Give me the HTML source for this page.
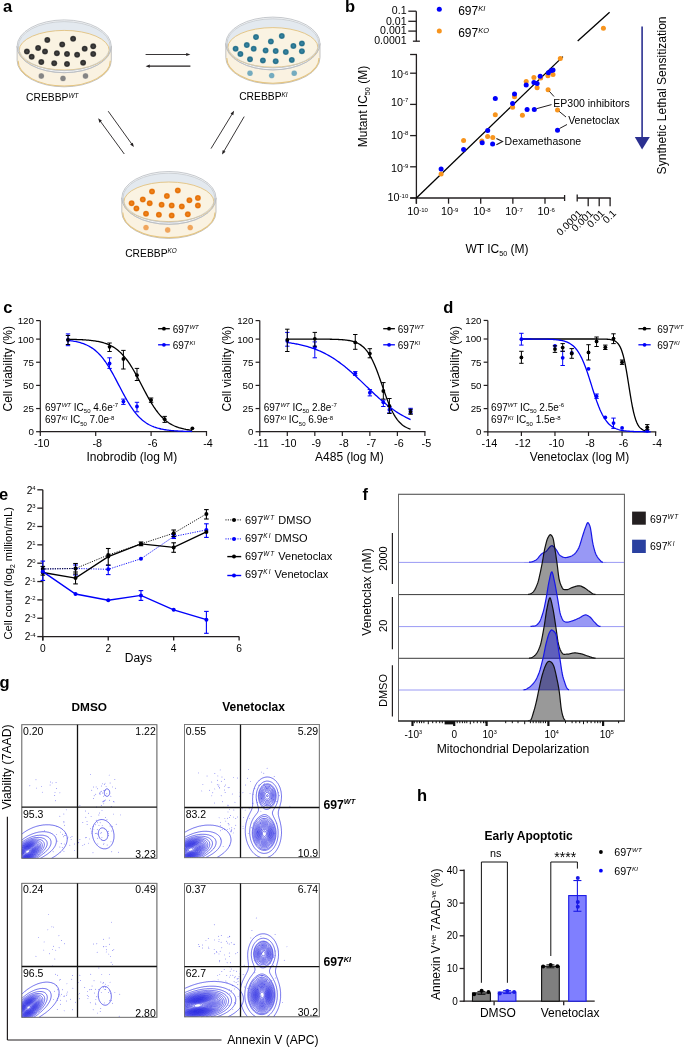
<!DOCTYPE html>
<html><head><meta charset="utf-8"><style>
html,body{margin:0;padding:0;background:#fff;}
svg{display:block;font-family:"Liberation Sans", sans-serif;will-change:transform;}
</style></head><body>
<svg width="685" height="1047" viewBox="0 0 685 1047">
<rect width="685" height="1047" fill="#fff"/>
<text x="2.9" y="11.8" font-size="16.5" font-weight="bold" fill="#000">a</text>
<g transform="translate(16.7,19.8)">
<defs><radialGradient id="gwt" cx="0.5" cy="0.5" r="0.5"><stop offset="0" stop-color="#4a4a4a"/><stop offset="0.7" stop-color="#2b2b2b"/><stop offset="1" stop-color="#2b2b2b" stop-opacity="0.75"/></radialGradient><radialGradient id="gwts" cx="0.5" cy="0.5" r="0.5"><stop offset="0" stop-color="#858585"/><stop offset="0.75" stop-color="#858585"/><stop offset="1" stop-color="#858585" stop-opacity="0.6"/></radialGradient></defs>
<path d="M0.4,26.5 L0.4,40.6 A47.1,26.4 0 0 0 94.6,40.6 L94.6,26.5 Z" fill="#faf2e1" stroke="#b4b4b4" stroke-width="0.8"/>
<path d="M1.4,41.0 A46.1,25.2 0 0 0 93.6,41.0" fill="none" stroke="#e5c581" stroke-width="1.1"/>
<circle cx="24.6" cy="56.2" r="2.9" fill="url(#gwts)"/>
<circle cx="46.3" cy="58.6" r="2.9" fill="url(#gwts)"/>
<circle cx="68.8" cy="56.2" r="2.9" fill="url(#gwts)"/>
<ellipse cx="47.5" cy="26.5" rx="47.1" ry="26.4" fill="#f3f5f7" stroke="#b9bdc2" stroke-width="0.8"/>
<ellipse cx="47.5" cy="26.3" rx="45.9" ry="24.5" fill="#e3e9ef" stroke="#c0c4c9" stroke-width="0.7"/>
<ellipse cx="47.5" cy="30.4" rx="45.0" ry="19.8" fill="#faf3e2" stroke="#e2c27f" stroke-width="0.9"/>
<circle cx="30.6" cy="20.1" r="3" fill="url(#gwt)"/>
<circle cx="56.4" cy="19" r="3" fill="url(#gwt)"/>
<circle cx="45.5" cy="24.6" r="3" fill="url(#gwt)"/>
<circle cx="21.4" cy="28.1" r="3" fill="url(#gwt)"/>
<circle cx="68" cy="28.9" r="3" fill="url(#gwt)"/>
<circle cx="76.5" cy="26.5" r="3" fill="url(#gwt)"/>
<circle cx="10.2" cy="31.8" r="3" fill="url(#gwt)"/>
<circle cx="28.3" cy="31.8" r="3" fill="url(#gwt)"/>
<circle cx="40.2" cy="33.4" r="3" fill="url(#gwt)"/>
<circle cx="50.3" cy="34.1" r="3" fill="url(#gwt)"/>
<circle cx="60.4" cy="35" r="3" fill="url(#gwt)"/>
<circle cx="76.5" cy="34.2" r="3" fill="url(#gwt)"/>
<circle cx="15" cy="37" r="3" fill="url(#gwt)"/>
<circle cx="24.6" cy="42.3" r="3" fill="url(#gwt)"/>
<circle cx="37.5" cy="43.4" r="3" fill="url(#gwt)"/>
<circle cx="50.3" cy="44.2" r="3" fill="url(#gwt)"/>
<circle cx="66.4" cy="42.9" r="3" fill="url(#gwt)"/>
<path d="M0.4,26.5 A47.1,26.4 0 0 0 94.6,26.5" fill="none" stroke="#b9bdc2" stroke-width="0.8"/>
<path d="M1.6,26.3 A45.9,24.5 0 0 0 93.4,26.3" fill="none" stroke="#c3c7cc" stroke-width="0.7"/>
</g>
<g transform="translate(225.4,17)">
<defs><radialGradient id="gki" cx="0.5" cy="0.5" r="0.5"><stop offset="0" stop-color="#3f8aa6"/><stop offset="0.7" stop-color="#226f8b"/><stop offset="1" stop-color="#226f8b" stop-opacity="0.75"/></radialGradient><radialGradient id="gkis" cx="0.5" cy="0.5" r="0.5"><stop offset="0" stop-color="#74abbf"/><stop offset="0.75" stop-color="#74abbf"/><stop offset="1" stop-color="#74abbf" stop-opacity="0.6"/></radialGradient></defs>
<path d="M0.4,26.5 L0.4,40.6 A47.1,26.4 0 0 0 94.6,40.6 L94.6,26.5 Z" fill="#faf2e1" stroke="#b4b4b4" stroke-width="0.8"/>
<path d="M1.4,41.0 A46.1,25.2 0 0 0 93.6,41.0" fill="none" stroke="#e5c581" stroke-width="1.1"/>
<circle cx="24.6" cy="56.2" r="2.9" fill="url(#gkis)"/>
<circle cx="46.3" cy="58.6" r="2.9" fill="url(#gkis)"/>
<circle cx="68.8" cy="56.2" r="2.9" fill="url(#gkis)"/>
<ellipse cx="47.5" cy="26.5" rx="47.1" ry="26.4" fill="#f3f5f7" stroke="#b9bdc2" stroke-width="0.8"/>
<ellipse cx="47.5" cy="26.3" rx="45.9" ry="24.5" fill="#e3e9ef" stroke="#c0c4c9" stroke-width="0.7"/>
<ellipse cx="47.5" cy="30.4" rx="45.0" ry="19.8" fill="#faf3e2" stroke="#e2c27f" stroke-width="0.9"/>
<circle cx="30.6" cy="20.1" r="3" fill="url(#gki)"/>
<circle cx="56.4" cy="19" r="3" fill="url(#gki)"/>
<circle cx="45.5" cy="24.6" r="3" fill="url(#gki)"/>
<circle cx="21.4" cy="28.1" r="3" fill="url(#gki)"/>
<circle cx="68" cy="28.9" r="3" fill="url(#gki)"/>
<circle cx="76.5" cy="26.5" r="3" fill="url(#gki)"/>
<circle cx="10.2" cy="31.8" r="3" fill="url(#gki)"/>
<circle cx="28.3" cy="31.8" r="3" fill="url(#gki)"/>
<circle cx="40.2" cy="33.4" r="3" fill="url(#gki)"/>
<circle cx="50.3" cy="34.1" r="3" fill="url(#gki)"/>
<circle cx="60.4" cy="35" r="3" fill="url(#gki)"/>
<circle cx="76.5" cy="34.2" r="3" fill="url(#gki)"/>
<circle cx="15" cy="37" r="3" fill="url(#gki)"/>
<circle cx="24.6" cy="42.3" r="3" fill="url(#gki)"/>
<circle cx="37.5" cy="43.4" r="3" fill="url(#gki)"/>
<circle cx="50.3" cy="44.2" r="3" fill="url(#gki)"/>
<circle cx="66.4" cy="42.9" r="3" fill="url(#gki)"/>
<path d="M0.4,26.5 A47.1,26.4 0 0 0 94.6,26.5" fill="none" stroke="#b9bdc2" stroke-width="0.8"/>
<path d="M1.6,26.3 A45.9,24.5 0 0 0 93.4,26.3" fill="none" stroke="#c3c7cc" stroke-width="0.7"/>
</g>
<g transform="translate(121.4,171.4)">
<defs><radialGradient id="gko" cx="0.5" cy="0.5" r="0.5"><stop offset="0" stop-color="#f08a25"/><stop offset="0.7" stop-color="#e56f05"/><stop offset="1" stop-color="#e56f05" stop-opacity="0.75"/></radialGradient><radialGradient id="gkos" cx="0.5" cy="0.5" r="0.5"><stop offset="0" stop-color="#f0a55c"/><stop offset="0.75" stop-color="#f0a55c"/><stop offset="1" stop-color="#f0a55c" stop-opacity="0.6"/></radialGradient></defs>
<path d="M0.4,26.5 L0.4,40.6 A47.1,26.4 0 0 0 94.6,40.6 L94.6,26.5 Z" fill="#faf2e1" stroke="#b4b4b4" stroke-width="0.8"/>
<path d="M1.4,41.0 A46.1,25.2 0 0 0 93.6,41.0" fill="none" stroke="#e5c581" stroke-width="1.1"/>
<circle cx="24.6" cy="56.2" r="2.9" fill="url(#gkos)"/>
<circle cx="46.3" cy="58.6" r="2.9" fill="url(#gkos)"/>
<circle cx="68.8" cy="56.2" r="2.9" fill="url(#gkos)"/>
<ellipse cx="47.5" cy="26.5" rx="47.1" ry="26.4" fill="#f3f5f7" stroke="#b9bdc2" stroke-width="0.8"/>
<ellipse cx="47.5" cy="26.3" rx="45.9" ry="24.5" fill="#e3e9ef" stroke="#c0c4c9" stroke-width="0.7"/>
<ellipse cx="47.5" cy="30.4" rx="45.0" ry="19.8" fill="#faf3e2" stroke="#e2c27f" stroke-width="0.9"/>
<circle cx="30.6" cy="20.1" r="3" fill="url(#gko)"/>
<circle cx="56.4" cy="19" r="3" fill="url(#gko)"/>
<circle cx="45.5" cy="24.6" r="3" fill="url(#gko)"/>
<circle cx="21.4" cy="28.1" r="3" fill="url(#gko)"/>
<circle cx="68" cy="28.9" r="3" fill="url(#gko)"/>
<circle cx="76.5" cy="26.5" r="3" fill="url(#gko)"/>
<circle cx="10.2" cy="31.8" r="3" fill="url(#gko)"/>
<circle cx="28.3" cy="31.8" r="3" fill="url(#gko)"/>
<circle cx="40.2" cy="33.4" r="3" fill="url(#gko)"/>
<circle cx="50.3" cy="34.1" r="3" fill="url(#gko)"/>
<circle cx="60.4" cy="35" r="3" fill="url(#gko)"/>
<circle cx="76.5" cy="34.2" r="3" fill="url(#gko)"/>
<circle cx="15" cy="37" r="3" fill="url(#gko)"/>
<circle cx="24.6" cy="42.3" r="3" fill="url(#gko)"/>
<circle cx="37.5" cy="43.4" r="3" fill="url(#gko)"/>
<circle cx="50.3" cy="44.2" r="3" fill="url(#gko)"/>
<circle cx="66.4" cy="42.9" r="3" fill="url(#gko)"/>
<path d="M0.4,26.5 A47.1,26.4 0 0 0 94.6,26.5" fill="none" stroke="#b9bdc2" stroke-width="0.8"/>
<path d="M1.6,26.3 A45.9,24.5 0 0 0 93.4,26.3" fill="none" stroke="#c3c7cc" stroke-width="0.7"/>
</g>
<text x="26.1" y="101.3" font-size="10.3"><tspan>CREBBP</tspan><tspan dy="-3.3" font-size="6.39" font-style="italic">WT</tspan></text>
<text x="239.2" y="99.8" font-size="10.3"><tspan>CREBBP</tspan><tspan dy="-3.3" font-size="6.39" font-style="italic">KI</tspan></text>
<text x="125.2" y="256.8" font-size="10.3"><tspan>CREBBP</tspan><tspan dy="-3.3" font-size="6.39" font-style="italic">KO</tspan></text>
<line x1="145.6" y1="54.5" x2="186.7" y2="54.5" stroke="#231f20" stroke-width="0.9"/>
<path d="M190.4,54.5 L186.2,56.1 L186.2,52.9 Z" fill="#231f20" stroke="none" stroke-width="1"/>
<line x1="190.4" y1="66.2" x2="149.3" y2="66.2" stroke="#231f20" stroke-width="1.2"/>
<path d="M145.6,66.2 L149.8,64.6 L149.8,67.8 Z" fill="#231f20" stroke="none" stroke-width="1"/>
<line x1="108.2" y1="111.2" x2="131.74" y2="143.99" stroke="#231f20" stroke-width="0.9"/>
<path d="M133.9,147 L130.15,144.52 L132.75,142.66 Z" fill="#231f20" stroke="none" stroke-width="1"/>
<line x1="124.3" y1="154" x2="100.38" y2="121.29" stroke="#231f20" stroke-width="0.9"/>
<path d="M98.2,118.3 L101.97,120.75 L99.39,122.63 Z" fill="#231f20" stroke="none" stroke-width="1"/>
<line x1="211" y1="148.6" x2="232.17" y2="113.96" stroke="#231f20" stroke-width="0.9"/>
<path d="M234.1,110.8 L233.28,115.22 L230.54,113.55 Z" fill="#231f20" stroke="none" stroke-width="1"/>
<line x1="244.2" y1="116.6" x2="223.87" y2="151.31" stroke="#231f20" stroke-width="0.9"/>
<path d="M222,154.5 L222.74,150.07 L225.5,151.68 Z" fill="#231f20" stroke="none" stroke-width="1"/>
<text x="345" y="11.8" font-size="16.5" font-weight="bold" fill="#000">b</text>
<line x1="416.4" y1="54.5" x2="416.4" y2="203.7" stroke="#231f20" stroke-width="1.3"/>
<line x1="410.2" y1="198" x2="564.6" y2="198" stroke="#231f20" stroke-width="1.3"/>
<line x1="410.1" y1="54.5" x2="417" y2="54.5" stroke="#231f20" stroke-width="1.3"/>
<line x1="410.1" y1="198" x2="416.4" y2="198" stroke="#231f20" stroke-width="1.3"/>
<text x="0" y="0" transform="translate(408.3 201) scale(1.03 1)" font-size="10.5" text-anchor="end"><tspan>10</tspan><tspan dy="-3.4" font-size="5.88">-10</tspan></text>
<line x1="416.4" y1="198" x2="416.4" y2="203.7" stroke="#231f20" stroke-width="1.3"/>
<text x="0" y="0" transform="translate(417.6 215.1) scale(1.03 1)" font-size="10.5" text-anchor="middle"><tspan>10</tspan><tspan dy="-3.4" font-size="5.88">-10</tspan></text>
<line x1="410.1" y1="166.8" x2="416.4" y2="166.8" stroke="#231f20" stroke-width="1.3"/>
<text x="0" y="0" transform="translate(408.3 171.6) scale(1.03 1)" font-size="10.5" text-anchor="end"><tspan>10</tspan><tspan dy="-3.4" font-size="5.88">-9</tspan></text>
<line x1="448.55" y1="198" x2="448.55" y2="203.7" stroke="#231f20" stroke-width="1.3"/>
<text x="0" y="0" transform="translate(449.75 215.1) scale(1.03 1)" font-size="10.5" text-anchor="middle"><tspan>10</tspan><tspan dy="-3.4" font-size="5.88">-9</tspan></text>
<line x1="410.1" y1="135.6" x2="416.4" y2="135.6" stroke="#231f20" stroke-width="1.3"/>
<text x="0" y="0" transform="translate(408.3 138.5) scale(1.03 1)" font-size="10.5" text-anchor="end"><tspan>10</tspan><tspan dy="-3.4" font-size="5.88">-8</tspan></text>
<line x1="480.7" y1="198" x2="480.7" y2="203.7" stroke="#231f20" stroke-width="1.3"/>
<text x="0" y="0" transform="translate(481.9 215.1) scale(1.03 1)" font-size="10.5" text-anchor="middle"><tspan>10</tspan><tspan dy="-3.4" font-size="5.88">-8</tspan></text>
<line x1="410.1" y1="104.4" x2="416.4" y2="104.4" stroke="#231f20" stroke-width="1.3"/>
<text x="0" y="0" transform="translate(408.3 105.6) scale(1.03 1)" font-size="10.5" text-anchor="end"><tspan>10</tspan><tspan dy="-3.4" font-size="5.88">-7</tspan></text>
<line x1="512.85" y1="198" x2="512.85" y2="203.7" stroke="#231f20" stroke-width="1.3"/>
<text x="0" y="0" transform="translate(514.05 215.1) scale(1.03 1)" font-size="10.5" text-anchor="middle"><tspan>10</tspan><tspan dy="-3.4" font-size="5.88">-7</tspan></text>
<line x1="410.1" y1="73.2" x2="416.4" y2="73.2" stroke="#231f20" stroke-width="1.3"/>
<text x="0" y="0" transform="translate(408.3 77.9) scale(1.03 1)" font-size="10.5" text-anchor="end"><tspan>10</tspan><tspan dy="-3.4" font-size="5.88">-6</tspan></text>
<line x1="545" y1="198" x2="545" y2="203.7" stroke="#231f20" stroke-width="1.3"/>
<text x="0" y="0" transform="translate(546.2 215.1) scale(1.03 1)" font-size="10.5" text-anchor="middle"><tspan>10</tspan><tspan dy="-3.4" font-size="5.88">-6</tspan></text>
<line x1="564.6" y1="195" x2="564.6" y2="201" stroke="#231f20" stroke-width="1.3"/>
<line x1="416.3" y1="11.2" x2="416.3" y2="41.2" stroke="#231f20" stroke-width="1.3"/>
<line x1="408.3" y1="11.2" x2="416.3" y2="11.2" stroke="#231f20" stroke-width="1.3"/>
<line x1="408.3" y1="21.3" x2="416.3" y2="21.3" stroke="#231f20" stroke-width="1.3"/>
<line x1="408.3" y1="31.1" x2="416.3" y2="31.1" stroke="#231f20" stroke-width="1.3"/>
<line x1="412.9" y1="41.2" x2="419.9" y2="41.2" stroke="#231f20" stroke-width="1.3"/>
<text x="0" y="0" transform="translate(406.6 14.4) scale(1.06 1)" font-size="10" text-anchor="end">0.1</text>
<text x="0" y="0" transform="translate(406.6 24.5) scale(1.06 1)" font-size="10" text-anchor="end">0.01</text>
<text x="0" y="0" transform="translate(406.6 34.3) scale(1.06 1)" font-size="10" text-anchor="end">0.001</text>
<text x="0" y="0" transform="translate(406.6 44.4) scale(1.06 1)" font-size="10" text-anchor="end">0.0001</text>
<line x1="577.2" y1="198" x2="610.7" y2="198" stroke="#231f20" stroke-width="1.3"/>
<line x1="577.2" y1="194.5" x2="577.2" y2="201.5" stroke="#231f20" stroke-width="1.3"/>
<line x1="588.2" y1="198" x2="588.2" y2="206.2" stroke="#231f20" stroke-width="1.3"/>
<line x1="599.2" y1="198" x2="599.2" y2="206.2" stroke="#231f20" stroke-width="1.3"/>
<line x1="610.1" y1="198" x2="610.1" y2="206.2" stroke="#231f20" stroke-width="1.3"/>
<text x="0" y="0" transform="translate(582.7 214) rotate(-45) scale(1.03 1)" font-size="10" text-anchor="end">0.0001</text>
<text x="0" y="0" transform="translate(593.7 214) rotate(-45) scale(1.03 1)" font-size="10" text-anchor="end">0.001</text>
<text x="0" y="0" transform="translate(605.1 214) rotate(-45) scale(1.03 1)" font-size="10" text-anchor="end">0.01</text>
<text x="0" y="0" transform="translate(616.8 214) rotate(-45) scale(1.03 1)" font-size="10" text-anchor="end">0.1</text>
<line x1="416.4" y1="198" x2="562.9" y2="56.6" stroke="#000" stroke-width="1.3"/>
<line x1="577.7" y1="41.1" x2="609.6" y2="12.2" stroke="#000" stroke-width="1.3"/>
<circle cx="441.1" cy="173.9" r="2.5" fill="#f7941d"/>
<circle cx="463.6" cy="140.5" r="2.5" fill="#f7941d"/>
<circle cx="481.8" cy="141" r="2.5" fill="#f7941d"/>
<circle cx="487.6" cy="136.5" r="2.5" fill="#f7941d"/>
<circle cx="492.8" cy="137.4" r="2.5" fill="#f7941d"/>
<circle cx="495.3" cy="114.8" r="2.5" fill="#f7941d"/>
<circle cx="512.6" cy="107.3" r="2.5" fill="#f7941d"/>
<circle cx="514.5" cy="96.8" r="2.5" fill="#f7941d"/>
<circle cx="522.4" cy="115.2" r="2.5" fill="#f7941d"/>
<circle cx="526.2" cy="81.4" r="2.5" fill="#f7941d"/>
<circle cx="533.9" cy="77.4" r="2.5" fill="#f7941d"/>
<circle cx="537.1" cy="87.7" r="2.5" fill="#f7941d"/>
<circle cx="540.7" cy="78.1" r="2.5" fill="#f7941d"/>
<circle cx="547.9" cy="75.7" r="2.5" fill="#f7941d"/>
<circle cx="553" cy="74.6" r="2.5" fill="#f7941d"/>
<circle cx="548.1" cy="89.8" r="2.5" fill="#f7941d"/>
<circle cx="560.3" cy="58.4" r="2.5" fill="#f7941d"/>
<circle cx="557.5" cy="110" r="2.5" fill="#f7941d"/>
<circle cx="603.4" cy="28.3" r="2.5" fill="#f7941d"/>
<circle cx="441.1" cy="168.9" r="2.5" fill="#0000fa"/>
<circle cx="463.6" cy="149.5" r="2.5" fill="#0000fa"/>
<circle cx="482.2" cy="142.7" r="2.5" fill="#0000fa"/>
<circle cx="492.6" cy="144.1" r="2.5" fill="#0000fa"/>
<circle cx="487.7" cy="130.4" r="2.5" fill="#0000fa"/>
<circle cx="495.3" cy="98.6" r="2.5" fill="#0000fa"/>
<circle cx="514.5" cy="94" r="2.5" fill="#0000fa"/>
<circle cx="512.6" cy="103.6" r="2.5" fill="#0000fa"/>
<circle cx="527.1" cy="109.4" r="2.5" fill="#0000fa"/>
<circle cx="534.3" cy="109.4" r="2.5" fill="#0000fa"/>
<circle cx="526.2" cy="84.9" r="2.5" fill="#0000fa"/>
<circle cx="533.9" cy="82.5" r="2.5" fill="#0000fa"/>
<circle cx="537.1" cy="83.4" r="2.5" fill="#0000fa"/>
<circle cx="540.2" cy="76.2" r="2.5" fill="#0000fa"/>
<circle cx="548.4" cy="72.7" r="2.5" fill="#0000fa"/>
<circle cx="551.4" cy="70.4" r="2.5" fill="#0000fa"/>
<circle cx="553" cy="70" r="2.5" fill="#0000fa"/>
<circle cx="557.5" cy="130.2" r="2.5" fill="#0000fa"/>
<text x="553.3" y="106.5" font-size="10.5">EP300 inhibitors</text>
<text x="568.2" y="124.4" font-size="10.5">Venetoclax</text>
<path d="M496.4,138.4 L502.6,141.5 L496.4,144.7" fill="none" stroke="#231f20" stroke-width="1.1"/>
<text x="504.6" y="144.7" font-size="10.5">Dexamethasone</text>
<line x1="536.5" y1="108.7" x2="551.5" y2="104.6" stroke="#231f20" stroke-width="1"/>
<line x1="549.5" y1="91.5" x2="554" y2="96.5" stroke="#231f20" stroke-width="1"/>
<line x1="559.3" y1="111.5" x2="566" y2="117" stroke="#231f20" stroke-width="1"/>
<line x1="559.5" y1="128.5" x2="567" y2="124.5" stroke="#231f20" stroke-width="1"/>
<circle cx="439.3" cy="9.2" r="2.5" fill="#0000fa"/>
<circle cx="439.3" cy="31" r="2.5" fill="#f7941d"/>
<text x="458.2" y="15" font-size="12"><tspan>697</tspan><tspan dy="-4.2" font-size="7.44" font-style="italic">KI</tspan></text>
<text x="458.2" y="36.8" font-size="12"><tspan>697</tspan><tspan dy="-4.2" font-size="7.44" font-style="italic">KO</tspan></text>
<text x="0" y="0" transform="translate(367.2 106.5) rotate(-90)" font-size="12" text-anchor="middle"><tspan>Mutant IC</tspan><tspan dy="2.5" font-size="7.2">50</tspan><tspan dy="-2.5"> (M)</tspan></text>
<text x="465.4" y="253" font-size="12"><tspan>WT IC</tspan><tspan dy="2.5" font-size="7.2">50</tspan><tspan dy="-2.5"> (M)</tspan></text>
<line x1="642.1" y1="26.5" x2="642.1" y2="138" stroke="#2b3090" stroke-width="1.6"/>
<path d="M634.8,136.9 L649.8,136.9 L642.1,149.6 Z" fill="#2b3090" stroke="none" stroke-width="1"/>
<text x="0" y="0" transform="translate(666 95.4) rotate(-90)" font-size="12.1" text-anchor="middle">Synthetic Lethal Sensitization</text>
<text x="3.3" y="313" font-size="16.5" font-weight="bold" fill="#000">c</text>
<line x1="40.3" y1="320.4" x2="40.3" y2="432.3" stroke="#231f20" stroke-width="1.2"/>
<line x1="39.7" y1="431.7" x2="207.1" y2="431.7" stroke="#231f20" stroke-width="1.2"/>
<line x1="36.1" y1="431.7" x2="40.3" y2="431.7" stroke="#231f20" stroke-width="1.2"/>
<text x="0" y="0" transform="translate(34 435.1) scale(1.02 1)" font-size="9.6" text-anchor="end">0</text>
<line x1="36.1" y1="408.55" x2="40.3" y2="408.55" stroke="#231f20" stroke-width="1.2"/>
<text x="0" y="0" transform="translate(34 411.95) scale(1.02 1)" font-size="9.6" text-anchor="end">25</text>
<line x1="36.1" y1="385.4" x2="40.3" y2="385.4" stroke="#231f20" stroke-width="1.2"/>
<text x="0" y="0" transform="translate(34 388.8) scale(1.02 1)" font-size="9.6" text-anchor="end">50</text>
<line x1="36.1" y1="362.25" x2="40.3" y2="362.25" stroke="#231f20" stroke-width="1.2"/>
<text x="0" y="0" transform="translate(34 365.65) scale(1.02 1)" font-size="9.6" text-anchor="end">75</text>
<line x1="36.1" y1="339.1" x2="40.3" y2="339.1" stroke="#231f20" stroke-width="1.2"/>
<text x="0" y="0" transform="translate(34 342.5) scale(1.02 1)" font-size="9.6" text-anchor="end">100</text>
<line x1="36.1" y1="320.58" x2="40.3" y2="320.58" stroke="#231f20" stroke-width="1.2"/>
<text x="0" y="0" transform="translate(34 323.98) scale(1.02 1)" font-size="9.6" text-anchor="end">120</text>
<line x1="40.3" y1="431.7" x2="40.3" y2="435.9" stroke="#231f20" stroke-width="1.2"/>
<text x="41.8" y="447.2" font-size="10.8" text-anchor="middle">-10</text>
<line x1="95.7" y1="431.7" x2="95.7" y2="435.9" stroke="#231f20" stroke-width="1.2"/>
<text x="97.2" y="447.2" font-size="10.8" text-anchor="middle">-8</text>
<line x1="151.1" y1="431.7" x2="151.1" y2="435.9" stroke="#231f20" stroke-width="1.2"/>
<text x="152.6" y="447.2" font-size="10.8" text-anchor="middle">-6</text>
<line x1="206.5" y1="431.7" x2="206.5" y2="435.9" stroke="#231f20" stroke-width="1.2"/>
<text x="208" y="447.2" font-size="10.8" text-anchor="middle">-4</text>
<text x="131.8" y="460.5" font-size="12" text-anchor="middle">Inobrodib (log M)</text>
<text x="0" y="0" transform="translate(11.7 368.8) rotate(-90)" font-size="12" text-anchor="middle">Cell viability (%)</text>
<path d="M68,339.3 L69.03,339.32 L70.07,339.34 L71.1,339.36 L72.14,339.38 L73.17,339.41 L74.2,339.44 L75.24,339.47 L76.27,339.5 L77.31,339.53 L78.34,339.57 L79.38,339.62 L80.41,339.66 L81.44,339.71 L82.48,339.77 L83.51,339.82 L84.55,339.89 L85.58,339.96 L86.61,340.04 L87.65,340.12 L88.68,340.21 L89.72,340.31 L90.75,340.41 L91.79,340.53 L92.82,340.66 L93.85,340.79 L94.89,340.94 L95.92,341.1 L96.96,341.28 L97.99,341.47 L99.02,341.68 L100.06,341.9 L101.09,342.15 L102.13,342.41 L103.16,342.7 L104.19,343 L105.23,343.34 L106.26,343.7 L107.3,344.09 L108.33,344.51 L109.37,344.97 L110.4,345.46 L111.43,345.99 L112.47,346.56 L113.5,347.17 L114.54,347.82 L115.57,348.53 L116.6,349.28 L117.64,350.08 L118.67,350.94 L119.71,351.86 L120.74,352.84 L121.77,353.87 L122.81,354.97 L123.84,356.13 L124.88,357.36 L125.91,358.65 L126.95,360.01 L127.98,361.44 L129.01,362.93 L130.05,364.48 L131.08,366.09 L132.12,367.77 L133.15,369.5 L134.18,371.28 L135.22,373.1 L136.25,374.97 L137.29,376.88 L138.32,378.82 L139.36,380.78 L140.39,382.76 L141.42,384.74 L142.46,386.73 L143.49,388.72 L144.53,390.69 L145.56,392.64 L146.59,394.57 L147.63,396.46 L148.66,398.32 L149.7,400.13 L150.73,401.9 L151.76,403.61 L152.8,405.26 L153.83,406.85 L154.87,408.38 L155.9,409.85 L156.94,411.25 L157.97,412.59 L159,413.86 L160.04,415.07 L161.07,416.21 L162.11,417.29 L163.14,418.3 L164.17,419.26 L165.21,420.15 L166.24,420.99 L167.28,421.78 L168.31,422.52 L169.35,423.21 L170.38,423.85 L171.41,424.44 L172.45,425 L173.48,425.51 L174.52,425.99 L175.55,426.43 L176.58,426.84 L177.62,427.23 L178.65,427.58 L179.69,427.9 L180.72,428.2 L181.75,428.48 L182.79,428.74 L183.82,428.98 L184.86,429.19 L185.89,429.4 L186.93,429.58 L187.96,429.75 L188.99,429.91 L190.03,430.05 L191.06,430.19 L192.1,430.31" fill="none" stroke="#000" stroke-width="1.3"/>
<path d="M68,340.42 L69.03,340.54 L70.07,340.66 L71.1,340.8 L72.14,340.95 L73.17,341.11 L74.2,341.29 L75.24,341.48 L76.27,341.69 L77.31,341.91 L78.34,342.16 L79.38,342.42 L80.41,342.71 L81.44,343.02 L82.48,343.35 L83.51,343.72 L84.55,344.11 L85.58,344.53 L86.61,344.99 L87.65,345.48 L88.68,346.01 L89.72,346.58 L90.75,347.19 L91.79,347.85 L92.82,348.56 L93.85,349.31 L94.89,350.12 L95.92,350.98 L96.96,351.9 L97.99,352.88 L99.02,353.92 L100.06,355.02 L101.09,356.19 L102.13,357.42 L103.16,358.71 L104.19,360.08 L105.23,361.5 L106.26,363 L107.3,364.55 L108.33,366.17 L109.37,367.84 L110.4,369.57 L111.43,371.36 L112.47,373.19 L113.5,375.06 L114.54,376.97 L115.57,378.9 L116.6,380.87 L117.64,382.84 L118.67,384.83 L119.71,386.82 L120.74,388.81 L121.77,390.78 L122.81,392.73 L123.84,394.66 L124.88,396.55 L125.91,398.4 L126.95,400.21 L127.98,401.97 L129.01,403.68 L130.05,405.33 L131.08,406.92 L132.12,408.45 L133.15,409.92 L134.18,411.32 L135.22,412.65 L136.25,413.92 L137.29,415.12 L138.32,416.26 L139.36,417.33 L140.39,418.35 L141.42,419.3 L142.46,420.19 L143.49,421.03 L144.53,421.82 L145.56,422.55 L146.59,423.23 L147.63,423.87 L148.66,424.47 L149.7,425.02 L150.73,425.53 L151.76,426.01 L152.8,426.45 L153.83,426.86 L154.87,427.24 L155.9,427.59 L156.94,427.92 L157.97,428.22 L159,428.49 L160.04,428.75 L161.07,428.99 L162.11,429.2 L163.14,429.4 L164.17,429.59 L165.21,429.76 L166.24,429.92 L167.28,430.06 L168.31,430.19 L169.35,430.32 L170.38,430.43 L171.41,430.53 L172.45,430.63 L173.48,430.71 L174.52,430.79 L175.55,430.87 L176.58,430.94 L177.62,431 L178.65,431.06 L179.69,431.11 L180.72,431.16 L181.75,431.2 L182.79,431.24 L183.82,431.28 L184.86,431.31 L185.89,431.35 L186.93,431.38 L187.96,431.4 L188.99,431.43 L190.03,431.45 L191.06,431.47 L192.1,431.49" fill="none" stroke="#0000fa" stroke-width="1.3"/>
<line x1="68" y1="333.9" x2="68" y2="345.7" stroke="#0000fa" stroke-width="1"/>
<line x1="65.8" y1="333.9" x2="70.2" y2="333.9" stroke="#0000fa" stroke-width="1"/>
<line x1="65.8" y1="345.7" x2="70.2" y2="345.7" stroke="#0000fa" stroke-width="1"/>
<circle cx="68" cy="339.8" r="1.9" fill="#0000fa"/>
<line x1="109.55" y1="357.8" x2="109.55" y2="368.4" stroke="#0000fa" stroke-width="1"/>
<line x1="107.35" y1="357.8" x2="111.75" y2="357.8" stroke="#0000fa" stroke-width="1"/>
<line x1="107.35" y1="368.4" x2="111.75" y2="368.4" stroke="#0000fa" stroke-width="1"/>
<circle cx="109.55" cy="363.5" r="1.9" fill="#0000fa"/>
<line x1="123.4" y1="399.1" x2="123.4" y2="404.4" stroke="#0000fa" stroke-width="1"/>
<line x1="121.2" y1="399.1" x2="125.6" y2="399.1" stroke="#0000fa" stroke-width="1"/>
<line x1="121.2" y1="404.4" x2="125.6" y2="404.4" stroke="#0000fa" stroke-width="1"/>
<circle cx="123.4" cy="401.6" r="1.9" fill="#0000fa"/>
<line x1="136.97" y1="402.3" x2="136.97" y2="411.8" stroke="#0000fa" stroke-width="1"/>
<line x1="134.77" y1="402.3" x2="139.17" y2="402.3" stroke="#0000fa" stroke-width="1"/>
<line x1="134.77" y1="411.8" x2="139.17" y2="411.8" stroke="#0000fa" stroke-width="1"/>
<circle cx="136.97" cy="406.5" r="1.9" fill="#0000fa"/>
<line x1="68" y1="335.5" x2="68" y2="344.5" stroke="#000" stroke-width="1"/>
<line x1="65.8" y1="335.5" x2="70.2" y2="335.5" stroke="#000" stroke-width="1"/>
<line x1="65.8" y1="344.5" x2="70.2" y2="344.5" stroke="#000" stroke-width="1"/>
<circle cx="68" cy="339.8" r="1.9" fill="#000"/>
<line x1="109.55" y1="343" x2="109.55" y2="351.5" stroke="#000" stroke-width="1"/>
<line x1="107.35" y1="343" x2="111.75" y2="343" stroke="#000" stroke-width="1"/>
<line x1="107.35" y1="351.5" x2="111.75" y2="351.5" stroke="#000" stroke-width="1"/>
<circle cx="109.55" cy="346.8" r="1.9" fill="#000"/>
<line x1="123.4" y1="350.4" x2="123.4" y2="369" stroke="#000" stroke-width="1"/>
<line x1="121.2" y1="350.4" x2="125.6" y2="350.4" stroke="#000" stroke-width="1"/>
<line x1="121.2" y1="369" x2="125.6" y2="369" stroke="#000" stroke-width="1"/>
<circle cx="123.4" cy="358.9" r="1.9" fill="#000"/>
<line x1="136.97" y1="368.4" x2="136.97" y2="380.5" stroke="#000" stroke-width="1"/>
<line x1="134.77" y1="368.4" x2="139.17" y2="368.4" stroke="#000" stroke-width="1"/>
<line x1="134.77" y1="380.5" x2="139.17" y2="380.5" stroke="#000" stroke-width="1"/>
<circle cx="136.97" cy="375.2" r="1.9" fill="#000"/>
<line x1="151.1" y1="398" x2="151.1" y2="402.3" stroke="#000" stroke-width="1"/>
<line x1="148.9" y1="398" x2="153.3" y2="398" stroke="#000" stroke-width="1"/>
<line x1="148.9" y1="402.3" x2="153.3" y2="402.3" stroke="#000" stroke-width="1"/>
<circle cx="151.1" cy="400.1" r="1.9" fill="#000"/>
<line x1="164.67" y1="416.4" x2="164.67" y2="422.4" stroke="#000" stroke-width="1"/>
<line x1="162.47" y1="416.4" x2="166.87" y2="416.4" stroke="#000" stroke-width="1"/>
<line x1="162.47" y1="422.4" x2="166.87" y2="422.4" stroke="#000" stroke-width="1"/>
<circle cx="164.67" cy="419.2" r="1.9" fill="#000"/>
<circle cx="192.37" cy="428.3" r="1.9" fill="#000"/>
<line x1="158.1" y1="328.7" x2="169.8" y2="328.7" stroke="#000" stroke-width="1.3"/>
<circle cx="163.95" cy="328.7" r="1.9" fill="#000"/>
<text x="172.7" y="332.5" font-size="10"><tspan>697</tspan><tspan dy="-3.6" font-size="6" font-style="italic">WT</tspan></text>
<line x1="158.1" y1="344.8" x2="169.8" y2="344.8" stroke="#0000fa" stroke-width="1.3"/>
<circle cx="163.95" cy="344.8" r="1.9" fill="#0000fa"/>
<text x="172.7" y="348.6" font-size="10"><tspan>697</tspan><tspan dy="-3.6" font-size="6" font-style="italic">KI</tspan></text>
<text x="45" y="410.5" font-size="10"><tspan>697</tspan><tspan dy="-3.6" font-size="6" font-style="italic">WT</tspan><tspan dy="3.6"> IC</tspan><tspan dy="2.8" font-size="6">50</tspan><tspan dy="-2.8"> 4.6e</tspan><tspan dy="-3.6" font-size="6">-7</tspan></text>
<text x="45" y="423.2" font-size="10"><tspan>697</tspan><tspan dy="-3.6" font-size="6" font-style="italic">KI</tspan><tspan dy="3.6"> IC</tspan><tspan dy="2.8" font-size="6">50</tspan><tspan dy="-2.8"> 7.0e</tspan><tspan dy="-3.6" font-size="6">-8</tspan></text>
<line x1="259.78" y1="320.4" x2="259.78" y2="432.3" stroke="#231f20" stroke-width="1.2"/>
<line x1="259.18" y1="431.7" x2="425.5" y2="431.7" stroke="#231f20" stroke-width="1.2"/>
<line x1="255.58" y1="431.7" x2="259.78" y2="431.7" stroke="#231f20" stroke-width="1.2"/>
<text x="0" y="0" transform="translate(253.48 435.1) scale(1.02 1)" font-size="9.6" text-anchor="end">0</text>
<line x1="255.58" y1="408.55" x2="259.78" y2="408.55" stroke="#231f20" stroke-width="1.2"/>
<text x="0" y="0" transform="translate(253.48 411.95) scale(1.02 1)" font-size="9.6" text-anchor="end">25</text>
<line x1="255.58" y1="385.4" x2="259.78" y2="385.4" stroke="#231f20" stroke-width="1.2"/>
<text x="0" y="0" transform="translate(253.48 388.8) scale(1.02 1)" font-size="9.6" text-anchor="end">50</text>
<line x1="255.58" y1="362.25" x2="259.78" y2="362.25" stroke="#231f20" stroke-width="1.2"/>
<text x="0" y="0" transform="translate(253.48 365.65) scale(1.02 1)" font-size="9.6" text-anchor="end">75</text>
<line x1="255.58" y1="339.1" x2="259.78" y2="339.1" stroke="#231f20" stroke-width="1.2"/>
<text x="0" y="0" transform="translate(253.48 342.5) scale(1.02 1)" font-size="9.6" text-anchor="end">100</text>
<line x1="255.58" y1="320.58" x2="259.78" y2="320.58" stroke="#231f20" stroke-width="1.2"/>
<text x="0" y="0" transform="translate(253.48 323.98) scale(1.02 1)" font-size="9.6" text-anchor="end">120</text>
<line x1="259.78" y1="431.7" x2="259.78" y2="435.9" stroke="#231f20" stroke-width="1.2"/>
<text x="261.28" y="447.2" font-size="10.8" text-anchor="middle">-11</text>
<line x1="287.3" y1="431.7" x2="287.3" y2="435.9" stroke="#231f20" stroke-width="1.2"/>
<text x="288.8" y="447.2" font-size="10.8" text-anchor="middle">-10</text>
<line x1="314.82" y1="431.7" x2="314.82" y2="435.9" stroke="#231f20" stroke-width="1.2"/>
<text x="316.32" y="447.2" font-size="10.8" text-anchor="middle">-9</text>
<line x1="342.34" y1="431.7" x2="342.34" y2="435.9" stroke="#231f20" stroke-width="1.2"/>
<text x="343.84" y="447.2" font-size="10.8" text-anchor="middle">-8</text>
<line x1="369.86" y1="431.7" x2="369.86" y2="435.9" stroke="#231f20" stroke-width="1.2"/>
<text x="371.36" y="447.2" font-size="10.8" text-anchor="middle">-7</text>
<line x1="397.38" y1="431.7" x2="397.38" y2="435.9" stroke="#231f20" stroke-width="1.2"/>
<text x="398.88" y="447.2" font-size="10.8" text-anchor="middle">-6</text>
<line x1="424.9" y1="431.7" x2="424.9" y2="435.9" stroke="#231f20" stroke-width="1.2"/>
<text x="426.4" y="447.2" font-size="10.8" text-anchor="middle">-5</text>
<text x="349.4" y="460.5" font-size="12" text-anchor="middle">A485 (log M)</text>
<text x="0" y="0" transform="translate(231.4 368.8) rotate(-90)" font-size="12" text-anchor="middle">Cell viability (%)</text>
<path d="M287.3,339.1 L288.33,339.1 L289.35,339.1 L290.38,339.1 L291.41,339.1 L292.44,339.1 L293.46,339.1 L294.49,339.1 L295.52,339.1 L296.55,339.1 L297.57,339.1 L298.6,339.1 L299.63,339.1 L300.66,339.1 L301.68,339.1 L302.71,339.1 L303.74,339.1 L304.77,339.11 L305.79,339.11 L306.82,339.11 L307.85,339.11 L308.88,339.11 L309.9,339.11 L310.93,339.11 L311.96,339.11 L312.99,339.12 L314.01,339.12 L315.04,339.12 L316.07,339.12 L317.09,339.13 L318.12,339.13 L319.15,339.13 L320.18,339.14 L321.2,339.14 L322.23,339.15 L323.26,339.16 L324.29,339.16 L325.31,339.17 L326.34,339.18 L327.37,339.2 L328.4,339.21 L329.42,339.22 L330.45,339.24 L331.48,339.26 L332.51,339.28 L333.53,339.31 L334.56,339.33 L335.59,339.37 L336.62,339.4 L337.64,339.45 L338.67,339.49 L339.7,339.55 L340.73,339.61 L341.75,339.68 L342.78,339.76 L343.81,339.85 L344.84,339.95 L345.86,340.06 L346.89,340.19 L347.92,340.34 L348.94,340.51 L349.97,340.7 L351,340.92 L352.03,341.16 L353.05,341.44 L354.08,341.75 L355.11,342.1 L356.14,342.5 L357.16,342.95 L358.19,343.46 L359.22,344.02 L360.25,344.66 L361.27,345.38 L362.3,346.17 L363.33,347.06 L364.36,348.05 L365.38,349.15 L366.41,350.37 L367.44,351.71 L368.47,353.18 L369.49,354.79 L370.52,356.54 L371.55,358.44 L372.58,360.48 L373.6,362.68 L374.63,365.01 L375.66,367.49 L376.68,370.09 L377.71,372.8 L378.74,375.61 L379.77,378.5 L380.79,381.44 L381.82,384.41 L382.85,387.4 L383.88,390.36 L384.9,393.29 L385.93,396.15 L386.96,398.93 L387.99,401.61 L389.01,404.17 L390.04,406.59 L391.07,408.88 L392.1,411.03 L393.12,413.02 L394.15,414.87 L395.18,416.58 L396.21,418.14 L397.23,419.56 L398.26,420.86 L399.29,422.03 L400.32,423.09 L401.34,424.05 L402.37,424.91 L403.4,425.68 L404.43,426.36 L405.45,426.98 L406.48,427.52 L407.51,428.01 L408.53,428.44 L409.56,428.82 L410.59,429.16" fill="none" stroke="#000" stroke-width="1.3"/>
<path d="M287.3,342.5 L288.33,342.64 L289.35,342.79 L290.38,342.94 L291.41,343.1 L292.44,343.27 L293.46,343.45 L294.49,343.63 L295.52,343.82 L296.55,344.01 L297.57,344.22 L298.6,344.43 L299.63,344.65 L300.66,344.88 L301.68,345.12 L302.71,345.36 L303.74,345.62 L304.77,345.88 L305.79,346.16 L306.82,346.44 L307.85,346.74 L308.88,347.05 L309.9,347.36 L310.93,347.69 L311.96,348.03 L312.99,348.39 L314.01,348.75 L315.04,349.13 L316.07,349.52 L317.09,349.93 L318.12,350.34 L319.15,350.77 L320.18,351.22 L321.2,351.68 L322.23,352.16 L323.26,352.64 L324.29,353.15 L325.31,353.67 L326.34,354.2 L327.37,354.76 L328.4,355.32 L329.42,355.91 L330.45,356.51 L331.48,357.12 L332.51,357.75 L333.53,358.4 L334.56,359.07 L335.59,359.75 L336.62,360.45 L337.64,361.16 L338.67,361.89 L339.7,362.64 L340.73,363.4 L341.75,364.18 L342.78,364.97 L343.81,365.78 L344.84,366.6 L345.86,367.44 L346.89,368.29 L347.92,369.16 L348.94,370.04 L349.97,370.93 L351,371.83 L352.03,372.75 L353.05,373.68 L354.08,374.61 L355.11,375.56 L356.14,376.51 L357.16,377.47 L358.19,378.44 L359.22,379.42 L360.25,380.4 L361.27,381.39 L362.3,382.37 L363.33,383.37 L364.36,384.36 L365.38,385.36 L366.41,386.35 L367.44,387.34 L368.47,388.34 L369.49,389.33 L370.52,390.31 L371.55,391.29 L372.58,392.27 L373.6,393.24 L374.63,394.2 L375.66,395.16 L376.68,396.1 L377.71,397.04 L378.74,397.97 L379.77,398.88 L380.79,399.79 L381.82,400.68 L382.85,401.56 L383.88,402.43 L384.9,403.28 L385.93,404.12 L386.96,404.95 L387.99,405.76 L389.01,406.55 L390.04,407.33 L391.07,408.1 L392.1,408.84 L393.12,409.58 L394.15,410.29 L395.18,410.99 L396.21,411.67 L397.23,412.34 L398.26,412.99 L399.29,413.62 L400.32,414.24 L401.34,414.84 L402.37,415.43 L403.4,415.99 L404.43,416.55 L405.45,417.08 L406.48,417.61 L407.51,418.11 L408.53,418.6 L409.56,419.08 L410.59,419.54" fill="none" stroke="#0000fa" stroke-width="1.3"/>
<line x1="287.3" y1="332.4" x2="287.3" y2="346.2" stroke="#0000fa" stroke-width="1"/>
<line x1="285.1" y1="332.4" x2="289.5" y2="332.4" stroke="#0000fa" stroke-width="1"/>
<line x1="285.1" y1="346.2" x2="289.5" y2="346.2" stroke="#0000fa" stroke-width="1"/>
<circle cx="287.3" cy="340.9" r="1.9" fill="#0000fa"/>
<line x1="314.82" y1="341.9" x2="314.82" y2="357.8" stroke="#0000fa" stroke-width="1"/>
<line x1="312.62" y1="341.9" x2="317.02" y2="341.9" stroke="#0000fa" stroke-width="1"/>
<line x1="312.62" y1="357.8" x2="317.02" y2="357.8" stroke="#0000fa" stroke-width="1"/>
<circle cx="314.82" cy="347.2" r="1.9" fill="#0000fa"/>
<line x1="355.27" y1="371.6" x2="355.27" y2="375.4" stroke="#0000fa" stroke-width="1"/>
<line x1="353.07" y1="371.6" x2="357.47" y2="371.6" stroke="#0000fa" stroke-width="1"/>
<line x1="353.07" y1="375.4" x2="357.47" y2="375.4" stroke="#0000fa" stroke-width="1"/>
<circle cx="355.27" cy="373.3" r="1.9" fill="#0000fa"/>
<line x1="369.86" y1="389.6" x2="369.86" y2="395.9" stroke="#0000fa" stroke-width="1"/>
<line x1="367.66" y1="389.6" x2="372.06" y2="389.6" stroke="#0000fa" stroke-width="1"/>
<line x1="367.66" y1="395.9" x2="372.06" y2="395.9" stroke="#0000fa" stroke-width="1"/>
<circle cx="369.86" cy="392.7" r="1.9" fill="#0000fa"/>
<line x1="383.34" y1="400.1" x2="383.34" y2="406.5" stroke="#0000fa" stroke-width="1"/>
<line x1="381.14" y1="400.1" x2="385.54" y2="400.1" stroke="#0000fa" stroke-width="1"/>
<line x1="381.14" y1="406.5" x2="385.54" y2="406.5" stroke="#0000fa" stroke-width="1"/>
<circle cx="383.34" cy="402.3" r="1.9" fill="#0000fa"/>
<line x1="389.4" y1="406.5" x2="389.4" y2="412.8" stroke="#0000fa" stroke-width="1"/>
<line x1="387.2" y1="406.5" x2="391.6" y2="406.5" stroke="#0000fa" stroke-width="1"/>
<line x1="387.2" y1="412.8" x2="391.6" y2="412.8" stroke="#0000fa" stroke-width="1"/>
<circle cx="389.4" cy="409.7" r="1.9" fill="#0000fa"/>
<line x1="410.59" y1="408.3" x2="410.59" y2="413.3" stroke="#0000fa" stroke-width="1"/>
<line x1="408.39" y1="408.3" x2="412.79" y2="408.3" stroke="#0000fa" stroke-width="1"/>
<line x1="408.39" y1="413.3" x2="412.79" y2="413.3" stroke="#0000fa" stroke-width="1"/>
<circle cx="410.59" cy="410.7" r="1.9" fill="#0000fa"/>
<line x1="287.3" y1="329.2" x2="287.3" y2="351.5" stroke="#000" stroke-width="1"/>
<line x1="285.1" y1="329.2" x2="289.5" y2="329.2" stroke="#000" stroke-width="1"/>
<line x1="285.1" y1="351.5" x2="289.5" y2="351.5" stroke="#000" stroke-width="1"/>
<circle cx="287.3" cy="339.8" r="1.9" fill="#000"/>
<line x1="314.82" y1="332.4" x2="314.82" y2="346.2" stroke="#000" stroke-width="1"/>
<line x1="312.62" y1="332.4" x2="317.02" y2="332.4" stroke="#000" stroke-width="1"/>
<line x1="312.62" y1="346.2" x2="317.02" y2="346.2" stroke="#000" stroke-width="1"/>
<circle cx="314.82" cy="338.8" r="1.9" fill="#000"/>
<line x1="355.27" y1="334.5" x2="355.27" y2="349.3" stroke="#000" stroke-width="1"/>
<line x1="353.07" y1="334.5" x2="357.47" y2="334.5" stroke="#000" stroke-width="1"/>
<line x1="353.07" y1="349.3" x2="357.47" y2="349.3" stroke="#000" stroke-width="1"/>
<circle cx="355.27" cy="342.4" r="1.9" fill="#000"/>
<line x1="369.86" y1="348.7" x2="369.86" y2="357.8" stroke="#000" stroke-width="1"/>
<line x1="367.66" y1="348.7" x2="372.06" y2="348.7" stroke="#000" stroke-width="1"/>
<line x1="367.66" y1="357.8" x2="372.06" y2="357.8" stroke="#000" stroke-width="1"/>
<circle cx="369.86" cy="353.6" r="1.9" fill="#000"/>
<line x1="383.34" y1="382.6" x2="383.34" y2="399.1" stroke="#000" stroke-width="1"/>
<line x1="381.14" y1="382.6" x2="385.54" y2="382.6" stroke="#000" stroke-width="1"/>
<line x1="381.14" y1="399.1" x2="385.54" y2="399.1" stroke="#000" stroke-width="1"/>
<circle cx="383.34" cy="391" r="1.9" fill="#000"/>
<line x1="389.4" y1="398.5" x2="389.4" y2="413.5" stroke="#000" stroke-width="1"/>
<line x1="387.2" y1="398.5" x2="391.6" y2="398.5" stroke="#000" stroke-width="1"/>
<line x1="387.2" y1="413.5" x2="391.6" y2="413.5" stroke="#000" stroke-width="1"/>
<circle cx="389.4" cy="405.9" r="1.9" fill="#000"/>
<line x1="410.59" y1="409.3" x2="410.59" y2="414.3" stroke="#000" stroke-width="1"/>
<line x1="408.39" y1="409.3" x2="412.79" y2="409.3" stroke="#000" stroke-width="1"/>
<line x1="408.39" y1="414.3" x2="412.79" y2="414.3" stroke="#000" stroke-width="1"/>
<circle cx="410.59" cy="411.8" r="1.9" fill="#000"/>
<line x1="383.2" y1="328.7" x2="394.9" y2="328.7" stroke="#000" stroke-width="1.3"/>
<circle cx="389.05" cy="328.7" r="1.9" fill="#000"/>
<text x="397.8" y="332.5" font-size="10"><tspan>697</tspan><tspan dy="-3.6" font-size="6" font-style="italic">WT</tspan></text>
<line x1="383.2" y1="344.8" x2="394.9" y2="344.8" stroke="#0000fa" stroke-width="1.3"/>
<circle cx="389.05" cy="344.8" r="1.9" fill="#0000fa"/>
<text x="397.8" y="348.6" font-size="10"><tspan>697</tspan><tspan dy="-3.6" font-size="6" font-style="italic">KI</tspan></text>
<text x="263.7" y="410.5" font-size="10"><tspan>697</tspan><tspan dy="-3.6" font-size="6" font-style="italic">WT</tspan><tspan dy="3.6"> IC</tspan><tspan dy="2.8" font-size="6">50</tspan><tspan dy="-2.8"> 2.8e</tspan><tspan dy="-3.6" font-size="6">-7</tspan></text>
<text x="263.7" y="423.2" font-size="10"><tspan>697</tspan><tspan dy="-3.6" font-size="6" font-style="italic">KI</tspan><tspan dy="3.6"> IC</tspan><tspan dy="2.8" font-size="6">50</tspan><tspan dy="-2.8"> 6.9e</tspan><tspan dy="-3.6" font-size="6">-8</tspan></text>
<text x="443.2" y="313" font-size="16.5" font-weight="bold" fill="#000">d</text>
<line x1="487.84" y1="320.4" x2="487.84" y2="432.3" stroke="#231f20" stroke-width="1.2"/>
<line x1="487.24" y1="431.8" x2="656.24" y2="431.8" stroke="#231f20" stroke-width="1.2"/>
<line x1="483.64" y1="431.8" x2="487.84" y2="431.8" stroke="#231f20" stroke-width="1.2"/>
<text x="0" y="0" transform="translate(481.54 435.2) scale(1.02 1)" font-size="9.6" text-anchor="end">0</text>
<line x1="483.64" y1="408.6" x2="487.84" y2="408.6" stroke="#231f20" stroke-width="1.2"/>
<text x="0" y="0" transform="translate(481.54 412) scale(1.02 1)" font-size="9.6" text-anchor="end">25</text>
<line x1="483.64" y1="385.4" x2="487.84" y2="385.4" stroke="#231f20" stroke-width="1.2"/>
<text x="0" y="0" transform="translate(481.54 388.8) scale(1.02 1)" font-size="9.6" text-anchor="end">50</text>
<line x1="483.64" y1="362.2" x2="487.84" y2="362.2" stroke="#231f20" stroke-width="1.2"/>
<text x="0" y="0" transform="translate(481.54 365.6) scale(1.02 1)" font-size="9.6" text-anchor="end">75</text>
<line x1="483.64" y1="339" x2="487.84" y2="339" stroke="#231f20" stroke-width="1.2"/>
<text x="0" y="0" transform="translate(481.54 342.4) scale(1.02 1)" font-size="9.6" text-anchor="end">100</text>
<line x1="483.64" y1="320.44" x2="487.84" y2="320.44" stroke="#231f20" stroke-width="1.2"/>
<text x="0" y="0" transform="translate(481.54 323.84) scale(1.02 1)" font-size="9.6" text-anchor="end">120</text>
<line x1="487.84" y1="431.8" x2="487.84" y2="436" stroke="#231f20" stroke-width="1.2"/>
<text x="489.34" y="447.2" font-size="10.8" text-anchor="middle">-14</text>
<line x1="521.4" y1="431.8" x2="521.4" y2="436" stroke="#231f20" stroke-width="1.2"/>
<text x="522.9" y="447.2" font-size="10.8" text-anchor="middle">-12</text>
<line x1="554.96" y1="431.8" x2="554.96" y2="436" stroke="#231f20" stroke-width="1.2"/>
<text x="556.46" y="447.2" font-size="10.8" text-anchor="middle">-10</text>
<line x1="588.52" y1="431.8" x2="588.52" y2="436" stroke="#231f20" stroke-width="1.2"/>
<text x="590.02" y="447.2" font-size="10.8" text-anchor="middle">-8</text>
<line x1="622.08" y1="431.8" x2="622.08" y2="436" stroke="#231f20" stroke-width="1.2"/>
<text x="623.58" y="447.2" font-size="10.8" text-anchor="middle">-6</text>
<line x1="655.64" y1="431.8" x2="655.64" y2="436" stroke="#231f20" stroke-width="1.2"/>
<text x="657.14" y="447.2" font-size="10.8" text-anchor="middle">-4</text>
<text x="579.5" y="460.5" font-size="12" text-anchor="middle">Venetoclax (log M)</text>
<text x="0" y="0" transform="translate(459.2 368.8) rotate(-90)" font-size="12" text-anchor="middle">Cell viability (%)</text>
<path d="M521.4,339 L522.45,339 L523.5,339 L524.55,339 L525.6,339 L526.64,339 L527.69,339 L528.74,339 L529.79,339 L530.84,339 L531.89,339 L532.94,339 L533.99,339 L535.03,339 L536.08,339 L537.13,339 L538.18,339 L539.23,339 L540.28,339 L541.33,339 L542.38,339 L543.42,339 L544.47,339 L545.52,339 L546.57,339 L547.62,339 L548.67,339 L549.72,339 L550.76,339 L551.81,339 L552.86,339 L553.91,339 L554.96,339 L556.01,339 L557.06,339 L558.11,339 L559.15,339 L560.2,339 L561.25,339 L562.3,339 L563.35,339 L564.4,339 L565.45,339 L566.5,339 L567.54,339 L568.59,339 L569.64,339 L570.69,339 L571.74,339 L572.79,339 L573.84,339 L574.89,339 L575.93,339 L576.98,339 L578.03,339 L579.08,339 L580.13,339 L581.18,339 L582.23,339 L583.28,339 L584.32,339 L585.37,339 L586.42,339 L587.47,339 L588.52,339 L589.57,339 L590.62,339 L591.67,339 L592.71,339 L593.76,339.01 L594.81,339.01 L595.86,339.01 L596.91,339.01 L597.96,339.02 L599.01,339.03 L600.06,339.03 L601.11,339.05 L602.15,339.06 L603.2,339.08 L604.25,339.11 L605.3,339.15 L606.35,339.2 L607.4,339.26 L608.45,339.35 L609.5,339.46 L610.54,339.62 L611.59,339.82 L612.64,340.09 L613.69,340.45 L614.74,340.92 L615.79,341.54 L616.84,342.36 L617.88,343.43 L618.93,344.81 L619.98,346.59 L621.03,348.86 L622.08,351.7 L623.13,355.19 L624.18,359.4 L625.23,364.35 L626.27,369.98 L627.32,376.18 L628.37,382.73 L629.42,389.4 L630.47,395.9 L631.52,401.99 L632.57,407.5 L633.62,412.3 L634.66,416.36 L635.71,419.72 L636.76,422.44 L637.81,424.6 L638.86,426.29 L639.91,427.61 L640.96,428.62 L642.01,429.39 L643.05,429.98 L644.1,430.43 L645.15,430.77 L646.2,431.03 L647.25,431.22" fill="none" stroke="#000" stroke-width="1.3"/>
<path d="M521.4,339.01 L522.48,339.01 L523.55,339.01 L524.63,339.01 L525.71,339.01 L526.78,339.01 L527.86,339.01 L528.94,339.02 L530.01,339.02 L531.09,339.02 L532.17,339.03 L533.24,339.03 L534.32,339.04 L535.4,339.04 L536.47,339.05 L537.55,339.06 L538.63,339.07 L539.7,339.08 L540.78,339.09 L541.86,339.1 L542.93,339.12 L544.01,339.14 L545.09,339.16 L546.16,339.18 L547.24,339.21 L548.32,339.25 L549.39,339.28 L550.47,339.33 L551.55,339.38 L552.62,339.44 L553.7,339.51 L554.78,339.59 L555.85,339.69 L556.93,339.8 L558.01,339.92 L559.09,340.07 L560.16,340.24 L561.24,340.43 L562.32,340.65 L563.39,340.91 L564.47,341.21 L565.55,341.55 L566.62,341.94 L567.7,342.39 L568.78,342.91 L569.85,343.5 L570.93,344.18 L572.01,344.95 L573.08,345.83 L574.16,346.82 L575.24,347.95 L576.31,349.22 L577.39,350.64 L578.47,352.23 L579.54,354 L580.62,355.95 L581.7,358.09 L582.77,360.43 L583.85,362.96 L584.93,365.68 L586,368.57 L587.08,371.63 L588.16,374.82 L589.23,378.12 L590.31,381.49 L591.39,384.91 L592.46,388.33 L593.54,391.73 L594.62,395.05 L595.69,398.27 L596.77,401.37 L597.85,404.31 L598.92,407.08 L600,409.67 L601.08,412.06 L602.15,414.26 L603.23,416.26 L604.31,418.08 L605.38,419.72 L606.46,421.19 L607.54,422.5 L608.61,423.67 L609.69,424.7 L610.77,425.61 L611.84,426.41 L612.92,427.11 L614,427.73 L615.07,428.27 L616.15,428.74 L617.23,429.14 L618.3,429.5 L619.38,429.81 L620.46,430.08 L621.53,430.31 L622.61,430.51 L623.69,430.69 L624.76,430.84 L625.84,430.97 L626.92,431.08 L627.99,431.18 L629.07,431.26 L630.15,431.34 L631.23,431.4 L632.3,431.46 L633.38,431.5 L634.46,431.54 L635.53,431.58 L636.61,431.61 L637.69,431.64 L638.76,431.66 L639.84,431.68 L640.92,431.69 L641.99,431.71 L643.07,431.72 L644.15,431.73 L645.22,431.74 L646.3,431.75 L647.38,431.76 L648.45,431.76 L649.53,431.77 L650.61,431.77" fill="none" stroke="#0000fa" stroke-width="1.3"/>
<line x1="521.4" y1="333.3" x2="521.4" y2="345.1" stroke="#0000fa" stroke-width="1"/>
<line x1="519.2" y1="333.3" x2="523.6" y2="333.3" stroke="#0000fa" stroke-width="1"/>
<line x1="519.2" y1="345.1" x2="523.6" y2="345.1" stroke="#0000fa" stroke-width="1"/>
<circle cx="521.4" cy="339.2" r="1.9" fill="#0000fa"/>
<circle cx="554.96" cy="345.8" r="1.9" fill="#0000fa"/>
<line x1="562.68" y1="351.3" x2="562.68" y2="365.5" stroke="#0000fa" stroke-width="1"/>
<line x1="560.48" y1="351.3" x2="564.88" y2="351.3" stroke="#0000fa" stroke-width="1"/>
<line x1="560.48" y1="365.5" x2="564.88" y2="365.5" stroke="#0000fa" stroke-width="1"/>
<circle cx="562.68" cy="357.8" r="1.9" fill="#0000fa"/>
<circle cx="571.74" cy="353" r="1.9" fill="#0000fa"/>
<circle cx="588.52" cy="368.8" r="1.9" fill="#0000fa"/>
<line x1="596.57" y1="394" x2="596.57" y2="398.4" stroke="#0000fa" stroke-width="1"/>
<line x1="594.37" y1="394" x2="598.77" y2="394" stroke="#0000fa" stroke-width="1"/>
<line x1="594.37" y1="398.4" x2="598.77" y2="398.4" stroke="#0000fa" stroke-width="1"/>
<circle cx="596.57" cy="396.2" r="1.9" fill="#0000fa"/>
<circle cx="605.3" cy="417.4" r="1.9" fill="#0000fa"/>
<line x1="613.52" y1="418.1" x2="613.52" y2="428.4" stroke="#0000fa" stroke-width="1"/>
<line x1="611.32" y1="418.1" x2="615.72" y2="418.1" stroke="#0000fa" stroke-width="1"/>
<line x1="611.32" y1="428.4" x2="615.72" y2="428.4" stroke="#0000fa" stroke-width="1"/>
<circle cx="613.52" cy="423.1" r="1.9" fill="#0000fa"/>
<circle cx="622.08" cy="427.9" r="1.9" fill="#0000fa"/>
<circle cx="647.25" cy="430.8" r="1.9" fill="#0000fa"/>
<line x1="521.4" y1="351.3" x2="521.4" y2="363.3" stroke="#000" stroke-width="1"/>
<line x1="519.2" y1="351.3" x2="523.6" y2="351.3" stroke="#000" stroke-width="1"/>
<line x1="519.2" y1="363.3" x2="523.6" y2="363.3" stroke="#000" stroke-width="1"/>
<circle cx="521.4" cy="357.4" r="1.9" fill="#000"/>
<line x1="554.96" y1="345.8" x2="554.96" y2="352.4" stroke="#000" stroke-width="1"/>
<line x1="552.76" y1="345.8" x2="557.16" y2="345.8" stroke="#000" stroke-width="1"/>
<line x1="552.76" y1="352.4" x2="557.16" y2="352.4" stroke="#000" stroke-width="1"/>
<circle cx="554.96" cy="349.1" r="1.9" fill="#000"/>
<line x1="562.68" y1="343.6" x2="562.68" y2="351.3" stroke="#000" stroke-width="1"/>
<line x1="560.48" y1="343.6" x2="564.88" y2="343.6" stroke="#000" stroke-width="1"/>
<line x1="560.48" y1="351.3" x2="564.88" y2="351.3" stroke="#000" stroke-width="1"/>
<circle cx="562.68" cy="347.6" r="1.9" fill="#000"/>
<line x1="571.74" y1="348.6" x2="571.74" y2="358.3" stroke="#000" stroke-width="1"/>
<line x1="569.54" y1="348.6" x2="573.94" y2="348.6" stroke="#000" stroke-width="1"/>
<line x1="569.54" y1="358.3" x2="573.94" y2="358.3" stroke="#000" stroke-width="1"/>
<circle cx="571.74" cy="353.5" r="1.9" fill="#000"/>
<line x1="588.52" y1="344.7" x2="588.52" y2="360" stroke="#000" stroke-width="1"/>
<line x1="586.32" y1="344.7" x2="590.72" y2="344.7" stroke="#000" stroke-width="1"/>
<line x1="586.32" y1="360" x2="590.72" y2="360" stroke="#000" stroke-width="1"/>
<circle cx="588.52" cy="352.4" r="1.9" fill="#000"/>
<line x1="596.57" y1="337" x2="596.57" y2="346.5" stroke="#000" stroke-width="1"/>
<line x1="594.37" y1="337" x2="598.77" y2="337" stroke="#000" stroke-width="1"/>
<line x1="594.37" y1="346.5" x2="598.77" y2="346.5" stroke="#000" stroke-width="1"/>
<circle cx="596.57" cy="341.4" r="1.9" fill="#000"/>
<line x1="605.3" y1="345.1" x2="605.3" y2="349.5" stroke="#000" stroke-width="1"/>
<line x1="603.1" y1="345.1" x2="607.5" y2="345.1" stroke="#000" stroke-width="1"/>
<line x1="603.1" y1="349.5" x2="607.5" y2="349.5" stroke="#000" stroke-width="1"/>
<circle cx="605.3" cy="347.3" r="1.9" fill="#000"/>
<line x1="613.52" y1="333.8" x2="613.52" y2="343.6" stroke="#000" stroke-width="1"/>
<line x1="611.32" y1="333.8" x2="615.72" y2="333.8" stroke="#000" stroke-width="1"/>
<line x1="611.32" y1="343.6" x2="615.72" y2="343.6" stroke="#000" stroke-width="1"/>
<circle cx="613.52" cy="338.6" r="1.9" fill="#000"/>
<line x1="622.08" y1="360" x2="622.08" y2="364.4" stroke="#000" stroke-width="1"/>
<line x1="619.88" y1="360" x2="624.28" y2="360" stroke="#000" stroke-width="1"/>
<line x1="619.88" y1="364.4" x2="624.28" y2="364.4" stroke="#000" stroke-width="1"/>
<circle cx="622.08" cy="362.2" r="1.9" fill="#000"/>
<line x1="647.25" y1="424.6" x2="647.25" y2="429.7" stroke="#000" stroke-width="1"/>
<line x1="645.05" y1="424.6" x2="649.45" y2="424.6" stroke="#000" stroke-width="1"/>
<line x1="645.05" y1="429.7" x2="649.45" y2="429.7" stroke="#000" stroke-width="1"/>
<circle cx="647.25" cy="427.3" r="1.9" fill="#000"/>
<line x1="638.4" y1="328.7" x2="650.7" y2="328.7" stroke="#000" stroke-width="1.3"/>
<circle cx="644.55" cy="328.7" r="1.9" fill="#000"/>
<text x="657.3" y="332.5" font-size="10"><tspan>697</tspan><tspan dy="-3.6" font-size="6" font-style="italic">WT</tspan></text>
<line x1="638.4" y1="344.8" x2="650.7" y2="344.8" stroke="#0000fa" stroke-width="1.3"/>
<circle cx="644.55" cy="344.8" r="1.9" fill="#0000fa"/>
<text x="657.3" y="348.6" font-size="10"><tspan>697</tspan><tspan dy="-3.6" font-size="6" font-style="italic">KI</tspan></text>
<text x="491.1" y="410.5" font-size="10"><tspan>697</tspan><tspan dy="-3.6" font-size="6" font-style="italic">WT</tspan><tspan dy="3.6"> IC</tspan><tspan dy="2.8" font-size="6">50</tspan><tspan dy="-2.8"> 2.5e</tspan><tspan dy="-3.6" font-size="6">-6</tspan></text>
<text x="491.1" y="423.2" font-size="10"><tspan>697</tspan><tspan dy="-3.6" font-size="6" font-style="italic">KI</tspan><tspan dy="3.6"> IC</tspan><tspan dy="2.8" font-size="6">50</tspan><tspan dy="-2.8"> 1.5e</tspan><tspan dy="-3.6" font-size="6">-8</tspan></text>
<text x="-0.9" y="499.5" font-size="16.5" font-weight="bold" fill="#000">e</text>
<line x1="42.8" y1="489.8" x2="42.8" y2="640.6" stroke="#231f20" stroke-width="1.3"/>
<line x1="42.2" y1="636.6" x2="239.1" y2="636.6" stroke="#231f20" stroke-width="1.3"/>
<line x1="37.3" y1="636.6" x2="42.8" y2="636.6" stroke="#231f20" stroke-width="1.3"/>
<text x="35.6" y="640.3" font-size="10.2" text-anchor="end"><tspan>2</tspan><tspan dy="-3.6" font-size="5.92">-4</tspan></text>
<line x1="37.3" y1="618.25" x2="42.8" y2="618.25" stroke="#231f20" stroke-width="1.3"/>
<text x="35.6" y="621.95" font-size="10.2" text-anchor="end"><tspan>2</tspan><tspan dy="-3.6" font-size="5.92">-3</tspan></text>
<line x1="37.3" y1="599.9" x2="42.8" y2="599.9" stroke="#231f20" stroke-width="1.3"/>
<text x="35.6" y="603.6" font-size="10.2" text-anchor="end"><tspan>2</tspan><tspan dy="-3.6" font-size="5.92">-2</tspan></text>
<line x1="37.3" y1="581.55" x2="42.8" y2="581.55" stroke="#231f20" stroke-width="1.3"/>
<text x="35.6" y="585.25" font-size="10.2" text-anchor="end"><tspan>2</tspan><tspan dy="-3.6" font-size="5.92">-1</tspan></text>
<line x1="37.3" y1="563.2" x2="42.8" y2="563.2" stroke="#231f20" stroke-width="1.3"/>
<text x="35.6" y="566.9" font-size="10.2" text-anchor="end"><tspan>2</tspan><tspan dy="-3.6" font-size="5.92">0</tspan></text>
<line x1="37.3" y1="544.85" x2="42.8" y2="544.85" stroke="#231f20" stroke-width="1.3"/>
<text x="35.6" y="548.55" font-size="10.2" text-anchor="end"><tspan>2</tspan><tspan dy="-3.6" font-size="5.92">1</tspan></text>
<line x1="37.3" y1="526.5" x2="42.8" y2="526.5" stroke="#231f20" stroke-width="1.3"/>
<text x="35.6" y="530.2" font-size="10.2" text-anchor="end"><tspan>2</tspan><tspan dy="-3.6" font-size="5.92">2</tspan></text>
<line x1="37.3" y1="508.15" x2="42.8" y2="508.15" stroke="#231f20" stroke-width="1.3"/>
<text x="35.6" y="511.85" font-size="10.2" text-anchor="end"><tspan>2</tspan><tspan dy="-3.6" font-size="5.92">3</tspan></text>
<line x1="37.3" y1="489.8" x2="42.8" y2="489.8" stroke="#231f20" stroke-width="1.3"/>
<text x="35.6" y="493.5" font-size="10.2" text-anchor="end"><tspan>2</tspan><tspan dy="-3.6" font-size="5.92">4</tspan></text>
<line x1="42.8" y1="636.6" x2="42.8" y2="640.6" stroke="#231f20" stroke-width="1.3"/>
<text x="42.8" y="652.1" font-size="10.2" text-anchor="middle">0</text>
<line x1="108.24" y1="636.6" x2="108.24" y2="640.6" stroke="#231f20" stroke-width="1.3"/>
<text x="108.24" y="652.1" font-size="10.2" text-anchor="middle">2</text>
<line x1="173.68" y1="636.6" x2="173.68" y2="640.6" stroke="#231f20" stroke-width="1.3"/>
<text x="173.68" y="652.1" font-size="10.2" text-anchor="middle">4</text>
<line x1="239.12" y1="636.6" x2="239.12" y2="640.6" stroke="#231f20" stroke-width="1.3"/>
<text x="239.12" y="652.1" font-size="10.2" text-anchor="middle">6</text>
<text x="138.4" y="661.6" font-size="12" text-anchor="middle">Days</text>
<text x="0" y="0" transform="translate(12.3 573.3) rotate(-90)" font-size="11.2" text-anchor="middle"><tspan>Cell count (log</tspan><tspan dy="2.6" font-size="6.72">2</tspan><tspan dy="-2.6"> million/mL)</tspan></text>
<path d="M42.8,569 L75.52,568.5 L108.24,569.3 L140.96,558.8 L173.68,536.5 L206.4,529.9" fill="none" stroke="#0000fa" stroke-width="0.9" stroke-dasharray="1.2 1.2"/>
<line x1="42.8" y1="561.1" x2="42.8" y2="580.4" stroke="#0000fa" stroke-width="1.1"/>
<line x1="40.5" y1="561.1" x2="45.1" y2="561.1" stroke="#0000fa" stroke-width="1.1"/>
<line x1="40.5" y1="580.4" x2="45.1" y2="580.4" stroke="#0000fa" stroke-width="1.1"/>
<line x1="75.52" y1="565" x2="75.52" y2="575" stroke="#0000fa" stroke-width="1.1"/>
<line x1="73.22" y1="565" x2="77.82" y2="565" stroke="#0000fa" stroke-width="1.1"/>
<line x1="73.22" y1="575" x2="77.82" y2="575" stroke="#0000fa" stroke-width="1.1"/>
<line x1="108.24" y1="565.4" x2="108.24" y2="574.6" stroke="#0000fa" stroke-width="1.1"/>
<line x1="105.94" y1="565.4" x2="110.54" y2="565.4" stroke="#0000fa" stroke-width="1.1"/>
<line x1="105.94" y1="574.6" x2="110.54" y2="574.6" stroke="#0000fa" stroke-width="1.1"/>
<line x1="173.68" y1="534.5" x2="173.68" y2="538.5" stroke="#0000fa" stroke-width="1.1"/>
<line x1="171.38" y1="534.5" x2="175.98" y2="534.5" stroke="#0000fa" stroke-width="1.1"/>
<line x1="171.38" y1="538.5" x2="175.98" y2="538.5" stroke="#0000fa" stroke-width="1.1"/>
<line x1="206.4" y1="523.8" x2="206.4" y2="537.4" stroke="#0000fa" stroke-width="1.1"/>
<line x1="204.1" y1="523.8" x2="208.7" y2="523.8" stroke="#0000fa" stroke-width="1.1"/>
<line x1="204.1" y1="537.4" x2="208.7" y2="537.4" stroke="#0000fa" stroke-width="1.1"/>
<circle cx="42.8" cy="569" r="2" fill="#0000fa"/>
<circle cx="75.52" cy="568.5" r="2" fill="#0000fa"/>
<circle cx="108.24" cy="569.3" r="2" fill="#0000fa"/>
<circle cx="140.96" cy="558.8" r="2" fill="#0000fa"/>
<circle cx="173.68" cy="536.5" r="2" fill="#0000fa"/>
<circle cx="206.4" cy="529.9" r="2" fill="#0000fa"/>
<path d="M42.8,569 L75.52,568.5 L108.24,555 L140.96,543.9 L173.68,533.2 L206.4,513.9" fill="none" stroke="#000" stroke-width="0.9" stroke-dasharray="1.2 1.2"/>
<line x1="75.52" y1="563.5" x2="75.52" y2="574" stroke="#000" stroke-width="1.1"/>
<line x1="73.22" y1="563.5" x2="77.82" y2="563.5" stroke="#000" stroke-width="1.1"/>
<line x1="73.22" y1="574" x2="77.82" y2="574" stroke="#000" stroke-width="1.1"/>
<line x1="173.68" y1="530" x2="173.68" y2="536.5" stroke="#000" stroke-width="1.1"/>
<line x1="171.38" y1="530" x2="175.98" y2="530" stroke="#000" stroke-width="1.1"/>
<line x1="171.38" y1="536.5" x2="175.98" y2="536.5" stroke="#000" stroke-width="1.1"/>
<line x1="206.4" y1="509.6" x2="206.4" y2="519" stroke="#000" stroke-width="1.1"/>
<line x1="204.1" y1="509.6" x2="208.7" y2="509.6" stroke="#000" stroke-width="1.1"/>
<line x1="204.1" y1="519" x2="208.7" y2="519" stroke="#000" stroke-width="1.1"/>
<circle cx="42.8" cy="569" r="2" fill="#000"/>
<circle cx="75.52" cy="568.5" r="2" fill="#000"/>
<circle cx="108.24" cy="555" r="2" fill="#000"/>
<circle cx="140.96" cy="543.9" r="2" fill="#000"/>
<circle cx="173.68" cy="533.2" r="2" fill="#000"/>
<circle cx="206.4" cy="513.9" r="2" fill="#000"/>
<path d="M42.8,572.5 L75.52,578.1 L108.24,556.6 L140.96,543.9 L173.68,547.4 L206.4,531.9" fill="none" stroke="#000" stroke-width="1.4"/>
<line x1="42.8" y1="566.4" x2="42.8" y2="575.1" stroke="#000" stroke-width="1.1"/>
<line x1="40.5" y1="566.4" x2="45.1" y2="566.4" stroke="#000" stroke-width="1.1"/>
<line x1="40.5" y1="575.1" x2="45.1" y2="575.1" stroke="#000" stroke-width="1.1"/>
<line x1="75.52" y1="572" x2="75.52" y2="583.9" stroke="#000" stroke-width="1.1"/>
<line x1="73.22" y1="572" x2="77.82" y2="572" stroke="#000" stroke-width="1.1"/>
<line x1="73.22" y1="583.9" x2="77.82" y2="583.9" stroke="#000" stroke-width="1.1"/>
<line x1="108.24" y1="548.5" x2="108.24" y2="565" stroke="#000" stroke-width="1.1"/>
<line x1="105.94" y1="548.5" x2="110.54" y2="548.5" stroke="#000" stroke-width="1.1"/>
<line x1="105.94" y1="565" x2="110.54" y2="565" stroke="#000" stroke-width="1.1"/>
<line x1="140.96" y1="542" x2="140.96" y2="545.7" stroke="#000" stroke-width="1.1"/>
<line x1="138.66" y1="542" x2="143.26" y2="542" stroke="#000" stroke-width="1.1"/>
<line x1="138.66" y1="545.7" x2="143.26" y2="545.7" stroke="#000" stroke-width="1.1"/>
<line x1="173.68" y1="542.8" x2="173.68" y2="552.3" stroke="#000" stroke-width="1.1"/>
<line x1="171.38" y1="542.8" x2="175.98" y2="542.8" stroke="#000" stroke-width="1.1"/>
<line x1="171.38" y1="552.3" x2="175.98" y2="552.3" stroke="#000" stroke-width="1.1"/>
<circle cx="42.8" cy="572.5" r="2" fill="#000"/>
<circle cx="75.52" cy="578.1" r="2" fill="#000"/>
<circle cx="108.24" cy="556.6" r="2" fill="#000"/>
<circle cx="140.96" cy="543.9" r="2" fill="#000"/>
<circle cx="173.68" cy="547.4" r="2" fill="#000"/>
<circle cx="206.4" cy="531.9" r="2" fill="#000"/>
<path d="M42.8,571.6 L75.52,594 L108.24,600.2 L140.96,595.4 L173.68,609.8 L206.4,619.7" fill="none" stroke="#0000fa" stroke-width="1.4"/>
<line x1="140.96" y1="590.6" x2="140.96" y2="600.4" stroke="#0000fa" stroke-width="1.1"/>
<line x1="138.66" y1="590.6" x2="143.26" y2="590.6" stroke="#0000fa" stroke-width="1.1"/>
<line x1="138.66" y1="600.4" x2="143.26" y2="600.4" stroke="#0000fa" stroke-width="1.1"/>
<line x1="206.4" y1="611.4" x2="206.4" y2="633.3" stroke="#0000fa" stroke-width="1.1"/>
<line x1="204.1" y1="611.4" x2="208.7" y2="611.4" stroke="#0000fa" stroke-width="1.1"/>
<line x1="204.1" y1="633.3" x2="208.7" y2="633.3" stroke="#0000fa" stroke-width="1.1"/>
<circle cx="42.8" cy="571.6" r="2" fill="#0000fa"/>
<circle cx="75.52" cy="594" r="2" fill="#0000fa"/>
<circle cx="108.24" cy="600.2" r="2" fill="#0000fa"/>
<circle cx="140.96" cy="595.4" r="2" fill="#0000fa"/>
<circle cx="173.68" cy="609.8" r="2" fill="#0000fa"/>
<circle cx="206.4" cy="619.7" r="2" fill="#0000fa"/>
<line x1="225.4" y1="519.9" x2="241.6" y2="519.9" stroke="#000" stroke-width="0.9" stroke-dasharray="1.2 1.2"/>
<circle cx="234" cy="519.9" r="2" fill="#000"/>
<text x="245" y="523.7" font-size="11"><tspan>697</tspan><tspan dy="-4.1" font-size="6.27" font-style="italic" letter-spacing="1.1">WT</tspan><tspan dy="4.1"> DMSO</tspan></text>
<line x1="225.4" y1="538.9" x2="241.6" y2="538.9" stroke="#0000fa" stroke-width="0.9" stroke-dasharray="1.2 1.2"/>
<circle cx="234" cy="538.9" r="2" fill="#0000fa"/>
<text x="245" y="542.1" font-size="11"><tspan>697</tspan><tspan dy="-4.1" font-size="6.27" font-style="italic" letter-spacing="1.1">KI</tspan><tspan dy="4.1"> DMSO</tspan></text>
<line x1="227.3" y1="556.6" x2="241.2" y2="556.6" stroke="#000" stroke-width="1.4"/>
<circle cx="234" cy="556.6" r="2" fill="#000"/>
<text x="245" y="560.4" font-size="11"><tspan>697</tspan><tspan dy="-4.1" font-size="6.27" font-style="italic" letter-spacing="1.1">WT</tspan><tspan dy="4.1"> Venetoclax</tspan></text>
<line x1="227.3" y1="575.5" x2="241.2" y2="575.5" stroke="#0000fa" stroke-width="1.4"/>
<circle cx="234" cy="575.5" r="2" fill="#0000fa"/>
<text x="245" y="578.4" font-size="11"><tspan>697</tspan><tspan dy="-4.1" font-size="6.27" font-style="italic" letter-spacing="1.1">KI</tspan><tspan dy="4.1"> Venetoclax</tspan></text>
<text x="362.6" y="499.5" font-size="16.5" font-weight="bold" fill="#000">f</text>
<rect x="398.5" y="494.3" width="225.9" height="226.7" fill="#fff" stroke="#666" stroke-width="0.9"/>
<line x1="398.5" y1="562.4" x2="624.4" y2="562.4" stroke="#9a9af4" stroke-width="1"/>
<line x1="398.5" y1="594.6" x2="624.4" y2="594.6" stroke="#3a3a3a" stroke-width="1"/>
<line x1="398.5" y1="626.6" x2="624.4" y2="626.6" stroke="#9a9af4" stroke-width="1"/>
<line x1="398.5" y1="658.3" x2="624.4" y2="658.3" stroke="#3a3a3a" stroke-width="1"/>
<line x1="398.5" y1="690" x2="624.4" y2="690" stroke="#9a9af4" stroke-width="1"/>
<path d="M522,562.4 L522.5,562.4 L523,562.4 L523.5,562.39 L524,562.38 L524.5,562.37 L525,562.36 L525.5,562.34 L526,562.33 L526.5,562.31 L527,562.28 L527.5,562.26 L528,562.24 L528.5,562.21 L529,562.18 L529.5,562.15 L530,562.11 L530.5,562.07 L531,562 L531.5,561.89 L532,561.75 L532.5,561.58 L533,561.39 L533.5,561.18 L534,560.95 L534.5,560.7 L535,560.44 L535.5,560.18 L536,559.9 L536.5,559.57 L537,559.14 L537.5,558.64 L538,558.08 L538.5,557.48 L539,556.86 L539.5,556.23 L540,555.61 L540.5,555.03 L541,554.49 L541.5,554.02 L542,553.63 L542.5,553.31 L543,553.02 L543.5,552.76 L544,552.52 L544.5,552.27 L545,552.01 L545.5,551.73 L546,551.4 L546.5,550.99 L547,550.47 L547.5,549.87 L548,549.23 L548.5,548.57 L549,547.91 L549.5,547.29 L550,546.74 L550.5,546.27 L551,545.93 L551.5,545.73 L552,545.71 L552.5,545.87 L553,546.16 L553.5,546.57 L554,547.07 L554.5,547.63 L555,548.22 L555.5,548.82 L556,549.4 L556.5,550.05 L557,550.84 L557.5,551.72 L558,552.62 L558.5,553.5 L559,554.3 L559.5,554.95 L560,555.4 L560.5,555.73 L561,556.05 L561.5,556.34 L562,556.62 L562.5,556.87 L563,557.09 L563.5,557.28 L564,557.43 L564.5,557.53 L565,557.59 L565.5,557.6 L566,557.57 L566.5,557.51 L567,557.42 L567.5,557.32 L568,557.19 L568.5,557.06 L569,556.91 L569.5,556.76 L570,556.6 L570.5,556.43 L571,556.23 L571.5,555.99 L572,555.73 L572.5,555.44 L573,555.12 L573.5,554.77 L574,554.4 L574.5,553.98 L575,553.5 L575.5,552.95 L576,552.34 L576.5,551.67 L577,550.95 L577.5,550.16 L578,549.32 L578.5,548.41 L579,547.32 L579.5,546.02 L580,544.55 L580.5,542.96 L581,541.3 L581.5,539.6 L582,537.93 L582.5,536.32 L583,534.8 L583.5,533.24 L584,531.67 L584.5,530.13 L585,528.69 L585.5,527.4 L586,526.12 L586.5,524.78 L587,523.62 L587.5,522.82 L588,522.61 L588.5,523.02 L589,523.9 L589.5,525.08 L590,526.4 L590.5,528.35 L591,531.25 L591.5,534.69 L592,538.26 L592.5,541.57 L593,544.2 L593.5,546.31 L594,548.29 L594.5,550.12 L595,551.76 L595.5,553.2 L596,554.4 L596.5,555.41 L597,556.3 L597.5,557.1 L598,557.81 L598.5,558.45 L599,559.03 L599.5,559.63 L600,560.22 L600.5,560.78 L601,561.27 L601.5,561.68 L602,561.96 L602.5,562.1 L603,562.15 L603.5,562.2 L604,562.24 L604.5,562.28 L605,562.31 L605.5,562.34 L606,562.36 L606.5,562.38 L607,562.39 L607.5,562.4 L608,562.4 Z" fill="#1515e8" stroke="none" stroke-width="1" fill-opacity="0.44"/>
<path d="M529,562.18 L529.5,562.15 L530,562.11 L530.5,562.07 L531,562 L531.5,561.89 L532,561.75 L532.5,561.58 L533,561.39 L533.5,561.18 L534,560.95 L534.5,560.7 L535,560.44 L535.5,560.18 L536,559.9 L536.5,559.57 L537,559.14 L537.5,558.64 L538,558.08 L538.5,557.48 L539,556.86 L539.5,556.23 L540,555.61 L540.5,555.03 L541,554.49 L541.5,554.02 L542,553.63 L542.5,553.31 L543,553.02 L543.5,552.76 L544,552.52 L544.5,552.27 L545,552.01 L545.5,551.73 L546,551.4 L546.5,550.99 L547,550.47 L547.5,549.87 L548,549.23 L548.5,548.57 L549,547.91 L549.5,547.29 L550,546.74 L550.5,546.27 L551,545.93 L551.5,545.73 L552,545.71 L552.5,545.87 L553,546.16 L553.5,546.57 L554,547.07 L554.5,547.63 L555,548.22 L555.5,548.82 L556,549.4 L556.5,550.05 L557,550.84 L557.5,551.72 L558,552.62 L558.5,553.5 L559,554.3 L559.5,554.95 L560,555.4 L560.5,555.73 L561,556.05 L561.5,556.34 L562,556.62 L562.5,556.87 L563,557.09 L563.5,557.28 L564,557.43 L564.5,557.53 L565,557.59 L565.5,557.6 L566,557.57 L566.5,557.51 L567,557.42 L567.5,557.32 L568,557.19 L568.5,557.06 L569,556.91 L569.5,556.76 L570,556.6 L570.5,556.43 L571,556.23 L571.5,555.99 L572,555.73 L572.5,555.44 L573,555.12 L573.5,554.77 L574,554.4 L574.5,553.98 L575,553.5 L575.5,552.95 L576,552.34 L576.5,551.67 L577,550.95 L577.5,550.16 L578,549.32 L578.5,548.41 L579,547.32 L579.5,546.02 L580,544.55 L580.5,542.96 L581,541.3 L581.5,539.6 L582,537.93 L582.5,536.32 L583,534.8 L583.5,533.24 L584,531.67 L584.5,530.13 L585,528.69 L585.5,527.4 L586,526.12 L586.5,524.78 L587,523.62 L587.5,522.82 L588,522.61 L588.5,523.02 L589,523.9 L589.5,525.08 L590,526.4 L590.5,528.35 L591,531.25 L591.5,534.69 L592,538.26 L592.5,541.57 L593,544.2 L593.5,546.31 L594,548.29 L594.5,550.12 L595,551.76 L595.5,553.2 L596,554.4 L596.5,555.41 L597,556.3 L597.5,557.1 L598,557.81 L598.5,558.45 L599,559.03 L599.5,559.63 L600,560.22 L600.5,560.78 L601,561.27 L601.5,561.68 L602,561.96 L602.5,562.1 L603,562.15" fill="none" stroke="#1717e6" stroke-width="1.2"/>
<path d="M522,594.6 L522.5,594.6 L523,594.59 L523.5,594.59 L524,594.57 L524.5,594.56 L525,594.54 L525.5,594.52 L526,594.5 L526.5,594.47 L527,594.44 L527.5,594.4 L528,594.37 L528.5,594.33 L529,594.28 L529.5,594.17 L530,594.01 L530.5,593.79 L531,593.53 L531.5,593.22 L532,592.87 L532.5,592.5 L533,592.1 L533.5,591.62 L534,590.99 L534.5,590.23 L535,589.35 L535.5,588.37 L536,587.29 L536.5,586.12 L537,584.89 L537.5,583.6 L538,582.13 L538.5,580.38 L539,578.41 L539.5,576.24 L540,573.93 L540.5,571.51 L541,569.04 L541.5,566.56 L542,564.11 L542.5,561.43 L543,558.51 L543.5,555.52 L544,552.6 L544.5,549.91 L545,547.6 L545.5,545.54 L546,543.55 L546.5,541.7 L547,540.05 L547.5,538.66 L548,537.6 L548.5,536.73 L549,535.92 L549.5,535.25 L550,534.82 L550.5,534.71 L551,534.93 L551.5,535.42 L552,536.14 L552.5,537.02 L553,538.11 L553.5,540.2 L554,543.11 L554.5,546.39 L555,549.6 L555.5,552.74 L556,556.08 L556.5,559.56 L557,563.15 L557.5,566.96 L558,571.3 L558.5,575.46 L559,578.6 L559.5,580.77 L560,582.57 L560.5,584.04 L561,585.22 L561.5,586.32 L562,587.36 L562.5,588.27 L563,588.98 L563.5,589.41 L564,589.51 L564.5,589.54 L565,589.56 L565.5,589.58 L566,589.59 L566.5,589.6 L567,589.6 L567.5,589.56 L568,589.44 L568.5,589.27 L569,589.05 L569.5,588.8 L570,588.53 L570.5,588.26 L571,588.01 L571.5,587.78 L572,587.6 L572.5,587.44 L573,587.27 L573.5,587.1 L574,586.93 L574.5,586.76 L575,586.59 L575.5,586.44 L576,586.29 L576.5,586.16 L577,586.04 L577.5,585.95 L578,585.87 L578.5,585.82 L579,585.8 L579.5,585.82 L580,585.89 L580.5,586.02 L581,586.18 L581.5,586.38 L582,586.61 L582.5,586.85 L583,587.1 L583.5,587.35 L584,587.6 L584.5,587.86 L585,588.17 L585.5,588.51 L586,588.87 L586.5,589.25 L587,589.64 L587.5,590.03 L588,590.41 L588.5,590.77 L589,591.1 L589.5,591.43 L590,591.79 L590.5,592.16 L591,592.53 L591.5,592.89 L592,593.24 L592.5,593.55 L593,593.83 L593.5,594.05 L594,594.21 L594.5,594.3 L595,594.35 L595.5,594.39 L596,594.43 L596.5,594.47 L597,594.5 L597.5,594.53 L598,594.56 L598.5,594.57 L599,594.59 L599.5,594.6 L600,594.6 Z" fill="#000" stroke="none" stroke-width="1" fill-opacity="0.40"/>
<path d="M528,594.37 L528.5,594.33 L529,594.28 L529.5,594.17 L530,594.01 L530.5,593.79 L531,593.53 L531.5,593.22 L532,592.87 L532.5,592.5 L533,592.1 L533.5,591.62 L534,590.99 L534.5,590.23 L535,589.35 L535.5,588.37 L536,587.29 L536.5,586.12 L537,584.89 L537.5,583.6 L538,582.13 L538.5,580.38 L539,578.41 L539.5,576.24 L540,573.93 L540.5,571.51 L541,569.04 L541.5,566.56 L542,564.11 L542.5,561.43 L543,558.51 L543.5,555.52 L544,552.6 L544.5,549.91 L545,547.6 L545.5,545.54 L546,543.55 L546.5,541.7 L547,540.05 L547.5,538.66 L548,537.6 L548.5,536.73 L549,535.92 L549.5,535.25 L550,534.82 L550.5,534.71 L551,534.93 L551.5,535.42 L552,536.14 L552.5,537.02 L553,538.11 L553.5,540.2 L554,543.11 L554.5,546.39 L555,549.6 L555.5,552.74 L556,556.08 L556.5,559.56 L557,563.15 L557.5,566.96 L558,571.3 L558.5,575.46 L559,578.6 L559.5,580.77 L560,582.57 L560.5,584.04 L561,585.22 L561.5,586.32 L562,587.36 L562.5,588.27 L563,588.98 L563.5,589.41 L564,589.51 L564.5,589.54 L565,589.56 L565.5,589.58 L566,589.59 L566.5,589.6 L567,589.6 L567.5,589.56 L568,589.44 L568.5,589.27 L569,589.05 L569.5,588.8 L570,588.53 L570.5,588.26 L571,588.01 L571.5,587.78 L572,587.6 L572.5,587.44 L573,587.27 L573.5,587.1 L574,586.93 L574.5,586.76 L575,586.59 L575.5,586.44 L576,586.29 L576.5,586.16 L577,586.04 L577.5,585.95 L578,585.87 L578.5,585.82 L579,585.8 L579.5,585.82 L580,585.89 L580.5,586.02 L581,586.18 L581.5,586.38 L582,586.61 L582.5,586.85 L583,587.1 L583.5,587.35 L584,587.6 L584.5,587.86 L585,588.17 L585.5,588.51 L586,588.87 L586.5,589.25 L587,589.64 L587.5,590.03 L588,590.41 L588.5,590.77 L589,591.1 L589.5,591.43 L590,591.79 L590.5,592.16 L591,592.53 L591.5,592.89 L592,593.24 L592.5,593.55 L593,593.83 L593.5,594.05 L594,594.21 L594.5,594.3 L595,594.35 L595.5,594.39" fill="none" stroke="#111" stroke-width="1.2"/>
<path d="M524,626.6 L524.5,626.6 L525,626.6 L525.5,626.59 L526,626.58 L526.5,626.57 L527,626.56 L527.5,626.54 L528,626.52 L528.5,626.5 L529,626.47 L529.5,626.45 L530,626.42 L530.5,626.38 L531,626.35 L531.5,626.31 L532,626.27 L532.5,626.22 L533,626.17 L533.5,626.12 L534,626.07 L534.5,626.01 L535,625.92 L535.5,625.74 L536,625.47 L536.5,625.13 L537,624.72 L537.5,624.25 L538,623.74 L538.5,623.18 L539,622.6 L539.5,621.89 L540,620.98 L540.5,619.88 L541,618.63 L541.5,617.25 L542,615.77 L542.5,614.21 L543,612.6 L543.5,610.83 L544,608.81 L544.5,606.58 L545,604.21 L545.5,601.73 L546,599.2 L546.5,596.44 L547,593.35 L547.5,590.14 L548,586.98 L548.5,584.07 L549,581.6 L549.5,579.3 L550,576.94 L550.5,574.76 L551,573.03 L551.5,571.99 L552,571.89 L552.5,572.85 L553,574.6 L553.5,576.84 L554,579.27 L554.5,581.6 L555,583.94 L555.5,586.56 L556,589.36 L556.5,592.28 L557,595.21 L557.5,598.09 L558,600.92 L558.5,604.02 L559,607.18 L559.5,610.16 L560,612.71 L560.5,614.6 L561,616.02 L561.5,617.32 L562,618.49 L562.5,619.48 L563,620.28 L563.5,620.87 L564,621.22 L564.5,621.51 L565,621.77 L565.5,621.97 L566,622.12 L566.5,622.19 L567,622.19 L567.5,622.16 L568,622.09 L568.5,622 L569,621.88 L569.5,621.75 L570,621.61 L570.5,621.46 L571,621.3 L571.5,621.15 L572,621 L572.5,620.85 L573,620.68 L573.5,620.5 L574,620.31 L574.5,620.11 L575,619.9 L575.5,619.69 L576,619.46 L576.5,619.24 L577,619.01 L577.5,618.78 L578,618.55 L578.5,618.32 L579,618.1 L579.5,617.86 L580,617.59 L580.5,617.29 L581,616.98 L581.5,616.66 L582,616.34 L582.5,616.04 L583,615.75 L583.5,615.49 L584,615.27 L584.5,615.09 L585,614.97 L585.5,614.91 L586,614.92 L586.5,615.01 L587,615.19 L587.5,615.42 L588,615.71 L588.5,616.03 L589,616.38 L589.5,616.74 L590,617.1 L590.5,617.51 L591,618.02 L591.5,618.6 L592,619.22 L592.5,619.86 L593,620.48 L593.5,621.07 L594,621.6 L594.5,622.1 L595,622.63 L595.5,623.18 L596,623.72 L596.5,624.25 L597,624.75 L597.5,625.2 L598,625.6 L598.5,625.92 L599,626.16 L599.5,626.29 L600,626.34 L600.5,626.39 L601,626.43 L601.5,626.47 L602,626.5 L602.5,626.53 L603,626.56 L603.5,626.57 L604,626.59 L604.5,626.6 L605,626.6 Z" fill="#1515e8" stroke="none" stroke-width="1" fill-opacity="0.44"/>
<path d="M530.5,626.38 L531,626.35 L531.5,626.31 L532,626.27 L532.5,626.22 L533,626.17 L533.5,626.12 L534,626.07 L534.5,626.01 L535,625.92 L535.5,625.74 L536,625.47 L536.5,625.13 L537,624.72 L537.5,624.25 L538,623.74 L538.5,623.18 L539,622.6 L539.5,621.89 L540,620.98 L540.5,619.88 L541,618.63 L541.5,617.25 L542,615.77 L542.5,614.21 L543,612.6 L543.5,610.83 L544,608.81 L544.5,606.58 L545,604.21 L545.5,601.73 L546,599.2 L546.5,596.44 L547,593.35 L547.5,590.14 L548,586.98 L548.5,584.07 L549,581.6 L549.5,579.3 L550,576.94 L550.5,574.76 L551,573.03 L551.5,571.99 L552,571.89 L552.5,572.85 L553,574.6 L553.5,576.84 L554,579.27 L554.5,581.6 L555,583.94 L555.5,586.56 L556,589.36 L556.5,592.28 L557,595.21 L557.5,598.09 L558,600.92 L558.5,604.02 L559,607.18 L559.5,610.16 L560,612.71 L560.5,614.6 L561,616.02 L561.5,617.32 L562,618.49 L562.5,619.48 L563,620.28 L563.5,620.87 L564,621.22 L564.5,621.51 L565,621.77 L565.5,621.97 L566,622.12 L566.5,622.19 L567,622.19 L567.5,622.16 L568,622.09 L568.5,622 L569,621.88 L569.5,621.75 L570,621.61 L570.5,621.46 L571,621.3 L571.5,621.15 L572,621 L572.5,620.85 L573,620.68 L573.5,620.5 L574,620.31 L574.5,620.11 L575,619.9 L575.5,619.69 L576,619.46 L576.5,619.24 L577,619.01 L577.5,618.78 L578,618.55 L578.5,618.32 L579,618.1 L579.5,617.86 L580,617.59 L580.5,617.29 L581,616.98 L581.5,616.66 L582,616.34 L582.5,616.04 L583,615.75 L583.5,615.49 L584,615.27 L584.5,615.09 L585,614.97 L585.5,614.91 L586,614.92 L586.5,615.01 L587,615.19 L587.5,615.42 L588,615.71 L588.5,616.03 L589,616.38 L589.5,616.74 L590,617.1 L590.5,617.51 L591,618.02 L591.5,618.6 L592,619.22 L592.5,619.86 L593,620.48 L593.5,621.07 L594,621.6 L594.5,622.1 L595,622.63 L595.5,623.18 L596,623.72 L596.5,624.25 L597,624.75 L597.5,625.2 L598,625.6 L598.5,625.92 L599,626.16 L599.5,626.29 L600,626.34 L600.5,626.39" fill="none" stroke="#1717e6" stroke-width="1.2"/>
<path d="M522,658.3 L522.5,658.3 L523,658.3 L523.5,658.29 L524,658.28 L524.5,658.27 L525,658.26 L525.5,658.25 L526,658.23 L526.5,658.21 L527,658.19 L527.5,658.17 L528,658.14 L528.5,658.11 L529,658.08 L529.5,658.05 L530,658.01 L530.5,657.97 L531,657.85 L531.5,657.68 L532,657.45 L532.5,657.18 L533,656.86 L533.5,656.51 L534,656.13 L534.5,655.72 L535,655.3 L535.5,654.82 L536,654.24 L536.5,653.56 L537,652.79 L537.5,651.93 L538,650.97 L538.5,649.93 L539,648.8 L539.5,647.59 L540,646.3 L540.5,644.77 L541,642.87 L541.5,640.66 L542,638.21 L542.5,635.58 L543,632.84 L543.5,630.04 L544,627.25 L544.5,624.33 L545,621.01 L545.5,617.52 L546,614.08 L546.5,610.93 L547,608.3 L547.5,605.91 L548,603.48 L548.5,601.23 L549,599.4 L549.5,598.22 L550,597.92 L550.5,598.61 L551,600.08 L551.5,602.12 L552,604.47 L552.5,606.9 L553,609.24 L553.5,611.91 L554,614.91 L554.5,618.13 L555,621.46 L555.5,624.77 L556,628.01 L556.5,631.54 L557,635.23 L557.5,638.78 L558,641.9 L558.5,644.3 L559,646.15 L559.5,647.79 L560,649.21 L560.5,650.38 L561,651.3 L561.5,652.08 L562,652.82 L562.5,653.47 L563,653.96 L563.5,654.25 L564,654.3 L564.5,654.29 L565,654.28 L565.5,654.26 L566,654.23 L566.5,654.2 L567,654.17 L567.5,654.14 L568,654.1 L568.5,654.05 L569,653.98 L569.5,653.88 L570,653.77 L570.5,653.65 L571,653.53 L571.5,653.4 L572,653.28 L572.5,653.17 L573,653.07 L573.5,652.99 L574,652.93 L574.5,652.9 L575,652.9 L575.5,652.92 L576,652.96 L576.5,653 L577,653.07 L577.5,653.14 L578,653.22 L578.5,653.3 L579,653.4 L579.5,653.5 L580,653.6 L580.5,653.7 L581,653.8 L581.5,653.91 L582,654.04 L582.5,654.19 L583,654.36 L583.5,654.53 L584,654.72 L584.5,654.9 L585,655.09 L585.5,655.28 L586,655.46 L586.5,655.64 L587,655.8 L587.5,655.96 L588,656.13 L588.5,656.31 L589,656.49 L589.5,656.67 L590,656.85 L590.5,657.02 L591,657.19 L591.5,657.35 L592,657.5 L592.5,657.64 L593,657.76 L593.5,657.86 L594,657.94 L594.5,658 L595,658.04 L595.5,658.09 L596,658.13 L596.5,658.16 L597,658.2 L597.5,658.23 L598,658.25 L598.5,658.27 L599,658.29 L599.5,658.3 L600,658.3 Z" fill="#000" stroke="none" stroke-width="1" fill-opacity="0.40"/>
<path d="M529,658.08 L529.5,658.05 L530,658.01 L530.5,657.97 L531,657.85 L531.5,657.68 L532,657.45 L532.5,657.18 L533,656.86 L533.5,656.51 L534,656.13 L534.5,655.72 L535,655.3 L535.5,654.82 L536,654.24 L536.5,653.56 L537,652.79 L537.5,651.93 L538,650.97 L538.5,649.93 L539,648.8 L539.5,647.59 L540,646.3 L540.5,644.77 L541,642.87 L541.5,640.66 L542,638.21 L542.5,635.58 L543,632.84 L543.5,630.04 L544,627.25 L544.5,624.33 L545,621.01 L545.5,617.52 L546,614.08 L546.5,610.93 L547,608.3 L547.5,605.91 L548,603.48 L548.5,601.23 L549,599.4 L549.5,598.22 L550,597.92 L550.5,598.61 L551,600.08 L551.5,602.12 L552,604.47 L552.5,606.9 L553,609.24 L553.5,611.91 L554,614.91 L554.5,618.13 L555,621.46 L555.5,624.77 L556,628.01 L556.5,631.54 L557,635.23 L557.5,638.78 L558,641.9 L558.5,644.3 L559,646.15 L559.5,647.79 L560,649.21 L560.5,650.38 L561,651.3 L561.5,652.08 L562,652.82 L562.5,653.47 L563,653.96 L563.5,654.25 L564,654.3 L564.5,654.29 L565,654.28 L565.5,654.26 L566,654.23 L566.5,654.2 L567,654.17 L567.5,654.14 L568,654.1 L568.5,654.05 L569,653.98 L569.5,653.88 L570,653.77 L570.5,653.65 L571,653.53 L571.5,653.4 L572,653.28 L572.5,653.17 L573,653.07 L573.5,652.99 L574,652.93 L574.5,652.9 L575,652.9 L575.5,652.92 L576,652.96 L576.5,653 L577,653.07 L577.5,653.14 L578,653.22 L578.5,653.3 L579,653.4 L579.5,653.5 L580,653.6 L580.5,653.7 L581,653.8 L581.5,653.91 L582,654.04 L582.5,654.19 L583,654.36 L583.5,654.53 L584,654.72 L584.5,654.9 L585,655.09 L585.5,655.28 L586,655.46 L586.5,655.64 L587,655.8 L587.5,655.96 L588,656.13 L588.5,656.31 L589,656.49 L589.5,656.67 L590,656.85 L590.5,657.02 L591,657.19 L591.5,657.35 L592,657.5 L592.5,657.64 L593,657.76 L593.5,657.86 L594,657.94 L594.5,658 L595,658.04 L595.5,658.09" fill="none" stroke="#111" stroke-width="1.2"/>
<path d="M518,690 L518.5,690 L519,689.99 L519.5,689.98 L520,689.97 L520.5,689.95 L521,689.93 L521.5,689.91 L522,689.88 L522.5,689.85 L523,689.81 L523.5,689.78 L524,689.73 L524.5,689.69 L525,689.6 L525.5,689.45 L526,689.25 L526.5,689 L527,688.73 L527.5,688.43 L528,688.11 L528.5,687.79 L529,687.47 L529.5,687.12 L530,686.74 L530.5,686.33 L531,685.89 L531.5,685.42 L532,684.91 L532.5,684.38 L533,683.81 L533.5,683.22 L534,682.59 L534.5,681.93 L535,681.23 L535.5,680.46 L536,679.6 L536.5,678.68 L537,677.68 L537.5,676.61 L538,675.47 L538.5,674.27 L539,673 L539.5,671.6 L540,670 L540.5,668.26 L541,666.39 L541.5,664.44 L542,662.43 L542.5,660.4 L543,658.3 L543.5,656.01 L544,653.58 L544.5,651.09 L545,648.62 L545.5,646.23 L546,644 L546.5,642 L547,640.12 L547.5,638.27 L548,636.5 L548.5,634.91 L549,633.55 L549.5,632.5 L550,631.62 L550.5,630.82 L551,630.2 L551.5,629.91 L552,629.97 L552.5,630.21 L553,630.59 L553.5,631.03 L554,631.5 L554.5,631.99 L555,632.6 L555.5,633.4 L556,634.56 L556.5,636.8 L557,639.83 L557.5,643.12 L558,646.21 L558.5,649.39 L559,652.71 L559.5,656.07 L560,659.36 L560.5,662.64 L561,666.07 L561.5,669.42 L562,672.48 L562.5,675 L563,677.01 L563.5,678.75 L564,680.31 L564.5,681.8 L565,683.32 L565.5,684.81 L566,686.16 L566.5,687.26 L567,688.06 L567.5,688.79 L568,689.36 L568.5,689.68 L569,689.76 L569.5,689.82 L570,689.87 L570.5,689.91 L571,689.94 L571.5,689.97 L572,689.99 L572.5,690 L573,690 Z" fill="#1515e8" stroke="none" stroke-width="1" fill-opacity="0.44"/>
<path d="M523.5,689.78 L524,689.73 L524.5,689.69 L525,689.6 L525.5,689.45 L526,689.25 L526.5,689 L527,688.73 L527.5,688.43 L528,688.11 L528.5,687.79 L529,687.47 L529.5,687.12 L530,686.74 L530.5,686.33 L531,685.89 L531.5,685.42 L532,684.91 L532.5,684.38 L533,683.81 L533.5,683.22 L534,682.59 L534.5,681.93 L535,681.23 L535.5,680.46 L536,679.6 L536.5,678.68 L537,677.68 L537.5,676.61 L538,675.47 L538.5,674.27 L539,673 L539.5,671.6 L540,670 L540.5,668.26 L541,666.39 L541.5,664.44 L542,662.43 L542.5,660.4 L543,658.3 L543.5,656.01 L544,653.58 L544.5,651.09 L545,648.62 L545.5,646.23 L546,644 L546.5,642 L547,640.12 L547.5,638.27 L548,636.5 L548.5,634.91 L549,633.55 L549.5,632.5 L550,631.62 L550.5,630.82 L551,630.2 L551.5,629.91 L552,629.97 L552.5,630.21 L553,630.59 L553.5,631.03 L554,631.5 L554.5,631.99 L555,632.6 L555.5,633.4 L556,634.56 L556.5,636.8 L557,639.83 L557.5,643.12 L558,646.21 L558.5,649.39 L559,652.71 L559.5,656.07 L560,659.36 L560.5,662.64 L561,666.07 L561.5,669.42 L562,672.48 L562.5,675 L563,677.01 L563.5,678.75 L564,680.31 L564.5,681.8 L565,683.32 L565.5,684.81 L566,686.16 L566.5,687.26 L567,688.06 L567.5,688.79 L568,689.36 L568.5,689.68 L569,689.76" fill="none" stroke="#1717e6" stroke-width="1.2"/>
<path d="M524,721 L524.5,721 L525,720.99 L525.5,720.97 L526,720.94 L526.5,720.91 L527,720.87 L527.5,720.82 L528,720.76 L528.5,720.69 L529,720.62 L529.5,720.53 L530,720.44 L530.5,720.24 L531,719.59 L531.5,718.54 L532,717.19 L532.5,715.63 L533,713.96 L533.5,712.28 L534,710.69 L534.5,709 L535,707.16 L535.5,705.18 L536,703.12 L536.5,701 L537,698.75 L537.5,696.33 L538,693.86 L538.5,691.43 L539,689.11 L539.5,686.77 L540,684.43 L540.5,682.13 L541,679.93 L541.5,677.87 L542,676 L542.5,674.26 L543,672.59 L543.5,671 L544,669.51 L544.5,668.12 L545,666.84 L545.5,665.7 L546,664.62 L546.5,663.61 L547,662.77 L547.5,662.2 L548,661.81 L548.5,661.5 L549,661.32 L549.5,661.33 L550,661.49 L550.5,661.75 L551,662.07 L551.5,662.44 L552,662.98 L552.5,663.68 L553,664.52 L553.5,665.49 L554,666.7 L554.5,668.33 L555,670.28 L555.5,672.45 L556,674.73 L556.5,677 L557,679.27 L557.5,681.64 L558,684.16 L558.5,686.89 L559,689.87 L559.5,693.45 L560,697.91 L560.5,702.67 L561,707.07 L561.5,710.49 L562,712.83 L562.5,714.87 L563,716.58 L563.5,717.91 L564,718.84 L564.5,719.65 L565,720.34 L565.5,720.82 L566,721 Z" fill="#000" stroke="none" stroke-width="1" fill-opacity="0.40"/>
<path d="M528,720.76 L528.5,720.69 L529,720.62 L529.5,720.53 L530,720.44 L530.5,720.24 L531,719.59 L531.5,718.54 L532,717.19 L532.5,715.63 L533,713.96 L533.5,712.28 L534,710.69 L534.5,709 L535,707.16 L535.5,705.18 L536,703.12 L536.5,701 L537,698.75 L537.5,696.33 L538,693.86 L538.5,691.43 L539,689.11 L539.5,686.77 L540,684.43 L540.5,682.13 L541,679.93 L541.5,677.87 L542,676 L542.5,674.26 L543,672.59 L543.5,671 L544,669.51 L544.5,668.12 L545,666.84 L545.5,665.7 L546,664.62 L546.5,663.61 L547,662.77 L547.5,662.2 L548,661.81 L548.5,661.5 L549,661.32 L549.5,661.33 L550,661.49 L550.5,661.75 L551,662.07 L551.5,662.44 L552,662.98 L552.5,663.68 L553,664.52 L553.5,665.49 L554,666.7 L554.5,668.33 L555,670.28 L555.5,672.45 L556,674.73 L556.5,677 L557,679.27 L557.5,681.64 L558,684.16 L558.5,686.89 L559,689.87 L559.5,693.45 L560,697.91 L560.5,702.67 L561,707.07 L561.5,710.49 L562,712.83 L562.5,714.87 L563,716.58 L563.5,717.91 L564,718.84 L564.5,719.65 L565,720.34 L565.5,720.82" fill="none" stroke="#111" stroke-width="1.2"/>
<rect x="398.5" y="494.3" width="225.9" height="226.7" fill="none" stroke="#666" stroke-width="0.9"/>
<line x1="398" y1="721" x2="624.9" y2="721" stroke="#222" stroke-width="1.2"/>
<line x1="392.4" y1="532.9" x2="392.4" y2="584" stroke="#231f20" stroke-width="1.2"/>
<text x="0" y="0" transform="translate(387 558.5) rotate(-90)" font-size="11" text-anchor="middle">2000</text>
<line x1="392.4" y1="597" x2="392.4" y2="649.2" stroke="#231f20" stroke-width="1.2"/>
<text x="0" y="0" transform="translate(387 625.8) rotate(-90)" font-size="11" text-anchor="middle">20</text>
<line x1="392.4" y1="665.3" x2="392.4" y2="716.4" stroke="#231f20" stroke-width="1.2"/>
<text x="0" y="0" transform="translate(387 690.5) rotate(-90)" font-size="11" text-anchor="middle">DMSO</text>
<text x="0" y="0" transform="translate(371.4 592) rotate(-90)" font-size="12.1" text-anchor="middle">Venetoclax (nM)</text>
<line x1="412.5" y1="721" x2="412.5" y2="726" stroke="#111" stroke-width="2.2"/>
<line x1="454.2" y1="721" x2="454.2" y2="726" stroke="#111" stroke-width="2.2"/>
<line x1="486.6" y1="721" x2="486.6" y2="726" stroke="#111" stroke-width="2.2"/>
<line x1="548.4" y1="721" x2="548.4" y2="726" stroke="#111" stroke-width="2.2"/>
<line x1="603.1" y1="721" x2="603.1" y2="726" stroke="#111" stroke-width="2.2"/>
<line x1="414.3" y1="721" x2="414.3" y2="723.2" stroke="#111" stroke-width="1"/>
<line x1="417" y1="721" x2="417" y2="723.2" stroke="#111" stroke-width="1"/>
<line x1="419.5" y1="721" x2="419.5" y2="723.2" stroke="#111" stroke-width="1"/>
<line x1="421.6" y1="721" x2="421.6" y2="723.2" stroke="#111" stroke-width="1"/>
<line x1="423.9" y1="721" x2="423.9" y2="723.2" stroke="#111" stroke-width="1"/>
<line x1="428.3" y1="721" x2="428.3" y2="724.2" stroke="#111" stroke-width="1"/>
<line x1="432.7" y1="721" x2="432.7" y2="723.2" stroke="#111" stroke-width="1"/>
<line x1="436.2" y1="721" x2="436.2" y2="723.2" stroke="#111" stroke-width="1"/>
<line x1="439.7" y1="721" x2="439.7" y2="723.2" stroke="#111" stroke-width="1"/>
<line x1="442.3" y1="721" x2="442.3" y2="723.2" stroke="#111" stroke-width="1"/>
<line x1="457.2" y1="721" x2="457.2" y2="723.2" stroke="#111" stroke-width="1"/>
<line x1="459.8" y1="721" x2="459.8" y2="723.2" stroke="#111" stroke-width="1"/>
<line x1="462.4" y1="721" x2="462.4" y2="723.2" stroke="#111" stroke-width="1"/>
<line x1="464.7" y1="721" x2="464.7" y2="723.2" stroke="#111" stroke-width="1"/>
<line x1="466.8" y1="721" x2="466.8" y2="723.2" stroke="#111" stroke-width="1"/>
<line x1="470.3" y1="721" x2="470.3" y2="724.2" stroke="#111" stroke-width="1"/>
<line x1="473.8" y1="721" x2="473.8" y2="723.2" stroke="#111" stroke-width="1"/>
<line x1="477.3" y1="721" x2="477.3" y2="723.2" stroke="#111" stroke-width="1"/>
<line x1="480.8" y1="721" x2="480.8" y2="723.2" stroke="#111" stroke-width="1"/>
<line x1="483.5" y1="721" x2="483.5" y2="723.2" stroke="#111" stroke-width="1"/>
<line x1="485.2" y1="721" x2="485.2" y2="723.2" stroke="#111" stroke-width="1"/>
<line x1="505.7" y1="721" x2="505.7" y2="723.2" stroke="#111" stroke-width="1"/>
<line x1="512.3" y1="721" x2="512.3" y2="723.2" stroke="#111" stroke-width="1"/>
<line x1="518" y1="721" x2="518" y2="723.2" stroke="#111" stroke-width="1"/>
<line x1="524.7" y1="721" x2="524.7" y2="724.2" stroke="#111" stroke-width="1"/>
<line x1="530.4" y1="721" x2="530.4" y2="723.2" stroke="#111" stroke-width="1"/>
<line x1="533.2" y1="721" x2="533.2" y2="723.2" stroke="#111" stroke-width="1"/>
<line x1="536.1" y1="721" x2="536.1" y2="723.2" stroke="#111" stroke-width="1"/>
<line x1="538.9" y1="721" x2="538.9" y2="723.2" stroke="#111" stroke-width="1"/>
<line x1="540.8" y1="721" x2="540.8" y2="723.2" stroke="#111" stroke-width="1"/>
<line x1="543.3" y1="721" x2="543.3" y2="723.2" stroke="#111" stroke-width="1"/>
<line x1="545.5" y1="721" x2="545.5" y2="723.2" stroke="#111" stroke-width="1"/>
<line x1="565.5" y1="721" x2="565.5" y2="723.2" stroke="#111" stroke-width="1"/>
<line x1="572.1" y1="721" x2="572.1" y2="723.2" stroke="#111" stroke-width="1"/>
<line x1="575.9" y1="721" x2="575.9" y2="723.2" stroke="#111" stroke-width="1"/>
<line x1="579.7" y1="721" x2="579.7" y2="723.2" stroke="#111" stroke-width="1"/>
<line x1="583.5" y1="721" x2="583.5" y2="724.2" stroke="#111" stroke-width="1"/>
<line x1="587.3" y1="721" x2="587.3" y2="723.2" stroke="#111" stroke-width="1"/>
<line x1="591.1" y1="721" x2="591.1" y2="723.2" stroke="#111" stroke-width="1"/>
<line x1="594.9" y1="721" x2="594.9" y2="723.2" stroke="#111" stroke-width="1"/>
<line x1="597.7" y1="721" x2="597.7" y2="723.2" stroke="#111" stroke-width="1"/>
<line x1="600.2" y1="721" x2="600.2" y2="723.2" stroke="#111" stroke-width="1"/>
<line x1="618.6" y1="721" x2="618.6" y2="723.2" stroke="#111" stroke-width="1"/>
<rect x="444.6" y="721.0" width="10" height="3.4" fill="#111"/>
<text x="413.3" y="737.6" font-size="10" text-anchor="middle"><tspan>-10</tspan><tspan dy="-3.4" font-size="5.5">3</tspan></text>
<text x="454.2" y="737.6" font-size="10" text-anchor="middle">0</text>
<text x="489.6" y="737.6" font-size="10" text-anchor="middle"><tspan>10</tspan><tspan dy="-3.4" font-size="5.5">3</tspan></text>
<text x="551.7" y="737.6" font-size="10" text-anchor="middle"><tspan>10</tspan><tspan dy="-3.4" font-size="5.5">4</tspan></text>
<text x="606.8" y="737.6" font-size="10" text-anchor="middle"><tspan>10</tspan><tspan dy="-3.4" font-size="5.5">5</tspan></text>
<text x="513" y="753" font-size="12.1" text-anchor="middle">Mitochondrial Depolarization</text>
<rect x="632.1" y="511.6" width="13.7" height="13.1" fill="#231f20"/>
<rect x="632.1" y="539.7" width="13.7" height="13.3" fill="#2a40a0"/>
<text x="650" y="522.9" font-size="10.5"><tspan>697</tspan><tspan dy="-3.9" font-size="6.3" font-style="italic" letter-spacing="0.9">WT</tspan></text>
<text x="650" y="550.3" font-size="10.5"><tspan>697</tspan><tspan dy="-3.9" font-size="6.3" font-style="italic" letter-spacing="0.9">KI</tspan></text>
<text x="-0.6" y="688" font-size="16.5" font-weight="bold" fill="#000">g</text>
<text x="89.3" y="710.7" font-size="11.8" text-anchor="middle" font-weight="bold" fill="#000">DMSO</text>
<text x="253.6" y="710.9" font-size="12" text-anchor="middle" font-weight="bold" fill="#000">Venetoclax</text>
<text x="323.4" y="808.6" font-size="12.2" font-weight="bold" fill="#000"><tspan>697</tspan><tspan dy="-4.4" font-size="7.32" font-style="italic">WT</tspan></text>
<text x="323.4" y="966.3" font-size="12.2" font-weight="bold" fill="#000"><tspan>697</tspan><tspan dy="-4.4" font-size="7.32" font-style="italic">KI</tspan></text>
<rect x="21.8" y="724.7" width="135.1" height="133.6" fill="#fff" stroke="#777" stroke-width="0.8"/>
<path d="M54.56,792.39a0.45,0.45 0 1 0 0.9,0a0.45,0.45 0 1 0 -0.9,0M51.81,782.88a0.45,0.45 0 1 0 0.9,0a0.45,0.45 0 1 0 -0.9,0M50,782.07a0.45,0.45 0 1 0 0.9,0a0.45,0.45 0 1 0 -0.9,0M55.15,800.72a0.45,0.45 0 1 0 0.9,0a0.45,0.45 0 1 0 -0.9,0M49.63,785.04a0.45,0.45 0 1 0 0.9,0a0.45,0.45 0 1 0 -0.9,0M59.45,792.86a0.45,0.45 0 1 0 0.9,0a0.45,0.45 0 1 0 -0.9,0M55.6,782.56a0.45,0.45 0 1 0 0.9,0a0.45,0.45 0 1 0 -0.9,0M54.26,795.56a0.45,0.45 0 1 0 0.9,0a0.45,0.45 0 1 0 -0.9,0M41.11,786.34a0.45,0.45 0 1 0 0.9,0a0.45,0.45 0 1 0 -0.9,0M35.54,779.68a0.45,0.45 0 1 0 0.9,0a0.45,0.45 0 1 0 -0.9,0M36.13,788.12a0.45,0.45 0 1 0 0.9,0a0.45,0.45 0 1 0 -0.9,0M41.88,792.17a0.45,0.45 0 1 0 0.9,0a0.45,0.45 0 1 0 -0.9,0M56.12,788.5a0.45,0.45 0 1 0 0.9,0a0.45,0.45 0 1 0 -0.9,0M29.38,785.69a0.45,0.45 0 1 0 0.9,0a0.45,0.45 0 1 0 -0.9,0" fill="#5050ee" stroke="none" stroke-width="1"/>
<path d="M103.16,796.13a0.45,0.45 0 1 0 0.9,0a0.45,0.45 0 1 0 -0.9,0M91.31,790.22a0.45,0.45 0 1 0 0.9,0a0.45,0.45 0 1 0 -0.9,0M95.72,786.91a0.45,0.45 0 1 0 0.9,0a0.45,0.45 0 1 0 -0.9,0M112.04,786.92a0.45,0.45 0 1 0 0.9,0a0.45,0.45 0 1 0 -0.9,0M103.29,803.84a0.45,0.45 0 1 0 0.9,0a0.45,0.45 0 1 0 -0.9,0M98.88,793.88a0.45,0.45 0 1 0 0.9,0a0.45,0.45 0 1 0 -0.9,0M104.43,795.64a0.45,0.45 0 1 0 0.9,0a0.45,0.45 0 1 0 -0.9,0M93.75,795.76a0.45,0.45 0 1 0 0.9,0a0.45,0.45 0 1 0 -0.9,0M114.42,779.53a0.45,0.45 0 1 0 0.9,0a0.45,0.45 0 1 0 -0.9,0M110.43,796.19a0.45,0.45 0 1 0 0.9,0a0.45,0.45 0 1 0 -0.9,0M98.42,815a0.45,0.45 0 1 0 0.9,0a0.45,0.45 0 1 0 -0.9,0M109.65,783.01a0.45,0.45 0 1 0 0.9,0a0.45,0.45 0 1 0 -0.9,0M104.15,800.77a0.45,0.45 0 1 0 0.9,0a0.45,0.45 0 1 0 -0.9,0M102.04,801.83a0.45,0.45 0 1 0 0.9,0a0.45,0.45 0 1 0 -0.9,0M103.02,801.67a0.45,0.45 0 1 0 0.9,0a0.45,0.45 0 1 0 -0.9,0M115.06,788.24a0.45,0.45 0 1 0 0.9,0a0.45,0.45 0 1 0 -0.9,0M105.18,790.37a0.45,0.45 0 1 0 0.9,0a0.45,0.45 0 1 0 -0.9,0M104.57,783.13a0.45,0.45 0 1 0 0.9,0a0.45,0.45 0 1 0 -0.9,0M98.92,793.04a0.45,0.45 0 1 0 0.9,0a0.45,0.45 0 1 0 -0.9,0M110.74,806.45a0.45,0.45 0 1 0 0.9,0a0.45,0.45 0 1 0 -0.9,0M92.96,787.05a0.45,0.45 0 1 0 0.9,0a0.45,0.45 0 1 0 -0.9,0M108.73,775.08a0.45,0.45 0 1 0 0.9,0a0.45,0.45 0 1 0 -0.9,0M99.84,794.03a0.45,0.45 0 1 0 0.9,0a0.45,0.45 0 1 0 -0.9,0M113.61,801.89a0.45,0.45 0 1 0 0.9,0a0.45,0.45 0 1 0 -0.9,0M100.93,791.31a0.45,0.45 0 1 0 0.9,0a0.45,0.45 0 1 0 -0.9,0M101.55,810.24a0.45,0.45 0 1 0 0.9,0a0.45,0.45 0 1 0 -0.9,0M100.13,791.96a0.45,0.45 0 1 0 0.9,0a0.45,0.45 0 1 0 -0.9,0M106.37,793.79a0.45,0.45 0 1 0 0.9,0a0.45,0.45 0 1 0 -0.9,0M101.97,783.86a0.45,0.45 0 1 0 0.9,0a0.45,0.45 0 1 0 -0.9,0M103.46,790.56a0.45,0.45 0 1 0 0.9,0a0.45,0.45 0 1 0 -0.9,0M112.88,801.53a0.45,0.45 0 1 0 0.9,0a0.45,0.45 0 1 0 -0.9,0M103.36,801.68a0.45,0.45 0 1 0 0.9,0a0.45,0.45 0 1 0 -0.9,0M100.83,805.52a0.45,0.45 0 1 0 0.9,0a0.45,0.45 0 1 0 -0.9,0M103.51,800.83a0.45,0.45 0 1 0 0.9,0a0.45,0.45 0 1 0 -0.9,0M93.22,798.47a0.45,0.45 0 1 0 0.9,0a0.45,0.45 0 1 0 -0.9,0M90.04,774.65a0.45,0.45 0 1 0 0.9,0a0.45,0.45 0 1 0 -0.9,0M101.11,786a0.45,0.45 0 1 0 0.9,0a0.45,0.45 0 1 0 -0.9,0M104.86,817.45a0.45,0.45 0 1 0 0.9,0a0.45,0.45 0 1 0 -0.9,0M96.9,788.76a0.45,0.45 0 1 0 0.9,0a0.45,0.45 0 1 0 -0.9,0M105.19,799.93a0.45,0.45 0 1 0 0.9,0a0.45,0.45 0 1 0 -0.9,0M102.14,792.94a0.45,0.45 0 1 0 0.9,0a0.45,0.45 0 1 0 -0.9,0M109.17,800.2a0.45,0.45 0 1 0 0.9,0a0.45,0.45 0 1 0 -0.9,0M95.28,794.21a0.45,0.45 0 1 0 0.9,0a0.45,0.45 0 1 0 -0.9,0M103.83,784.46a0.45,0.45 0 1 0 0.9,0a0.45,0.45 0 1 0 -0.9,0M105.63,786.42a0.45,0.45 0 1 0 0.9,0a0.45,0.45 0 1 0 -0.9,0" fill="#5050ee" stroke="none" stroke-width="1"/>
<path d="M108.24,835.51a0.45,0.45 0 1 0 0.9,0a0.45,0.45 0 1 0 -0.9,0M98.53,825.32a0.45,0.45 0 1 0 0.9,0a0.45,0.45 0 1 0 -0.9,0M96.25,807.03a0.45,0.45 0 1 0 0.9,0a0.45,0.45 0 1 0 -0.9,0M85.1,837.72a0.45,0.45 0 1 0 0.9,0a0.45,0.45 0 1 0 -0.9,0M74.14,844.01a0.45,0.45 0 1 0 0.9,0a0.45,0.45 0 1 0 -0.9,0M78.34,842.84a0.45,0.45 0 1 0 0.9,0a0.45,0.45 0 1 0 -0.9,0M88.25,843.13a0.45,0.45 0 1 0 0.9,0a0.45,0.45 0 1 0 -0.9,0M98.99,813.02a0.45,0.45 0 1 0 0.9,0a0.45,0.45 0 1 0 -0.9,0M111.29,851.74a0.45,0.45 0 1 0 0.9,0a0.45,0.45 0 1 0 -0.9,0M96.83,829.44a0.45,0.45 0 1 0 0.9,0a0.45,0.45 0 1 0 -0.9,0M95.79,820.32a0.45,0.45 0 1 0 0.9,0a0.45,0.45 0 1 0 -0.9,0M109.63,825.94a0.45,0.45 0 1 0 0.9,0a0.45,0.45 0 1 0 -0.9,0M96.99,822.69a0.45,0.45 0 1 0 0.9,0a0.45,0.45 0 1 0 -0.9,0M90.66,816.39a0.45,0.45 0 1 0 0.9,0a0.45,0.45 0 1 0 -0.9,0M111.38,831a0.45,0.45 0 1 0 0.9,0a0.45,0.45 0 1 0 -0.9,0M108.18,833.17a0.45,0.45 0 1 0 0.9,0a0.45,0.45 0 1 0 -0.9,0M89.91,828.75a0.45,0.45 0 1 0 0.9,0a0.45,0.45 0 1 0 -0.9,0M91.39,833.1a0.45,0.45 0 1 0 0.9,0a0.45,0.45 0 1 0 -0.9,0M93.42,829.1a0.45,0.45 0 1 0 0.9,0a0.45,0.45 0 1 0 -0.9,0M82.39,822.51a0.45,0.45 0 1 0 0.9,0a0.45,0.45 0 1 0 -0.9,0M115.74,824.27a0.45,0.45 0 1 0 0.9,0a0.45,0.45 0 1 0 -0.9,0M85.95,837.39a0.45,0.45 0 1 0 0.9,0a0.45,0.45 0 1 0 -0.9,0M113.03,814.1a0.45,0.45 0 1 0 0.9,0a0.45,0.45 0 1 0 -0.9,0M95.26,824.78a0.45,0.45 0 1 0 0.9,0a0.45,0.45 0 1 0 -0.9,0M78.18,842.55a0.45,0.45 0 1 0 0.9,0a0.45,0.45 0 1 0 -0.9,0M97.29,833.93a0.45,0.45 0 1 0 0.9,0a0.45,0.45 0 1 0 -0.9,0M89.27,838.91a0.45,0.45 0 1 0 0.9,0a0.45,0.45 0 1 0 -0.9,0M91.62,831.14a0.45,0.45 0 1 0 0.9,0a0.45,0.45 0 1 0 -0.9,0M85.36,817.19a0.45,0.45 0 1 0 0.9,0a0.45,0.45 0 1 0 -0.9,0M112.24,826.41a0.45,0.45 0 1 0 0.9,0a0.45,0.45 0 1 0 -0.9,0M100.76,832.56a0.45,0.45 0 1 0 0.9,0a0.45,0.45 0 1 0 -0.9,0M92.7,826.4a0.45,0.45 0 1 0 0.9,0a0.45,0.45 0 1 0 -0.9,0M104.48,829.08a0.45,0.45 0 1 0 0.9,0a0.45,0.45 0 1 0 -0.9,0M95.88,833.29a0.45,0.45 0 1 0 0.9,0a0.45,0.45 0 1 0 -0.9,0M110.49,841.85a0.45,0.45 0 1 0 0.9,0a0.45,0.45 0 1 0 -0.9,0M101.76,825.67a0.45,0.45 0 1 0 0.9,0a0.45,0.45 0 1 0 -0.9,0M82.35,845.34a0.45,0.45 0 1 0 0.9,0a0.45,0.45 0 1 0 -0.9,0M108.18,831.17a0.45,0.45 0 1 0 0.9,0a0.45,0.45 0 1 0 -0.9,0M103.51,843.16a0.45,0.45 0 1 0 0.9,0a0.45,0.45 0 1 0 -0.9,0M106.69,844.98a0.45,0.45 0 1 0 0.9,0a0.45,0.45 0 1 0 -0.9,0M92.54,852.69a0.45,0.45 0 1 0 0.9,0a0.45,0.45 0 1 0 -0.9,0M83.84,844.2a0.45,0.45 0 1 0 0.9,0a0.45,0.45 0 1 0 -0.9,0M102.98,844.36a0.45,0.45 0 1 0 0.9,0a0.45,0.45 0 1 0 -0.9,0M118.22,852.3a0.45,0.45 0 1 0 0.9,0a0.45,0.45 0 1 0 -0.9,0M84.95,811.05a0.45,0.45 0 1 0 0.9,0a0.45,0.45 0 1 0 -0.9,0M106.54,819.8a0.45,0.45 0 1 0 0.9,0a0.45,0.45 0 1 0 -0.9,0M97.41,843.92a0.45,0.45 0 1 0 0.9,0a0.45,0.45 0 1 0 -0.9,0M79.47,805.57a0.45,0.45 0 1 0 0.9,0a0.45,0.45 0 1 0 -0.9,0M100.4,833.58a0.45,0.45 0 1 0 0.9,0a0.45,0.45 0 1 0 -0.9,0M94.85,833.5a0.45,0.45 0 1 0 0.9,0a0.45,0.45 0 1 0 -0.9,0M88.08,813.32a0.45,0.45 0 1 0 0.9,0a0.45,0.45 0 1 0 -0.9,0M95.72,820.37a0.45,0.45 0 1 0 0.9,0a0.45,0.45 0 1 0 -0.9,0M79.47,839.57a0.45,0.45 0 1 0 0.9,0a0.45,0.45 0 1 0 -0.9,0M96.87,838.28a0.45,0.45 0 1 0 0.9,0a0.45,0.45 0 1 0 -0.9,0M86.67,824.45a0.45,0.45 0 1 0 0.9,0a0.45,0.45 0 1 0 -0.9,0M86.56,821.47a0.45,0.45 0 1 0 0.9,0a0.45,0.45 0 1 0 -0.9,0M99.7,822.82a0.45,0.45 0 1 0 0.9,0a0.45,0.45 0 1 0 -0.9,0M101.47,837.42a0.45,0.45 0 1 0 0.9,0a0.45,0.45 0 1 0 -0.9,0M119.83,814.89a0.45,0.45 0 1 0 0.9,0a0.45,0.45 0 1 0 -0.9,0M107.32,831.84a0.45,0.45 0 1 0 0.9,0a0.45,0.45 0 1 0 -0.9,0" fill="#5050ee" stroke="none" stroke-width="1"/>
<path d="M63.47,821.5a0.45,0.45 0 1 0 0.9,0a0.45,0.45 0 1 0 -0.9,0M60.79,843.43a0.45,0.45 0 1 0 0.9,0a0.45,0.45 0 1 0 -0.9,0M63.06,836.81a0.45,0.45 0 1 0 0.9,0a0.45,0.45 0 1 0 -0.9,0M61.81,847.55a0.45,0.45 0 1 0 0.9,0a0.45,0.45 0 1 0 -0.9,0M63.42,814a0.45,0.45 0 1 0 0.9,0a0.45,0.45 0 1 0 -0.9,0M59.4,816.31a0.45,0.45 0 1 0 0.9,0a0.45,0.45 0 1 0 -0.9,0M44.04,830.7a0.45,0.45 0 1 0 0.9,0a0.45,0.45 0 1 0 -0.9,0M71.55,836.47a0.45,0.45 0 1 0 0.9,0a0.45,0.45 0 1 0 -0.9,0M56.51,826.59a0.45,0.45 0 1 0 0.9,0a0.45,0.45 0 1 0 -0.9,0M70.33,837.58a0.45,0.45 0 1 0 0.9,0a0.45,0.45 0 1 0 -0.9,0M63.84,835.47a0.45,0.45 0 1 0 0.9,0a0.45,0.45 0 1 0 -0.9,0M63.78,844.05a0.45,0.45 0 1 0 0.9,0a0.45,0.45 0 1 0 -0.9,0M66.87,838.16a0.45,0.45 0 1 0 0.9,0a0.45,0.45 0 1 0 -0.9,0M57.29,841.11a0.45,0.45 0 1 0 0.9,0a0.45,0.45 0 1 0 -0.9,0M59.44,846.94a0.45,0.45 0 1 0 0.9,0a0.45,0.45 0 1 0 -0.9,0M55.92,834.62a0.45,0.45 0 1 0 0.9,0a0.45,0.45 0 1 0 -0.9,0M63.51,822.75a0.45,0.45 0 1 0 0.9,0a0.45,0.45 0 1 0 -0.9,0M73.88,850.6a0.45,0.45 0 1 0 0.9,0a0.45,0.45 0 1 0 -0.9,0M60.77,843.72a0.45,0.45 0 1 0 0.9,0a0.45,0.45 0 1 0 -0.9,0M65.82,809.86a0.45,0.45 0 1 0 0.9,0a0.45,0.45 0 1 0 -0.9,0M65.05,835.39a0.45,0.45 0 1 0 0.9,0a0.45,0.45 0 1 0 -0.9,0M64.05,825.23a0.45,0.45 0 1 0 0.9,0a0.45,0.45 0 1 0 -0.9,0M61.93,834.22a0.45,0.45 0 1 0 0.9,0a0.45,0.45 0 1 0 -0.9,0M70.68,839.34a0.45,0.45 0 1 0 0.9,0a0.45,0.45 0 1 0 -0.9,0M63.52,851.29a0.45,0.45 0 1 0 0.9,0a0.45,0.45 0 1 0 -0.9,0M60.22,832.11a0.45,0.45 0 1 0 0.9,0a0.45,0.45 0 1 0 -0.9,0M52.65,851.69a0.45,0.45 0 1 0 0.9,0a0.45,0.45 0 1 0 -0.9,0M69.34,845.17a0.45,0.45 0 1 0 0.9,0a0.45,0.45 0 1 0 -0.9,0M67.56,837.1a0.45,0.45 0 1 0 0.9,0a0.45,0.45 0 1 0 -0.9,0M64.84,833.48a0.45,0.45 0 1 0 0.9,0a0.45,0.45 0 1 0 -0.9,0" fill="#5050ee" stroke="none" stroke-width="1"/>
<path d="M21.8,834.1 22.2,833.8 22.6,833.5 23.1,833.1 23.6,832.7 24.2,832.3 24.6,832.0 25.0,831.8 25.4,831.5 26.0,831.1 26.6,830.7 27.0,830.5 27.4,830.3 28.1,829.9 28.6,829.6 29.0,829.4 29.6,829.1 30.2,828.8 30.6,828.6 31.3,828.3 31.8,828.1 32.2,827.9 33.0,827.6 33.4,827.4 34.2,827.1 34.6,827.0 35.4,826.7 35.8,826.6 36.6,826.3 37.0,826.2 37.8,826.0 38.3,825.9 39.0,825.7 39.8,825.5 40.2,825.5 41.0,825.3 41.8,825.2 42.4,825.1 43.0,825.0 43.8,824.9 44.6,824.9 45.4,824.8 46.2,824.8 47.0,824.8 47.8,824.8 48.6,824.8 49.4,824.8 50.2,824.9 51.0,825.0 51.8,825.1 52.2,825.1 53.0,825.3 53.8,825.4 54.2,825.5 55.0,825.7 55.6,825.9 56.2,826.1 56.9,826.3 57.4,826.5 57.9,826.7 58.6,827.0 59.0,827.2 59.6,827.5 60.2,827.8 60.6,828.1 61.0,828.3 61.6,828.7 62.1,829.1 62.6,829.5 63.0,829.8 63.4,830.2 63.8,830.6 64.2,831.0 64.6,831.5 64.9,831.9 65.2,832.3 65.5,832.7 65.8,833.3 66.1,833.9 66.3,834.3 66.6,835.1 66.7,835.5 67.0,836.3 67.0,836.7 67.2,837.5 67.2,838.3 67.3,839.1 67.2,839.9 67.1,840.7 67.0,841.4 66.9,841.9 66.7,842.7 66.6,843.1 66.3,843.9 66.1,844.3 65.8,845.0 65.6,845.5 65.3,845.9 65.0,846.5 64.6,847.1 64.4,847.5 64.1,847.9 63.8,848.3 63.4,848.8 63.0,849.3 62.6,849.8 62.2,850.2 61.8,850.7 61.4,851.1 61.0,851.5 60.6,851.9 60.2,852.3 59.8,852.6 59.4,853.0 59.0,853.3 58.6,853.6 58.2,853.9 57.7,854.3 57.2,854.7 56.7,855.1 56.2,855.4 55.8,855.7 55.4,856.0 54.9,856.3 54.3,856.7 53.8,857.0 53.4,857.2 52.9,857.5 52.2,857.9 51.8,858.1 51.5,858.3 M21.8,840.1 22.2,839.8 22.6,839.5 23.1,839.1 23.6,838.7 24.2,838.3 24.6,838.0 25.0,837.8 25.4,837.5 26.0,837.1 26.6,836.8 27.0,836.5 27.4,836.3 28.1,835.9 28.6,835.6 29.0,835.4 29.7,835.1 30.2,834.9 30.6,834.7 31.4,834.3 31.8,834.2 32.5,833.9 33.0,833.7 33.5,833.5 34.2,833.3 34.7,833.1 35.4,832.9 36.1,832.7 36.6,832.6 37.4,832.4 37.8,832.3 38.6,832.1 39.4,832.0 40.2,831.9 40.6,831.9 41.4,831.8 42.2,831.7 43.0,831.7 43.8,831.7 44.6,831.7 45.4,831.8 46.2,831.9 46.6,831.9 47.4,832.1 48.2,832.2 48.6,832.3 49.4,832.6 49.8,832.7 50.6,833.0 51.0,833.2 51.5,833.5 52.2,833.9 52.6,834.1 53.0,834.4 53.4,834.7 53.8,835.1 54.2,835.5 54.6,836.0 55.0,836.5 55.4,837.1 55.6,837.5 55.8,838.0 56.1,838.7 56.2,839.2 56.3,839.9 56.4,840.7 56.4,841.5 56.3,842.3 56.2,842.8 56.0,843.5 55.8,844.3 55.6,844.7 55.4,845.3 55.1,845.9 54.9,846.3 54.6,846.8 54.2,847.4 53.9,847.9 53.6,848.3 53.3,848.7 53.0,849.1 52.6,849.5 52.2,850.0 51.8,850.4 51.4,850.8 51.0,851.2 50.6,851.5 50.2,851.9 49.7,852.3 49.2,852.7 48.7,853.1 48.2,853.5 47.8,853.8 47.4,854.1 47.0,854.4 46.5,854.7 45.9,855.1 45.4,855.4 45.0,855.7 44.6,855.9 44.0,856.3 43.4,856.6 43.0,856.9 42.6,857.1 41.9,857.5 41.4,857.8 41.0,858.0 40.4,858.3 M21.8,842.3 22.2,842.0 22.6,841.7 23.0,841.4 23.4,841.1 24.0,840.7 24.6,840.3 25.0,840.0 25.4,839.8 25.9,839.5 26.6,839.1 27.0,838.9 27.4,838.7 28.2,838.3 28.6,838.1 29.0,837.9 29.8,837.6 30.2,837.4 30.9,837.1 31.4,836.9 32.1,836.7 32.6,836.5 33.3,836.3 33.8,836.2 34.6,836.0 35.0,835.9 35.8,835.7 36.6,835.5 37.0,835.5 37.8,835.3 38.6,835.3 39.4,835.2 40.2,835.2 41.0,835.2 41.8,835.2 42.6,835.2 43.4,835.3 44.2,835.5 44.6,835.6 45.4,835.8 45.8,835.9 46.6,836.2 47.0,836.4 47.6,836.7 48.2,837.1 48.6,837.4 49.0,837.7 49.4,838.1 49.8,838.6 50.1,839.1 50.4,839.5 50.6,840.0 50.8,840.7 51.0,841.5 51.0,841.9 51.0,842.7 51.0,843.2 50.9,843.9 50.7,844.7 50.5,845.1 50.2,845.9 50.0,846.3 49.8,846.7 49.4,847.4 49.1,847.9 48.8,848.3 48.5,848.7 48.2,849.1 47.8,849.5 47.4,850.0 47.0,850.4 46.6,850.8 46.2,851.2 45.8,851.6 45.4,851.9 45.0,852.3 44.5,852.7 44.0,853.1 43.5,853.5 43.0,853.9 42.6,854.2 42.2,854.5 41.8,854.8 41.4,855.1 40.9,855.5 40.4,855.9 39.8,856.3 39.4,856.6 39.0,856.9 38.6,857.1 38.0,857.5 37.4,857.9 37.0,858.2 36.8,858.3 M21.8,843.7 22.2,843.4 22.6,843.0 23.1,842.7 23.6,842.3 24.2,841.9 24.6,841.7 25.0,841.4 25.5,841.1 26.2,840.7 26.6,840.5 27.0,840.3 27.8,839.9 28.2,839.7 28.8,839.5 29.4,839.2 29.8,839.1 30.6,838.8 31.0,838.7 31.8,838.4 32.2,838.3 33.0,838.1 33.8,837.9 34.2,837.8 35.0,837.7 35.8,837.6 36.6,837.5 37.0,837.5 37.8,837.5 38.6,837.4 39.4,837.5 39.8,837.5 40.6,837.6 41.4,837.7 42.1,837.9 42.6,838.1 43.3,838.3 43.8,838.5 44.2,838.7 44.8,839.1 45.3,839.5 45.8,839.9 46.1,840.3 46.4,840.7 46.7,841.1 47.0,841.9 47.1,842.3 47.2,843.1 47.2,843.9 47.1,844.7 47.0,845.2 46.8,845.9 46.6,846.3 46.2,847.1 46.0,847.5 45.8,847.9 45.4,848.5 45.0,849.1 44.7,849.5 44.4,849.9 44.1,850.3 43.7,850.7 43.4,851.1 43.0,851.5 42.6,851.9 42.2,852.3 41.8,852.7 41.4,853.1 41.0,853.5 40.5,853.9 40.1,854.3 39.6,854.7 39.1,855.1 38.7,855.5 38.2,855.9 37.8,856.2 37.4,856.5 37.0,856.8 36.6,857.1 36.0,857.5 35.4,857.9 35.0,858.2 34.8,858.3 M21.8,844.7 22.2,844.4 22.6,844.1 23.0,843.8 23.4,843.5 23.9,843.1 24.6,842.7 25.0,842.4 25.4,842.2 25.9,841.9 26.6,841.5 27.0,841.3 27.5,841.1 28.2,840.8 28.6,840.6 29.4,840.3 29.8,840.2 30.6,839.9 31.0,839.8 31.8,839.6 32.3,839.5 33.0,839.4 33.8,839.2 34.6,839.1 35.0,839.1 35.8,839.1 36.6,839.0 37.4,839.1 37.8,839.1 38.6,839.2 39.4,839.4 39.9,839.5 40.6,839.7 41.0,839.9 41.8,840.3 42.2,840.5 42.6,840.8 43.0,841.2 43.4,841.7 43.8,842.3 44.0,842.7 44.2,843.3 44.3,843.9 44.4,844.7 44.3,845.5 44.2,845.9 44.0,846.7 43.8,847.2 43.5,847.9 43.3,848.3 43.0,848.8 42.6,849.5 42.3,849.9 42.0,850.3 41.7,850.7 41.4,851.1 41.0,851.6 40.6,852.1 40.2,852.6 39.8,853.0 39.4,853.4 39.0,853.8 38.6,854.2 38.2,854.6 37.8,855.0 37.4,855.3 37.0,855.7 36.6,856.0 36.2,856.3 35.7,856.7 35.2,857.1 34.6,857.5 34.2,857.8 33.8,858.1 33.4,858.3 M21.8,845.6 22.2,845.2 22.6,844.9 23.0,844.6 23.4,844.3 24.0,843.9 24.6,843.5 25.0,843.2 25.4,843.0 25.9,842.7 26.6,842.4 27.0,842.2 27.6,841.9 28.2,841.6 28.6,841.5 29.4,841.2 29.8,841.1 30.6,840.8 31.2,840.7 31.8,840.6 32.6,840.4 33.4,840.3 33.8,840.3 34.6,840.2 35.4,840.2 36.2,840.3 36.6,840.3 37.4,840.5 38.2,840.6 38.6,840.8 39.4,841.1 39.8,841.3 40.2,841.6 40.7,841.9 41.1,842.3 41.4,842.7 41.8,843.3 42.0,843.9 42.2,844.5 42.3,845.1 42.3,845.9 42.2,846.4 42.1,847.1 41.8,847.9 41.6,848.3 41.4,848.8 41.1,849.5 40.8,849.9 40.6,850.3 40.2,850.9 39.8,851.5 39.5,851.9 39.2,852.3 38.8,852.7 38.5,853.1 38.1,853.5 37.7,853.9 37.3,854.3 36.9,854.7 36.5,855.1 36.1,855.5 35.6,855.9 35.1,856.3 34.6,856.7 34.2,857.0 33.8,857.3 33.4,857.5 32.9,857.9 32.2,858.3 M21.8,846.3 22.3,845.9 22.7,845.5 23.3,845.1 23.8,844.7 24.2,844.4 24.6,844.2 25.0,843.9 25.7,843.5 26.2,843.2 26.6,843.0 27.3,842.7 27.8,842.5 28.3,842.3 29.0,842.1 29.5,841.9 30.2,841.7 31.0,841.5 31.4,841.4 32.2,841.3 33.0,841.2 33.8,841.2 34.6,841.2 35.4,841.2 36.2,841.4 36.7,841.5 37.4,841.7 37.9,841.9 38.6,842.3 39.0,842.6 39.4,842.9 39.8,843.3 40.2,843.9 40.4,844.3 40.6,844.9 40.7,845.5 40.7,846.3 40.7,847.1 40.6,847.5 40.4,848.3 40.2,848.8 39.9,849.5 39.7,849.9 39.4,850.4 39.0,851.1 38.7,851.5 38.4,851.9 38.1,852.3 37.8,852.7 37.4,853.2 37.0,853.7 36.6,854.1 36.2,854.5 35.8,854.9 35.4,855.3 35.0,855.6 34.6,855.9 34.2,856.3 33.6,856.7 33.1,857.1 32.6,857.4 32.2,857.7 31.8,857.9 31.2,858.3 M21.8,847.0 22.2,846.6 22.6,846.3 23.0,845.9 23.6,845.5 24.1,845.1 24.6,844.8 25.0,844.5 25.4,844.3 26.1,843.9 26.6,843.6 27.0,843.5 27.8,843.1 28.2,843.0 29.0,842.7 29.4,842.6 30.2,842.4 30.6,842.3 31.4,842.1 32.2,842.0 33.0,842.0 33.8,842.0 34.6,842.0 35.4,842.2 35.9,842.3 36.6,842.5 37.0,842.7 37.7,843.1 38.2,843.5 38.6,843.9 38.9,844.3 39.1,844.7 39.4,845.5 39.5,845.9 39.5,846.7 39.5,847.5 39.4,848.0 39.2,848.7 39.0,849.3 38.8,849.9 38.6,850.3 38.2,850.9 37.9,851.5 37.6,851.9 37.3,852.3 37.0,852.7 36.6,853.2 36.2,853.7 35.8,854.1 35.4,854.5 35.0,854.9 34.6,855.2 34.2,855.6 33.8,855.9 33.3,856.3 32.8,856.7 32.2,857.1 31.8,857.4 31.4,857.6 30.9,857.9 30.2,858.3 M21.8,847.6 22.2,847.2 22.6,846.9 23.0,846.5 23.4,846.2 23.8,845.9 24.3,845.5 25.0,845.1 25.4,844.8 25.8,844.6 26.4,844.3 27.0,844.0 27.4,843.8 28.2,843.5 28.6,843.4 29.4,843.1 29.8,843.0 30.6,842.9 31.4,842.7 31.8,842.7 32.6,842.7 33.4,842.7 33.8,842.7 34.6,842.8 35.4,843.0 35.8,843.2 36.4,843.5 37.0,843.9 37.4,844.2 37.8,844.7 38.0,845.1 38.2,845.5 38.5,846.3 38.5,847.1 38.5,847.9 38.3,848.7 38.2,849.2 37.9,849.9 37.8,850.3 37.4,851.0 37.1,851.5 36.8,851.9 36.6,852.3 36.2,852.8 35.8,853.3 35.4,853.7 35.0,854.2 34.6,854.6 34.2,855.0 33.8,855.3 33.4,855.6 33.0,856.0 32.6,856.3 32.0,856.7 31.4,857.1 31.0,857.3 30.6,857.6 30.0,857.9 29.4,858.2 29.1,858.3 M21.8,848.2 22.2,847.8 22.6,847.4 23.0,847.1 23.4,846.7 24.0,846.3 24.5,845.9 25.0,845.6 25.4,845.3 25.8,845.1 26.6,844.7 27.0,844.5 27.5,844.3 28.2,844.0 28.6,843.9 29.4,843.7 30.1,843.5 30.6,843.4 31.4,843.3 32.2,843.3 33.0,843.3 33.8,843.4 34.2,843.5 35.0,843.7 35.4,843.9 36.0,844.3 36.5,844.7 36.9,845.1 37.2,845.5 37.4,846.0 37.6,846.7 37.7,847.5 37.6,848.3 37.5,849.1 37.4,849.5 37.1,850.3 36.9,850.7 36.6,851.2 36.2,851.9 35.9,852.3 35.6,852.7 35.3,853.1 35.0,853.5 34.6,853.9 34.2,854.3 33.8,854.7 33.4,855.1 32.9,855.5 32.4,855.9 31.8,856.3 31.4,856.6 31.0,856.9 30.6,857.1 29.9,857.5 29.4,857.7 29.0,857.9 28.2,858.2 28.1,858.3 M21.8,848.8 22.2,848.4 22.6,848.0 23.0,847.6 23.4,847.2 23.8,846.9 24.2,846.6 24.7,846.3 25.3,845.9 25.8,845.6 26.2,845.4 26.8,845.1 27.4,844.8 27.8,844.7 28.6,844.4 29.0,844.3 29.8,844.1 30.6,843.9 31.0,843.9 31.8,843.9 32.6,843.9 33.0,843.9 33.8,844.1 34.4,844.3 35.0,844.6 35.4,844.8 35.8,845.2 36.2,845.6 36.6,846.3 36.7,846.7 36.9,847.5 36.9,848.3 36.8,849.1 36.6,849.8 36.4,850.3 36.2,850.8 35.8,851.5 35.6,851.9 35.3,852.3 35.0,852.7 34.6,853.2 34.2,853.7 33.8,854.1 33.4,854.5 33.0,854.9 32.6,855.2 32.2,855.5 31.7,855.9 31.1,856.3 30.6,856.6 30.2,856.9 29.8,857.1 29.0,857.5 28.6,857.7 28.0,857.9 27.4,858.1 26.7,858.3 M22.2,858.3 21.8,858.1 M21.8,849.4 22.2,848.9 22.6,848.5 23.0,848.1 23.4,847.8 23.8,847.4 24.2,847.1 24.8,846.7 25.4,846.3 25.8,846.0 26.2,845.8 26.9,845.5 27.4,845.3 27.8,845.1 28.6,844.8 29.1,844.7 29.8,844.6 30.6,844.4 31.4,844.4 32.2,844.4 33.0,844.5 33.6,844.7 34.2,845.0 34.6,845.2 35.0,845.5 35.4,845.9 35.8,846.5 36.1,847.1 36.2,847.8 36.2,848.3 36.2,848.7 36.1,849.5 35.8,850.3 35.6,850.7 35.4,851.2 35.0,851.9 34.7,852.3 34.4,852.7 34.1,853.1 33.8,853.5 33.4,853.9 33.0,854.3 32.6,854.7 32.1,855.1 31.6,855.5 31.1,855.9 30.6,856.2 30.2,856.4 29.7,856.7 29.0,857.1 28.6,857.3 28.0,857.5 27.4,857.7 26.7,857.9 26.2,858.0 25.4,858.1 24.6,858.2 23.8,858.1 23.0,858.0 22.6,857.9 21.8,857.6 M21.8,850.1 22.2,849.5 22.6,849.1 22.9,848.7 23.4,848.3 23.8,847.9 24.2,847.6 24.6,847.3 25.0,847.0 25.4,846.7 26.1,846.3 26.6,846.1 27.0,845.9 27.8,845.5 28.2,845.4 29.0,845.2 29.4,845.1 30.2,845.0 31.0,844.9 31.8,844.9 32.6,845.1 33.0,845.2 33.8,845.5 34.2,845.7 34.6,846.1 35.0,846.6 35.3,847.1 35.4,847.5 35.6,848.3 35.5,849.1 35.4,849.7 35.2,850.3 35.0,850.9 34.7,851.5 34.5,851.9 34.2,852.3 33.8,852.8 33.4,853.3 33.0,853.8 32.6,854.2 32.2,854.5 31.8,854.9 31.4,855.2 31.0,855.5 30.4,855.9 29.8,856.3 29.4,856.5 28.9,856.7 28.2,857.0 27.8,857.2 27.0,857.4 26.6,857.5 25.8,857.7 25.0,857.7 24.2,857.7 23.4,857.6 22.9,857.5 22.2,857.2 21.8,857.0 M21.8,850.8 22.1,850.3 22.4,849.9 22.7,849.5 23.1,849.1 23.5,848.7 23.9,848.3 24.4,847.9 24.9,847.5 25.4,847.2 25.8,846.9 26.2,846.7 27.0,846.3 27.4,846.1 28.0,845.9 28.6,845.7 29.4,845.5 29.8,845.5 30.6,845.4 31.4,845.4 32.0,845.5 32.6,845.7 33.2,845.9 33.8,846.3 34.2,846.7 34.5,847.1 34.7,847.5 34.9,848.3 34.9,849.1 34.8,849.9 34.6,850.5 34.4,851.1 34.2,851.5 33.8,852.1 33.4,852.7 33.1,853.1 32.7,853.5 32.3,853.9 31.9,854.3 31.4,854.7 31.0,855.0 30.6,855.3 30.2,855.6 29.7,855.9 29.0,856.3 28.6,856.5 28.0,856.7 27.4,856.9 26.7,857.1 26.2,857.2 25.4,857.3 24.6,857.3 23.8,857.2 23.2,857.1 22.6,856.8 22.2,856.6 21.8,856.3 M21.8,851.7 22.1,851.1 22.3,850.7 22.6,850.3 23.0,849.7 23.4,849.3 23.8,848.9 24.2,848.5 24.6,848.2 25.0,847.9 25.6,847.5 26.2,847.1 26.6,846.9 27.0,846.7 27.8,846.4 28.2,846.3 29.0,846.1 29.8,845.9 30.2,845.9 31.0,845.9 31.4,845.9 32.2,846.1 32.6,846.3 33.3,846.7 33.7,847.1 34.0,847.5 34.2,848.1 34.3,848.7 34.3,849.5 34.2,850.1 34.0,850.7 33.8,851.2 33.4,851.9 33.2,852.3 32.9,852.7 32.5,853.1 32.2,853.5 31.8,853.9 31.3,854.3 30.8,854.7 30.3,855.1 29.8,855.4 29.4,855.7 28.9,855.9 28.2,856.2 27.8,856.4 27.0,856.6 26.6,856.7 25.8,856.9 25.0,856.9 24.2,856.8 23.6,856.7 23.0,856.5 22.6,856.2 22.2,855.9 21.8,855.4 M26.6,856.3 25.8,856.5 25.0,856.5 24.2,856.4 23.8,856.3 23.0,855.9 22.6,855.5 22.2,855.1 22.0,854.7 21.8,853.9 21.8,853.1 22.0,852.3 22.2,851.8 22.5,851.1 22.8,850.7 23.0,850.3 23.4,849.9 23.8,849.4 24.2,849.0 24.6,848.7 25.0,848.3 25.6,847.9 26.2,847.5 26.6,847.3 27.1,847.1 27.8,846.8 28.2,846.7 29.0,846.5 29.8,846.4 30.6,846.4 31.4,846.5 32.1,846.7 32.6,847.0 33.0,847.3 33.4,847.9 33.6,848.3 33.7,849.1 33.7,849.9 33.5,850.7 33.3,851.1 33.0,851.7 32.6,852.3 32.3,852.7 32.0,853.1 31.6,853.5 31.2,853.9 30.8,854.3 30.2,854.7 29.8,855.0 29.4,855.2 28.9,855.5 28.2,855.8 27.8,856.0 27.0,856.3 26.6,856.3 M26.6,855.9 25.8,856.0 25.0,856.0 24.3,855.9 23.8,855.7 23.4,855.5 22.9,855.1 22.6,854.6 22.4,853.9 22.3,853.1 22.5,852.3 22.6,851.9 23.0,851.1 23.2,850.7 23.5,850.3 23.9,849.9 24.2,849.5 24.7,849.1 25.1,848.7 25.7,848.3 26.2,848.0 26.6,847.8 27.2,847.5 27.8,847.2 28.3,847.1 29.0,846.9 29.8,846.9 30.6,846.9 31.4,847.1 31.8,847.2 32.2,847.5 32.6,847.9 33.0,848.6 33.1,849.1 33.1,849.9 33.0,850.5 32.8,851.1 32.6,851.5 32.2,852.2 31.8,852.7 31.5,853.1 31.1,853.5 30.7,853.9 30.2,854.3 29.8,854.6 29.4,854.8 28.9,855.1 28.2,855.4 27.8,855.6 27.0,855.9 26.6,855.9 M26.6,855.5 25.8,855.6 25.0,855.6 24.6,855.5 23.8,855.1 23.4,854.7 23.1,854.3 22.9,853.9 22.9,853.1 23.0,852.3 23.1,851.9 23.4,851.3 23.7,850.7 24.0,850.3 24.4,849.9 24.8,849.5 25.3,849.1 25.8,848.7 26.2,848.4 26.6,848.2 27.2,847.9 27.8,847.7 28.5,847.5 29.0,847.4 29.8,847.3 30.6,847.4 31.0,847.5 31.7,847.9 32.1,848.3 32.3,848.7 32.5,849.5 32.5,850.3 32.3,851.1 32.1,851.5 31.8,852.0 31.4,852.5 31.0,853.0 30.6,853.4 30.2,853.8 29.8,854.1 29.4,854.4 28.8,854.7 28.2,855.0 27.8,855.2 27.0,855.4 26.6,855.5 M26.2,855.1 25.4,855.1 25.0,855.0 24.3,854.7 23.8,854.3 23.6,853.9 23.4,853.1 23.5,852.3 23.8,851.5 24.0,851.1 24.3,850.7 24.6,850.3 25.0,849.9 25.4,849.5 25.9,849.1 26.6,848.7 27.0,848.5 27.4,848.3 28.2,848.0 28.9,847.9 29.4,847.9 29.9,847.9 30.6,848.1 31.1,848.3 31.5,848.7 31.8,849.2 31.9,849.9 31.8,850.7 31.7,851.1 31.4,851.7 31.0,852.3 30.7,852.7 30.3,853.1 29.9,853.5 29.4,853.9 29.0,854.1 28.6,854.4 27.9,854.7 27.4,854.9 26.6,855.1 26.2,855.1 M27.4,854.4 26.6,854.6 25.8,854.6 25.0,854.4 24.6,854.1 24.2,853.6 24.0,853.1 24.1,852.3 24.2,851.9 24.6,851.1 24.9,850.7 25.2,850.3 25.6,849.9 26.1,849.5 26.6,849.2 27.0,849.0 27.7,848.7 28.2,848.5 29.0,848.4 29.8,848.5 30.4,848.7 30.9,849.1 31.1,849.5 31.3,850.3 31.1,851.1 30.9,851.5 30.6,852.0 30.2,852.6 29.8,853.0 29.4,853.3 29.0,853.6 28.5,853.9 27.8,854.3 27.4,854.4 M27.0,853.9 26.2,854.0 25.7,853.9 25.1,853.5 24.8,853.1 24.7,852.3 25.0,851.5 25.2,851.1 25.5,850.7 25.9,850.3 26.4,849.9 27.0,849.6 27.4,849.4 28.2,849.1 28.6,849.1 29.2,849.1 29.8,849.3 30.2,849.6 30.5,850.3 30.4,851.1 30.2,851.6 29.8,852.2 29.4,852.6 29.0,853.0 28.6,853.3 28.2,853.5 27.4,853.8 27.0,853.9 M27.4,853.1 26.6,853.2 26.2,853.1 25.7,852.7 25.7,851.9 25.8,851.5 26.2,851.0 26.6,850.6 27.0,850.3 27.8,850.0 28.2,849.9 28.7,849.9 29.4,850.3 29.5,850.7 29.4,851.5 29.1,851.9 28.8,852.3 28.3,852.7 27.8,853.0 27.4,853.1" fill="none" stroke="#1c1ce0" stroke-width="0.65"/>
<path d="M105.8,848.8 105.0,848.8 104.2,848.8 103.4,848.8 103.0,848.7 102.2,848.5 101.6,848.3 101.0,848.1 100.6,847.9 99.9,847.5 99.4,847.2 99.0,846.9 98.6,846.6 98.2,846.3 97.7,845.9 97.3,845.5 96.9,845.1 96.6,844.7 96.2,844.2 95.8,843.7 95.4,843.1 95.1,842.7 94.9,842.3 94.6,841.8 94.2,841.1 94.0,840.7 93.8,840.2 93.5,839.5 93.4,839.1 93.1,838.3 93.0,837.9 92.8,837.1 92.6,836.3 92.5,835.9 92.4,835.1 92.3,834.3 92.2,833.5 92.2,833.1 92.2,832.3 92.2,831.5 92.2,831.1 92.3,830.3 92.4,829.5 92.5,828.7 92.6,828.3 92.8,827.5 93.0,826.9 93.2,826.3 93.4,825.8 93.7,825.1 93.9,824.7 94.2,824.2 94.6,823.6 94.9,823.1 95.3,822.7 95.6,822.3 96.0,821.9 96.4,821.5 97.0,821.1 97.4,820.8 97.8,820.6 98.3,820.3 99.0,820.0 99.4,819.9 100.2,819.7 101.0,819.6 101.8,819.5 102.6,819.6 103.4,819.7 104.0,819.9 104.6,820.1 105.1,820.3 105.8,820.6 106.2,820.8 106.7,821.1 107.2,821.5 107.8,821.9 108.2,822.3 108.6,822.6 109.0,823.0 109.4,823.5 109.8,823.9 110.1,824.3 110.4,824.7 110.7,825.1 111.0,825.6 111.4,826.2 111.7,826.7 111.9,827.1 112.2,827.8 112.4,828.3 112.6,828.7 112.9,829.5 113.0,829.9 113.3,830.7 113.4,831.2 113.6,831.9 113.7,832.7 113.8,833.2 113.9,833.9 114.0,834.7 114.0,835.5 114.0,836.3 114.0,837.1 113.9,837.9 113.9,838.7 113.8,839.1 113.6,839.9 113.4,840.7 113.3,841.1 113.1,841.9 112.9,842.3 112.6,843.1 112.4,843.5 112.2,843.9 111.8,844.5 111.4,845.1 111.1,845.5 110.8,845.9 110.4,846.3 110.0,846.7 109.5,847.1 109.0,847.5 108.6,847.7 108.2,848.0 107.4,848.3 107.0,848.5 106.2,848.7 105.8,848.8 M105.0,840.3 104.2,840.5 103.4,840.5 102.6,840.4 102.2,840.2 101.6,839.9 101.0,839.5 100.6,839.1 100.2,838.7 99.9,838.3 99.7,837.9 99.4,837.5 99.0,836.7 98.9,836.3 98.6,835.5 98.5,835.1 98.4,834.3 98.4,833.5 98.4,832.7 98.5,831.9 98.6,831.4 98.8,830.7 99.0,830.3 99.4,829.6 99.8,829.1 100.2,828.7 100.6,828.4 101.0,828.2 101.8,827.9 102.2,827.9 103.0,827.9 103.4,828.0 104.2,828.3 104.6,828.5 105.0,828.8 105.4,829.1 105.8,829.5 106.2,830.0 106.6,830.6 106.9,831.1 107.1,831.5 107.4,832.3 107.5,832.7 107.7,833.5 107.8,834.3 107.8,834.7 107.8,835.5 107.8,835.9 107.7,836.7 107.4,837.5 107.3,837.9 107.0,838.5 106.6,839.1 106.2,839.5 105.8,839.9 105.4,840.1 105.0,840.3" fill="none" stroke="#1c1ce0" stroke-width="0.65"/>
<path d="M107.0,796.3 106.6,796.3 105.8,795.9 105.4,795.6 105.0,795.1 104.7,794.7 104.6,794.3 104.3,793.5 104.3,792.7 104.3,791.9 104.5,791.1 104.6,790.7 105.0,790.1 105.4,789.6 105.8,789.3 106.2,789.0 107.0,788.9 107.8,789.0 108.2,789.3 108.6,789.6 109.0,790.1 109.4,790.7 109.5,791.1 109.7,791.9 109.7,792.7 109.7,793.5 109.4,794.3 109.3,794.7 109.0,795.1 108.6,795.6 108.2,795.9 107.4,796.3 107.0,796.3" fill="none" stroke="#1c1ce0" stroke-width="0.65"/>
<rect x="21.8" y="724.7" width="135.1" height="133.6" fill="none" stroke="#777" stroke-width="0.8"/>
<line x1="77.5" y1="724.7" x2="77.5" y2="858.3" stroke="#111" stroke-width="1.3"/>
<line x1="21.8" y1="807.2" x2="156.9" y2="807.2" stroke="#111" stroke-width="1.3"/>
<text x="23" y="734.7" font-size="10.5">0.20</text>
<text x="155.8" y="734.7" font-size="10.5" text-anchor="end">1.22</text>
<text x="23" y="817.8" font-size="10.5">95.3</text>
<text x="155.8" y="857.7" font-size="10.5" text-anchor="end">3.23</text>
<rect x="184.5" y="724.6" width="134.8" height="133.1" fill="#fff" stroke="#777" stroke-width="0.8"/>
<path d="M219.11,787.54a0.45,0.45 0 1 0 0.9,0a0.45,0.45 0 1 0 -0.9,0M239.69,792.56a0.45,0.45 0 1 0 0.9,0a0.45,0.45 0 1 0 -0.9,0M220.85,781.21a0.45,0.45 0 1 0 0.9,0a0.45,0.45 0 1 0 -0.9,0M213.93,803.03a0.45,0.45 0 1 0 0.9,0a0.45,0.45 0 1 0 -0.9,0M227.63,787.68a0.45,0.45 0 1 0 0.9,0a0.45,0.45 0 1 0 -0.9,0M217.4,775.91a0.45,0.45 0 1 0 0.9,0a0.45,0.45 0 1 0 -0.9,0M220.75,795.74a0.45,0.45 0 1 0 0.9,0a0.45,0.45 0 1 0 -0.9,0M216.84,784.73a0.45,0.45 0 1 0 0.9,0a0.45,0.45 0 1 0 -0.9,0M218.9,788.1a0.45,0.45 0 1 0 0.9,0a0.45,0.45 0 1 0 -0.9,0M202.43,784.65a0.45,0.45 0 1 0 0.9,0a0.45,0.45 0 1 0 -0.9,0M211.3,795.85a0.45,0.45 0 1 0 0.9,0a0.45,0.45 0 1 0 -0.9,0M212.3,792.77a0.45,0.45 0 1 0 0.9,0a0.45,0.45 0 1 0 -0.9,0M239.84,783.86a0.45,0.45 0 1 0 0.9,0a0.45,0.45 0 1 0 -0.9,0M214.33,788.91a0.45,0.45 0 1 0 0.9,0a0.45,0.45 0 1 0 -0.9,0M221.53,777.06a0.45,0.45 0 1 0 0.9,0a0.45,0.45 0 1 0 -0.9,0M227.08,807.16a0.45,0.45 0 1 0 0.9,0a0.45,0.45 0 1 0 -0.9,0M218.45,784.97a0.45,0.45 0 1 0 0.9,0a0.45,0.45 0 1 0 -0.9,0M209.01,790.19a0.45,0.45 0 1 0 0.9,0a0.45,0.45 0 1 0 -0.9,0M206.59,775.93a0.45,0.45 0 1 0 0.9,0a0.45,0.45 0 1 0 -0.9,0M236.91,777.95a0.45,0.45 0 1 0 0.9,0a0.45,0.45 0 1 0 -0.9,0M234.53,802.24a0.45,0.45 0 1 0 0.9,0a0.45,0.45 0 1 0 -0.9,0M224.66,792.53a0.45,0.45 0 1 0 0.9,0a0.45,0.45 0 1 0 -0.9,0M244.98,785.03a0.45,0.45 0 1 0 0.9,0a0.45,0.45 0 1 0 -0.9,0M214.43,773.47a0.45,0.45 0 1 0 0.9,0a0.45,0.45 0 1 0 -0.9,0M222.05,801.79a0.45,0.45 0 1 0 0.9,0a0.45,0.45 0 1 0 -0.9,0M233.07,777.58a0.45,0.45 0 1 0 0.9,0a0.45,0.45 0 1 0 -0.9,0M211.29,781.96a0.45,0.45 0 1 0 0.9,0a0.45,0.45 0 1 0 -0.9,0M225.06,784.95a0.45,0.45 0 1 0 0.9,0a0.45,0.45 0 1 0 -0.9,0M224.12,789.97a0.45,0.45 0 1 0 0.9,0a0.45,0.45 0 1 0 -0.9,0M217.96,786.6a0.45,0.45 0 1 0 0.9,0a0.45,0.45 0 1 0 -0.9,0M224.03,786.16a0.45,0.45 0 1 0 0.9,0a0.45,0.45 0 1 0 -0.9,0M227.59,805.71a0.45,0.45 0 1 0 0.9,0a0.45,0.45 0 1 0 -0.9,0M228.65,787.56a0.45,0.45 0 1 0 0.9,0a0.45,0.45 0 1 0 -0.9,0M201.32,790.88a0.45,0.45 0 1 0 0.9,0a0.45,0.45 0 1 0 -0.9,0M198.19,772.91a0.45,0.45 0 1 0 0.9,0a0.45,0.45 0 1 0 -0.9,0M231.81,794.06a0.45,0.45 0 1 0 0.9,0a0.45,0.45 0 1 0 -0.9,0M219.75,769.9a0.45,0.45 0 1 0 0.9,0a0.45,0.45 0 1 0 -0.9,0M217.09,780.21a0.45,0.45 0 1 0 0.9,0a0.45,0.45 0 1 0 -0.9,0M229.19,809.58a0.45,0.45 0 1 0 0.9,0a0.45,0.45 0 1 0 -0.9,0M224.15,779.21a0.45,0.45 0 1 0 0.9,0a0.45,0.45 0 1 0 -0.9,0" fill="#5050ee" stroke="none" stroke-width="1"/>
<path d="M248.67,808.77a0.45,0.45 0 1 0 0.9,0a0.45,0.45 0 1 0 -0.9,0M259.61,784.67a0.45,0.45 0 1 0 0.9,0a0.45,0.45 0 1 0 -0.9,0M262.83,784.68a0.45,0.45 0 1 0 0.9,0a0.45,0.45 0 1 0 -0.9,0M273.78,833.38a0.45,0.45 0 1 0 0.9,0a0.45,0.45 0 1 0 -0.9,0M273.48,799.57a0.45,0.45 0 1 0 0.9,0a0.45,0.45 0 1 0 -0.9,0M267.21,807.09a0.45,0.45 0 1 0 0.9,0a0.45,0.45 0 1 0 -0.9,0M257.27,802.54a0.45,0.45 0 1 0 0.9,0a0.45,0.45 0 1 0 -0.9,0M247.25,778.23a0.45,0.45 0 1 0 0.9,0a0.45,0.45 0 1 0 -0.9,0M270.29,805.79a0.45,0.45 0 1 0 0.9,0a0.45,0.45 0 1 0 -0.9,0M263.93,832.04a0.45,0.45 0 1 0 0.9,0a0.45,0.45 0 1 0 -0.9,0M242.49,792.75a0.45,0.45 0 1 0 0.9,0a0.45,0.45 0 1 0 -0.9,0M263.48,818.63a0.45,0.45 0 1 0 0.9,0a0.45,0.45 0 1 0 -0.9,0M257.4,832.64a0.45,0.45 0 1 0 0.9,0a0.45,0.45 0 1 0 -0.9,0M263.86,783.31a0.45,0.45 0 1 0 0.9,0a0.45,0.45 0 1 0 -0.9,0M251.31,827.72a0.45,0.45 0 1 0 0.9,0a0.45,0.45 0 1 0 -0.9,0M266.65,768.22a0.45,0.45 0 1 0 0.9,0a0.45,0.45 0 1 0 -0.9,0M276.37,823.16a0.45,0.45 0 1 0 0.9,0a0.45,0.45 0 1 0 -0.9,0M276.33,801.56a0.45,0.45 0 1 0 0.9,0a0.45,0.45 0 1 0 -0.9,0M258.3,785.22a0.45,0.45 0 1 0 0.9,0a0.45,0.45 0 1 0 -0.9,0M289.46,806.14a0.45,0.45 0 1 0 0.9,0a0.45,0.45 0 1 0 -0.9,0M279.01,795.76a0.45,0.45 0 1 0 0.9,0a0.45,0.45 0 1 0 -0.9,0M263.35,773.23a0.45,0.45 0 1 0 0.9,0a0.45,0.45 0 1 0 -0.9,0M257.34,831.64a0.45,0.45 0 1 0 0.9,0a0.45,0.45 0 1 0 -0.9,0M247.78,833.59a0.45,0.45 0 1 0 0.9,0a0.45,0.45 0 1 0 -0.9,0M265.26,787.03a0.45,0.45 0 1 0 0.9,0a0.45,0.45 0 1 0 -0.9,0M256.03,799.9a0.45,0.45 0 1 0 0.9,0a0.45,0.45 0 1 0 -0.9,0M261.01,798.2a0.45,0.45 0 1 0 0.9,0a0.45,0.45 0 1 0 -0.9,0M252.45,803.3a0.45,0.45 0 1 0 0.9,0a0.45,0.45 0 1 0 -0.9,0M250.25,781.63a0.45,0.45 0 1 0 0.9,0a0.45,0.45 0 1 0 -0.9,0M261.02,829.42a0.45,0.45 0 1 0 0.9,0a0.45,0.45 0 1 0 -0.9,0M244.73,810.08a0.45,0.45 0 1 0 0.9,0a0.45,0.45 0 1 0 -0.9,0M254.4,788.5a0.45,0.45 0 1 0 0.9,0a0.45,0.45 0 1 0 -0.9,0M270.94,798.6a0.45,0.45 0 1 0 0.9,0a0.45,0.45 0 1 0 -0.9,0M278.03,792.84a0.45,0.45 0 1 0 0.9,0a0.45,0.45 0 1 0 -0.9,0M265.8,805a0.45,0.45 0 1 0 0.9,0a0.45,0.45 0 1 0 -0.9,0M253.26,822.93a0.45,0.45 0 1 0 0.9,0a0.45,0.45 0 1 0 -0.9,0M259.85,823.27a0.45,0.45 0 1 0 0.9,0a0.45,0.45 0 1 0 -0.9,0M261.03,786.11a0.45,0.45 0 1 0 0.9,0a0.45,0.45 0 1 0 -0.9,0M260.43,811.14a0.45,0.45 0 1 0 0.9,0a0.45,0.45 0 1 0 -0.9,0M272.09,790.06a0.45,0.45 0 1 0 0.9,0a0.45,0.45 0 1 0 -0.9,0M261.12,772.12a0.45,0.45 0 1 0 0.9,0a0.45,0.45 0 1 0 -0.9,0M268.72,786.21a0.45,0.45 0 1 0 0.9,0a0.45,0.45 0 1 0 -0.9,0M241.68,808.7a0.45,0.45 0 1 0 0.9,0a0.45,0.45 0 1 0 -0.9,0M273.71,776.46a0.45,0.45 0 1 0 0.9,0a0.45,0.45 0 1 0 -0.9,0M249.58,793.65a0.45,0.45 0 1 0 0.9,0a0.45,0.45 0 1 0 -0.9,0M249.13,818.35a0.45,0.45 0 1 0 0.9,0a0.45,0.45 0 1 0 -0.9,0M252.67,794.13a0.45,0.45 0 1 0 0.9,0a0.45,0.45 0 1 0 -0.9,0M267.97,793.38a0.45,0.45 0 1 0 0.9,0a0.45,0.45 0 1 0 -0.9,0M266.31,788.63a0.45,0.45 0 1 0 0.9,0a0.45,0.45 0 1 0 -0.9,0M248.22,769.62a0.45,0.45 0 1 0 0.9,0a0.45,0.45 0 1 0 -0.9,0" fill="#5050ee" stroke="none" stroke-width="1"/>
<path d="M242.58,826.16a0.45,0.45 0 1 0 0.9,0a0.45,0.45 0 1 0 -0.9,0M231.26,829.63a0.45,0.45 0 1 0 0.9,0a0.45,0.45 0 1 0 -0.9,0M230.67,830.6a0.45,0.45 0 1 0 0.9,0a0.45,0.45 0 1 0 -0.9,0M242.91,817.53a0.45,0.45 0 1 0 0.9,0a0.45,0.45 0 1 0 -0.9,0M218.65,817.86a0.45,0.45 0 1 0 0.9,0a0.45,0.45 0 1 0 -0.9,0M220.21,838.96a0.45,0.45 0 1 0 0.9,0a0.45,0.45 0 1 0 -0.9,0M235.29,818.46a0.45,0.45 0 1 0 0.9,0a0.45,0.45 0 1 0 -0.9,0M219.82,825.74a0.45,0.45 0 1 0 0.9,0a0.45,0.45 0 1 0 -0.9,0M239.29,796.17a0.45,0.45 0 1 0 0.9,0a0.45,0.45 0 1 0 -0.9,0M233.24,817.09a0.45,0.45 0 1 0 0.9,0a0.45,0.45 0 1 0 -0.9,0M236.83,817.06a0.45,0.45 0 1 0 0.9,0a0.45,0.45 0 1 0 -0.9,0M227.55,811.92a0.45,0.45 0 1 0 0.9,0a0.45,0.45 0 1 0 -0.9,0M222.71,846.63a0.45,0.45 0 1 0 0.9,0a0.45,0.45 0 1 0 -0.9,0M235.29,825.18a0.45,0.45 0 1 0 0.9,0a0.45,0.45 0 1 0 -0.9,0M223.46,807.27a0.45,0.45 0 1 0 0.9,0a0.45,0.45 0 1 0 -0.9,0M226.79,829.63a0.45,0.45 0 1 0 0.9,0a0.45,0.45 0 1 0 -0.9,0M228.96,828.87a0.45,0.45 0 1 0 0.9,0a0.45,0.45 0 1 0 -0.9,0M221.7,829.2a0.45,0.45 0 1 0 0.9,0a0.45,0.45 0 1 0 -0.9,0M229.28,845.49a0.45,0.45 0 1 0 0.9,0a0.45,0.45 0 1 0 -0.9,0M242.62,828.36a0.45,0.45 0 1 0 0.9,0a0.45,0.45 0 1 0 -0.9,0M224.19,829.22a0.45,0.45 0 1 0 0.9,0a0.45,0.45 0 1 0 -0.9,0M225.3,821.09a0.45,0.45 0 1 0 0.9,0a0.45,0.45 0 1 0 -0.9,0M229.14,817.48a0.45,0.45 0 1 0 0.9,0a0.45,0.45 0 1 0 -0.9,0M233.79,828.75a0.45,0.45 0 1 0 0.9,0a0.45,0.45 0 1 0 -0.9,0M231.3,827.8a0.45,0.45 0 1 0 0.9,0a0.45,0.45 0 1 0 -0.9,0M224.46,818.62a0.45,0.45 0 1 0 0.9,0a0.45,0.45 0 1 0 -0.9,0M227.89,823.41a0.45,0.45 0 1 0 0.9,0a0.45,0.45 0 1 0 -0.9,0M231.19,829.95a0.45,0.45 0 1 0 0.9,0a0.45,0.45 0 1 0 -0.9,0M220.01,830.81a0.45,0.45 0 1 0 0.9,0a0.45,0.45 0 1 0 -0.9,0M220.15,822.6a0.45,0.45 0 1 0 0.9,0a0.45,0.45 0 1 0 -0.9,0M227.49,805.1a0.45,0.45 0 1 0 0.9,0a0.45,0.45 0 1 0 -0.9,0M230.19,831.81a0.45,0.45 0 1 0 0.9,0a0.45,0.45 0 1 0 -0.9,0M228.44,824.91a0.45,0.45 0 1 0 0.9,0a0.45,0.45 0 1 0 -0.9,0M226.93,818.28a0.45,0.45 0 1 0 0.9,0a0.45,0.45 0 1 0 -0.9,0M227.66,823.37a0.45,0.45 0 1 0 0.9,0a0.45,0.45 0 1 0 -0.9,0M230.19,815.55a0.45,0.45 0 1 0 0.9,0a0.45,0.45 0 1 0 -0.9,0M231.2,831.72a0.45,0.45 0 1 0 0.9,0a0.45,0.45 0 1 0 -0.9,0M228.56,824.73a0.45,0.45 0 1 0 0.9,0a0.45,0.45 0 1 0 -0.9,0M233.42,810.02a0.45,0.45 0 1 0 0.9,0a0.45,0.45 0 1 0 -0.9,0M232.77,832.92a0.45,0.45 0 1 0 0.9,0a0.45,0.45 0 1 0 -0.9,0" fill="#5050ee" stroke="none" stroke-width="1"/>
<path d="M184.5,832.5 185.0,832.2 185.6,831.8 186.1,831.5 186.5,831.3 187.0,831.0 187.7,830.6 188.1,830.4 188.5,830.2 189.3,829.8 189.7,829.6 190.2,829.4 190.9,829.1 191.3,828.9 192.0,828.6 192.5,828.4 193.0,828.2 193.7,827.9 194.1,827.8 194.9,827.5 195.3,827.4 196.1,827.1 196.5,827.0 197.3,826.7 197.8,826.6 198.5,826.4 199.3,826.2 199.7,826.1 200.5,826.0 201.3,825.8 201.7,825.7 202.5,825.6 203.3,825.5 203.9,825.4 204.5,825.3 205.3,825.2 206.1,825.2 206.9,825.1 207.7,825.1 208.5,825.1 209.3,825.1 210.1,825.1 210.9,825.1 211.7,825.2 212.5,825.2 213.3,825.3 213.9,825.4 214.5,825.5 215.3,825.6 216.1,825.8 216.5,825.9 217.3,826.0 217.9,826.2 218.5,826.4 219.2,826.6 219.7,826.8 220.4,827.0 220.9,827.2 221.4,827.4 222.1,827.7 222.5,827.9 223.0,828.2 223.7,828.6 224.1,828.8 224.5,829.1 225.0,829.4 225.6,829.8 226.1,830.2 226.5,830.6 226.9,830.9 227.3,831.3 227.7,831.7 228.1,832.2 228.4,832.6 228.7,833.0 229.0,833.4 229.3,833.8 229.7,834.5 229.9,835.0 230.1,835.4 230.4,836.2 230.5,836.6 230.7,837.4 230.9,838.2 230.9,838.6 231.0,839.4 231.0,840.2 230.9,841.0 230.9,841.4 230.7,842.2 230.6,843.0 230.4,843.4 230.2,844.2 230.0,844.6 229.7,845.4 229.5,845.8 229.3,846.2 228.9,846.9 228.6,847.4 228.3,847.8 228.1,848.2 227.7,848.7 227.3,849.2 226.9,849.7 226.5,850.2 226.1,850.6 225.7,851.0 225.3,851.4 224.9,851.8 224.5,852.2 224.1,852.6 223.7,852.9 223.3,853.2 222.9,853.6 222.5,853.9 222.1,854.2 221.5,854.6 221.0,855.0 220.5,855.3 220.1,855.6 219.7,855.9 219.2,856.2 218.5,856.6 218.1,856.8 217.7,857.1 217.1,857.4 M184.5,837.5 184.9,837.2 185.3,837.0 186.0,836.6 186.5,836.3 186.9,836.1 187.6,835.8 188.1,835.5 188.5,835.4 189.3,835.0 189.7,834.8 190.2,834.6 190.9,834.3 191.3,834.2 192.1,833.9 192.5,833.7 193.3,833.4 193.7,833.3 194.5,833.0 194.9,832.9 195.7,832.7 196.1,832.6 196.9,832.4 197.7,832.2 198.1,832.1 198.9,831.9 199.7,831.8 200.1,831.7 200.9,831.6 201.7,831.5 202.5,831.4 202.9,831.4 203.7,831.3 204.5,831.3 205.3,831.3 206.1,831.3 206.9,831.3 207.7,831.4 208.3,831.4 208.9,831.5 209.7,831.6 210.5,831.7 210.9,831.8 211.7,832.0 212.5,832.2 212.9,832.3 213.7,832.6 214.1,832.7 214.8,833.0 215.3,833.2 215.7,833.4 216.3,833.8 216.9,834.1 217.3,834.4 217.7,834.7 218.1,835.0 218.5,835.4 218.9,835.8 219.3,836.3 219.7,836.8 220.1,837.4 220.3,837.8 220.5,838.2 220.9,839.0 221.0,839.4 221.2,840.2 221.2,841.0 221.3,841.8 221.2,842.6 221.0,843.4 220.9,844.0 220.7,844.6 220.5,845.1 220.2,845.8 220.0,846.2 219.7,846.7 219.3,847.4 219.0,847.8 218.7,848.2 218.4,848.6 218.1,849.0 217.7,849.4 217.3,849.9 216.9,850.3 216.5,850.7 216.1,851.0 215.7,851.4 215.2,851.8 214.7,852.2 214.2,852.6 213.7,853.0 213.3,853.2 212.9,853.5 212.5,853.8 211.9,854.2 211.3,854.5 210.9,854.8 210.5,855.0 209.8,855.4 209.3,855.7 208.9,855.9 208.4,856.2 207.7,856.6 207.3,856.8 206.8,857.0 206.1,857.3 206.0,857.4 M184.5,839.5 184.9,839.2 185.3,839.0 186.1,838.6 186.5,838.4 186.9,838.2 187.7,837.8 188.1,837.6 188.6,837.4 189.3,837.1 189.7,836.9 190.5,836.6 190.9,836.5 191.7,836.2 192.1,836.1 192.9,835.8 193.3,835.7 194.1,835.5 194.5,835.4 195.3,835.2 196.1,835.0 196.5,834.9 197.3,834.8 198.1,834.7 198.5,834.6 199.3,834.5 200.1,834.4 200.9,834.3 201.7,834.3 202.5,834.3 203.3,834.3 204.1,834.3 204.9,834.4 205.7,834.4 206.5,834.5 206.9,834.6 207.7,834.8 208.5,834.9 208.9,835.0 209.7,835.3 210.1,835.4 210.9,835.8 211.3,835.9 211.8,836.2 212.5,836.6 212.9,836.9 213.3,837.2 213.7,837.5 214.1,837.9 214.5,838.3 214.9,838.8 215.3,839.4 215.5,839.8 215.7,840.3 215.9,841.0 216.1,841.8 216.1,842.6 216.0,843.4 215.9,844.2 215.7,844.9 215.5,845.4 215.3,845.9 215.0,846.6 214.7,847.0 214.5,847.4 214.1,848.0 213.7,848.5 213.3,849.0 212.9,849.4 212.6,849.8 212.2,850.2 211.8,850.6 211.3,851.0 210.9,851.4 210.5,851.7 210.1,852.1 209.7,852.4 209.3,852.7 208.9,853.0 208.3,853.4 207.8,853.8 207.3,854.1 206.9,854.4 206.5,854.6 205.9,855.0 205.3,855.4 204.9,855.6 204.5,855.9 203.9,856.2 203.3,856.5 202.9,856.8 202.4,857.0 201.7,857.4 M184.5,840.8 184.9,840.5 185.5,840.2 186.1,839.9 186.5,839.7 187.0,839.4 187.7,839.1 188.1,838.9 188.9,838.6 189.3,838.4 189.9,838.2 190.5,838.0 191.0,837.8 191.7,837.6 192.3,837.4 192.9,837.2 193.7,837.0 194.1,837.0 194.9,836.8 195.7,836.6 196.1,836.6 196.9,836.4 197.7,836.3 198.5,836.3 199.3,836.2 200.0,836.2 200.5,836.2 201.3,836.2 201.7,836.2 202.5,836.3 203.3,836.3 204.1,836.4 204.9,836.6 205.3,836.7 206.1,836.9 206.5,837.0 207.3,837.3 207.7,837.4 208.5,837.8 208.9,838.0 209.3,838.2 209.8,838.6 210.3,839.0 210.8,839.4 211.1,839.8 211.4,840.2 211.7,840.6 212.1,841.4 212.2,841.8 212.4,842.6 212.5,843.4 212.4,844.2 212.3,845.0 212.1,845.5 211.9,846.2 211.7,846.6 211.3,847.3 211.0,847.8 210.8,848.2 210.5,848.6 210.1,849.1 209.7,849.6 209.3,850.0 208.9,850.5 208.5,850.9 208.1,851.3 207.7,851.6 207.3,852.0 206.9,852.3 206.5,852.7 206.1,853.0 205.6,853.4 205.0,853.8 204.5,854.2 204.1,854.5 203.7,854.7 203.3,855.0 202.7,855.4 202.1,855.7 201.7,856.0 201.3,856.2 200.6,856.6 200.1,856.9 199.7,857.1 199.1,857.4 M184.5,841.7 185.1,841.4 185.7,841.1 186.1,840.8 186.6,840.6 187.3,840.2 187.7,840.1 188.3,839.8 188.9,839.6 189.3,839.4 190.1,839.1 190.5,839.0 191.3,838.7 191.7,838.6 192.5,838.4 193.3,838.2 193.7,838.1 194.5,838.0 195.3,837.8 195.7,837.8 196.5,837.7 197.3,837.6 198.1,837.6 198.9,837.5 199.7,837.5 200.5,837.6 201.3,837.7 202.1,837.8 202.5,837.8 203.3,838.0 204.1,838.2 204.5,838.3 205.3,838.6 205.7,838.8 206.2,839.0 206.9,839.4 207.3,839.7 207.7,840.0 208.1,840.3 208.5,840.8 208.9,841.3 209.2,841.8 209.4,842.2 209.7,843.0 209.7,843.4 209.8,844.2 209.7,845.0 209.7,845.4 209.4,846.2 209.3,846.6 208.9,847.4 208.7,847.8 208.5,848.2 208.1,848.8 207.7,849.4 207.4,849.8 207.1,850.2 206.7,850.6 206.3,851.0 205.9,851.4 205.5,851.8 205.1,852.2 204.7,852.6 204.2,853.0 203.7,853.4 203.3,853.7 202.9,854.0 202.5,854.3 202.1,854.6 201.5,855.0 200.9,855.4 200.5,855.6 200.1,855.8 199.5,856.2 198.9,856.5 198.5,856.7 198.0,857.0 197.3,857.3 197.1,857.4 M184.5,842.6 185.1,842.2 185.7,841.9 186.1,841.6 186.6,841.4 187.3,841.0 187.7,840.9 188.3,840.6 188.9,840.4 189.3,840.2 190.1,839.9 190.5,839.8 191.3,839.5 191.8,839.4 192.5,839.2 193.3,839.1 193.7,839.0 194.5,838.8 195.3,838.7 196.1,838.7 196.9,838.6 197.3,838.6 198.1,838.6 198.9,838.6 199.3,838.6 200.1,838.7 200.9,838.8 201.7,839.0 202.1,839.1 202.9,839.3 203.3,839.4 204.1,839.8 204.5,840.0 204.9,840.2 205.5,840.6 206.0,841.0 206.4,841.4 206.8,841.8 207.0,842.2 207.3,842.7 207.6,843.4 207.7,843.9 207.8,844.6 207.7,845.4 207.7,845.8 207.5,846.6 207.3,847.2 207.0,847.8 206.8,848.2 206.5,848.8 206.1,849.4 205.8,849.8 205.5,850.2 205.2,850.6 204.8,851.0 204.4,851.4 204.1,851.8 203.6,852.2 203.2,852.6 202.7,853.0 202.2,853.4 201.7,853.8 201.3,854.1 200.9,854.4 200.5,854.7 200.0,855.0 199.4,855.4 198.9,855.7 198.5,855.9 198.0,856.2 197.3,856.5 196.9,856.7 196.3,857.0 195.7,857.3 195.4,857.4 M184.5,843.3 185.0,843.0 185.6,842.6 186.1,842.3 186.5,842.1 187.1,841.8 187.7,841.5 188.1,841.4 188.9,841.0 189.3,840.9 190.1,840.6 190.5,840.5 191.3,840.2 191.7,840.1 192.5,839.9 193.2,839.8 193.7,839.7 194.5,839.6 195.3,839.5 196.1,839.5 196.9,839.4 197.7,839.4 198.5,839.5 199.3,839.6 200.1,839.7 200.6,839.8 201.3,840.0 202.0,840.2 202.5,840.4 202.9,840.6 203.6,841.0 204.1,841.3 204.5,841.6 204.9,842.0 205.3,842.5 205.6,843.0 205.8,843.4 206.1,844.2 206.2,844.6 206.2,845.4 206.1,846.2 206.1,846.6 205.8,847.4 205.7,847.8 205.3,848.6 205.1,849.0 204.8,849.4 204.5,849.9 204.1,850.4 203.7,850.9 203.3,851.3 202.9,851.7 202.5,852.1 202.1,852.5 201.7,852.9 201.3,853.2 200.9,853.5 200.5,853.8 200.0,854.2 199.4,854.6 198.9,854.9 198.5,855.2 198.1,855.4 197.4,855.8 196.9,856.1 196.5,856.3 195.8,856.6 195.3,856.8 194.9,857.0 194.1,857.3 193.8,857.4 M184.5,843.9 184.9,843.7 185.3,843.4 186.0,843.0 186.5,842.7 186.9,842.5 187.6,842.2 188.1,842.0 188.5,841.8 189.3,841.5 189.7,841.4 190.5,841.1 190.9,841.0 191.7,840.8 192.4,840.6 192.9,840.5 193.7,840.4 194.5,840.3 195.3,840.2 195.7,840.2 196.5,840.2 197.3,840.2 197.7,840.2 198.5,840.3 199.3,840.4 200.1,840.6 200.5,840.7 201.3,841.0 201.7,841.2 202.1,841.4 202.8,841.8 203.3,842.2 203.7,842.6 204.0,843.0 204.3,843.4 204.5,843.8 204.8,844.6 204.9,845.3 204.9,845.8 204.9,846.2 204.8,847.0 204.5,847.8 204.4,848.2 204.1,848.7 203.7,849.4 203.5,849.8 203.2,850.2 202.9,850.6 202.5,851.1 202.1,851.5 201.7,851.9 201.3,852.3 200.9,852.7 200.5,853.0 200.0,853.4 199.5,853.8 198.9,854.2 198.5,854.5 198.1,854.7 197.7,855.0 197.0,855.4 196.5,855.7 196.1,855.9 195.4,856.2 194.9,856.4 194.5,856.6 193.7,856.9 193.3,857.0 192.5,857.3 192.1,857.4 M184.5,844.6 185.0,844.2 185.6,843.8 186.1,843.5 186.5,843.3 187.1,843.0 187.7,842.7 188.1,842.5 188.9,842.2 189.3,842.0 190.0,841.8 190.5,841.6 191.3,841.4 191.7,841.3 192.5,841.1 193.3,841.0 193.7,841.0 194.5,840.9 195.3,840.8 196.1,840.8 196.9,840.8 197.7,840.9 198.2,841.0 198.9,841.1 199.7,841.3 200.1,841.5 200.8,841.8 201.3,842.0 201.7,842.3 202.1,842.6 202.6,843.0 202.9,843.4 203.3,844.0 203.6,844.6 203.7,845.1 203.8,845.8 203.8,846.6 203.7,847.1 203.5,847.8 203.3,848.4 203.0,849.0 202.8,849.4 202.5,849.9 202.1,850.4 201.7,850.9 201.3,851.4 200.9,851.8 200.5,852.2 200.1,852.6 199.7,852.9 199.3,853.2 198.9,853.5 198.5,853.8 198.0,854.2 197.3,854.6 196.9,854.9 196.5,855.1 195.9,855.4 195.3,855.7 194.9,855.9 194.2,856.2 193.7,856.4 193.1,856.6 192.5,856.8 191.8,857.0 191.3,857.1 190.5,857.3 190.0,857.4 M184.5,845.1 184.9,844.8 185.3,844.6 185.9,844.2 186.5,843.8 186.9,843.6 187.3,843.4 188.1,843.0 188.5,842.9 189.2,842.6 189.7,842.4 190.4,842.2 190.9,842.0 191.7,841.8 192.1,841.8 192.9,841.6 193.7,841.5 194.5,841.4 195.3,841.4 196.1,841.4 196.9,841.5 197.7,841.6 198.5,841.8 198.9,841.9 199.7,842.2 200.1,842.4 200.5,842.6 201.1,843.0 201.6,843.4 201.9,843.8 202.2,844.2 202.5,844.7 202.7,845.4 202.8,846.2 202.8,847.0 202.6,847.8 202.5,848.2 202.2,849.0 201.9,849.4 201.7,849.8 201.3,850.4 200.9,850.9 200.5,851.4 200.1,851.8 199.7,852.2 199.3,852.5 198.9,852.9 198.5,853.2 198.1,853.5 197.7,853.8 197.1,854.2 196.5,854.5 196.1,854.8 195.7,855.0 194.9,855.4 194.5,855.6 193.9,855.8 193.3,856.1 192.9,856.2 192.1,856.5 191.6,856.6 190.9,856.8 190.1,856.9 189.7,857.0 188.9,857.1 188.1,857.2 187.3,857.2 186.5,857.2 185.7,857.1 185.2,857.0 184.5,856.8 M184.5,845.7 184.9,845.4 185.5,845.0 186.1,844.6 186.5,844.4 186.9,844.1 187.5,843.8 188.1,843.5 188.5,843.4 189.3,843.0 189.7,842.9 190.5,842.6 190.9,842.5 191.7,842.3 192.4,842.2 192.9,842.1 193.7,842.0 194.5,842.0 195.3,842.0 196.1,842.0 196.9,842.1 197.5,842.2 198.1,842.4 198.8,842.6 199.3,842.8 199.7,843.0 200.3,843.4 200.7,843.8 201.1,844.2 201.4,844.6 201.7,845.2 201.9,845.8 202.0,846.6 201.9,847.4 201.7,848.2 201.5,848.6 201.3,849.1 200.9,849.8 200.7,850.2 200.4,850.6 200.1,851.0 199.7,851.4 199.3,851.8 198.9,852.2 198.4,852.6 198.0,853.0 197.4,853.4 196.9,853.8 196.5,854.0 196.1,854.3 195.5,854.6 194.9,854.9 194.5,855.1 193.8,855.4 193.3,855.6 192.7,855.8 192.1,856.0 191.4,856.2 190.9,856.3 190.1,856.5 189.4,856.6 188.9,856.7 188.1,856.7 187.3,856.7 186.5,856.7 185.8,856.6 185.3,856.5 184.5,856.3 M184.5,846.3 184.9,846.0 185.3,845.6 185.7,845.4 186.2,845.0 186.9,844.6 187.3,844.4 187.7,844.2 188.5,843.8 188.9,843.7 189.6,843.4 190.1,843.2 190.9,843.0 191.3,842.9 192.1,842.7 192.9,842.6 193.3,842.5 194.1,842.5 194.9,842.5 195.7,842.5 196.4,842.6 196.9,842.7 197.7,842.9 198.1,843.0 198.9,843.4 199.3,843.6 199.7,843.9 200.1,844.3 200.5,844.8 200.8,845.4 201.0,845.8 201.1,846.6 201.1,847.4 200.9,848.2 200.8,848.6 200.5,849.3 200.2,849.8 200.0,850.2 199.7,850.6 199.3,851.0 198.9,851.5 198.5,851.9 198.1,852.3 197.7,852.6 197.2,853.0 196.6,853.4 196.1,853.7 195.7,854.0 195.3,854.2 194.6,854.6 194.1,854.8 193.7,855.0 192.9,855.3 192.5,855.5 191.7,855.7 191.3,855.8 190.5,856.0 189.7,856.1 189.2,856.2 188.5,856.3 187.7,856.3 186.9,856.3 186.3,856.2 185.7,856.1 184.9,855.9 184.5,855.8 M184.5,846.9 184.9,846.5 185.3,846.2 185.8,845.8 186.4,845.4 186.9,845.1 187.3,844.9 187.8,844.6 188.5,844.3 188.9,844.1 189.7,843.8 190.1,843.7 190.9,843.4 191.3,843.3 192.1,843.2 192.9,843.1 193.6,843.0 194.1,843.0 194.9,843.0 195.3,843.0 196.1,843.1 196.9,843.3 197.3,843.4 198.1,843.8 198.5,844.0 198.9,844.2 199.3,844.6 199.7,845.1 200.1,845.8 200.3,846.2 200.4,847.0 200.3,847.8 200.1,848.6 199.9,849.0 199.7,849.5 199.3,850.1 199.0,850.6 198.6,851.0 198.3,851.4 197.9,851.8 197.4,852.2 197.0,852.6 196.5,852.9 196.1,853.2 195.7,853.5 195.2,853.8 194.5,854.2 194.1,854.4 193.6,854.6 192.9,854.9 192.5,855.0 191.7,855.3 191.3,855.4 190.5,855.6 189.7,855.7 189.1,855.8 188.5,855.8 187.7,855.9 186.9,855.8 186.5,855.8 185.7,855.6 185.0,855.4 184.5,855.2 M184.5,847.5 184.9,847.1 185.3,846.7 185.7,846.4 186.1,846.1 186.5,845.8 187.2,845.4 187.7,845.1 188.1,844.9 188.8,844.6 189.3,844.4 189.8,844.2 190.5,844.0 191.2,843.8 191.7,843.7 192.5,843.6 193.3,843.5 194.1,843.5 194.9,843.5 195.7,843.6 196.5,843.8 196.9,843.9 197.6,844.2 198.1,844.5 198.5,844.8 198.9,845.3 199.3,845.8 199.4,846.2 199.6,847.0 199.6,847.8 199.4,848.6 199.3,849.0 198.9,849.7 198.6,850.2 198.3,850.6 198.0,851.0 197.6,851.4 197.2,851.8 196.7,852.2 196.2,852.6 195.7,853.0 195.3,853.2 194.9,853.5 194.3,853.8 193.7,854.1 193.3,854.3 192.5,854.6 192.1,854.8 191.3,855.0 190.9,855.1 190.1,855.3 189.3,855.4 188.9,855.4 188.1,855.4 187.3,855.4 186.9,855.4 186.1,855.2 185.3,855.0 184.9,854.8 184.5,854.6 M184.5,848.2 184.9,847.7 185.3,847.3 185.7,846.9 186.1,846.6 186.7,846.2 187.3,845.8 187.7,845.6 188.1,845.4 188.9,845.0 189.3,844.8 189.9,844.6 190.5,844.4 191.3,844.2 191.7,844.1 192.5,844.0 193.3,843.9 194.1,843.9 194.9,844.0 195.7,844.2 196.1,844.3 196.9,844.6 197.3,844.8 197.7,845.1 198.1,845.4 198.5,846.0 198.8,846.6 198.9,847.4 198.9,847.6 198.8,848.2 198.6,849.0 198.4,849.4 198.1,850.0 197.7,850.5 197.3,851.0 196.9,851.4 196.5,851.8 196.1,852.2 195.7,852.5 195.3,852.7 194.9,853.0 194.2,853.4 193.7,853.7 193.3,853.9 192.5,854.2 192.1,854.3 191.3,854.6 190.9,854.7 190.1,854.9 189.3,855.0 188.7,855.0 188.1,855.0 187.7,855.0 186.9,854.9 186.1,854.7 185.7,854.6 184.9,854.2 184.5,854.0 M184.5,849.0 184.9,848.4 185.3,847.9 185.7,847.5 186.1,847.2 186.5,846.8 186.9,846.5 187.4,846.2 188.1,845.8 188.5,845.6 189.0,845.4 189.7,845.1 190.1,845.0 190.9,844.7 191.5,844.6 192.1,844.5 192.9,844.4 193.7,844.4 194.5,844.5 195.2,844.6 195.7,844.7 196.3,845.0 196.9,845.3 197.3,845.6 197.7,846.1 198.0,846.6 198.1,847.0 198.2,847.8 198.1,848.5 197.9,849.0 197.7,849.5 197.3,850.2 197.0,850.6 196.7,851.0 196.3,851.4 195.8,851.8 195.3,852.2 194.9,852.5 194.5,852.8 194.1,853.0 193.3,853.4 192.9,853.6 192.4,853.8 191.7,854.1 191.2,854.2 190.5,854.4 189.7,854.5 188.9,854.6 188.1,854.6 187.3,854.5 186.5,854.3 186.1,854.2 185.3,853.8 184.9,853.5 184.5,853.2 M184.5,850.2 184.6,849.8 184.9,849.3 185.3,848.7 185.7,848.2 186.0,847.8 186.5,847.4 186.9,847.1 187.3,846.8 187.7,846.5 188.2,846.2 188.9,845.9 189.3,845.7 190.1,845.4 190.5,845.3 191.3,845.1 191.8,845.0 192.5,844.9 193.3,844.9 194.1,844.9 194.5,845.0 195.3,845.2 195.7,845.4 196.4,845.8 196.8,846.2 197.1,846.6 197.3,847.0 197.5,847.8 197.4,848.6 197.3,849.0 196.9,849.8 196.7,850.2 196.4,850.6 196.0,851.0 195.6,851.4 195.1,851.8 194.6,852.2 194.1,852.5 193.7,852.8 193.2,853.0 192.5,853.3 192.1,853.5 191.3,853.8 190.9,853.9 190.1,854.0 189.3,854.1 188.5,854.1 187.7,854.1 186.9,853.9 186.5,853.8 185.7,853.4 185.3,853.1 184.9,852.7 184.6,852.2 184.5,851.9 M190.9,853.4 190.1,853.6 189.3,853.7 188.5,853.7 187.7,853.6 187.0,853.4 186.5,853.2 186.1,853.0 185.7,852.6 185.3,852.1 185.1,851.4 185.0,850.6 185.3,849.8 185.4,849.4 185.7,849.0 186.1,848.4 186.5,848.0 186.9,847.6 187.3,847.3 187.7,847.0 188.4,846.6 188.9,846.3 189.3,846.2 190.1,845.9 190.5,845.7 191.3,845.5 192.1,845.4 192.5,845.4 193.3,845.4 193.7,845.4 194.5,845.6 195.1,845.8 195.7,846.1 196.1,846.5 196.5,847.0 196.7,847.4 196.8,848.2 196.6,849.0 196.5,849.4 196.1,850.0 195.7,850.6 195.3,851.0 194.9,851.4 194.5,851.7 194.1,852.0 193.7,852.3 193.1,852.6 192.5,852.9 192.1,853.0 191.3,853.3 190.9,853.4 M190.5,853.1 189.7,853.2 188.9,853.2 188.1,853.1 187.6,853.0 186.9,852.7 186.5,852.4 186.1,852.0 185.8,851.4 185.7,851.0 185.7,850.6 185.9,849.8 186.1,849.4 186.5,848.8 186.9,848.3 187.3,847.9 187.7,847.6 188.1,847.3 188.6,847.0 189.3,846.7 189.7,846.5 190.5,846.2 190.9,846.1 191.7,846.0 192.5,845.9 193.3,845.9 194.1,846.1 194.5,846.2 195.1,846.6 195.6,847.0 195.8,847.4 196.0,848.2 195.9,849.0 195.7,849.5 195.3,850.2 195.0,850.6 194.6,851.0 194.1,851.4 193.7,851.7 193.3,852.0 192.9,852.2 192.1,852.6 191.7,852.7 190.9,853.0 190.5,853.1 M190.1,852.6 189.3,852.7 188.5,852.6 188.1,852.5 187.4,852.2 186.9,851.8 186.6,851.4 186.5,851.0 186.5,850.2 186.6,849.8 186.9,849.2 187.3,848.7 187.7,848.3 188.1,847.9 188.5,847.7 188.9,847.4 189.7,847.0 190.1,846.9 190.9,846.6 191.3,846.6 192.1,846.5 192.9,846.5 193.4,846.6 194.1,846.8 194.5,847.1 194.9,847.5 195.2,848.2 195.1,849.0 194.9,849.6 194.5,850.2 194.2,850.6 193.8,851.0 193.3,851.4 192.9,851.6 192.5,851.8 191.7,852.2 191.3,852.3 190.5,852.5 190.1,852.6 M190.9,851.9 190.1,852.0 189.3,852.0 188.5,851.9 188.1,851.7 187.7,851.4 187.3,850.6 187.3,850.2 187.4,849.8 187.7,849.2 188.1,848.7 188.5,848.4 188.9,848.1 189.4,847.8 190.1,847.5 190.5,847.3 191.3,847.2 192.1,847.1 192.9,847.2 193.4,847.4 193.9,847.8 194.2,848.2 194.3,849.0 194.1,849.5 193.7,850.2 193.3,850.6 192.9,850.9 192.5,851.2 192.1,851.4 191.3,851.8 190.9,851.9 M191.3,851.0 190.5,851.2 189.7,851.3 188.9,851.0 188.5,850.6 188.4,850.2 188.5,849.7 188.9,849.1 189.3,848.7 189.7,848.4 190.2,848.2 190.9,848.0 191.7,847.9 192.5,848.1 192.9,848.4 193.1,849.0 192.9,849.8 192.5,850.2 192.1,850.6 191.7,850.8 191.3,851.0" fill="none" stroke="#1c1ce0" stroke-width="0.65"/>
<path d="M260.6,857.4 260.1,857.2 259.4,857.0 258.9,856.8 258.5,856.6 257.7,856.2 257.3,856.0 256.9,855.7 256.4,855.4 255.8,855.0 255.3,854.6 254.9,854.3 254.5,853.9 254.1,853.6 253.7,853.2 253.3,852.8 252.9,852.4 252.5,851.9 252.1,851.4 251.8,851.0 251.4,850.6 251.2,850.2 250.9,849.8 250.5,849.2 250.1,848.6 249.8,848.2 249.6,847.8 249.3,847.2 249.0,846.6 248.8,846.2 248.5,845.6 248.2,845.0 248.0,844.6 247.7,843.8 247.5,843.4 247.3,842.7 247.1,842.2 246.9,841.5 246.7,841.0 246.5,840.2 246.4,839.8 246.2,839.0 246.1,838.5 246.0,837.8 245.8,837.0 245.7,836.3 245.6,835.8 245.5,835.0 245.4,834.2 245.4,833.4 245.3,832.6 245.3,832.2 245.3,831.4 245.3,830.6 245.3,829.8 245.3,829.4 245.3,828.6 245.4,827.8 245.5,827.0 245.6,826.2 245.7,825.4 245.7,825.0 245.9,824.2 246.0,823.4 246.1,823.0 246.3,822.2 246.5,821.6 246.7,821.0 246.9,820.2 247.0,819.8 247.3,819.0 247.5,818.6 247.7,818.0 247.9,817.4 248.1,817.0 248.4,816.2 248.6,815.8 248.9,815.2 249.2,814.6 249.4,814.2 249.7,813.6 250.0,813.0 250.2,812.6 250.5,812.0 250.8,811.4 251.0,811.0 251.3,810.4 251.5,809.8 251.7,809.4 252.0,808.6 252.1,808.2 252.3,807.4 252.5,806.6 252.5,806.2 252.6,805.4 252.7,804.6 252.7,803.8 252.7,803.0 252.7,802.2 252.7,801.4 252.6,800.6 252.6,799.8 252.6,799.0 252.6,798.2 252.7,797.4 252.7,796.6 252.7,795.8 252.8,795.0 252.9,794.2 252.9,793.8 253.1,793.0 253.2,792.2 253.3,791.7 253.4,791.0 253.6,790.2 253.8,789.8 254.0,789.0 254.1,788.6 254.4,787.8 254.6,787.4 254.9,786.6 255.1,786.2 255.3,785.7 255.7,785.0 255.9,784.6 256.1,784.2 256.5,783.6 256.9,783.0 257.2,782.6 257.5,782.2 257.8,781.8 258.2,781.4 258.6,781.0 259.0,780.6 259.4,780.2 259.9,779.8 260.4,779.4 260.9,779.0 261.3,778.8 261.7,778.5 262.3,778.2 262.9,777.9 263.3,777.8 264.1,777.5 264.5,777.4 265.3,777.2 266.1,777.1 266.9,777.0 267.3,777.0 267.7,777.0 268.5,777.1 269.3,777.2 270.1,777.4 270.5,777.5 271.3,777.8 271.7,778.0 272.2,778.2 272.9,778.6 273.3,778.8 273.7,779.1 274.1,779.4 274.6,779.8 275.1,780.2 275.5,780.6 275.9,781.0 276.3,781.4 276.6,781.8 277.0,782.2 277.3,782.7 277.7,783.2 278.1,783.8 278.3,784.2 278.6,784.6 278.9,785.3 279.2,785.8 279.4,786.2 279.7,787.0 279.9,787.4 280.1,788.1 280.3,788.6 280.5,789.3 280.6,789.8 280.8,790.6 280.9,791.0 281.1,791.8 281.2,792.6 281.3,793.4 281.3,793.8 281.4,794.6 281.5,795.4 281.5,796.2 281.5,797.0 281.4,797.8 281.4,798.6 281.3,799.4 281.3,799.8 281.2,800.6 281.1,801.4 280.9,802.2 280.8,802.6 280.6,803.4 280.5,804.0 280.3,804.6 280.1,805.4 280.0,805.8 279.8,806.6 279.6,807.0 279.4,807.8 279.3,808.2 279.0,809.0 278.9,809.4 278.7,810.2 278.5,811.0 278.4,811.4 278.3,812.2 278.3,813.0 278.3,813.8 278.3,814.6 278.5,815.4 278.5,815.8 278.7,816.6 278.9,817.4 279.0,817.8 279.2,818.6 279.3,819.0 279.6,819.8 279.7,820.3 279.9,821.0 280.1,821.8 280.2,822.2 280.4,823.0 280.5,823.6 280.6,824.2 280.8,825.0 280.9,825.6 281.0,826.2 281.1,827.0 281.2,827.8 281.3,828.6 281.3,829.0 281.4,829.8 281.4,830.6 281.5,831.4 281.5,832.2 281.5,833.0 281.5,833.8 281.4,834.6 281.4,835.4 281.3,836.0 281.2,836.6 281.1,837.4 281.0,838.2 280.9,838.9 280.8,839.4 280.6,840.2 280.5,840.8 280.4,841.4 280.1,842.2 280.0,842.6 279.8,843.4 279.6,843.8 279.4,844.6 279.2,845.0 278.9,845.8 278.7,846.2 278.5,846.7 278.2,847.4 278.0,847.8 277.7,848.3 277.3,849.0 277.1,849.4 276.8,849.8 276.5,850.3 276.1,850.8 275.7,851.4 275.4,851.8 275.1,852.2 274.7,852.6 274.3,853.0 274.0,853.4 273.5,853.8 273.1,854.2 272.6,854.6 272.1,855.0 271.7,855.3 271.3,855.6 270.9,855.9 270.3,856.2 269.7,856.5 269.3,856.7 268.6,857.0 268.1,857.2 267.5,857.4 M266.9,853.0 266.1,853.2 265.3,853.3 264.5,853.4 263.7,853.4 262.9,853.3 262.1,853.1 261.6,853.0 260.9,852.8 260.4,852.6 259.7,852.3 259.3,852.1 258.8,851.8 258.2,851.4 257.7,851.0 257.3,850.7 256.9,850.4 256.5,850.0 256.1,849.6 255.7,849.2 255.3,848.8 254.9,848.3 254.5,847.8 254.2,847.4 254.0,847.0 253.7,846.6 253.3,846.0 253.0,845.4 252.8,845.0 252.5,844.5 252.2,843.8 252.0,843.4 251.7,842.7 251.5,842.2 251.3,841.6 251.1,841.0 250.9,840.4 250.7,839.8 250.5,839.0 250.4,838.6 250.3,837.8 250.1,837.0 250.1,836.6 249.9,835.8 249.9,835.0 249.8,834.2 249.7,833.4 249.7,832.6 249.7,831.8 249.7,831.0 249.8,830.2 249.8,829.4 249.9,828.6 250.0,827.8 250.1,827.4 250.2,826.6 250.4,825.8 250.5,825.4 250.7,824.6 250.9,823.9 251.1,823.4 251.3,822.7 251.5,822.2 251.7,821.7 252.0,821.0 252.2,820.6 252.5,819.9 252.8,819.4 253.0,819.0 253.3,818.4 253.7,817.8 253.9,817.4 254.2,817.0 254.5,816.6 254.9,816.0 255.3,815.5 255.7,815.0 256.0,814.6 256.3,814.2 256.6,813.8 256.9,813.4 257.3,812.9 257.7,812.3 258.0,811.8 258.1,811.4 258.4,810.6 258.5,810.1 258.5,809.4 258.5,808.8 258.4,808.2 258.2,807.4 258.1,806.8 257.9,806.2 257.7,805.4 257.6,805.0 257.4,804.2 257.3,803.8 257.0,803.0 256.9,802.4 256.8,801.8 256.6,801.0 256.5,800.2 256.4,799.8 256.3,799.0 256.3,798.2 256.2,797.4 256.2,796.6 256.2,795.8 256.3,795.0 256.3,794.2 256.5,793.4 256.5,793.0 256.7,792.2 256.8,791.4 256.9,791.0 257.2,790.2 257.3,789.8 257.6,789.0 257.8,788.6 258.1,787.9 258.3,787.4 258.6,787.0 258.9,786.4 259.3,785.8 259.6,785.4 259.9,785.0 260.2,784.6 260.6,784.2 261.0,783.8 261.5,783.4 262.0,783.0 262.5,782.6 262.9,782.4 263.3,782.1 264.0,781.8 264.5,781.6 265.1,781.4 265.7,781.3 266.5,781.1 267.3,781.1 268.1,781.1 268.9,781.3 269.5,781.4 270.1,781.6 270.6,781.8 271.3,782.1 271.7,782.3 272.1,782.6 272.7,783.0 273.1,783.4 273.6,783.8 274.0,784.2 274.4,784.6 274.7,785.0 275.0,785.4 275.3,785.8 275.7,786.4 276.0,787.0 276.2,787.4 276.5,787.9 276.8,788.6 277.0,789.0 277.3,789.8 277.4,790.2 277.6,791.0 277.7,791.4 277.9,792.2 278.0,793.0 278.1,793.6 278.2,794.2 278.2,795.0 278.3,795.8 278.2,796.6 278.2,797.4 278.1,798.2 278.1,798.6 278.0,799.4 277.8,800.2 277.7,800.8 277.6,801.4 277.3,802.2 277.2,802.6 276.9,803.4 276.8,803.8 276.5,804.5 276.3,805.0 276.1,805.4 275.7,806.1 275.4,806.6 275.2,807.0 274.9,807.6 274.5,808.2 274.3,808.6 274.0,809.0 273.7,809.5 273.3,810.2 273.1,810.6 272.9,811.0 272.6,811.8 272.5,812.2 272.4,813.0 272.5,813.8 272.6,814.2 272.8,815.0 273.0,815.4 273.3,816.1 273.5,816.6 273.7,817.0 274.1,817.8 274.3,818.2 274.5,818.6 274.9,819.4 275.1,819.8 275.3,820.2 275.6,821.0 275.8,821.4 276.1,822.1 276.3,822.6 276.5,823.2 276.7,823.8 276.9,824.5 277.1,825.0 277.3,825.8 277.4,826.2 277.5,827.0 277.7,827.8 277.7,828.2 277.9,829.0 278.0,829.8 278.0,830.6 278.1,831.4 278.1,831.8 278.1,832.6 278.1,833.4 278.1,834.2 278.1,834.6 278.0,835.4 278.0,836.2 277.9,837.0 277.8,837.8 277.7,838.2 277.5,839.0 277.4,839.8 277.3,840.2 277.0,841.0 276.9,841.5 276.7,842.2 276.5,842.7 276.2,843.4 276.1,843.8 275.7,844.6 275.5,845.0 275.3,845.4 274.9,846.1 274.6,846.6 274.4,847.0 274.1,847.4 273.7,848.0 273.3,848.5 272.9,849.0 272.5,849.4 272.1,849.8 271.7,850.2 271.3,850.6 270.9,850.9 270.5,851.2 270.1,851.5 269.6,851.8 268.9,852.2 268.5,852.4 268.1,852.6 267.3,852.9 266.9,853.0 M268.1,809.1 267.3,809.3 266.5,809.4 265.7,809.3 264.9,809.0 264.5,808.8 264.1,808.6 263.6,808.2 263.1,807.8 262.7,807.4 262.3,807.0 262.0,806.6 261.7,806.2 261.3,805.7 260.9,805.1 260.6,804.6 260.4,804.2 260.1,803.6 259.8,803.0 259.7,802.6 259.4,801.8 259.2,801.4 259.0,800.6 258.9,800.2 258.7,799.4 258.6,798.6 258.5,797.8 258.5,797.4 258.4,796.6 258.4,795.8 258.5,795.0 258.5,794.6 258.6,793.8 258.7,793.0 258.9,792.2 259.0,791.8 259.2,791.0 259.4,790.6 259.7,789.8 259.9,789.4 260.1,788.9 260.5,788.2 260.8,787.8 261.1,787.4 261.4,787.0 261.7,786.6 262.1,786.2 262.5,785.8 263.0,785.4 263.6,785.0 264.1,784.7 264.5,784.5 265.2,784.2 265.7,784.1 266.5,783.9 267.3,783.8 268.1,783.9 268.9,784.0 269.4,784.2 270.1,784.5 270.5,784.6 271.1,785.0 271.7,785.4 272.1,785.8 272.5,786.1 272.9,786.5 273.3,787.0 273.6,787.4 273.9,787.8 274.1,788.2 274.5,788.9 274.8,789.4 274.9,789.8 275.3,790.6 275.4,791.0 275.6,791.8 275.7,792.2 275.9,793.0 276.0,793.8 276.1,794.6 276.1,795.0 276.2,795.8 276.1,796.6 276.1,797.2 276.0,797.8 275.9,798.6 275.8,799.4 275.7,799.8 275.5,800.6 275.3,801.1 275.1,801.8 274.9,802.2 274.5,803.0 274.3,803.4 274.1,803.8 273.7,804.5 273.3,805.0 273.0,805.4 272.7,805.8 272.4,806.2 272.0,806.6 271.5,807.0 271.1,807.4 270.6,807.8 270.1,808.1 269.7,808.4 269.3,808.6 268.5,809.0 268.1,809.1 M266.1,850.2 265.3,850.4 264.5,850.4 263.7,850.4 262.9,850.3 262.5,850.2 261.7,850.0 261.2,849.8 260.5,849.5 260.1,849.3 259.6,849.0 259.1,848.6 258.5,848.2 258.1,847.8 257.7,847.5 257.3,847.1 256.9,846.6 256.6,846.2 256.3,845.8 256.0,845.4 255.7,845.0 255.3,844.4 255.0,843.8 254.8,843.4 254.5,842.9 254.2,842.2 254.0,841.8 253.7,841.0 253.6,840.6 253.3,839.8 253.2,839.4 253.0,838.6 252.9,838.2 252.7,837.4 252.6,836.6 252.5,836.1 252.4,835.4 252.3,834.6 252.3,833.8 252.3,833.0 252.3,832.2 252.3,831.4 252.4,830.6 252.5,829.8 252.5,829.4 252.6,828.6 252.8,827.8 252.9,827.2 253.1,826.6 253.3,825.8 253.4,825.4 253.7,824.6 253.8,824.2 254.1,823.6 254.4,823.0 254.6,822.6 254.9,822.0 255.2,821.4 255.5,821.0 255.7,820.6 256.1,820.1 256.5,819.5 256.9,819.1 257.3,818.6 257.7,818.2 258.1,817.8 258.5,817.4 258.9,817.1 259.3,816.8 259.7,816.5 260.2,816.2 260.8,815.8 261.3,815.5 261.7,815.4 262.5,815.0 262.9,814.9 263.7,814.7 264.5,814.6 265.3,814.7 266.1,814.9 266.5,815.0 267.3,815.4 267.7,815.7 268.1,815.9 268.5,816.2 268.9,816.6 269.4,817.0 269.8,817.4 270.2,817.8 270.6,818.2 270.9,818.6 271.3,819.1 271.7,819.6 272.1,820.1 272.4,820.6 272.7,821.0 272.9,821.4 273.3,822.1 273.6,822.6 273.8,823.0 274.1,823.8 274.3,824.2 274.5,824.8 274.7,825.4 274.9,825.9 275.1,826.6 275.3,827.3 275.4,827.8 275.6,828.6 275.7,829.3 275.8,829.8 275.9,830.6 276.0,831.4 276.0,832.2 276.0,833.0 276.0,833.8 276.0,834.6 275.9,835.4 275.9,836.2 275.7,837.0 275.7,837.4 275.5,838.2 275.4,839.0 275.3,839.4 275.0,840.2 274.9,840.6 274.6,841.4 274.5,841.8 274.2,842.6 274.0,843.0 273.7,843.6 273.4,844.2 273.1,844.6 272.9,845.0 272.5,845.6 272.1,846.1 271.7,846.6 271.4,847.0 271.0,847.4 270.6,847.8 270.1,848.2 269.7,848.5 269.3,848.8 268.9,849.1 268.3,849.4 267.7,849.7 267.3,849.9 266.5,850.1 266.1,850.2 M268.1,807.5 267.3,807.6 266.5,807.6 265.7,807.5 265.3,807.4 264.5,807.0 264.1,806.8 263.7,806.5 263.3,806.2 262.9,805.8 262.5,805.4 262.1,804.9 261.7,804.4 261.3,803.8 261.1,803.4 260.9,803.0 260.5,802.2 260.3,801.8 260.1,801.2 259.9,800.6 259.7,799.9 259.6,799.4 259.4,798.6 259.3,797.8 259.3,797.4 259.2,796.6 259.2,795.8 259.2,795.0 259.3,794.4 259.4,793.8 259.5,793.0 259.7,792.2 259.8,791.8 260.1,791.0 260.2,790.6 260.5,790.0 260.8,789.4 261.0,789.0 261.3,788.5 261.7,788.0 262.1,787.5 262.5,787.0 262.9,786.7 263.3,786.3 263.7,786.0 264.1,785.8 264.8,785.4 265.3,785.2 266.0,785.0 266.5,784.9 267.3,784.8 268.1,784.9 268.6,785.0 269.3,785.2 269.8,785.4 270.5,785.7 270.9,786.0 271.3,786.3 271.7,786.6 272.1,787.0 272.5,787.4 272.9,787.9 273.3,788.4 273.6,789.0 273.9,789.4 274.1,789.9 274.4,790.6 274.6,791.0 274.8,791.8 274.9,792.2 275.1,793.0 275.3,793.8 275.3,794.2 275.4,795.0 275.4,795.8 275.4,796.6 275.3,797.4 275.3,797.8 275.1,798.6 275.0,799.4 274.9,799.8 274.6,800.6 274.5,801.0 274.2,801.8 274.0,802.2 273.7,802.7 273.3,803.4 273.0,803.8 272.7,804.2 272.4,804.6 272.1,805.0 271.7,805.4 271.3,805.8 270.8,806.2 270.2,806.6 269.7,806.9 269.3,807.1 268.5,807.4 268.1,807.5 M266.5,849.1 265.7,849.3 264.9,849.4 264.1,849.4 263.3,849.3 262.5,849.1 262.0,849.0 261.3,848.7 260.9,848.6 260.2,848.2 259.7,847.9 259.3,847.6 258.9,847.3 258.5,846.9 258.1,846.5 257.7,846.1 257.3,845.7 256.9,845.2 256.5,844.6 256.2,844.2 256.0,843.8 255.7,843.3 255.3,842.6 255.1,842.2 254.9,841.7 254.6,841.0 254.5,840.6 254.2,839.8 254.1,839.4 253.8,838.6 253.7,838.0 253.6,837.4 253.4,836.6 253.3,835.8 253.3,835.4 253.2,834.6 253.1,833.8 253.1,833.0 253.1,832.2 253.2,831.4 253.2,830.6 253.3,830.1 253.4,829.4 253.5,828.6 253.7,827.8 253.8,827.4 254.0,826.6 254.1,826.2 254.4,825.4 254.6,825.0 254.9,824.2 255.1,823.8 255.3,823.4 255.7,822.6 255.9,822.2 256.2,821.8 256.5,821.4 256.9,820.8 257.3,820.3 257.7,819.9 258.1,819.4 258.5,819.1 258.9,818.7 259.3,818.4 259.7,818.1 260.2,817.8 260.9,817.4 261.3,817.2 261.7,817.0 262.5,816.7 263.1,816.6 263.7,816.5 264.5,816.5 265.3,816.5 265.7,816.6 266.5,816.9 266.9,817.0 267.6,817.4 268.1,817.7 268.5,817.9 268.9,818.3 269.3,818.6 269.8,819.0 270.2,819.4 270.5,819.8 270.9,820.2 271.3,820.7 271.7,821.3 272.1,821.8 272.3,822.2 272.5,822.6 272.9,823.3 273.2,823.8 273.4,824.2 273.7,825.0 273.9,825.4 274.1,826.1 274.3,826.6 274.5,827.4 274.6,827.8 274.8,828.6 274.9,829.2 275.0,829.8 275.1,830.6 275.2,831.4 275.2,832.2 275.3,833.0 275.3,833.8 275.2,834.6 275.2,835.4 275.1,836.2 275.0,837.0 274.9,837.6 274.8,838.2 274.6,839.0 274.5,839.4 274.2,840.2 274.1,840.6 273.8,841.4 273.7,841.8 273.3,842.6 273.1,843.0 272.9,843.4 272.5,844.1 272.2,844.6 271.9,845.0 271.6,845.4 271.3,845.8 270.9,846.2 270.5,846.6 270.1,847.0 269.6,847.4 269.1,847.8 268.5,848.2 268.1,848.4 267.7,848.6 266.9,848.9 266.5,849.1 M267.7,805.8 266.9,805.8 266.4,805.8 265.7,805.6 265.1,805.4 264.5,805.1 264.1,804.8 263.7,804.5 263.3,804.1 262.9,803.7 262.5,803.2 262.1,802.6 261.8,802.2 261.6,801.8 261.3,801.1 261.1,800.6 260.9,800.1 260.7,799.4 260.5,798.6 260.4,798.2 260.3,797.4 260.3,796.6 260.2,795.8 260.3,795.0 260.4,794.2 260.5,793.4 260.6,793.0 260.8,792.2 260.9,791.8 261.2,791.0 261.4,790.6 261.7,790.0 262.1,789.4 262.4,789.0 262.7,788.6 263.0,788.2 263.4,787.8 263.9,787.4 264.5,787.0 264.9,786.8 265.3,786.6 266.1,786.3 266.9,786.2 267.3,786.2 267.7,786.2 268.5,786.3 269.3,786.6 269.7,786.7 270.2,787.0 270.8,787.4 271.3,787.8 271.7,788.2 272.0,788.6 272.3,789.0 272.6,789.4 272.9,789.9 273.3,790.6 273.5,791.0 273.7,791.6 273.9,792.2 274.1,793.0 274.2,793.4 274.3,794.2 274.4,795.0 274.4,795.8 274.4,796.6 274.3,797.4 274.2,798.2 274.1,798.6 273.9,799.4 273.7,800.0 273.5,800.6 273.3,801.0 272.9,801.8 272.7,802.2 272.4,802.6 272.1,803.0 271.7,803.5 271.3,803.9 270.9,804.3 270.5,804.6 270.0,805.0 269.3,805.4 268.9,805.5 268.1,805.8 267.7,805.8 M265.7,847.9 264.9,848.0 264.1,848.0 263.3,847.9 262.7,847.8 262.1,847.6 261.5,847.4 260.9,847.1 260.5,846.9 260.1,846.6 259.6,846.2 259.1,845.8 258.7,845.4 258.3,845.0 257.9,844.6 257.6,844.2 257.3,843.8 256.9,843.2 256.6,842.6 256.3,842.2 256.1,841.7 255.8,841.0 255.6,840.6 255.3,839.8 255.2,839.4 254.9,838.6 254.8,838.2 254.6,837.4 254.5,836.6 254.4,836.2 254.3,835.4 254.3,834.6 254.2,833.8 254.2,833.0 254.2,832.2 254.3,831.4 254.3,830.6 254.5,829.8 254.5,829.4 254.7,828.6 254.9,827.8 255.0,827.4 255.2,826.6 255.4,826.2 255.7,825.4 255.9,825.0 256.1,824.5 256.5,823.8 256.7,823.4 257.0,823.0 257.3,822.5 257.7,822.0 258.1,821.5 258.5,821.1 258.9,820.7 259.3,820.3 259.7,820.0 260.1,819.7 260.6,819.4 261.3,819.0 261.7,818.9 262.5,818.6 262.9,818.5 263.7,818.4 264.5,818.4 265.3,818.4 266.0,818.6 266.5,818.8 267.1,819.0 267.7,819.3 268.1,819.6 268.5,819.8 268.9,820.2 269.4,820.6 269.8,821.0 270.2,821.4 270.5,821.8 270.9,822.3 271.3,822.8 271.7,823.4 271.9,823.8 272.1,824.2 272.5,825.0 272.7,825.4 272.9,825.9 273.2,826.6 273.3,827.0 273.6,827.8 273.7,828.4 273.9,829.0 274.0,829.8 274.1,830.4 274.2,831.0 274.3,831.8 274.3,832.6 274.3,833.4 274.3,834.2 274.3,835.0 274.2,835.8 274.1,836.5 274.0,837.0 273.9,837.8 273.7,838.5 273.6,839.0 273.3,839.8 273.2,840.2 272.9,841.0 272.7,841.4 272.5,841.9 272.1,842.6 271.9,843.0 271.6,843.4 271.3,843.9 270.9,844.5 270.5,844.9 270.1,845.4 269.7,845.8 269.3,846.1 268.9,846.4 268.5,846.7 268.0,847.0 267.3,847.4 266.9,847.5 266.1,847.8 265.7,847.9 M268.5,804.2 267.7,804.4 266.9,804.4 266.1,804.3 265.7,804.1 265.0,803.8 264.5,803.5 264.1,803.2 263.7,802.8 263.3,802.4 262.9,801.8 262.6,801.4 262.4,801.0 262.1,800.4 261.9,799.8 261.7,799.4 261.5,798.6 261.3,797.8 261.3,797.4 261.2,796.6 261.2,795.8 261.2,795.0 261.3,794.2 261.3,793.8 261.5,793.0 261.7,792.4 261.9,791.8 262.1,791.4 262.5,790.6 262.7,790.2 263.0,789.8 263.3,789.4 263.7,789.0 264.2,788.6 264.7,788.2 265.3,787.9 265.7,787.7 266.5,787.5 267.1,787.4 267.6,787.4 268.1,787.5 268.9,787.7 269.3,787.8 270.0,788.2 270.5,788.6 270.9,788.9 271.3,789.3 271.7,789.8 271.9,790.2 272.2,790.6 272.5,791.2 272.8,791.8 272.9,792.2 273.2,793.0 273.3,793.7 273.4,794.2 273.5,795.0 273.5,795.8 273.5,796.6 273.4,797.4 273.3,797.9 273.1,798.6 272.9,799.4 272.8,799.8 272.5,800.4 272.2,801.0 272.0,801.4 271.7,801.8 271.3,802.3 270.9,802.7 270.5,803.1 270.1,803.4 269.5,803.8 268.9,804.1 268.5,804.2 M265.7,846.7 264.9,846.8 264.1,846.8 263.3,846.7 262.7,846.6 262.1,846.4 261.6,846.2 260.9,845.8 260.5,845.6 260.1,845.3 259.7,844.9 259.3,844.6 258.9,844.2 258.5,843.7 258.1,843.2 257.7,842.6 257.4,842.2 257.2,841.8 256.9,841.2 256.6,840.6 256.4,840.2 256.1,839.4 256.0,839.0 255.8,838.2 255.7,837.8 255.5,837.0 255.3,836.2 255.3,835.8 255.2,835.0 255.1,834.2 255.1,833.4 255.1,832.6 255.2,831.8 255.2,831.0 255.3,830.5 255.4,829.8 255.6,829.0 255.7,828.5 255.9,827.8 256.1,827.2 256.3,826.6 256.5,826.1 256.8,825.4 257.0,825.0 257.3,824.5 257.7,823.9 258.1,823.4 258.4,823.0 258.7,822.6 259.1,822.2 259.5,821.8 260.0,821.4 260.5,821.0 260.9,820.8 261.3,820.5 262.1,820.2 262.5,820.1 263.3,819.9 264.1,819.8 264.9,819.8 265.7,820.0 266.4,820.2 266.9,820.4 267.3,820.6 268.0,821.0 268.5,821.4 268.9,821.7 269.3,822.1 269.7,822.5 270.1,823.0 270.4,823.4 270.7,823.8 271.0,824.2 271.3,824.7 271.7,825.4 271.9,825.8 272.1,826.4 272.4,827.0 272.5,827.4 272.8,828.2 272.9,828.7 273.1,829.4 273.2,830.2 273.3,830.8 273.4,831.4 273.5,832.2 273.5,833.0 273.5,833.8 273.5,834.6 273.4,835.4 273.3,836.2 273.2,836.6 273.1,837.4 272.9,838.2 272.8,838.6 272.6,839.4 272.4,839.8 272.1,840.6 271.9,841.0 271.7,841.5 271.3,842.2 271.1,842.6 270.8,843.0 270.5,843.4 270.1,843.9 269.7,844.3 269.3,844.7 268.9,845.1 268.5,845.4 267.9,845.8 267.3,846.1 266.9,846.3 266.1,846.6 265.7,846.7 M268.1,803.1 267.3,803.1 266.5,803.1 266.1,803.0 265.3,802.6 264.9,802.4 264.5,802.0 264.1,801.6 263.7,801.2 263.3,800.6 263.1,800.2 262.9,799.8 262.6,799.0 262.4,798.6 262.2,797.8 262.1,797.0 262.1,796.6 262.0,795.8 262.1,795.0 262.1,794.6 262.2,793.8 262.4,793.0 262.6,792.6 262.9,791.8 263.1,791.4 263.4,791.0 263.7,790.5 264.1,790.0 264.5,789.7 264.9,789.3 265.5,789.0 266.1,788.7 266.6,788.6 267.3,788.5 268.1,788.6 268.5,788.7 269.2,789.0 269.7,789.3 270.1,789.6 270.5,789.9 270.9,790.4 271.3,790.9 271.6,791.4 271.8,791.8 272.1,792.6 272.2,793.0 272.4,793.8 272.5,794.2 272.6,795.0 272.6,795.8 272.6,796.6 272.5,797.4 272.4,797.8 272.2,798.6 272.1,799.0 271.8,799.8 271.5,800.2 271.3,800.6 270.9,801.2 270.5,801.6 270.1,802.0 269.7,802.3 269.3,802.6 268.5,802.9 268.1,803.1 M266.1,845.5 265.3,845.7 264.5,845.8 263.7,845.7 262.9,845.6 262.4,845.4 261.7,845.1 261.3,844.9 260.8,844.6 260.3,844.2 259.9,843.8 259.5,843.4 259.1,843.0 258.8,842.6 258.5,842.2 258.1,841.6 257.7,841.0 257.5,840.6 257.3,840.1 257.0,839.4 256.9,839.0 256.6,838.2 256.5,837.8 256.3,837.0 256.1,836.2 256.1,835.8 256.0,835.0 255.9,834.2 255.9,833.4 255.9,832.6 256.0,831.8 256.1,831.0 256.1,830.6 256.3,829.8 256.4,829.0 256.5,828.6 256.8,827.8 256.9,827.4 257.3,826.6 257.5,826.2 257.7,825.7 258.1,825.0 258.4,824.6 258.7,824.2 259.0,823.8 259.4,823.4 259.8,823.0 260.2,822.6 260.8,822.2 261.3,821.9 261.7,821.6 262.3,821.4 262.9,821.2 263.7,821.1 264.5,821.0 265.3,821.1 266.1,821.3 266.5,821.5 267.2,821.8 267.7,822.1 268.1,822.4 268.5,822.7 268.9,823.1 269.3,823.5 269.7,824.0 270.1,824.5 270.4,825.0 270.7,825.4 270.9,825.8 271.3,826.6 271.5,827.0 271.7,827.6 271.9,828.2 272.1,828.8 272.3,829.4 272.4,830.2 272.5,830.6 272.6,831.4 272.7,832.2 272.7,833.0 272.8,833.8 272.7,834.6 272.7,835.4 272.6,836.2 272.5,836.6 272.3,837.4 272.1,838.2 272.0,838.6 271.7,839.4 271.6,839.8 271.3,840.5 271.0,841.0 270.8,841.4 270.5,841.9 270.1,842.5 269.7,843.0 269.4,843.4 269.0,843.8 268.5,844.2 268.1,844.5 267.7,844.8 267.3,845.0 266.5,845.4 266.1,845.5 M268.1,801.8 267.3,801.9 266.5,801.8 266.1,801.7 265.5,801.4 265.0,801.0 264.6,800.6 264.2,800.2 264.0,799.8 263.7,799.3 263.4,798.6 263.2,798.2 263.0,797.4 262.9,796.6 262.9,796.2 262.9,795.4 262.9,795.0 263.0,794.2 263.2,793.4 263.4,793.0 263.7,792.3 264.0,791.8 264.2,791.4 264.6,791.0 265.0,790.6 265.5,790.2 266.1,789.9 266.5,789.8 267.3,789.7 268.1,789.8 268.5,789.9 269.2,790.2 269.7,790.6 270.1,791.0 270.5,791.4 270.7,791.8 271.0,792.2 271.3,792.9 271.5,793.4 271.7,794.2 271.7,794.6 271.8,795.4 271.8,796.2 271.7,797.0 271.6,797.4 271.4,798.2 271.3,798.6 270.9,799.4 270.7,799.8 270.4,800.2 270.1,800.6 269.6,801.0 269.1,801.4 268.5,801.7 268.1,801.8 M265.7,844.6 264.9,844.8 264.1,844.8 263.3,844.7 262.9,844.6 262.1,844.3 261.7,844.0 261.3,843.8 260.7,843.4 260.3,843.0 259.9,842.6 259.5,842.2 259.2,841.8 258.9,841.4 258.5,840.7 258.2,840.2 258.0,839.8 257.7,839.1 257.5,838.6 257.3,837.9 257.1,837.4 257.0,836.6 256.9,836.2 256.8,835.4 256.7,834.6 256.6,833.8 256.6,833.0 256.7,832.2 256.8,831.4 256.9,830.6 256.9,830.2 257.1,829.4 257.3,828.8 257.5,828.2 257.7,827.7 258.0,827.0 258.2,826.6 258.5,826.0 258.9,825.4 259.2,825.0 259.5,824.6 259.9,824.2 260.3,823.8 260.8,823.4 261.3,823.1 261.7,822.8 262.2,822.6 262.9,822.3 263.6,822.2 264.1,822.1 264.9,822.2 265.3,822.2 266.1,822.5 266.5,822.6 267.2,823.0 267.7,823.3 268.1,823.6 268.5,824.0 268.9,824.4 269.3,824.9 269.7,825.4 270.0,825.8 270.2,826.2 270.5,826.7 270.8,827.4 271.0,827.8 271.3,828.6 271.4,829.0 271.6,829.8 271.7,830.2 271.9,831.0 272.0,831.8 272.0,832.6 272.1,833.4 272.1,834.2 272.0,835.0 271.9,835.8 271.8,836.6 271.7,837.0 271.5,837.8 271.3,838.5 271.1,839.0 270.9,839.5 270.6,840.2 270.4,840.6 270.1,841.1 269.7,841.7 269.3,842.2 269.0,842.6 268.6,843.0 268.1,843.4 267.7,843.7 267.3,844.0 266.8,844.2 266.1,844.5 265.7,844.6 M267.7,800.6 266.9,800.6 266.5,800.5 265.9,800.2 265.3,799.8 265.0,799.4 264.7,799.0 264.4,798.6 264.1,797.8 264.0,797.4 263.8,796.6 263.8,795.8 263.8,795.0 264.0,794.2 264.1,793.8 264.4,793.0 264.6,792.6 264.9,792.2 265.3,791.8 265.8,791.4 266.5,791.0 266.9,790.9 267.7,790.9 268.1,791.0 268.9,791.4 269.3,791.7 269.7,792.1 270.1,792.6 270.3,793.0 270.5,793.5 270.7,794.2 270.9,795.0 270.9,795.5 270.9,795.9 270.8,796.6 270.7,797.4 270.5,798.0 270.2,798.6 270.0,799.0 269.7,799.4 269.3,799.8 268.8,800.2 268.1,800.5 267.7,800.6 M264.9,843.8 264.1,843.8 263.7,843.8 262.9,843.6 262.4,843.4 261.7,843.0 261.3,842.8 260.9,842.5 260.5,842.1 260.1,841.7 259.7,841.2 259.3,840.6 259.0,840.2 258.8,839.8 258.5,839.1 258.3,838.6 258.1,838.1 257.9,837.4 257.7,836.7 257.6,836.2 257.5,835.4 257.4,834.6 257.3,833.8 257.3,833.0 257.4,832.2 257.5,831.4 257.6,830.6 257.7,830.1 257.9,829.4 258.1,828.7 258.3,828.2 258.5,827.7 258.9,827.0 259.1,826.6 259.4,826.2 259.7,825.7 260.1,825.3 260.5,824.8 260.9,824.5 261.3,824.2 261.9,823.8 262.5,823.5 262.9,823.4 263.7,823.2 264.5,823.2 265.3,823.3 265.8,823.4 266.5,823.7 266.9,823.9 267.4,824.2 267.9,824.6 268.3,825.0 268.7,825.4 269.0,825.8 269.3,826.2 269.7,826.8 270.0,827.4 270.2,827.8 270.5,828.5 270.7,829.0 270.9,829.7 271.0,830.2 271.2,831.0 271.3,831.7 271.4,832.2 271.4,833.0 271.4,833.8 271.4,834.6 271.3,835.4 271.3,835.8 271.1,836.6 270.9,837.4 270.8,837.8 270.5,838.6 270.4,839.0 270.1,839.6 269.8,840.2 269.5,840.6 269.3,841.0 268.9,841.5 268.5,841.9 268.1,842.3 267.7,842.7 267.2,843.0 266.5,843.4 266.1,843.5 265.3,843.8 264.9,843.8 M268.1,799.0 267.3,799.2 266.5,799.0 266.1,798.7 265.7,798.3 265.3,797.8 265.1,797.4 264.9,796.6 264.9,796.2 264.8,795.4 264.9,794.9 265.1,794.2 265.3,793.7 265.7,793.1 266.1,792.7 266.5,792.5 267.3,792.3 268.1,792.4 268.5,792.7 268.9,793.0 269.3,793.5 269.6,794.2 269.7,794.6 269.9,795.4 269.8,796.2 269.7,796.9 269.5,797.4 269.3,797.9 268.9,798.4 268.5,798.8 268.1,799.0 M266.1,842.6 265.3,842.8 264.5,842.9 263.7,842.9 262.9,842.7 262.5,842.5 262.0,842.2 261.4,841.8 260.9,841.4 260.5,841.0 260.2,840.6 259.9,840.2 259.6,839.8 259.3,839.2 259.0,838.6 258.9,838.2 258.6,837.4 258.5,837.0 258.3,836.2 258.1,835.4 258.1,835.0 258.0,834.2 258.0,833.4 258.0,832.6 258.1,831.8 258.1,831.4 258.3,830.6 258.5,829.8 258.6,829.4 258.9,828.7 259.1,828.2 259.3,827.8 259.7,827.1 260.1,826.6 260.4,826.2 260.7,825.8 261.2,825.4 261.7,825.0 262.1,824.8 262.5,824.6 263.3,824.3 263.8,824.2 264.5,824.2 264.9,824.2 265.7,824.4 266.3,824.6 266.9,824.9 267.3,825.2 267.7,825.5 268.1,825.9 268.5,826.4 268.9,826.9 269.2,827.4 269.4,827.8 269.7,828.4 270.0,829.0 270.1,829.4 270.4,830.2 270.5,830.8 270.6,831.4 270.7,832.2 270.8,833.0 270.8,833.8 270.8,834.6 270.7,835.4 270.5,836.2 270.5,836.6 270.2,837.4 270.1,837.9 269.8,838.6 269.6,839.0 269.3,839.6 268.9,840.2 268.6,840.6 268.3,841.0 267.9,841.4 267.5,841.8 266.9,842.2 266.5,842.4 266.1,842.6 M267.7,796.7 266.9,796.7 266.6,796.2 266.6,795.4 266.9,794.8 267.3,794.6 267.7,794.7 268.1,795.3 268.2,795.8 268.1,796.2 267.7,796.7 M265.7,841.8 264.9,842.0 264.1,842.0 263.3,841.9 262.9,841.7 262.3,841.4 261.7,841.0 261.3,840.7 260.9,840.3 260.5,839.8 260.3,839.4 260.0,839.0 259.7,838.4 259.4,837.8 259.3,837.4 259.0,836.6 258.9,836.1 258.8,835.4 258.7,834.6 258.6,833.8 258.6,833.0 258.7,832.2 258.8,831.4 258.9,831.0 259.1,830.2 259.3,829.6 259.5,829.0 259.7,828.6 260.1,827.9 260.4,827.4 260.7,827.0 261.1,826.6 261.6,826.2 262.1,825.8 262.5,825.6 262.9,825.4 263.7,825.2 264.5,825.1 265.3,825.2 265.8,825.4 266.5,825.7 266.9,826.0 267.3,826.3 267.7,826.7 268.1,827.1 268.5,827.7 268.8,828.2 269.0,828.6 269.3,829.2 269.5,829.8 269.7,830.3 269.9,831.0 270.0,831.8 270.1,832.3 270.2,833.0 270.2,833.8 270.1,834.6 270.1,835.0 270.0,835.8 269.8,836.6 269.7,837.0 269.4,837.8 269.3,838.2 268.9,838.9 268.6,839.4 268.3,839.8 268.0,840.2 267.6,840.6 267.2,841.0 266.6,841.4 266.1,841.7 265.7,841.8 M265.3,841.0 264.5,841.1 263.7,841.0 263.3,840.9 262.6,840.6 262.1,840.3 261.7,840.0 261.3,839.5 260.9,839.0 260.6,838.6 260.4,838.2 260.1,837.6 259.9,837.0 259.7,836.5 259.5,835.8 259.4,835.0 259.3,834.2 259.3,833.8 259.3,833.0 259.3,832.6 259.4,831.8 259.6,831.0 259.7,830.6 260.0,829.8 260.1,829.4 260.5,828.7 260.8,828.2 261.1,827.8 261.5,827.4 261.9,827.0 262.5,826.6 262.9,826.4 263.5,826.2 264.1,826.1 264.9,826.1 265.3,826.2 266.1,826.5 266.5,826.8 266.9,827.0 267.3,827.4 267.7,827.9 268.1,828.4 268.5,829.0 268.6,829.4 268.9,830.0 269.1,830.6 269.3,831.4 269.4,831.8 269.5,832.6 269.5,833.4 269.5,834.2 269.5,835.0 269.3,835.8 269.2,836.2 269.0,837.0 268.9,837.4 268.5,838.2 268.3,838.6 268.0,839.0 267.7,839.4 267.3,839.8 266.9,840.2 266.3,840.6 265.7,840.9 265.3,841.0 M265.7,839.9 264.9,840.1 264.1,840.1 263.3,839.9 262.9,839.8 262.4,839.4 261.9,839.0 261.5,838.6 261.2,838.2 260.9,837.6 260.6,837.0 260.5,836.6 260.2,835.8 260.1,835.3 260.0,834.6 260.0,833.8 260.0,833.0 260.0,832.2 260.1,831.8 260.3,831.0 260.5,830.4 260.8,829.8 261.0,829.4 261.3,828.9 261.7,828.4 262.1,828.0 262.5,827.7 263.0,827.4 263.7,827.1 264.5,827.1 265.3,827.2 265.8,827.4 266.4,827.8 266.9,828.2 267.3,828.6 267.6,829.0 267.8,829.4 268.1,829.9 268.4,830.6 268.5,831.0 268.7,831.8 268.8,832.6 268.9,833.4 268.9,834.2 268.8,835.0 268.6,835.8 268.5,836.3 268.3,837.0 268.1,837.4 267.7,838.1 267.3,838.6 267.0,839.0 266.5,839.4 266.1,839.7 265.7,839.9 M265.3,839.0 264.5,839.2 263.7,839.0 263.3,838.9 262.8,838.6 262.3,838.2 262.0,837.8 261.7,837.4 261.3,836.7 261.1,836.2 260.9,835.5 260.8,835.0 260.7,834.2 260.7,833.4 260.7,832.6 260.9,831.8 261.0,831.4 261.3,830.6 261.5,830.2 261.7,829.8 262.1,829.3 262.5,828.9 262.9,828.6 263.7,828.2 264.1,828.1 264.9,828.2 265.3,828.3 265.9,828.6 266.4,829.0 266.8,829.4 267.1,829.8 267.4,830.2 267.7,830.9 267.9,831.4 268.1,832.2 268.1,832.6 268.2,833.4 268.2,834.2 268.1,834.9 268.0,835.4 267.8,836.2 267.6,836.6 267.3,837.2 266.9,837.8 266.6,838.2 266.1,838.6 265.7,838.8 265.3,839.0 M265.3,837.8 264.5,838.0 263.7,837.9 263.3,837.7 262.9,837.4 262.5,836.9 262.1,836.3 261.9,835.8 261.7,835.3 261.5,834.6 261.5,833.8 261.5,833.0 261.6,832.2 261.7,831.8 262.1,831.0 262.3,830.6 262.6,830.2 263.1,829.8 263.7,829.4 264.1,829.3 264.9,829.4 265.3,829.5 265.8,829.8 266.2,830.2 266.5,830.6 266.9,831.2 267.1,831.8 267.3,832.5 267.4,833.0 267.4,833.8 267.3,834.6 267.3,835.0 267.0,835.8 266.9,836.2 266.5,836.8 266.1,837.3 265.7,837.6 265.3,837.8 M265.3,836.2 264.5,836.5 263.7,836.3 263.3,836.0 262.9,835.4 262.7,835.0 262.5,834.2 262.5,833.8 262.5,833.3 262.6,832.6 262.9,831.9 263.2,831.4 263.7,831.0 264.1,830.8 264.9,830.9 265.3,831.1 265.7,831.5 266.1,832.2 266.2,832.6 266.4,833.4 266.4,834.2 266.2,835.0 266.0,835.4 265.7,835.9 265.3,836.2" fill="none" stroke="#1c1ce0" stroke-width="0.65"/>
<rect x="184.5" y="724.6" width="134.8" height="133.1" fill="none" stroke="#777" stroke-width="0.8"/>
<line x1="240.5" y1="724.6" x2="240.5" y2="857.7" stroke="#111" stroke-width="1.3"/>
<line x1="184.5" y1="807.5" x2="319.3" y2="807.5" stroke="#111" stroke-width="1.3"/>
<text x="185.7" y="734.6" font-size="10.5">0.55</text>
<text x="318.2" y="734.6" font-size="10.5" text-anchor="end">5.29</text>
<text x="185.7" y="818.1" font-size="10.5">83.2</text>
<text x="318.2" y="857.1" font-size="10.5" text-anchor="end">10.9</text>
<rect x="21.8" y="883.3" width="135.1" height="134" fill="#fff" stroke="#777" stroke-width="0.8"/>
<path d="M52.1,949.6a0.45,0.45 0 1 0 0.9,0a0.45,0.45 0 1 0 -0.9,0M43.67,941.89a0.45,0.45 0 1 0 0.9,0a0.45,0.45 0 1 0 -0.9,0M55.28,950.17a0.45,0.45 0 1 0 0.9,0a0.45,0.45 0 1 0 -0.9,0M51.41,926.83a0.45,0.45 0 1 0 0.9,0a0.45,0.45 0 1 0 -0.9,0M54.39,959.03a0.45,0.45 0 1 0 0.9,0a0.45,0.45 0 1 0 -0.9,0M58.64,947.81a0.45,0.45 0 1 0 0.9,0a0.45,0.45 0 1 0 -0.9,0M35.53,956.31a0.45,0.45 0 1 0 0.9,0a0.45,0.45 0 1 0 -0.9,0M48.22,914.61a0.45,0.45 0 1 0 0.9,0a0.45,0.45 0 1 0 -0.9,0M52.94,927.09a0.45,0.45 0 1 0 0.9,0a0.45,0.45 0 1 0 -0.9,0M37.88,937.38a0.45,0.45 0 1 0 0.9,0a0.45,0.45 0 1 0 -0.9,0M61,940.55a0.45,0.45 0 1 0 0.9,0a0.45,0.45 0 1 0 -0.9,0M51.99,965.98a0.45,0.45 0 1 0 0.9,0a0.45,0.45 0 1 0 -0.9,0M63.9,943.76a0.45,0.45 0 1 0 0.9,0a0.45,0.45 0 1 0 -0.9,0M47.38,929.87a0.45,0.45 0 1 0 0.9,0a0.45,0.45 0 1 0 -0.9,0M43.3,950.1a0.45,0.45 0 1 0 0.9,0a0.45,0.45 0 1 0 -0.9,0M53.11,946.32a0.45,0.45 0 1 0 0.9,0a0.45,0.45 0 1 0 -0.9,0M58.5,935.73a0.45,0.45 0 1 0 0.9,0a0.45,0.45 0 1 0 -0.9,0M49.05,953.77a0.45,0.45 0 1 0 0.9,0a0.45,0.45 0 1 0 -0.9,0" fill="#5050ee" stroke="none" stroke-width="1"/>
<path d="M110.05,956.64a0.45,0.45 0 1 0 0.9,0a0.45,0.45 0 1 0 -0.9,0M108.93,944.22a0.45,0.45 0 1 0 0.9,0a0.45,0.45 0 1 0 -0.9,0M108.72,937.98a0.45,0.45 0 1 0 0.9,0a0.45,0.45 0 1 0 -0.9,0M96.71,952.23a0.45,0.45 0 1 0 0.9,0a0.45,0.45 0 1 0 -0.9,0M106.22,949.78a0.45,0.45 0 1 0 0.9,0a0.45,0.45 0 1 0 -0.9,0M96.36,943.71a0.45,0.45 0 1 0 0.9,0a0.45,0.45 0 1 0 -0.9,0M102.95,939.22a0.45,0.45 0 1 0 0.9,0a0.45,0.45 0 1 0 -0.9,0M93.02,943.99a0.45,0.45 0 1 0 0.9,0a0.45,0.45 0 1 0 -0.9,0M111.93,950.43a0.45,0.45 0 1 0 0.9,0a0.45,0.45 0 1 0 -0.9,0M102.94,946.87a0.45,0.45 0 1 0 0.9,0a0.45,0.45 0 1 0 -0.9,0M111.09,922.16a0.45,0.45 0 1 0 0.9,0a0.45,0.45 0 1 0 -0.9,0M105.8,951.89a0.45,0.45 0 1 0 0.9,0a0.45,0.45 0 1 0 -0.9,0M110.64,962.31a0.45,0.45 0 1 0 0.9,0a0.45,0.45 0 1 0 -0.9,0M113.36,949.81a0.45,0.45 0 1 0 0.9,0a0.45,0.45 0 1 0 -0.9,0M108.36,954.08a0.45,0.45 0 1 0 0.9,0a0.45,0.45 0 1 0 -0.9,0M103.31,946.64a0.45,0.45 0 1 0 0.9,0a0.45,0.45 0 1 0 -0.9,0M111.99,964.62a0.45,0.45 0 1 0 0.9,0a0.45,0.45 0 1 0 -0.9,0M105.59,946.56a0.45,0.45 0 1 0 0.9,0a0.45,0.45 0 1 0 -0.9,0" fill="#5050ee" stroke="none" stroke-width="1"/>
<path d="M99.73,1011.46a0.45,0.45 0 1 0 0.9,0a0.45,0.45 0 1 0 -0.9,0M97.22,1013.1a0.45,0.45 0 1 0 0.9,0a0.45,0.45 0 1 0 -0.9,0M86.92,991.58a0.45,0.45 0 1 0 0.9,0a0.45,0.45 0 1 0 -0.9,0M95.37,1004.22a0.45,0.45 0 1 0 0.9,0a0.45,0.45 0 1 0 -0.9,0M109.05,974.38a0.45,0.45 0 1 0 0.9,0a0.45,0.45 0 1 0 -0.9,0M87.48,998.38a0.45,0.45 0 1 0 0.9,0a0.45,0.45 0 1 0 -0.9,0M90.3,974.21a0.45,0.45 0 1 0 0.9,0a0.45,0.45 0 1 0 -0.9,0M108.97,1000.42a0.45,0.45 0 1 0 0.9,0a0.45,0.45 0 1 0 -0.9,0M102.97,987.82a0.45,0.45 0 1 0 0.9,0a0.45,0.45 0 1 0 -0.9,0M108.87,990.88a0.45,0.45 0 1 0 0.9,0a0.45,0.45 0 1 0 -0.9,0M109.61,982.15a0.45,0.45 0 1 0 0.9,0a0.45,0.45 0 1 0 -0.9,0M88.15,996.66a0.45,0.45 0 1 0 0.9,0a0.45,0.45 0 1 0 -0.9,0M89.82,1002.78a0.45,0.45 0 1 0 0.9,0a0.45,0.45 0 1 0 -0.9,0M100.41,982a0.45,0.45 0 1 0 0.9,0a0.45,0.45 0 1 0 -0.9,0M98.35,989.43a0.45,0.45 0 1 0 0.9,0a0.45,0.45 0 1 0 -0.9,0M107.62,985.78a0.45,0.45 0 1 0 0.9,0a0.45,0.45 0 1 0 -0.9,0M92.72,1009.75a0.45,0.45 0 1 0 0.9,0a0.45,0.45 0 1 0 -0.9,0M98.25,996.85a0.45,0.45 0 1 0 0.9,0a0.45,0.45 0 1 0 -0.9,0M114.42,992.38a0.45,0.45 0 1 0 0.9,0a0.45,0.45 0 1 0 -0.9,0M86.81,995.52a0.45,0.45 0 1 0 0.9,0a0.45,0.45 0 1 0 -0.9,0M102.52,983.22a0.45,0.45 0 1 0 0.9,0a0.45,0.45 0 1 0 -0.9,0M79.44,975.32a0.45,0.45 0 1 0 0.9,0a0.45,0.45 0 1 0 -0.9,0M104.87,984.14a0.45,0.45 0 1 0 0.9,0a0.45,0.45 0 1 0 -0.9,0M96,996.76a0.45,0.45 0 1 0 0.9,0a0.45,0.45 0 1 0 -0.9,0M104.36,989.65a0.45,0.45 0 1 0 0.9,0a0.45,0.45 0 1 0 -0.9,0M103.04,982.43a0.45,0.45 0 1 0 0.9,0a0.45,0.45 0 1 0 -0.9,0M93.57,980.68a0.45,0.45 0 1 0 0.9,0a0.45,0.45 0 1 0 -0.9,0M110,993.65a0.45,0.45 0 1 0 0.9,0a0.45,0.45 0 1 0 -0.9,0M89.42,989.42a0.45,0.45 0 1 0 0.9,0a0.45,0.45 0 1 0 -0.9,0M95.11,1003.11a0.45,0.45 0 1 0 0.9,0a0.45,0.45 0 1 0 -0.9,0M80,980.52a0.45,0.45 0 1 0 0.9,0a0.45,0.45 0 1 0 -0.9,0M108.06,992.55a0.45,0.45 0 1 0 0.9,0a0.45,0.45 0 1 0 -0.9,0M94.98,989.24a0.45,0.45 0 1 0 0.9,0a0.45,0.45 0 1 0 -0.9,0M110.88,1000.42a0.45,0.45 0 1 0 0.9,0a0.45,0.45 0 1 0 -0.9,0M104.93,987.39a0.45,0.45 0 1 0 0.9,0a0.45,0.45 0 1 0 -0.9,0M118.72,1016.22a0.45,0.45 0 1 0 0.9,0a0.45,0.45 0 1 0 -0.9,0M103.78,1002.9a0.45,0.45 0 1 0 0.9,0a0.45,0.45 0 1 0 -0.9,0M75.25,1002.29a0.45,0.45 0 1 0 0.9,0a0.45,0.45 0 1 0 -0.9,0M95.41,999.64a0.45,0.45 0 1 0 0.9,0a0.45,0.45 0 1 0 -0.9,0M105.06,989.56a0.45,0.45 0 1 0 0.9,0a0.45,0.45 0 1 0 -0.9,0M78.95,998.78a0.45,0.45 0 1 0 0.9,0a0.45,0.45 0 1 0 -0.9,0M89.39,989.71a0.45,0.45 0 1 0 0.9,0a0.45,0.45 0 1 0 -0.9,0M90.9,989.56a0.45,0.45 0 1 0 0.9,0a0.45,0.45 0 1 0 -0.9,0M72.15,1009.82a0.45,0.45 0 1 0 0.9,0a0.45,0.45 0 1 0 -0.9,0M100.34,1008.45a0.45,0.45 0 1 0 0.9,0a0.45,0.45 0 1 0 -0.9,0M119.33,994.29a0.45,0.45 0 1 0 0.9,0a0.45,0.45 0 1 0 -0.9,0M77.72,982.38a0.45,0.45 0 1 0 0.9,0a0.45,0.45 0 1 0 -0.9,0M84.27,987.48a0.45,0.45 0 1 0 0.9,0a0.45,0.45 0 1 0 -0.9,0M98.43,967.97a0.45,0.45 0 1 0 0.9,0a0.45,0.45 0 1 0 -0.9,0M101.32,974.37a0.45,0.45 0 1 0 0.9,0a0.45,0.45 0 1 0 -0.9,0M100.82,992.58a0.45,0.45 0 1 0 0.9,0a0.45,0.45 0 1 0 -0.9,0M94.1,993.05a0.45,0.45 0 1 0 0.9,0a0.45,0.45 0 1 0 -0.9,0M91.61,986.04a0.45,0.45 0 1 0 0.9,0a0.45,0.45 0 1 0 -0.9,0M79.04,993.61a0.45,0.45 0 1 0 0.9,0a0.45,0.45 0 1 0 -0.9,0M112.09,1003.18a0.45,0.45 0 1 0 0.9,0a0.45,0.45 0 1 0 -0.9,0" fill="#5050ee" stroke="none" stroke-width="1"/>
<path d="M56.81,1009.43a0.45,0.45 0 1 0 0.9,0a0.45,0.45 0 1 0 -0.9,0M61.16,994.31a0.45,0.45 0 1 0 0.9,0a0.45,0.45 0 1 0 -0.9,0M59.51,995.92a0.45,0.45 0 1 0 0.9,0a0.45,0.45 0 1 0 -0.9,0M58.5,994.16a0.45,0.45 0 1 0 0.9,0a0.45,0.45 0 1 0 -0.9,0M53.96,991.26a0.45,0.45 0 1 0 0.9,0a0.45,0.45 0 1 0 -0.9,0M77.51,994.3a0.45,0.45 0 1 0 0.9,0a0.45,0.45 0 1 0 -0.9,0M59.88,1000.32a0.45,0.45 0 1 0 0.9,0a0.45,0.45 0 1 0 -0.9,0M66.51,983.86a0.45,0.45 0 1 0 0.9,0a0.45,0.45 0 1 0 -0.9,0M60.1,1004.18a0.45,0.45 0 1 0 0.9,0a0.45,0.45 0 1 0 -0.9,0M63.44,996.22a0.45,0.45 0 1 0 0.9,0a0.45,0.45 0 1 0 -0.9,0M72.43,988.22a0.45,0.45 0 1 0 0.9,0a0.45,0.45 0 1 0 -0.9,0M62.13,989.8a0.45,0.45 0 1 0 0.9,0a0.45,0.45 0 1 0 -0.9,0M71.98,975.48a0.45,0.45 0 1 0 0.9,0a0.45,0.45 0 1 0 -0.9,0M56.86,989.71a0.45,0.45 0 1 0 0.9,0a0.45,0.45 0 1 0 -0.9,0M66.19,1001.06a0.45,0.45 0 1 0 0.9,0a0.45,0.45 0 1 0 -0.9,0M71.32,979.26a0.45,0.45 0 1 0 0.9,0a0.45,0.45 0 1 0 -0.9,0M66.8,992.07a0.45,0.45 0 1 0 0.9,0a0.45,0.45 0 1 0 -0.9,0M56.89,1000.4a0.45,0.45 0 1 0 0.9,0a0.45,0.45 0 1 0 -0.9,0M55.11,974.23a0.45,0.45 0 1 0 0.9,0a0.45,0.45 0 1 0 -0.9,0M58.96,980.02a0.45,0.45 0 1 0 0.9,0a0.45,0.45 0 1 0 -0.9,0M57.01,998.72a0.45,0.45 0 1 0 0.9,0a0.45,0.45 0 1 0 -0.9,0M63.73,1010.87a0.45,0.45 0 1 0 0.9,0a0.45,0.45 0 1 0 -0.9,0M60.15,979.67a0.45,0.45 0 1 0 0.9,0a0.45,0.45 0 1 0 -0.9,0M56.26,985.81a0.45,0.45 0 1 0 0.9,0a0.45,0.45 0 1 0 -0.9,0M53.03,999.35a0.45,0.45 0 1 0 0.9,0a0.45,0.45 0 1 0 -0.9,0M57.03,975.23a0.45,0.45 0 1 0 0.9,0a0.45,0.45 0 1 0 -0.9,0M66.43,993.89a0.45,0.45 0 1 0 0.9,0a0.45,0.45 0 1 0 -0.9,0M64.05,996.06a0.45,0.45 0 1 0 0.9,0a0.45,0.45 0 1 0 -0.9,0M65.97,995.38a0.45,0.45 0 1 0 0.9,0a0.45,0.45 0 1 0 -0.9,0M70.2,999.25a0.45,0.45 0 1 0 0.9,0a0.45,0.45 0 1 0 -0.9,0" fill="#5050ee" stroke="none" stroke-width="1"/>
<path d="M21.8,994.2 22.2,993.8 22.6,993.4 23.0,993.0 23.4,992.7 23.8,992.3 24.2,992.0 24.6,991.6 25.0,991.3 25.5,990.9 26.0,990.5 26.5,990.1 27.0,989.7 27.4,989.4 27.8,989.1 28.2,988.9 28.7,988.5 29.3,988.1 29.8,987.8 30.2,987.5 30.6,987.3 31.3,986.9 31.8,986.6 32.2,986.4 32.7,986.1 33.4,985.7 33.8,985.5 34.3,985.3 35.0,985.0 35.4,984.8 36.0,984.5 36.6,984.3 37.0,984.1 37.8,983.8 38.2,983.7 39.0,983.4 39.4,983.3 40.2,983.1 40.8,982.9 41.4,982.8 42.2,982.6 42.7,982.5 43.4,982.4 44.2,982.3 45.0,982.2 45.8,982.1 46.6,982.1 47.4,982.1 48.2,982.2 49.0,982.2 49.8,982.4 50.5,982.5 51.0,982.6 51.8,982.8 52.2,983.0 53.0,983.3 53.4,983.4 53.9,983.7 54.6,984.1 55.0,984.4 55.4,984.7 55.8,985.0 56.2,985.3 56.6,985.8 57.0,986.2 57.4,986.8 57.7,987.3 58.0,987.7 58.2,988.2 58.5,988.9 58.6,989.3 58.8,990.1 59.0,990.9 59.0,991.3 59.1,992.1 59.1,992.9 59.0,993.7 59.0,994.1 58.9,994.9 58.7,995.7 58.6,996.1 58.4,996.9 58.2,997.4 57.9,998.1 57.8,998.5 57.4,999.3 57.2,999.7 57.0,1000.2 56.6,1000.9 56.4,1001.3 56.1,1001.7 55.8,1002.3 55.4,1002.9 55.1,1003.3 54.8,1003.7 54.5,1004.1 54.2,1004.5 53.8,1005.0 53.4,1005.5 53.0,1006.0 52.6,1006.4 52.2,1006.9 51.8,1007.3 51.4,1007.7 51.0,1008.1 50.6,1008.5 50.2,1008.9 49.8,1009.3 49.4,1009.7 49.0,1010.0 48.6,1010.4 48.2,1010.7 47.8,1011.1 47.4,1011.4 47.0,1011.7 46.5,1012.1 46.0,1012.5 45.5,1012.9 45.0,1013.2 44.6,1013.5 44.2,1013.8 43.8,1014.1 43.2,1014.5 42.7,1014.9 42.2,1015.2 41.8,1015.5 41.4,1015.7 40.9,1016.1 40.2,1016.5 39.8,1016.8 39.4,1017.0 39.0,1017.3 M21.8,998.4 22.2,998.1 22.6,997.7 23.0,997.3 23.5,996.9 24.0,996.5 24.5,996.1 25.0,995.7 25.4,995.4 25.8,995.1 26.2,994.8 26.6,994.5 27.2,994.1 27.8,993.7 28.2,993.4 28.6,993.2 29.0,992.9 29.7,992.5 30.2,992.2 30.6,992.0 31.2,991.7 31.8,991.4 32.2,991.2 32.8,990.9 33.4,990.6 33.8,990.5 34.6,990.1 35.0,990.0 35.7,989.7 36.2,989.5 37.0,989.3 37.4,989.2 38.2,989.0 38.6,988.9 39.4,988.7 40.2,988.6 40.9,988.5 41.4,988.5 42.2,988.4 43.0,988.4 43.8,988.5 44.3,988.5 45.0,988.6 45.8,988.8 46.2,988.9 47.0,989.2 47.4,989.4 48.0,989.7 48.6,990.1 49.0,990.5 49.4,990.8 49.8,991.3 50.1,991.7 50.3,992.1 50.6,992.7 50.8,993.3 51.0,993.9 51.1,994.5 51.2,995.3 51.2,996.1 51.1,996.9 51.0,997.4 50.9,998.1 50.6,998.9 50.5,999.3 50.2,1000.1 50.0,1000.5 49.8,1001.0 49.5,1001.7 49.2,1002.1 49.0,1002.5 48.6,1003.2 48.3,1003.7 48.0,1004.1 47.7,1004.5 47.4,1005.0 47.0,1005.5 46.6,1006.0 46.2,1006.5 45.9,1006.9 45.5,1007.3 45.2,1007.7 44.8,1008.1 44.4,1008.5 44.0,1008.9 43.6,1009.3 43.3,1009.7 42.8,1010.1 42.4,1010.5 42.0,1010.9 41.6,1011.3 41.1,1011.7 40.7,1012.1 40.2,1012.5 39.8,1012.9 39.4,1013.2 39.0,1013.5 38.6,1013.9 38.2,1014.2 37.8,1014.5 37.3,1014.9 36.7,1015.3 36.2,1015.7 35.8,1016.0 35.4,1016.2 35.0,1016.5 34.4,1016.9 33.8,1017.3 33.7,1017.3 M21.8,1000.3 22.2,999.9 22.6,999.5 23.0,999.1 23.4,998.8 23.8,998.4 24.2,998.1 24.7,997.7 25.3,997.3 25.8,996.9 26.2,996.6 26.6,996.4 27.0,996.1 27.6,995.7 28.2,995.3 28.6,995.1 29.0,994.9 29.7,994.5 30.2,994.2 30.6,994.0 31.3,993.7 31.8,993.5 32.3,993.3 33.0,993.0 33.4,992.8 34.2,992.6 34.6,992.4 35.4,992.2 35.8,992.1 36.6,991.9 37.4,991.7 37.8,991.7 38.6,991.6 39.4,991.5 40.2,991.5 41.0,991.5 41.8,991.6 42.3,991.7 43.0,991.9 43.7,992.1 44.2,992.3 44.6,992.5 45.1,992.9 45.6,993.3 46.0,993.7 46.3,994.1 46.6,994.6 46.9,995.3 47.0,995.7 47.2,996.5 47.3,997.3 47.2,998.1 47.1,998.9 47.0,999.6 46.9,1000.1 46.6,1000.9 46.5,1001.3 46.2,1001.9 45.9,1002.5 45.7,1002.9 45.4,1003.5 45.1,1004.1 44.8,1004.5 44.6,1004.9 44.2,1005.5 43.8,1006.1 43.5,1006.5 43.2,1006.9 42.9,1007.3 42.6,1007.7 42.2,1008.2 41.8,1008.6 41.4,1009.1 41.0,1009.5 40.6,1010.0 40.2,1010.4 39.8,1010.8 39.4,1011.2 39.0,1011.6 38.6,1012.0 38.2,1012.3 37.8,1012.7 37.4,1013.1 37.0,1013.4 36.6,1013.7 36.1,1014.1 35.6,1014.5 35.1,1014.9 34.6,1015.2 34.2,1015.5 33.8,1015.8 33.3,1016.1 32.7,1016.5 32.2,1016.8 31.8,1017.0 31.3,1017.3 M21.8,1001.5 22.2,1001.1 22.6,1000.7 23.0,1000.3 23.4,1000.0 23.8,999.6 24.2,999.3 24.7,998.9 25.3,998.5 25.8,998.1 26.2,997.8 26.6,997.6 27.0,997.3 27.7,996.9 28.2,996.6 28.6,996.4 29.1,996.1 29.8,995.7 30.2,995.5 30.8,995.3 31.4,995.0 31.8,994.9 32.6,994.6 33.0,994.4 33.8,994.2 34.2,994.1 35.0,993.9 35.8,993.7 36.2,993.7 37.0,993.6 37.8,993.5 38.6,993.5 39.4,993.6 40.2,993.7 40.6,993.8 41.4,994.0 41.8,994.2 42.4,994.5 43.0,994.9 43.4,995.3 43.7,995.7 44.0,996.1 44.2,996.5 44.5,997.3 44.6,997.8 44.7,998.5 44.7,999.3 44.6,1000.1 44.5,1000.5 44.3,1001.3 44.2,1001.8 43.9,1002.5 43.8,1002.9 43.4,1003.7 43.2,1004.1 43.0,1004.5 42.6,1005.3 42.3,1005.7 42.1,1006.1 41.8,1006.5 41.4,1007.1 41.0,1007.7 40.7,1008.1 40.4,1008.5 40.1,1008.9 39.7,1009.3 39.4,1009.7 39.0,1010.1 38.6,1010.6 38.2,1011.0 37.8,1011.4 37.4,1011.8 37.0,1012.2 36.6,1012.5 36.2,1012.9 35.7,1013.3 35.2,1013.7 34.7,1014.1 34.2,1014.5 33.8,1014.8 33.4,1015.0 33.0,1015.3 32.4,1015.7 31.8,1016.1 31.4,1016.3 31.0,1016.5 30.2,1016.9 29.8,1017.1 29.4,1017.3 M21.8,1002.5 22.2,1002.1 22.6,1001.7 23.0,1001.3 23.4,1000.9 23.9,1000.5 24.4,1000.1 24.9,999.7 25.4,999.3 25.8,999.0 26.2,998.7 26.6,998.5 27.2,998.1 27.8,997.7 28.2,997.5 28.6,997.3 29.4,996.9 29.8,996.7 30.3,996.5 31.0,996.2 31.4,996.0 32.2,995.8 32.6,995.6 33.4,995.4 33.9,995.3 34.6,995.2 35.4,995.0 36.2,995.0 37.0,994.9 37.8,995.0 38.6,995.1 39.4,995.3 39.8,995.4 40.4,995.7 41.0,996.1 41.4,996.4 41.8,996.8 42.2,997.3 42.4,997.7 42.6,998.2 42.8,998.9 42.9,999.7 42.8,1000.5 42.8,1001.3 42.6,1002.0 42.5,1002.5 42.2,1003.3 42.1,1003.7 41.8,1004.3 41.5,1004.9 41.3,1005.3 41.0,1005.9 40.6,1006.5 40.4,1006.9 40.1,1007.3 39.8,1007.8 39.4,1008.3 39.0,1008.8 38.6,1009.3 38.3,1009.7 38.0,1010.1 37.6,1010.5 37.2,1010.9 36.8,1011.3 36.4,1011.7 36.0,1012.1 35.6,1012.5 35.1,1012.9 34.6,1013.3 34.2,1013.6 33.8,1013.9 33.4,1014.2 33.0,1014.5 32.4,1014.9 31.8,1015.3 31.4,1015.5 31.0,1015.7 30.3,1016.1 29.8,1016.4 29.4,1016.6 28.6,1016.9 28.2,1017.1 27.5,1017.3 M21.8,1003.3 22.2,1002.9 22.6,1002.5 23.0,1002.1 23.4,1001.7 23.8,1001.3 24.2,1001.0 24.6,1000.7 25.0,1000.3 25.4,1000.0 25.9,999.7 26.5,999.3 27.0,999.0 27.4,998.7 27.8,998.5 28.5,998.1 29.0,997.9 29.4,997.7 30.2,997.3 30.6,997.2 31.3,996.9 31.8,996.7 32.6,996.5 33.0,996.4 33.8,996.2 34.6,996.1 35.0,996.1 35.8,996.1 36.6,996.1 37.0,996.1 37.8,996.3 38.6,996.5 39.0,996.7 39.4,996.9 40.0,997.3 40.4,997.7 40.7,998.1 41.0,998.6 41.3,999.3 41.4,999.9 41.5,1000.5 41.5,1001.3 41.4,1001.9 41.3,1002.5 41.1,1003.3 41.0,1003.7 40.7,1004.5 40.5,1004.9 40.2,1005.5 39.9,1006.1 39.7,1006.5 39.4,1007.0 39.0,1007.6 38.7,1008.1 38.4,1008.5 38.1,1008.9 37.8,1009.3 37.4,1009.7 37.0,1010.2 36.6,1010.6 36.2,1011.1 35.8,1011.5 35.4,1011.8 35.0,1012.2 34.6,1012.6 34.2,1012.9 33.7,1013.3 33.2,1013.7 32.6,1014.1 32.2,1014.4 31.8,1014.6 31.3,1014.9 30.7,1015.3 30.2,1015.5 29.8,1015.7 29.0,1016.1 28.6,1016.3 28.0,1016.5 27.4,1016.7 26.7,1016.9 26.2,1017.0 25.4,1017.2 24.6,1017.3 24.2,1017.3 M23.3,1017.3 22.6,1017.2 21.8,1017.1 M21.8,1004.1 22.2,1003.7 22.5,1003.3 22.9,1002.9 23.3,1002.5 23.7,1002.1 24.2,1001.7 24.6,1001.3 25.0,1001.0 25.4,1000.7 25.8,1000.4 26.2,1000.1 26.9,999.7 27.4,999.4 27.8,999.1 28.2,998.9 29.0,998.5 29.4,998.3 30.0,998.1 30.6,997.8 31.0,997.7 31.8,997.5 32.4,997.3 33.0,997.2 33.8,997.1 34.6,997.0 35.4,997.0 36.2,997.0 37.0,997.2 37.4,997.3 38.2,997.7 38.6,997.9 39.0,998.2 39.4,998.6 39.8,999.2 40.0,999.7 40.2,1000.2 40.3,1000.9 40.4,1001.7 40.3,1002.5 40.2,1003.1 40.1,1003.7 39.8,1004.5 39.7,1004.9 39.4,1005.5 39.1,1006.1 38.9,1006.5 38.6,1007.0 38.2,1007.7 37.9,1008.1 37.6,1008.5 37.3,1008.9 37.0,1009.3 36.6,1009.8 36.2,1010.3 35.8,1010.7 35.4,1011.1 35.0,1011.5 34.6,1011.9 34.2,1012.2 33.8,1012.6 33.4,1012.9 32.9,1013.3 32.3,1013.7 31.8,1014.0 31.4,1014.3 31.0,1014.5 30.4,1014.9 29.8,1015.2 29.4,1015.4 28.7,1015.7 28.2,1015.9 27.6,1016.1 27.0,1016.3 26.2,1016.5 25.8,1016.6 25.0,1016.7 24.2,1016.7 23.4,1016.7 22.6,1016.6 22.2,1016.5 21.8,1016.4 M21.8,1004.8 22.2,1004.3 22.6,1003.9 23.0,1003.4 23.4,1003.0 23.8,1002.6 24.2,1002.3 24.6,1001.9 25.0,1001.6 25.4,1001.3 25.9,1000.9 26.5,1000.5 27.0,1000.2 27.4,999.9 27.8,999.7 28.6,999.3 29.0,999.1 29.5,998.9 30.2,998.6 30.6,998.5 31.4,998.2 31.8,998.1 32.6,997.9 33.4,997.8 34.2,997.8 35.0,997.8 35.8,997.9 36.6,998.1 37.0,998.2 37.6,998.5 38.1,998.9 38.5,999.3 38.8,999.7 39.0,1000.1 39.3,1000.9 39.4,1001.4 39.4,1002.1 39.4,1002.9 39.3,1003.3 39.2,1004.1 39.0,1004.6 38.8,1005.3 38.6,1005.7 38.2,1006.5 38.0,1006.9 37.8,1007.3 37.4,1007.9 37.0,1008.5 36.7,1008.9 36.4,1009.3 36.0,1009.7 35.7,1010.1 35.3,1010.5 34.9,1010.9 34.5,1011.3 34.1,1011.7 33.6,1012.1 33.2,1012.5 32.7,1012.9 32.2,1013.2 31.8,1013.5 31.4,1013.8 30.9,1014.1 30.2,1014.5 29.8,1014.7 29.4,1014.9 28.6,1015.2 28.2,1015.4 27.4,1015.7 27.0,1015.8 26.2,1016.0 25.4,1016.1 25.0,1016.1 24.2,1016.2 23.4,1016.1 23.0,1016.1 22.2,1015.8 21.8,1015.7 M21.8,1005.5 22.2,1005.0 22.6,1004.5 23.0,1004.1 23.3,1003.7 23.7,1003.3 24.1,1002.9 24.6,1002.5 25.0,1002.1 25.4,1001.8 25.8,1001.5 26.2,1001.2 26.7,1000.9 27.3,1000.5 27.8,1000.2 28.2,1000.0 28.9,999.7 29.4,999.5 29.8,999.3 30.6,999.0 31.0,998.9 31.8,998.7 32.6,998.5 33.0,998.5 33.8,998.4 34.6,998.5 35.0,998.5 35.8,998.7 36.4,998.9 37.0,999.2 37.4,999.6 37.8,1000.0 38.2,1000.5 38.3,1000.9 38.6,1001.7 38.6,1002.1 38.6,1002.9 38.6,1003.3 38.5,1004.1 38.2,1004.9 38.1,1005.3 37.8,1006.0 37.6,1006.5 37.4,1006.9 37.0,1007.6 36.7,1008.1 36.4,1008.5 36.1,1008.9 35.8,1009.3 35.4,1009.7 35.0,1010.2 34.6,1010.6 34.2,1011.0 33.8,1011.4 33.4,1011.8 33.0,1012.1 32.5,1012.5 32.0,1012.9 31.4,1013.3 31.0,1013.5 30.6,1013.8 30.0,1014.1 29.4,1014.4 29.0,1014.6 28.3,1014.9 27.8,1015.1 27.1,1015.3 26.6,1015.4 25.8,1015.6 25.0,1015.6 24.2,1015.7 23.4,1015.6 22.6,1015.4 22.2,1015.2 21.8,1015.0 M21.8,1006.3 22.2,1005.7 22.5,1005.3 22.8,1004.9 23.1,1004.5 23.5,1004.1 23.9,1003.7 24.3,1003.3 24.7,1002.9 25.2,1002.5 25.7,1002.1 26.2,1001.7 26.6,1001.4 27.0,1001.2 27.5,1000.9 28.2,1000.5 28.6,1000.3 29.1,1000.1 29.8,999.8 30.2,999.7 31.0,999.4 31.5,999.3 32.2,999.2 33.0,999.1 33.8,999.1 34.6,999.2 35.2,999.3 35.8,999.5 36.2,999.7 36.7,1000.1 37.1,1000.5 37.4,1000.9 37.7,1001.7 37.8,1002.1 37.9,1002.9 37.9,1003.7 37.8,1004.2 37.6,1004.9 37.4,1005.6 37.2,1006.1 37.0,1006.5 36.6,1007.3 36.4,1007.7 36.1,1008.1 35.8,1008.5 35.4,1009.1 35.0,1009.6 34.6,1010.0 34.2,1010.5 33.8,1010.9 33.4,1011.2 33.0,1011.6 32.6,1011.9 32.2,1012.2 31.8,1012.5 31.3,1012.9 30.6,1013.3 30.2,1013.6 29.8,1013.8 29.1,1014.1 28.6,1014.3 28.2,1014.5 27.4,1014.8 26.9,1014.9 26.2,1015.1 25.4,1015.2 24.6,1015.2 23.8,1015.1 23.0,1014.9 22.6,1014.8 22.1,1014.5 21.8,1014.3 M21.8,1007.0 22.1,1006.5 22.4,1006.1 22.6,1005.7 23.0,1005.2 23.4,1004.7 23.8,1004.3 24.2,1003.9 24.6,1003.5 25.0,1003.1 25.4,1002.8 25.8,1002.5 26.3,1002.1 26.9,1001.7 27.4,1001.4 27.8,1001.2 28.3,1000.9 29.0,1000.6 29.4,1000.4 30.2,1000.1 30.6,1000.0 31.4,999.8 32.1,999.7 32.6,999.7 33.4,999.6 34.0,999.7 34.6,999.8 35.3,1000.1 35.8,1000.4 36.2,1000.7 36.6,1001.1 36.9,1001.7 37.1,1002.1 37.2,1002.9 37.2,1003.7 37.1,1004.5 37.0,1005.1 36.8,1005.7 36.6,1006.2 36.3,1006.9 36.1,1007.3 35.8,1007.8 35.4,1008.4 35.0,1008.9 34.7,1009.3 34.4,1009.7 34.0,1010.1 33.6,1010.5 33.2,1010.9 32.8,1011.3 32.3,1011.7 31.8,1012.1 31.4,1012.4 31.0,1012.6 30.6,1012.9 29.9,1013.3 29.4,1013.6 29.0,1013.8 28.2,1014.1 27.8,1014.2 27.0,1014.5 26.6,1014.6 25.8,1014.7 25.0,1014.7 24.2,1014.7 23.4,1014.5 23.0,1014.4 22.5,1014.1 21.9,1013.7 21.8,1013.6 M21.8,1007.9 22.1,1007.3 22.3,1006.9 22.6,1006.4 23.0,1005.8 23.4,1005.3 23.7,1004.9 24.1,1004.5 24.5,1004.1 24.9,1003.7 25.4,1003.3 25.8,1002.9 26.2,1002.6 26.6,1002.4 27.0,1002.1 27.7,1001.7 28.2,1001.4 28.6,1001.2 29.3,1000.9 29.8,1000.7 30.5,1000.5 31.0,1000.4 31.8,1000.2 32.6,1000.2 33.4,1000.2 34.2,1000.4 34.6,1000.5 35.3,1000.9 35.8,1001.3 36.1,1001.7 36.3,1002.1 36.6,1002.9 36.6,1003.3 36.6,1004.1 36.6,1004.5 36.4,1005.3 36.2,1005.9 36.0,1006.5 35.8,1006.9 35.4,1007.6 35.1,1008.1 34.8,1008.5 34.5,1008.9 34.2,1009.3 33.8,1009.8 33.4,1010.2 33.0,1010.6 32.6,1011.0 32.2,1011.3 31.7,1011.7 31.2,1012.1 30.6,1012.5 30.2,1012.7 29.8,1013.0 29.1,1013.3 28.6,1013.5 28.2,1013.7 27.4,1013.9 26.8,1014.1 26.2,1014.2 25.4,1014.3 24.6,1014.2 23.8,1014.1 23.4,1014.0 22.8,1013.7 22.3,1013.3 21.9,1012.9 21.8,1012.7 M21.8,1009.3 22.0,1008.5 22.2,1008.0 22.5,1007.3 22.7,1006.9 23.0,1006.5 23.4,1005.9 23.8,1005.4 24.2,1004.9 24.6,1004.5 25.0,1004.1 25.4,1003.7 25.8,1003.4 26.2,1003.1 26.6,1002.8 27.0,1002.5 27.7,1002.1 28.2,1001.8 28.6,1001.6 29.4,1001.3 29.8,1001.2 30.6,1000.9 31.0,1000.8 31.8,1000.7 32.6,1000.7 33.4,1000.8 33.8,1000.9 34.6,1001.2 35.0,1001.5 35.4,1001.9 35.7,1002.5 35.9,1002.9 36.0,1003.7 36.0,1004.5 35.9,1005.3 35.8,1005.7 35.5,1006.5 35.3,1006.9 35.0,1007.5 34.6,1008.1 34.3,1008.5 34.1,1008.9 33.7,1009.3 33.4,1009.7 33.0,1010.1 32.6,1010.5 32.2,1010.9 31.7,1011.3 31.1,1011.7 30.6,1012.1 30.2,1012.3 29.8,1012.6 29.1,1012.9 28.6,1013.1 28.2,1013.3 27.4,1013.6 26.8,1013.7 26.2,1013.8 25.4,1013.8 24.6,1013.8 24.2,1013.7 23.4,1013.4 23.0,1013.2 22.6,1012.8 22.2,1012.3 21.9,1011.7 21.8,1011.4 M26.6,1013.3 25.8,1013.4 25.0,1013.4 24.6,1013.3 23.8,1013.0 23.4,1012.8 23.0,1012.5 22.6,1012.0 22.3,1011.3 22.2,1010.9 22.1,1010.1 22.2,1009.5 22.3,1008.9 22.6,1008.1 22.7,1007.7 23.0,1007.2 23.4,1006.5 23.7,1006.1 24.0,1005.7 24.3,1005.3 24.7,1004.9 25.1,1004.5 25.5,1004.1 26.0,1003.7 26.5,1003.3 27.0,1002.9 27.4,1002.7 27.8,1002.5 28.5,1002.1 29.0,1001.9 29.5,1001.7 30.2,1001.5 31.0,1001.3 31.4,1001.2 32.2,1001.2 33.0,1001.3 33.4,1001.4 34.1,1001.7 34.6,1002.1 35.0,1002.5 35.2,1002.9 35.4,1003.5 35.5,1004.1 35.4,1004.9 35.4,1005.3 35.2,1006.1 35.0,1006.5 34.6,1007.3 34.4,1007.7 34.2,1008.1 33.8,1008.6 33.4,1009.1 33.0,1009.6 32.6,1010.0 32.2,1010.4 31.8,1010.8 31.4,1011.1 31.0,1011.4 30.5,1011.7 29.9,1012.1 29.4,1012.4 29.0,1012.6 28.2,1012.9 27.8,1013.0 27.0,1013.3 26.6,1013.3 M26.6,1012.9 25.8,1013.0 25.0,1012.9 24.6,1012.8 23.9,1012.5 23.4,1012.1 23.1,1011.7 22.8,1011.3 22.6,1010.5 22.6,1009.7 22.7,1008.9 23.0,1008.1 23.2,1007.7 23.4,1007.2 23.8,1006.6 24.1,1006.1 24.4,1005.7 24.8,1005.3 25.1,1004.9 25.6,1004.5 26.0,1004.1 26.5,1003.7 27.0,1003.4 27.4,1003.1 27.8,1002.9 28.5,1002.5 29.0,1002.3 29.5,1002.1 30.2,1001.9 31.0,1001.7 31.8,1001.7 32.6,1001.8 33.4,1002.0 33.8,1002.3 34.2,1002.6 34.6,1003.1 34.8,1003.7 34.9,1004.5 34.9,1005.3 34.7,1006.1 34.5,1006.5 34.2,1007.2 34.0,1007.7 33.7,1008.1 33.4,1008.5 33.0,1009.0 32.6,1009.5 32.2,1009.9 31.8,1010.3 31.4,1010.6 31.0,1011.0 30.5,1011.3 29.9,1011.7 29.4,1012.0 29.0,1012.2 28.3,1012.5 27.8,1012.7 27.0,1012.9 26.6,1012.9 M26.6,1012.5 25.8,1012.5 25.4,1012.5 24.6,1012.3 24.2,1012.1 23.8,1011.7 23.4,1011.2 23.1,1010.5 23.1,1009.7 23.2,1008.9 23.4,1008.2 23.6,1007.7 23.8,1007.3 24.2,1006.6 24.6,1006.1 24.9,1005.7 25.2,1005.3 25.6,1004.9 26.1,1004.5 26.6,1004.1 27.0,1003.8 27.4,1003.5 27.8,1003.3 28.6,1002.9 29.0,1002.7 29.6,1002.5 30.2,1002.3 31.0,1002.2 31.8,1002.2 32.6,1002.4 33.0,1002.5 33.6,1002.9 33.9,1003.3 34.2,1003.8 34.4,1004.5 34.4,1005.3 34.2,1006.1 34.1,1006.5 33.8,1007.1 33.5,1007.7 33.2,1008.1 33.0,1008.5 32.6,1009.0 32.2,1009.4 31.8,1009.8 31.4,1010.2 31.0,1010.5 30.5,1010.9 29.9,1011.3 29.4,1011.6 29.0,1011.8 28.3,1012.1 27.8,1012.3 27.0,1012.5 26.6,1012.5 M26.2,1012.1 25.8,1012.1 25.0,1011.9 24.6,1011.7 24.1,1011.3 23.8,1010.8 23.6,1010.1 23.6,1009.3 23.7,1008.5 23.9,1008.1 24.2,1007.3 24.4,1006.9 24.7,1006.5 25.0,1006.1 25.4,1005.6 25.8,1005.2 26.2,1004.9 26.6,1004.5 27.2,1004.1 27.8,1003.7 28.2,1003.5 28.6,1003.3 29.4,1003.0 29.8,1002.9 30.6,1002.7 31.4,1002.7 32.2,1002.8 32.6,1003.0 33.1,1003.3 33.4,1003.7 33.8,1004.5 33.8,1004.9 33.8,1005.6 33.7,1006.1 33.4,1006.9 33.2,1007.3 33.0,1007.8 32.6,1008.4 32.2,1008.9 31.8,1009.3 31.4,1009.7 31.0,1010.1 30.6,1010.4 30.2,1010.7 29.8,1011.0 29.2,1011.3 28.6,1011.6 28.2,1011.7 27.4,1012.0 26.6,1012.1 26.2,1012.1 M28.2,1011.3 27.4,1011.5 26.6,1011.6 25.8,1011.6 25.1,1011.3 24.6,1010.9 24.3,1010.5 24.1,1010.1 24.1,1009.3 24.2,1008.5 24.3,1008.1 24.6,1007.4 24.9,1006.9 25.2,1006.5 25.5,1006.1 25.8,1005.7 26.2,1005.3 26.7,1004.9 27.2,1004.5 27.8,1004.1 28.2,1003.9 28.7,1003.7 29.4,1003.4 29.9,1003.3 30.6,1003.2 31.4,1003.2 31.8,1003.3 32.5,1003.7 32.9,1004.1 33.1,1004.5 33.3,1005.3 33.2,1006.1 33.0,1006.8 32.8,1007.3 32.6,1007.7 32.2,1008.2 31.8,1008.8 31.4,1009.2 31.0,1009.6 30.6,1009.9 30.2,1010.2 29.8,1010.5 29.2,1010.9 28.6,1011.2 28.2,1011.3 M27.8,1011.0 27.0,1011.1 26.2,1011.1 25.6,1010.9 25.0,1010.5 24.8,1010.1 24.6,1009.4 24.6,1009.0 24.7,1008.5 24.9,1007.7 25.1,1007.3 25.4,1006.9 25.8,1006.3 26.2,1005.9 26.6,1005.5 27.0,1005.2 27.4,1004.9 28.0,1004.5 28.6,1004.2 29.0,1004.0 29.8,1003.8 30.6,1003.7 31.4,1003.8 31.9,1004.1 32.3,1004.5 32.6,1005.0 32.7,1005.7 32.6,1006.4 32.4,1006.9 32.2,1007.4 31.8,1008.1 31.5,1008.5 31.2,1008.9 30.8,1009.3 30.3,1009.7 29.8,1010.1 29.4,1010.3 29.0,1010.5 28.2,1010.9 27.8,1011.0 M27.8,1010.5 27.0,1010.6 26.2,1010.5 25.8,1010.3 25.4,1009.8 25.2,1009.3 25.2,1008.5 25.4,1007.9 25.7,1007.3 25.9,1006.9 26.2,1006.5 26.6,1006.1 27.0,1005.7 27.5,1005.3 28.2,1004.9 28.6,1004.7 29.1,1004.5 29.8,1004.3 30.6,1004.3 31.2,1004.5 31.7,1004.9 31.9,1005.3 32.1,1006.1 31.9,1006.9 31.7,1007.3 31.4,1007.9 31.0,1008.4 30.6,1008.9 30.2,1009.2 29.8,1009.5 29.4,1009.8 28.9,1010.1 28.2,1010.4 27.8,1010.5 M28.2,1009.8 27.4,1010.0 26.6,1009.9 26.2,1009.6 25.9,1008.9 25.9,1008.1 26.2,1007.4 26.5,1006.9 26.9,1006.5 27.3,1006.1 27.8,1005.7 28.2,1005.5 28.6,1005.3 29.4,1005.0 30.2,1005.0 30.9,1005.3 31.2,1005.7 31.3,1006.5 31.1,1007.3 30.9,1007.7 30.6,1008.1 30.2,1008.6 29.8,1008.9 29.3,1009.3 28.6,1009.7 28.2,1009.8 M28.6,1009.0 27.8,1009.2 27.0,1009.0 26.7,1008.5 26.8,1007.7 27.0,1007.3 27.4,1006.8 27.8,1006.5 28.3,1006.1 29.0,1005.8 29.8,1005.8 30.3,1006.1 30.4,1006.9 30.2,1007.5 29.8,1008.1 29.4,1008.5 29.0,1008.8 28.6,1009.0" fill="none" stroke="#1c1ce0" stroke-width="0.65"/>
<path d="M106.6,1005.0 105.8,1005.2 105.0,1005.2 104.2,1005.1 103.5,1004.9 103.0,1004.7 102.6,1004.5 102.1,1004.1 101.6,1003.7 101.2,1003.3 100.8,1002.9 100.5,1002.5 100.2,1002.1 99.8,1001.4 99.5,1000.9 99.3,1000.5 99.0,999.7 98.9,999.3 98.7,998.5 98.6,998.1 98.4,997.3 98.3,996.5 98.3,995.7 98.3,994.9 98.3,994.1 98.4,993.3 98.5,992.5 98.6,992.1 98.8,991.3 99.0,990.9 99.3,990.1 99.5,989.7 99.8,989.2 100.2,988.6 100.6,988.2 101.0,987.8 101.4,987.4 101.8,987.1 102.2,986.9 103.0,986.6 103.4,986.5 104.2,986.3 105.0,986.4 105.5,986.5 106.2,986.7 106.6,986.9 107.3,987.3 107.8,987.7 108.2,988.1 108.6,988.5 108.9,988.9 109.2,989.3 109.5,989.7 109.8,990.2 110.2,990.9 110.3,991.3 110.6,992.0 110.8,992.5 111.0,993.3 111.1,993.7 111.2,994.5 111.3,995.3 111.3,996.1 111.3,996.9 111.3,997.7 111.2,998.5 111.0,999.3 110.9,999.7 110.7,1000.5 110.5,1000.9 110.2,1001.6 110.0,1002.1 109.7,1002.5 109.4,1003.0 109.0,1003.4 108.6,1003.8 108.2,1004.2 107.7,1004.5 107.0,1004.9 106.6,1005.0" fill="none" stroke="#1c1ce0" stroke-width="0.65"/>
<rect x="21.8" y="883.3" width="135.1" height="134" fill="none" stroke="#777" stroke-width="0.8"/>
<line x1="77.5" y1="883.3" x2="77.5" y2="1017.3" stroke="#111" stroke-width="1.3"/>
<line x1="21.8" y1="966.5" x2="156.9" y2="966.5" stroke="#111" stroke-width="1.3"/>
<text x="23" y="893.3" font-size="10.5">0.24</text>
<text x="155.8" y="893.3" font-size="10.5" text-anchor="end">0.49</text>
<text x="23" y="977.1" font-size="10.5">96.5</text>
<text x="155.8" y="1016.7" font-size="10.5" text-anchor="end">2.80</text>
<rect x="184.5" y="883.4" width="134.8" height="133.4" fill="#fff" stroke="#777" stroke-width="0.8"/>
<path d="M224.25,954.92a0.45,0.45 0 1 0 0.9,0a0.45,0.45 0 1 0 -0.9,0M202.07,948.02a0.45,0.45 0 1 0 0.9,0a0.45,0.45 0 1 0 -0.9,0M216.44,952.49a0.45,0.45 0 1 0 0.9,0a0.45,0.45 0 1 0 -0.9,0M203.25,969.61a0.45,0.45 0 1 0 0.9,0a0.45,0.45 0 1 0 -0.9,0M220.8,935.46a0.45,0.45 0 1 0 0.9,0a0.45,0.45 0 1 0 -0.9,0M199.04,946.62a0.45,0.45 0 1 0 0.9,0a0.45,0.45 0 1 0 -0.9,0M218.47,941.38a0.45,0.45 0 1 0 0.9,0a0.45,0.45 0 1 0 -0.9,0M220.66,942.31a0.45,0.45 0 1 0 0.9,0a0.45,0.45 0 1 0 -0.9,0M226.17,941.31a0.45,0.45 0 1 0 0.9,0a0.45,0.45 0 1 0 -0.9,0M219.09,961.75a0.45,0.45 0 1 0 0.9,0a0.45,0.45 0 1 0 -0.9,0M250.41,937.91a0.45,0.45 0 1 0 0.9,0a0.45,0.45 0 1 0 -0.9,0M213.98,939.92a0.45,0.45 0 1 0 0.9,0a0.45,0.45 0 1 0 -0.9,0M228.96,936.22a0.45,0.45 0 1 0 0.9,0a0.45,0.45 0 1 0 -0.9,0M213.74,949.64a0.45,0.45 0 1 0 0.9,0a0.45,0.45 0 1 0 -0.9,0M207.81,938.51a0.45,0.45 0 1 0 0.9,0a0.45,0.45 0 1 0 -0.9,0M213.84,924.79a0.45,0.45 0 1 0 0.9,0a0.45,0.45 0 1 0 -0.9,0M202.2,945.04a0.45,0.45 0 1 0 0.9,0a0.45,0.45 0 1 0 -0.9,0M221.33,947.77a0.45,0.45 0 1 0 0.9,0a0.45,0.45 0 1 0 -0.9,0M198.26,944.43a0.45,0.45 0 1 0 0.9,0a0.45,0.45 0 1 0 -0.9,0M229.13,956.67a0.45,0.45 0 1 0 0.9,0a0.45,0.45 0 1 0 -0.9,0M218.61,939.35a0.45,0.45 0 1 0 0.9,0a0.45,0.45 0 1 0 -0.9,0M227.12,943.05a0.45,0.45 0 1 0 0.9,0a0.45,0.45 0 1 0 -0.9,0M205.52,940.37a0.45,0.45 0 1 0 0.9,0a0.45,0.45 0 1 0 -0.9,0M236.93,952.64a0.45,0.45 0 1 0 0.9,0a0.45,0.45 0 1 0 -0.9,0M233.46,944.25a0.45,0.45 0 1 0 0.9,0a0.45,0.45 0 1 0 -0.9,0M230.81,942.78a0.45,0.45 0 1 0 0.9,0a0.45,0.45 0 1 0 -0.9,0M217.66,979.84a0.45,0.45 0 1 0 0.9,0a0.45,0.45 0 1 0 -0.9,0M228.76,943.99a0.45,0.45 0 1 0 0.9,0a0.45,0.45 0 1 0 -0.9,0M218.53,953.91a0.45,0.45 0 1 0 0.9,0a0.45,0.45 0 1 0 -0.9,0M234.08,944.13a0.45,0.45 0 1 0 0.9,0a0.45,0.45 0 1 0 -0.9,0M198.65,946.64a0.45,0.45 0 1 0 0.9,0a0.45,0.45 0 1 0 -0.9,0M219.73,951.31a0.45,0.45 0 1 0 0.9,0a0.45,0.45 0 1 0 -0.9,0M235.35,953.8a0.45,0.45 0 1 0 0.9,0a0.45,0.45 0 1 0 -0.9,0M229.31,936.79a0.45,0.45 0 1 0 0.9,0a0.45,0.45 0 1 0 -0.9,0M229.96,975.15a0.45,0.45 0 1 0 0.9,0a0.45,0.45 0 1 0 -0.9,0M228.82,953.04a0.45,0.45 0 1 0 0.9,0a0.45,0.45 0 1 0 -0.9,0M221.4,971.45a0.45,0.45 0 1 0 0.9,0a0.45,0.45 0 1 0 -0.9,0M208.42,948.67a0.45,0.45 0 1 0 0.9,0a0.45,0.45 0 1 0 -0.9,0M225.07,958.93a0.45,0.45 0 1 0 0.9,0a0.45,0.45 0 1 0 -0.9,0M214.3,953.69a0.45,0.45 0 1 0 0.9,0a0.45,0.45 0 1 0 -0.9,0M216.21,951.45a0.45,0.45 0 1 0 0.9,0a0.45,0.45 0 1 0 -0.9,0M217.96,936.3a0.45,0.45 0 1 0 0.9,0a0.45,0.45 0 1 0 -0.9,0M219.3,960.53a0.45,0.45 0 1 0 0.9,0a0.45,0.45 0 1 0 -0.9,0M207.95,947.11a0.45,0.45 0 1 0 0.9,0a0.45,0.45 0 1 0 -0.9,0M227.53,937.16a0.45,0.45 0 1 0 0.9,0a0.45,0.45 0 1 0 -0.9,0" fill="#5050ee" stroke="none" stroke-width="1"/>
<path d="M263.56,941.68a0.45,0.45 0 1 0 0.9,0a0.45,0.45 0 1 0 -0.9,0M274.03,1015.88a0.45,0.45 0 1 0 0.9,0a0.45,0.45 0 1 0 -0.9,0M283.79,960.18a0.45,0.45 0 1 0 0.9,0a0.45,0.45 0 1 0 -0.9,0M269.69,967.66a0.45,0.45 0 1 0 0.9,0a0.45,0.45 0 1 0 -0.9,0M262.67,999.05a0.45,0.45 0 1 0 0.9,0a0.45,0.45 0 1 0 -0.9,0M247.04,988.22a0.45,0.45 0 1 0 0.9,0a0.45,0.45 0 1 0 -0.9,0M261.01,995.99a0.45,0.45 0 1 0 0.9,0a0.45,0.45 0 1 0 -0.9,0M263.61,950.2a0.45,0.45 0 1 0 0.9,0a0.45,0.45 0 1 0 -0.9,0M264.6,981.19a0.45,0.45 0 1 0 0.9,0a0.45,0.45 0 1 0 -0.9,0M261.94,975.74a0.45,0.45 0 1 0 0.9,0a0.45,0.45 0 1 0 -0.9,0M255.81,918.05a0.45,0.45 0 1 0 0.9,0a0.45,0.45 0 1 0 -0.9,0M271.45,980.38a0.45,0.45 0 1 0 0.9,0a0.45,0.45 0 1 0 -0.9,0M263.18,966.51a0.45,0.45 0 1 0 0.9,0a0.45,0.45 0 1 0 -0.9,0M272.95,954.94a0.45,0.45 0 1 0 0.9,0a0.45,0.45 0 1 0 -0.9,0M253.78,960.85a0.45,0.45 0 1 0 0.9,0a0.45,0.45 0 1 0 -0.9,0M274.63,934.48a0.45,0.45 0 1 0 0.9,0a0.45,0.45 0 1 0 -0.9,0M274.66,950.94a0.45,0.45 0 1 0 0.9,0a0.45,0.45 0 1 0 -0.9,0M249.44,992.72a0.45,0.45 0 1 0 0.9,0a0.45,0.45 0 1 0 -0.9,0M260.48,936.39a0.45,0.45 0 1 0 0.9,0a0.45,0.45 0 1 0 -0.9,0M257.6,985.48a0.45,0.45 0 1 0 0.9,0a0.45,0.45 0 1 0 -0.9,0M274.66,955.6a0.45,0.45 0 1 0 0.9,0a0.45,0.45 0 1 0 -0.9,0M266.02,980.71a0.45,0.45 0 1 0 0.9,0a0.45,0.45 0 1 0 -0.9,0M254.46,972.81a0.45,0.45 0 1 0 0.9,0a0.45,0.45 0 1 0 -0.9,0M261.2,953.21a0.45,0.45 0 1 0 0.9,0a0.45,0.45 0 1 0 -0.9,0M256.14,966.47a0.45,0.45 0 1 0 0.9,0a0.45,0.45 0 1 0 -0.9,0M261.88,952.56a0.45,0.45 0 1 0 0.9,0a0.45,0.45 0 1 0 -0.9,0M256.86,989.49a0.45,0.45 0 1 0 0.9,0a0.45,0.45 0 1 0 -0.9,0M263.9,984.47a0.45,0.45 0 1 0 0.9,0a0.45,0.45 0 1 0 -0.9,0M274.77,977.95a0.45,0.45 0 1 0 0.9,0a0.45,0.45 0 1 0 -0.9,0M286.53,946.84a0.45,0.45 0 1 0 0.9,0a0.45,0.45 0 1 0 -0.9,0M270.44,958a0.45,0.45 0 1 0 0.9,0a0.45,0.45 0 1 0 -0.9,0M281.96,1002.41a0.45,0.45 0 1 0 0.9,0a0.45,0.45 0 1 0 -0.9,0M240.05,943.68a0.45,0.45 0 1 0 0.9,0a0.45,0.45 0 1 0 -0.9,0M268.86,982.38a0.45,0.45 0 1 0 0.9,0a0.45,0.45 0 1 0 -0.9,0M269.65,963.44a0.45,0.45 0 1 0 0.9,0a0.45,0.45 0 1 0 -0.9,0M266.56,979.37a0.45,0.45 0 1 0 0.9,0a0.45,0.45 0 1 0 -0.9,0M260.69,987.6a0.45,0.45 0 1 0 0.9,0a0.45,0.45 0 1 0 -0.9,0M236.7,978.94a0.45,0.45 0 1 0 0.9,0a0.45,0.45 0 1 0 -0.9,0M250.18,986.09a0.45,0.45 0 1 0 0.9,0a0.45,0.45 0 1 0 -0.9,0M259.03,945.45a0.45,0.45 0 1 0 0.9,0a0.45,0.45 0 1 0 -0.9,0M265.66,944.95a0.45,0.45 0 1 0 0.9,0a0.45,0.45 0 1 0 -0.9,0M251.51,930.52a0.45,0.45 0 1 0 0.9,0a0.45,0.45 0 1 0 -0.9,0M261.26,975.93a0.45,0.45 0 1 0 0.9,0a0.45,0.45 0 1 0 -0.9,0M272.8,961.88a0.45,0.45 0 1 0 0.9,0a0.45,0.45 0 1 0 -0.9,0M273.08,965.4a0.45,0.45 0 1 0 0.9,0a0.45,0.45 0 1 0 -0.9,0M260.52,977.62a0.45,0.45 0 1 0 0.9,0a0.45,0.45 0 1 0 -0.9,0M273.19,957.49a0.45,0.45 0 1 0 0.9,0a0.45,0.45 0 1 0 -0.9,0M258.87,961.46a0.45,0.45 0 1 0 0.9,0a0.45,0.45 0 1 0 -0.9,0M262.46,945.19a0.45,0.45 0 1 0 0.9,0a0.45,0.45 0 1 0 -0.9,0M272.86,956.19a0.45,0.45 0 1 0 0.9,0a0.45,0.45 0 1 0 -0.9,0" fill="#5050ee" stroke="none" stroke-width="1"/>
<path d="M234.79,976.75a0.45,0.45 0 1 0 0.9,0a0.45,0.45 0 1 0 -0.9,0M234.06,988.92a0.45,0.45 0 1 0 0.9,0a0.45,0.45 0 1 0 -0.9,0M228.61,1005.21a0.45,0.45 0 1 0 0.9,0a0.45,0.45 0 1 0 -0.9,0M234.15,1002.77a0.45,0.45 0 1 0 0.9,0a0.45,0.45 0 1 0 -0.9,0M238.26,978.38a0.45,0.45 0 1 0 0.9,0a0.45,0.45 0 1 0 -0.9,0M228.87,989.36a0.45,0.45 0 1 0 0.9,0a0.45,0.45 0 1 0 -0.9,0M231.98,985.49a0.45,0.45 0 1 0 0.9,0a0.45,0.45 0 1 0 -0.9,0M229.55,966.92a0.45,0.45 0 1 0 0.9,0a0.45,0.45 0 1 0 -0.9,0M229.97,962.82a0.45,0.45 0 1 0 0.9,0a0.45,0.45 0 1 0 -0.9,0M234.15,977.74a0.45,0.45 0 1 0 0.9,0a0.45,0.45 0 1 0 -0.9,0M226.54,982.81a0.45,0.45 0 1 0 0.9,0a0.45,0.45 0 1 0 -0.9,0M233.46,970.68a0.45,0.45 0 1 0 0.9,0a0.45,0.45 0 1 0 -0.9,0M219.31,974.34a0.45,0.45 0 1 0 0.9,0a0.45,0.45 0 1 0 -0.9,0M217.26,975.33a0.45,0.45 0 1 0 0.9,0a0.45,0.45 0 1 0 -0.9,0M242.69,974.43a0.45,0.45 0 1 0 0.9,0a0.45,0.45 0 1 0 -0.9,0M236.11,971.28a0.45,0.45 0 1 0 0.9,0a0.45,0.45 0 1 0 -0.9,0M233.64,981.8a0.45,0.45 0 1 0 0.9,0a0.45,0.45 0 1 0 -0.9,0M231.13,990.69a0.45,0.45 0 1 0 0.9,0a0.45,0.45 0 1 0 -0.9,0M243.84,986.95a0.45,0.45 0 1 0 0.9,0a0.45,0.45 0 1 0 -0.9,0M232.42,975.27a0.45,0.45 0 1 0 0.9,0a0.45,0.45 0 1 0 -0.9,0M235.63,982.54a0.45,0.45 0 1 0 0.9,0a0.45,0.45 0 1 0 -0.9,0M237.37,984.56a0.45,0.45 0 1 0 0.9,0a0.45,0.45 0 1 0 -0.9,0M243.74,965.17a0.45,0.45 0 1 0 0.9,0a0.45,0.45 0 1 0 -0.9,0M229.47,993.81a0.45,0.45 0 1 0 0.9,0a0.45,0.45 0 1 0 -0.9,0M229.1,977.08a0.45,0.45 0 1 0 0.9,0a0.45,0.45 0 1 0 -0.9,0M229.69,971.2a0.45,0.45 0 1 0 0.9,0a0.45,0.45 0 1 0 -0.9,0M232.38,1009.4a0.45,0.45 0 1 0 0.9,0a0.45,0.45 0 1 0 -0.9,0M239.57,973.91a0.45,0.45 0 1 0 0.9,0a0.45,0.45 0 1 0 -0.9,0M225.44,980.95a0.45,0.45 0 1 0 0.9,0a0.45,0.45 0 1 0 -0.9,0M238.58,976.79a0.45,0.45 0 1 0 0.9,0a0.45,0.45 0 1 0 -0.9,0M226.72,993.85a0.45,0.45 0 1 0 0.9,0a0.45,0.45 0 1 0 -0.9,0M237.6,981.26a0.45,0.45 0 1 0 0.9,0a0.45,0.45 0 1 0 -0.9,0M223.73,969.5a0.45,0.45 0 1 0 0.9,0a0.45,0.45 0 1 0 -0.9,0M226.66,962.69a0.45,0.45 0 1 0 0.9,0a0.45,0.45 0 1 0 -0.9,0M236.8,978.7a0.45,0.45 0 1 0 0.9,0a0.45,0.45 0 1 0 -0.9,0M234.92,1003.68a0.45,0.45 0 1 0 0.9,0a0.45,0.45 0 1 0 -0.9,0M239.76,973.49a0.45,0.45 0 1 0 0.9,0a0.45,0.45 0 1 0 -0.9,0M237.63,996.58a0.45,0.45 0 1 0 0.9,0a0.45,0.45 0 1 0 -0.9,0M226.33,975.47a0.45,0.45 0 1 0 0.9,0a0.45,0.45 0 1 0 -0.9,0M230.78,968.99a0.45,0.45 0 1 0 0.9,0a0.45,0.45 0 1 0 -0.9,0" fill="#5050ee" stroke="none" stroke-width="1"/>
<path d="M184.5,988.6 185.3,988.2 185.7,988.0 186.1,987.8 186.9,987.5 187.3,987.3 188.0,987.0 188.5,986.8 188.9,986.6 189.7,986.3 190.1,986.1 190.9,985.8 191.3,985.7 192.0,985.4 192.5,985.2 193.2,985.0 193.7,984.8 194.4,984.6 194.9,984.4 195.7,984.2 196.1,984.1 196.9,983.8 197.3,983.7 198.1,983.5 198.6,983.4 199.3,983.2 200.1,983.0 200.5,982.9 201.3,982.8 202.1,982.6 202.5,982.5 203.3,982.4 204.1,982.2 204.5,982.2 205.3,982.1 206.1,981.9 206.9,981.8 207.3,981.8 208.1,981.7 208.9,981.6 209.7,981.6 210.5,981.5 211.3,981.5 212.1,981.5 212.9,981.4 213.7,981.4 214.5,981.4 215.3,981.4 216.1,981.5 216.9,981.5 217.7,981.6 218.5,981.6 219.3,981.7 220.1,981.8 220.5,981.8 221.3,981.9 222.1,982.1 222.9,982.2 223.3,982.3 224.1,982.4 224.8,982.6 225.3,982.7 226.1,982.9 226.5,983.0 227.3,983.2 227.9,983.4 228.5,983.6 229.1,983.8 229.7,984.0 230.2,984.2 230.9,984.5 231.3,984.7 232.1,985.0 232.5,985.2 232.9,985.4 233.7,985.8 234.1,986.0 234.5,986.2 235.1,986.6 235.7,987.0 236.1,987.2 236.5,987.5 236.9,987.8 237.4,988.2 237.9,988.6 238.4,989.0 238.8,989.4 239.2,989.8 239.6,990.2 240.0,990.6 240.3,991.0 240.7,991.4 241.0,991.8 241.3,992.3 241.7,992.9 242.0,993.4 242.2,993.8 242.5,994.5 242.7,995.0 242.9,995.6 243.1,996.2 243.2,997.0 243.3,997.4 243.4,998.2 243.4,999.0 243.4,999.8 243.3,1000.6 243.3,1001.0 243.1,1001.8 242.9,1002.6 242.8,1003.0 242.5,1003.7 242.3,1004.2 242.1,1004.6 241.7,1005.4 241.5,1005.8 241.2,1006.2 240.9,1006.7 240.5,1007.3 240.1,1007.8 239.8,1008.2 239.5,1008.6 239.1,1009.0 238.7,1009.4 238.3,1009.8 237.9,1010.2 237.5,1010.6 237.1,1011.0 236.6,1011.4 236.1,1011.8 235.7,1012.1 235.3,1012.4 234.9,1012.7 234.5,1013.0 233.9,1013.4 233.3,1013.8 232.9,1014.1 232.5,1014.3 232.0,1014.6 231.3,1015.0 230.9,1015.3 230.5,1015.5 229.9,1015.8 229.3,1016.1 228.9,1016.3 228.2,1016.6 M184.5,992.7 184.9,992.5 185.6,992.2 186.1,992.0 186.6,991.8 187.3,991.5 187.7,991.3 188.5,991.0 188.9,990.8 189.5,990.6 190.1,990.4 190.6,990.2 191.3,989.9 191.7,989.8 192.5,989.5 192.9,989.4 193.7,989.1 194.1,989.0 194.9,988.8 195.5,988.6 196.1,988.4 196.9,988.2 197.3,988.1 198.1,987.9 198.5,987.8 199.3,987.6 200.1,987.4 200.5,987.4 201.3,987.2 202.1,987.0 202.5,987.0 203.3,986.8 204.1,986.7 204.9,986.6 205.3,986.6 206.1,986.5 206.9,986.4 207.7,986.3 208.5,986.3 209.3,986.2 209.7,986.2 210.5,986.2 211.3,986.2 212.1,986.2 212.9,986.2 213.7,986.2 214.1,986.2 214.9,986.3 215.7,986.3 216.5,986.4 217.3,986.5 218.1,986.6 218.5,986.6 219.3,986.8 220.1,986.9 220.5,987.0 221.3,987.2 222.1,987.4 222.5,987.5 223.3,987.7 223.7,987.8 224.5,988.1 224.9,988.2 225.7,988.5 226.1,988.7 226.8,989.0 227.3,989.2 227.7,989.4 228.4,989.8 228.9,990.1 229.3,990.3 229.8,990.6 230.4,991.0 230.9,991.4 231.3,991.7 231.7,992.0 232.1,992.4 232.5,992.8 232.9,993.2 233.3,993.6 233.7,994.1 234.0,994.6 234.3,995.0 234.5,995.4 234.9,996.1 235.1,996.6 235.3,997.1 235.5,997.8 235.7,998.6 235.7,999.0 235.8,999.8 235.7,1000.6 235.7,1001.1 235.6,1001.8 235.4,1002.6 235.3,1003.0 235.0,1003.8 234.8,1004.2 234.5,1004.8 234.2,1005.4 233.9,1005.8 233.6,1006.2 233.3,1006.7 232.9,1007.2 232.5,1007.6 232.1,1008.1 231.7,1008.5 231.3,1008.9 230.9,1009.3 230.5,1009.6 230.1,1010.0 229.7,1010.3 229.3,1010.6 228.8,1011.0 228.2,1011.4 227.7,1011.8 227.3,1012.0 226.9,1012.3 226.4,1012.6 225.7,1013.0 225.3,1013.2 224.9,1013.4 224.2,1013.8 223.7,1014.0 223.3,1014.2 222.5,1014.6 222.1,1014.8 221.6,1015.0 220.9,1015.3 220.5,1015.5 219.7,1015.8 219.3,1015.9 218.6,1016.2 218.1,1016.4 217.4,1016.6 M184.5,994.7 184.9,994.5 185.6,994.2 186.1,994.0 186.5,993.8 187.3,993.5 187.7,993.3 188.5,993.0 188.9,992.8 189.6,992.6 190.1,992.4 190.7,992.2 191.3,992.0 191.9,991.8 192.5,991.6 193.2,991.4 193.7,991.2 194.5,991.0 194.9,990.9 195.7,990.7 196.1,990.6 196.9,990.4 197.6,990.2 198.1,990.1 198.9,989.9 199.4,989.8 200.1,989.7 200.9,989.5 201.6,989.4 202.1,989.3 202.9,989.2 203.7,989.1 204.3,989.0 204.9,988.9 205.7,988.9 206.5,988.8 207.3,988.7 208.1,988.7 208.9,988.7 209.7,988.6 210.5,988.6 211.3,988.6 212.1,988.7 212.9,988.7 213.7,988.8 214.5,988.8 215.3,988.9 215.9,989.0 216.5,989.1 217.3,989.2 218.1,989.4 218.5,989.4 219.3,989.6 220.0,989.8 220.5,989.9 221.3,990.2 221.7,990.3 222.5,990.6 222.9,990.8 223.5,991.0 224.1,991.3 224.5,991.5 225.2,991.8 225.7,992.1 226.1,992.3 226.5,992.6 227.1,993.0 227.6,993.4 228.1,993.8 228.5,994.1 228.9,994.5 229.3,995.0 229.7,995.4 230.0,995.8 230.2,996.2 230.5,996.6 230.9,997.4 231.1,997.8 231.3,998.6 231.4,999.0 231.5,999.8 231.6,1000.6 231.5,1001.4 231.4,1002.2 231.3,1002.6 231.1,1003.4 230.9,1003.8 230.5,1004.6 230.3,1005.0 230.1,1005.4 229.7,1006.0 229.3,1006.5 228.9,1007.0 228.6,1007.4 228.2,1007.8 227.8,1008.2 227.4,1008.6 227.0,1009.0 226.5,1009.4 226.1,1009.7 225.7,1010.0 225.3,1010.3 224.9,1010.6 224.3,1011.0 223.7,1011.4 223.3,1011.6 222.9,1011.9 222.4,1012.2 221.7,1012.6 221.3,1012.8 220.8,1013.0 220.1,1013.4 219.7,1013.6 219.2,1013.8 218.5,1014.1 218.1,1014.3 217.3,1014.6 216.9,1014.7 216.2,1015.0 215.7,1015.2 215.1,1015.4 214.5,1015.6 213.9,1015.8 213.3,1016.0 212.5,1016.2 212.1,1016.3 211.3,1016.6 211.1,1016.6 M184.5,996.0 185.0,995.8 185.7,995.5 186.1,995.3 186.8,995.0 187.3,994.8 187.8,994.6 188.5,994.3 188.9,994.2 189.7,993.9 190.1,993.8 190.9,993.5 191.3,993.4 192.1,993.1 192.5,993.0 193.3,992.7 193.8,992.6 194.5,992.4 195.3,992.2 195.7,992.1 196.5,991.9 196.9,991.8 197.7,991.6 198.5,991.5 198.9,991.4 199.7,991.2 200.5,991.1 201.0,991.0 201.7,990.9 202.5,990.8 203.3,990.7 204.0,990.6 204.5,990.6 205.3,990.5 206.1,990.4 206.9,990.4 207.7,990.3 208.5,990.3 209.3,990.3 210.1,990.3 210.9,990.4 211.7,990.4 212.5,990.5 213.3,990.5 213.8,990.6 214.5,990.7 215.3,990.8 216.1,990.9 216.5,991.0 217.3,991.2 218.1,991.4 218.5,991.5 219.3,991.7 219.7,991.9 220.5,992.2 220.9,992.3 221.6,992.6 222.1,992.8 222.5,993.0 223.2,993.4 223.7,993.7 224.1,993.9 224.5,994.2 225.0,994.6 225.5,995.0 226.0,995.4 226.4,995.8 226.7,996.2 227.0,996.6 227.3,997.0 227.7,997.6 228.0,998.2 228.1,998.6 228.4,999.4 228.5,999.9 228.6,1000.6 228.6,1001.4 228.5,1002.1 228.4,1002.6 228.2,1003.4 228.0,1003.8 227.7,1004.5 227.5,1005.0 227.2,1005.4 226.9,1005.9 226.5,1006.4 226.1,1006.9 225.7,1007.4 225.3,1007.8 224.9,1008.2 224.5,1008.6 224.1,1008.9 223.7,1009.2 223.3,1009.5 222.9,1009.8 222.4,1010.2 221.8,1010.6 221.3,1010.9 220.9,1011.2 220.5,1011.4 219.8,1011.8 219.3,1012.1 218.9,1012.3 218.3,1012.6 217.7,1012.9 217.3,1013.1 216.5,1013.4 216.1,1013.6 215.6,1013.8 214.9,1014.1 214.5,1014.2 213.7,1014.5 213.3,1014.7 212.5,1014.9 212.1,1015.1 211.3,1015.3 210.9,1015.4 210.1,1015.7 209.5,1015.8 208.9,1016.0 208.1,1016.2 207.7,1016.3 206.9,1016.4 206.2,1016.6 M184.5,997.1 184.9,996.9 185.5,996.6 186.1,996.3 186.5,996.2 187.3,995.8 187.7,995.7 188.4,995.4 188.9,995.2 189.5,995.0 190.1,994.8 190.6,994.6 191.3,994.4 191.9,994.2 192.5,994.0 193.2,993.8 193.7,993.7 194.5,993.5 194.9,993.3 195.7,993.1 196.4,993.0 196.9,992.9 197.7,992.7 198.3,992.6 198.9,992.5 199.7,992.3 200.5,992.2 200.9,992.1 201.7,992.0 202.5,991.9 203.3,991.9 203.9,991.8 204.5,991.7 205.3,991.7 206.1,991.6 206.9,991.6 207.7,991.6 208.5,991.6 209.3,991.6 210.1,991.7 210.9,991.7 211.7,991.8 212.1,991.8 212.9,991.9 213.7,992.0 214.5,992.2 214.9,992.2 215.7,992.4 216.5,992.6 216.9,992.7 217.7,992.9 218.1,993.1 218.9,993.3 219.3,993.5 220.0,993.8 220.5,994.0 220.9,994.2 221.6,994.6 222.1,994.9 222.5,995.2 222.9,995.5 223.3,995.8 223.8,996.2 224.2,996.6 224.5,997.0 224.9,997.5 225.3,998.1 225.6,998.6 225.8,999.0 226.0,999.8 226.1,1000.2 226.2,1001.0 226.2,1001.8 226.1,1002.6 226.0,1003.0 225.8,1003.8 225.6,1004.2 225.3,1004.9 225.0,1005.4 224.7,1005.8 224.5,1006.2 224.1,1006.6 223.7,1007.1 223.3,1007.5 222.9,1007.9 222.5,1008.3 222.1,1008.7 221.7,1009.0 221.2,1009.4 220.6,1009.8 220.1,1010.2 219.7,1010.4 219.3,1010.7 218.8,1011.0 218.1,1011.4 217.7,1011.6 217.3,1011.8 216.5,1012.2 216.1,1012.4 215.7,1012.6 214.9,1012.9 214.5,1013.1 213.8,1013.4 213.3,1013.6 212.7,1013.8 212.1,1014.0 211.6,1014.2 210.9,1014.4 210.4,1014.6 209.7,1014.8 209.0,1015.0 208.5,1015.1 207.7,1015.4 207.3,1015.5 206.5,1015.6 205.8,1015.8 205.3,1015.9 204.5,1016.1 203.8,1016.2 203.3,1016.3 202.5,1016.4 201.7,1016.6 201.3,1016.6 M185.6,1016.6 184.9,1016.5 184.5,1016.4 M184.5,997.9 184.9,997.7 185.6,997.4 186.1,997.2 186.5,997.0 187.3,996.7 187.7,996.5 188.5,996.2 188.9,996.0 189.6,995.8 190.1,995.6 190.7,995.4 191.3,995.2 192.0,995.0 192.5,994.8 193.3,994.6 193.7,994.5 194.5,994.3 194.9,994.2 195.7,994.0 196.5,993.8 196.9,993.7 197.7,993.6 198.5,993.4 198.9,993.4 199.7,993.2 200.5,993.1 201.3,993.0 201.7,993.0 202.5,992.9 203.3,992.8 204.1,992.7 204.9,992.7 205.7,992.7 206.5,992.6 207.3,992.6 208.1,992.6 208.9,992.7 209.7,992.7 210.5,992.8 211.3,992.9 212.1,993.0 212.5,993.0 213.3,993.1 214.1,993.3 214.5,993.4 215.3,993.6 216.1,993.8 216.5,993.9 217.3,994.2 217.7,994.4 218.3,994.6 218.9,994.9 219.3,995.1 219.9,995.4 220.5,995.8 220.9,996.0 221.3,996.3 221.7,996.6 222.1,997.0 222.5,997.4 222.9,997.9 223.3,998.4 223.6,999.0 223.8,999.4 224.1,1000.1 224.2,1000.6 224.3,1001.4 224.3,1002.2 224.2,1003.0 224.1,1003.4 223.8,1004.2 223.6,1004.6 223.3,1005.2 222.9,1005.8 222.6,1006.2 222.3,1006.6 222.0,1007.0 221.6,1007.4 221.2,1007.8 220.8,1008.2 220.3,1008.6 219.8,1009.0 219.3,1009.4 218.9,1009.7 218.5,1009.9 218.1,1010.2 217.4,1010.6 216.9,1010.9 216.5,1011.1 216.0,1011.4 215.3,1011.8 214.9,1012.0 214.4,1012.2 213.7,1012.5 213.3,1012.7 212.5,1013.0 212.1,1013.2 211.4,1013.4 210.9,1013.6 210.3,1013.8 209.7,1014.0 209.0,1014.2 208.5,1014.4 207.7,1014.6 207.3,1014.7 206.5,1014.9 206.1,1015.0 205.3,1015.2 204.5,1015.4 204.1,1015.4 203.3,1015.6 202.5,1015.7 202.1,1015.8 201.3,1015.9 200.5,1016.0 199.7,1016.1 199.1,1016.2 198.5,1016.3 197.7,1016.3 196.9,1016.4 196.1,1016.5 195.3,1016.5 194.5,1016.5 193.7,1016.5 192.9,1016.5 192.1,1016.5 191.3,1016.5 190.5,1016.5 189.7,1016.4 188.9,1016.3 188.1,1016.3 187.7,1016.2 186.9,1016.1 186.1,1016.0 185.3,1015.8 184.9,1015.7 184.5,1015.6 M184.5,998.7 184.9,998.5 185.5,998.2 186.1,997.9 186.5,997.7 187.3,997.4 187.7,997.2 188.3,997.0 188.9,996.8 189.3,996.6 190.1,996.3 190.5,996.2 191.3,995.9 191.7,995.8 192.5,995.6 193.1,995.4 193.7,995.2 194.5,995.0 194.9,994.9 195.7,994.7 196.3,994.6 196.9,994.5 197.7,994.3 198.4,994.2 198.9,994.1 199.7,994.0 200.5,993.9 201.2,993.8 201.7,993.7 202.5,993.7 203.3,993.6 204.1,993.6 204.9,993.5 205.7,993.5 206.5,993.5 207.3,993.5 208.1,993.5 208.9,993.6 209.7,993.6 210.5,993.7 211.1,993.8 211.7,993.9 212.5,994.0 213.3,994.2 213.7,994.3 214.5,994.5 214.9,994.6 215.7,994.8 216.1,995.0 216.9,995.3 217.3,995.5 218.0,995.8 218.5,996.1 218.9,996.3 219.3,996.6 219.9,997.0 220.4,997.4 220.8,997.8 221.2,998.2 221.5,998.6 221.8,999.0 222.1,999.6 222.4,1000.2 222.5,1000.7 222.6,1001.4 222.7,1002.2 222.6,1003.0 222.5,1003.4 222.2,1004.2 222.0,1004.6 221.7,1005.2 221.3,1005.8 221.1,1006.2 220.7,1006.6 220.4,1007.0 220.0,1007.4 219.6,1007.8 219.2,1008.2 218.7,1008.6 218.2,1009.0 217.7,1009.3 217.3,1009.6 216.9,1009.9 216.4,1010.2 215.7,1010.6 215.3,1010.8 214.9,1011.1 214.2,1011.4 213.7,1011.7 213.3,1011.8 212.5,1012.2 212.1,1012.4 211.5,1012.6 210.9,1012.8 210.5,1013.0 209.7,1013.3 209.3,1013.4 208.5,1013.7 208.1,1013.8 207.3,1014.0 206.6,1014.2 206.1,1014.3 205.3,1014.5 204.9,1014.6 204.1,1014.8 203.3,1015.0 202.9,1015.0 202.1,1015.2 201.3,1015.3 200.8,1015.4 200.1,1015.5 199.3,1015.6 198.5,1015.7 197.7,1015.8 197.2,1015.8 196.5,1015.9 195.7,1015.9 194.9,1015.9 194.1,1016.0 193.3,1016.0 192.5,1015.9 191.7,1015.9 190.9,1015.9 190.1,1015.8 189.6,1015.8 188.9,1015.7 188.1,1015.6 187.3,1015.5 186.5,1015.4 186.1,1015.3 185.3,1015.2 184.6,1015.0 184.5,1015.0 M184.5,999.4 184.9,999.2 185.3,999.0 186.1,998.6 186.5,998.4 187.0,998.2 187.7,997.9 188.1,997.7 188.9,997.4 189.3,997.2 190.0,997.0 190.5,996.8 191.2,996.6 191.7,996.4 192.5,996.2 192.9,996.1 193.7,995.9 194.1,995.8 194.9,995.6 195.6,995.4 196.1,995.3 196.9,995.1 197.5,995.0 198.1,994.9 198.9,994.8 199.7,994.7 200.1,994.6 200.9,994.5 201.7,994.4 202.5,994.4 203.3,994.3 204.1,994.3 204.9,994.2 205.7,994.2 206.5,994.2 207.3,994.3 208.1,994.3 208.9,994.4 209.7,994.5 210.5,994.6 210.9,994.6 211.7,994.8 212.5,994.9 212.9,995.0 213.7,995.2 214.2,995.4 214.9,995.6 215.4,995.8 216.1,996.1 216.5,996.3 217.1,996.6 217.7,996.9 218.1,997.2 218.5,997.5 218.9,997.8 219.3,998.2 219.7,998.6 220.1,999.1 220.5,999.7 220.8,1000.2 220.9,1000.6 221.1,1001.4 221.2,1002.2 221.1,1003.0 220.9,1003.8 220.8,1004.2 220.5,1004.9 220.2,1005.4 220.0,1005.8 219.7,1006.2 219.3,1006.7 218.9,1007.1 218.5,1007.5 218.1,1007.9 217.7,1008.2 217.3,1008.6 216.7,1009.0 216.2,1009.4 215.7,1009.7 215.3,1010.0 214.9,1010.2 214.2,1010.6 213.7,1010.9 213.3,1011.1 212.6,1011.4 212.1,1011.6 211.7,1011.8 210.9,1012.2 210.5,1012.3 209.7,1012.6 209.3,1012.8 208.6,1013.0 208.1,1013.2 207.3,1013.4 206.9,1013.5 206.1,1013.8 205.7,1013.9 204.9,1014.1 204.3,1014.2 203.7,1014.3 202.9,1014.5 202.4,1014.6 201.7,1014.7 200.9,1014.9 200.1,1015.0 199.7,1015.0 198.9,1015.1 198.1,1015.2 197.3,1015.3 196.5,1015.3 195.7,1015.4 195.2,1015.4 194.5,1015.4 193.7,1015.4 192.9,1015.4 192.1,1015.4 191.7,1015.4 190.9,1015.4 190.1,1015.3 189.3,1015.2 188.5,1015.1 187.7,1015.0 187.3,1015.0 186.5,1014.8 185.7,1014.6 185.3,1014.5 184.5,1014.3 M184.5,1000.1 185.0,999.8 185.7,999.4 186.1,999.2 186.5,999.0 187.3,998.6 187.7,998.5 188.4,998.2 188.9,998.0 189.4,997.8 190.1,997.5 190.5,997.4 191.3,997.1 191.7,997.0 192.5,996.8 193.0,996.6 193.7,996.4 194.5,996.2 194.9,996.1 195.7,995.9 196.4,995.8 196.9,995.7 197.7,995.5 198.5,995.4 198.9,995.4 199.7,995.2 200.5,995.1 201.3,995.1 202.1,995.0 202.5,995.0 203.3,994.9 204.1,994.9 204.9,994.9 205.7,994.9 206.5,994.9 207.3,995.0 207.9,995.0 208.5,995.1 209.3,995.1 210.1,995.3 210.9,995.4 211.3,995.5 212.1,995.7 212.6,995.8 213.3,996.0 213.9,996.2 214.5,996.4 214.9,996.6 215.7,997.0 216.1,997.2 216.5,997.4 217.1,997.8 217.6,998.2 218.1,998.6 218.5,999.0 218.8,999.4 219.1,999.8 219.3,1000.2 219.7,1001.0 219.8,1001.4 219.9,1002.2 219.8,1003.0 219.7,1003.7 219.6,1004.2 219.3,1004.8 219.0,1005.4 218.7,1005.8 218.4,1006.2 218.1,1006.6 217.7,1007.1 217.3,1007.5 216.9,1007.8 216.5,1008.2 216.0,1008.6 215.4,1009.0 214.9,1009.4 214.5,1009.6 214.1,1009.9 213.5,1010.2 212.9,1010.6 212.5,1010.8 212.0,1011.0 211.3,1011.3 210.9,1011.5 210.2,1011.8 209.7,1012.0 209.2,1012.2 208.5,1012.5 208.1,1012.6 207.3,1012.9 206.8,1013.0 206.1,1013.2 205.4,1013.4 204.9,1013.5 204.1,1013.7 203.7,1013.8 202.9,1014.0 202.1,1014.2 201.7,1014.2 200.9,1014.4 200.1,1014.5 199.3,1014.6 198.9,1014.6 198.1,1014.7 197.3,1014.8 196.5,1014.9 195.7,1014.9 194.9,1014.9 194.1,1015.0 193.3,1015.0 192.5,1014.9 191.7,1014.9 190.9,1014.9 190.1,1014.8 189.3,1014.7 188.5,1014.6 188.1,1014.6 187.3,1014.4 186.5,1014.3 186.1,1014.2 185.3,1014.0 184.7,1013.8 184.5,1013.7 M184.5,1000.7 184.9,1000.5 185.3,1000.2 186.1,999.8 186.5,999.6 186.9,999.4 187.7,999.0 188.1,998.8 188.7,998.6 189.3,998.4 189.7,998.2 190.5,997.9 190.9,997.8 191.7,997.5 192.1,997.4 192.9,997.2 193.5,997.0 194.1,996.8 194.9,996.6 195.3,996.5 196.1,996.4 196.9,996.2 197.3,996.1 198.1,996.0 198.9,995.9 199.6,995.8 200.1,995.7 200.9,995.7 201.7,995.6 202.5,995.5 203.3,995.5 204.1,995.5 204.9,995.5 205.7,995.5 206.5,995.5 207.3,995.6 208.1,995.7 208.9,995.8 209.3,995.8 210.1,996.0 210.9,996.1 211.3,996.2 212.1,996.4 212.6,996.6 213.3,996.8 213.7,997.0 214.5,997.4 214.9,997.6 215.3,997.8 216.0,998.2 216.5,998.6 216.9,998.9 217.3,999.3 217.7,999.8 218.0,1000.2 218.2,1000.6 218.5,1001.4 218.6,1001.8 218.7,1002.6 218.6,1003.4 218.5,1003.9 218.3,1004.6 218.1,1005.0 217.7,1005.6 217.3,1006.2 217.0,1006.6 216.6,1007.0 216.2,1007.4 215.8,1007.8 215.3,1008.2 214.9,1008.5 214.5,1008.8 214.1,1009.1 213.6,1009.4 213.0,1009.8 212.5,1010.1 212.1,1010.3 211.5,1010.6 210.9,1010.9 210.5,1011.1 209.8,1011.4 209.3,1011.6 208.8,1011.8 208.1,1012.1 207.7,1012.2 206.9,1012.5 206.5,1012.6 205.7,1012.8 205.1,1013.0 204.5,1013.2 203.7,1013.3 203.3,1013.4 202.5,1013.6 201.7,1013.8 201.3,1013.8 200.5,1014.0 199.7,1014.1 198.9,1014.2 198.5,1014.2 197.7,1014.3 196.9,1014.4 196.1,1014.4 195.3,1014.5 194.5,1014.5 193.7,1014.5 192.9,1014.5 192.1,1014.5 191.3,1014.4 190.5,1014.4 189.7,1014.3 189.0,1014.2 188.5,1014.1 187.7,1014.0 186.9,1013.8 186.5,1013.7 185.7,1013.5 185.2,1013.4 184.5,1013.2 M184.5,1001.3 185.0,1001.0 185.7,1000.6 186.1,1000.4 186.5,1000.1 187.2,999.8 187.7,999.5 188.1,999.4 188.9,999.0 189.3,998.9 190.0,998.6 190.5,998.4 191.1,998.2 191.7,998.0 192.4,997.8 192.9,997.6 193.7,997.4 194.1,997.3 194.9,997.1 195.4,997.0 196.1,996.9 196.9,996.7 197.5,996.6 198.1,996.5 198.9,996.4 199.7,996.3 200.5,996.2 200.9,996.2 201.7,996.1 202.5,996.1 203.3,996.0 204.1,996.0 204.9,996.0 205.7,996.1 206.5,996.1 207.3,996.2 207.7,996.2 208.5,996.3 209.3,996.5 209.9,996.6 210.5,996.7 211.3,996.9 211.7,997.1 212.5,997.3 212.9,997.5 213.6,997.8 214.1,998.1 214.5,998.3 215.0,998.6 215.5,999.0 216.0,999.4 216.4,999.8 216.7,1000.2 217.0,1000.6 217.3,1001.3 217.5,1001.8 217.6,1002.6 217.5,1003.4 217.3,1004.2 217.2,1004.6 216.9,1005.2 216.5,1005.8 216.2,1006.2 215.9,1006.6 215.6,1007.0 215.2,1007.4 214.7,1007.8 214.2,1008.2 213.7,1008.6 213.3,1008.9 212.9,1009.2 212.5,1009.4 211.8,1009.8 211.3,1010.1 210.9,1010.3 210.3,1010.6 209.7,1010.9 209.3,1011.0 208.5,1011.4 208.1,1011.5 207.4,1011.8 206.9,1012.0 206.2,1012.2 205.7,1012.4 204.9,1012.6 204.5,1012.7 203.7,1012.9 203.3,1013.0 202.5,1013.2 201.7,1013.3 201.3,1013.4 200.5,1013.5 199.7,1013.7 198.9,1013.8 198.5,1013.8 197.7,1013.9 196.9,1014.0 196.1,1014.0 195.3,1014.1 194.5,1014.1 193.7,1014.1 192.9,1014.1 192.1,1014.1 191.3,1014.0 190.5,1013.9 189.7,1013.8 189.3,1013.8 188.5,1013.7 187.7,1013.5 187.2,1013.4 186.5,1013.2 185.7,1013.0 185.3,1012.9 184.5,1012.6 M184.5,1001.9 184.9,1001.6 185.3,1001.4 185.9,1001.0 186.5,1000.7 186.9,1000.5 187.4,1000.2 188.1,999.9 188.5,999.7 189.2,999.4 189.7,999.2 190.2,999.0 190.9,998.7 191.3,998.6 192.1,998.3 192.5,998.2 193.3,998.0 194.0,997.8 194.5,997.7 195.3,997.5 195.7,997.4 196.5,997.2 197.3,997.1 197.8,997.0 198.5,996.9 199.3,996.8 200.1,996.7 200.9,996.6 201.5,996.6 202.1,996.6 202.9,996.5 203.7,996.5 204.5,996.5 205.3,996.6 205.7,996.6 206.5,996.7 207.3,996.7 208.1,996.9 208.9,997.0 209.3,997.1 210.1,997.3 210.5,997.4 211.3,997.6 211.7,997.8 212.5,998.1 212.9,998.3 213.5,998.6 214.1,999.0 214.5,999.3 214.9,999.6 215.3,1000.0 215.7,1000.5 216.0,1001.0 216.2,1001.4 216.5,1002.2 216.5,1002.6 216.5,1003.4 216.4,1003.8 216.2,1004.6 216.0,1005.0 215.7,1005.6 215.3,1006.1 214.9,1006.6 214.6,1007.0 214.2,1007.4 213.7,1007.8 213.3,1008.1 212.9,1008.4 212.5,1008.7 212.1,1009.0 211.4,1009.4 210.9,1009.7 210.5,1009.9 210.0,1010.2 209.3,1010.5 208.9,1010.7 208.2,1011.0 207.7,1011.2 207.2,1011.4 206.5,1011.6 206.0,1011.8 205.3,1012.0 204.7,1012.2 204.1,1012.4 203.3,1012.6 202.9,1012.7 202.1,1012.8 201.3,1013.0 200.9,1013.1 200.1,1013.2 199.3,1013.3 198.7,1013.4 198.1,1013.5 197.3,1013.6 196.5,1013.6 195.7,1013.7 194.9,1013.7 194.1,1013.7 193.3,1013.7 192.5,1013.7 191.7,1013.6 190.9,1013.6 190.1,1013.5 189.6,1013.4 188.9,1013.3 188.1,1013.1 187.5,1013.0 186.9,1012.9 186.1,1012.6 185.7,1012.5 184.9,1012.2 184.5,1012.0 M184.5,1002.5 185.0,1002.2 185.5,1001.8 186.1,1001.4 186.5,1001.2 186.9,1001.0 187.6,1000.6 188.1,1000.3 188.5,1000.2 189.3,999.8 189.7,999.6 190.3,999.4 190.9,999.2 191.4,999.0 192.1,998.8 192.7,998.6 193.3,998.4 194.1,998.2 194.5,998.1 195.3,997.9 195.8,997.8 196.5,997.7 197.3,997.5 198.0,997.4 198.5,997.3 199.3,997.2 200.1,997.2 200.9,997.1 201.7,997.0 202.5,997.0 203.3,997.0 204.1,997.0 204.9,997.0 205.7,997.1 206.5,997.2 207.3,997.3 208.0,997.4 208.5,997.5 209.3,997.7 209.7,997.8 210.5,998.0 210.9,998.2 211.7,998.5 212.1,998.7 212.7,999.0 213.3,999.4 213.7,999.7 214.1,1000.1 214.5,1000.5 214.9,1001.0 215.1,1001.4 215.3,1001.8 215.5,1002.6 215.5,1003.4 215.4,1004.2 215.3,1004.6 214.9,1005.3 214.6,1005.8 214.3,1006.2 214.0,1006.6 213.6,1007.0 213.2,1007.4 212.7,1007.8 212.2,1008.2 211.7,1008.6 211.3,1008.9 210.9,1009.1 210.4,1009.4 209.7,1009.8 209.3,1010.0 208.9,1010.2 208.1,1010.5 207.7,1010.7 207.0,1011.0 206.5,1011.2 205.9,1011.4 205.3,1011.6 204.6,1011.8 204.1,1011.9 203.3,1012.2 202.9,1012.3 202.1,1012.4 201.3,1012.6 200.9,1012.7 200.1,1012.8 199.3,1012.9 198.9,1013.0 198.1,1013.1 197.3,1013.2 196.5,1013.2 195.7,1013.3 194.9,1013.3 194.1,1013.3 193.3,1013.3 192.5,1013.3 191.7,1013.2 190.9,1013.2 190.1,1013.1 189.7,1013.0 188.9,1012.9 188.1,1012.7 187.7,1012.6 186.9,1012.4 186.3,1012.2 185.7,1012.0 185.3,1011.8 184.5,1011.4 M184.5,1003.2 184.9,1002.9 185.3,1002.5 185.8,1002.2 186.4,1001.8 186.9,1001.5 187.3,1001.3 187.8,1001.0 188.5,1000.6 188.9,1000.4 189.4,1000.2 190.1,999.9 190.5,999.8 191.3,999.5 191.7,999.3 192.5,999.1 192.9,998.9 193.7,998.7 194.1,998.6 194.9,998.4 195.7,998.2 196.1,998.1 196.9,998.0 197.7,997.9 198.1,997.8 198.9,997.7 199.7,997.6 200.5,997.5 201.3,997.5 202.1,997.5 202.9,997.5 203.7,997.5 204.5,997.5 205.3,997.6 206.1,997.6 206.9,997.8 207.3,997.8 208.1,998.0 208.9,998.2 209.3,998.3 210.1,998.5 210.5,998.7 211.2,999.0 211.7,999.3 212.1,999.5 212.6,999.8 213.1,1000.2 213.5,1000.6 213.8,1001.0 214.1,1001.4 214.4,1002.2 214.5,1002.6 214.6,1003.4 214.5,1004.1 214.4,1004.6 214.1,1005.2 213.7,1005.8 213.4,1006.2 213.1,1006.6 212.7,1007.0 212.3,1007.4 211.8,1007.8 211.3,1008.2 210.9,1008.5 210.5,1008.7 210.1,1009.0 209.4,1009.4 208.9,1009.7 208.5,1009.9 207.8,1010.2 207.3,1010.4 206.8,1010.6 206.1,1010.9 205.7,1011.0 204.9,1011.3 204.5,1011.4 203.7,1011.7 203.1,1011.8 202.5,1012.0 201.7,1012.1 201.3,1012.2 200.5,1012.4 199.7,1012.5 199.1,1012.6 198.5,1012.7 197.7,1012.8 196.9,1012.8 196.1,1012.9 195.3,1012.9 194.5,1012.9 193.7,1012.9 192.9,1012.9 192.1,1012.9 191.3,1012.8 190.5,1012.7 189.8,1012.6 189.3,1012.5 188.5,1012.3 187.9,1012.2 187.3,1012.0 186.6,1011.8 186.1,1011.6 185.6,1011.4 184.9,1011.0 184.5,1010.8 M184.5,1003.9 184.9,1003.5 185.3,1003.2 185.7,1002.8 186.1,1002.5 186.6,1002.2 187.2,1001.8 187.7,1001.5 188.1,1001.3 188.7,1001.0 189.3,1000.7 189.7,1000.5 190.5,1000.2 190.9,1000.0 191.5,999.8 192.1,999.6 192.7,999.4 193.3,999.2 194.1,999.0 194.5,998.9 195.3,998.7 195.8,998.6 196.5,998.5 197.3,998.3 198.1,998.2 198.5,998.2 199.3,998.1 200.1,998.0 200.9,997.9 201.7,997.9 202.5,997.9 203.3,997.9 204.1,997.9 204.9,998.0 205.7,998.1 206.5,998.2 206.9,998.3 207.7,998.4 208.4,998.6 208.9,998.8 209.6,999.0 210.1,999.2 210.6,999.4 211.3,999.8 211.7,1000.1 212.1,1000.4 212.5,1000.7 212.9,1001.2 213.3,1001.8 213.5,1002.2 213.7,1003.0 213.7,1003.8 213.5,1004.6 213.3,1005.0 212.9,1005.7 212.6,1006.2 212.2,1006.6 211.9,1007.0 211.4,1007.4 210.9,1007.8 210.5,1008.1 210.1,1008.4 209.7,1008.7 209.1,1009.0 208.5,1009.4 208.1,1009.6 207.6,1009.8 206.9,1010.1 206.5,1010.3 205.7,1010.6 205.3,1010.7 204.5,1011.0 204.1,1011.1 203.3,1011.4 202.9,1011.5 202.1,1011.7 201.6,1011.8 200.9,1011.9 200.1,1012.1 199.4,1012.2 198.9,1012.3 198.1,1012.4 197.3,1012.5 196.5,1012.5 195.7,1012.6 194.9,1012.6 194.1,1012.6 193.3,1012.6 192.5,1012.5 191.7,1012.5 190.9,1012.4 190.1,1012.2 189.7,1012.2 188.9,1012.0 188.1,1011.8 187.7,1011.7 186.9,1011.4 186.5,1011.2 186.0,1011.0 185.3,1010.6 184.9,1010.4 184.5,1010.1 M184.5,1004.8 184.9,1004.3 185.3,1003.9 185.7,1003.5 186.1,1003.1 186.5,1002.8 186.9,1002.5 187.4,1002.2 188.1,1001.8 188.5,1001.6 188.9,1001.3 189.6,1001.0 190.1,1000.8 190.5,1000.6 191.3,1000.3 191.7,1000.1 192.5,999.9 192.9,999.7 193.7,999.5 194.1,999.4 194.9,999.2 195.7,999.0 196.1,998.9 196.9,998.8 197.7,998.6 198.1,998.6 198.9,998.5 199.7,998.4 200.5,998.4 201.3,998.3 202.1,998.3 202.9,998.3 203.7,998.3 204.5,998.4 205.3,998.5 206.0,998.6 206.5,998.7 207.3,998.9 207.8,999.0 208.5,999.2 209.1,999.4 209.7,999.7 210.1,999.9 210.7,1000.2 211.2,1000.6 211.7,1001.0 212.0,1001.4 212.3,1001.8 212.5,1002.2 212.8,1003.0 212.8,1003.8 212.6,1004.6 212.5,1005.0 212.1,1005.7 211.7,1006.2 211.4,1006.6 211.0,1007.0 210.6,1007.4 210.1,1007.8 209.7,1008.1 209.3,1008.3 208.9,1008.6 208.2,1009.0 207.7,1009.3 207.3,1009.5 206.6,1009.8 206.1,1010.0 205.6,1010.2 204.9,1010.5 204.5,1010.6 203.7,1010.9 203.2,1011.0 202.5,1011.2 201.7,1011.4 201.3,1011.5 200.5,1011.7 199.7,1011.8 199.3,1011.9 198.5,1012.0 197.7,1012.1 196.9,1012.1 196.1,1012.2 195.7,1012.2 194.9,1012.2 194.1,1012.2 193.3,1012.2 192.9,1012.2 192.1,1012.1 191.3,1012.0 190.5,1011.9 189.9,1011.8 189.3,1011.7 188.5,1011.5 188.1,1011.4 187.3,1011.1 186.9,1010.9 186.3,1010.6 185.7,1010.3 185.3,1010.0 184.9,1009.6 184.5,1009.2 M184.5,1006.2 184.6,1005.8 184.9,1005.3 185.3,1004.7 185.7,1004.2 186.1,1003.8 186.5,1003.4 186.9,1003.1 187.3,1002.8 187.7,1002.5 188.2,1002.2 188.9,1001.8 189.3,1001.6 189.7,1001.4 190.5,1001.0 190.9,1000.9 191.5,1000.6 192.1,1000.4 192.7,1000.2 193.3,1000.0 194.0,999.8 194.5,999.7 195.3,999.5 195.7,999.4 196.5,999.2 197.3,999.1 197.9,999.0 198.5,998.9 199.3,998.8 200.1,998.8 200.9,998.7 201.7,998.7 202.5,998.7 203.3,998.8 204.1,998.8 204.9,998.9 205.6,999.0 206.1,999.1 206.9,999.3 207.4,999.4 208.1,999.6 208.5,999.8 209.3,1000.2 209.7,1000.4 210.1,1000.6 210.6,1001.0 211.0,1001.4 211.4,1001.8 211.7,1002.4 211.9,1003.0 212.0,1003.8 211.8,1004.6 211.7,1005.0 211.3,1005.7 210.9,1006.2 210.6,1006.6 210.2,1007.0 209.7,1007.4 209.3,1007.7 208.9,1008.0 208.5,1008.3 208.0,1008.6 207.3,1009.0 206.9,1009.2 206.5,1009.4 205.7,1009.7 205.3,1009.9 204.5,1010.2 204.1,1010.3 203.3,1010.6 202.9,1010.7 202.1,1010.9 201.7,1011.0 200.9,1011.2 200.1,1011.4 199.7,1011.4 198.9,1011.6 198.1,1011.7 197.3,1011.8 196.8,1011.8 196.1,1011.8 195.3,1011.9 194.5,1011.9 193.7,1011.9 192.9,1011.8 192.5,1011.8 191.7,1011.7 190.9,1011.6 190.1,1011.4 189.7,1011.4 188.9,1011.1 188.4,1011.0 187.7,1010.7 187.3,1010.6 186.6,1010.2 186.1,1009.9 185.7,1009.6 185.3,1009.2 184.9,1008.7 184.6,1008.2 184.5,1007.8 M197.3,1011.4 196.5,1011.5 195.7,1011.5 194.9,1011.5 194.1,1011.5 193.3,1011.5 192.5,1011.4 192.1,1011.4 191.3,1011.3 190.5,1011.1 190.0,1011.0 189.3,1010.8 188.6,1010.6 188.1,1010.4 187.7,1010.2 187.0,1009.8 186.5,1009.5 186.1,1009.1 185.7,1008.7 185.4,1008.2 185.2,1007.8 185.1,1007.0 185.2,1006.2 185.3,1005.8 185.7,1005.1 186.1,1004.6 186.4,1004.2 186.8,1003.8 187.3,1003.4 187.7,1003.1 188.1,1002.8 188.5,1002.5 189.0,1002.2 189.7,1001.8 190.1,1001.6 190.6,1001.4 191.3,1001.1 191.7,1000.9 192.5,1000.7 192.9,1000.5 193.7,1000.3 194.1,1000.2 194.9,999.9 195.5,999.8 196.1,999.7 196.9,999.5 197.7,999.4 198.1,999.3 198.9,999.3 199.7,999.2 200.5,999.1 201.3,999.1 202.1,999.1 202.9,999.1 203.7,999.2 204.5,999.3 205.2,999.4 205.7,999.5 206.5,999.7 206.9,999.8 207.7,1000.1 208.1,1000.2 208.8,1000.6 209.3,1000.9 209.7,1001.2 210.1,1001.5 210.5,1002.0 210.9,1002.6 211.0,1003.0 211.1,1003.8 211.0,1004.6 210.9,1005.0 210.5,1005.7 210.1,1006.2 209.8,1006.6 209.4,1007.0 208.9,1007.4 208.5,1007.7 208.1,1008.0 207.7,1008.2 207.1,1008.6 206.5,1008.9 206.1,1009.1 205.5,1009.4 204.9,1009.6 204.5,1009.8 203.7,1010.1 203.3,1010.2 202.5,1010.5 202.0,1010.6 201.3,1010.8 200.5,1010.9 200.1,1011.0 199.3,1011.2 198.5,1011.3 197.7,1011.4 197.3,1011.4 M197.7,1011.0 196.9,1011.1 196.1,1011.2 195.3,1011.2 194.5,1011.2 193.7,1011.2 192.9,1011.1 192.1,1011.0 191.7,1010.9 190.9,1010.8 190.1,1010.6 189.7,1010.5 188.9,1010.2 188.5,1010.0 188.0,1009.8 187.3,1009.4 186.9,1009.0 186.5,1008.6 186.2,1008.2 186.0,1007.8 185.8,1007.0 185.9,1006.2 186.1,1005.7 186.5,1005.0 186.8,1004.6 187.1,1004.2 187.5,1003.8 188.0,1003.4 188.5,1003.0 188.9,1002.8 189.3,1002.5 189.9,1002.2 190.5,1001.9 190.9,1001.7 191.6,1001.4 192.1,1001.2 192.6,1001.0 193.3,1000.8 193.9,1000.6 194.5,1000.4 195.3,1000.2 195.7,1000.1 196.5,1000.0 197.3,999.8 197.7,999.8 198.5,999.7 199.3,999.6 200.1,999.5 200.9,999.5 201.7,999.5 202.5,999.5 203.3,999.6 204.1,999.7 204.8,999.8 205.3,999.9 206.1,1000.1 206.5,1000.2 207.3,1000.5 207.7,1000.7 208.3,1001.0 208.9,1001.4 209.3,1001.7 209.7,1002.2 210.0,1002.6 210.1,1003.0 210.3,1003.8 210.2,1004.6 210.1,1005.0 209.7,1005.7 209.3,1006.2 209.0,1006.6 208.6,1007.0 208.1,1007.4 207.7,1007.7 207.3,1007.9 206.9,1008.2 206.2,1008.6 205.7,1008.8 205.3,1009.0 204.5,1009.4 204.1,1009.5 203.4,1009.8 202.9,1010.0 202.1,1010.2 201.7,1010.3 200.9,1010.5 200.5,1010.6 199.7,1010.7 198.9,1010.9 198.1,1011.0 197.7,1011.0 M198.1,1010.6 197.3,1010.7 196.5,1010.8 195.7,1010.8 194.9,1010.8 194.1,1010.8 193.3,1010.8 192.5,1010.7 192.0,1010.6 191.3,1010.5 190.5,1010.3 190.1,1010.2 189.3,1009.9 188.9,1009.7 188.3,1009.4 187.8,1009.0 187.3,1008.6 187.0,1008.2 186.8,1007.8 186.5,1007.0 186.6,1006.2 186.9,1005.5 187.2,1005.0 187.5,1004.6 187.8,1004.2 188.3,1003.8 188.8,1003.4 189.3,1003.0 189.7,1002.8 190.1,1002.6 190.8,1002.2 191.3,1001.9 191.7,1001.8 192.5,1001.4 192.9,1001.3 193.7,1001.0 194.1,1000.9 194.9,1000.7 195.3,1000.6 196.1,1000.4 196.9,1000.3 197.3,1000.2 198.1,1000.1 198.9,1000.0 199.7,999.9 200.5,999.9 201.3,999.9 202.1,999.9 202.9,1000.0 203.7,1000.1 204.5,1000.2 204.9,1000.3 205.7,1000.5 206.1,1000.6 206.9,1000.9 207.3,1001.1 207.8,1001.4 208.3,1001.8 208.7,1002.2 209.0,1002.6 209.3,1003.1 209.5,1003.8 209.4,1004.6 209.3,1005.0 208.9,1005.7 208.5,1006.2 208.2,1006.6 207.7,1007.0 207.3,1007.3 206.9,1007.6 206.5,1007.9 206.0,1008.2 205.3,1008.6 204.9,1008.8 204.4,1009.0 203.7,1009.3 203.3,1009.4 202.5,1009.7 202.1,1009.8 201.3,1010.0 200.6,1010.2 200.1,1010.3 199.3,1010.5 198.5,1010.6 198.1,1010.6 M198.5,1010.2 197.7,1010.3 196.9,1010.4 196.1,1010.5 195.3,1010.5 194.5,1010.5 193.7,1010.4 192.9,1010.3 192.1,1010.2 191.7,1010.1 190.9,1009.9 190.4,1009.8 189.7,1009.5 189.3,1009.3 188.7,1009.0 188.2,1008.6 187.8,1008.2 187.6,1007.8 187.3,1007.0 187.3,1006.6 187.3,1006.2 187.6,1005.4 187.9,1005.0 188.2,1004.6 188.6,1004.2 189.0,1003.8 189.6,1003.4 190.1,1003.0 190.5,1002.8 190.9,1002.6 191.7,1002.2 192.1,1002.0 192.6,1001.8 193.3,1001.6 193.8,1001.4 194.5,1001.2 195.2,1001.0 195.7,1000.9 196.5,1000.7 197.1,1000.6 197.7,1000.5 198.5,1000.4 199.3,1000.3 200.1,1000.3 200.9,1000.3 201.7,1000.3 202.5,1000.4 203.3,1000.5 204.1,1000.6 204.5,1000.7 205.3,1000.9 205.7,1001.0 206.5,1001.4 206.9,1001.6 207.3,1001.9 207.7,1002.2 208.1,1002.6 208.5,1003.4 208.6,1003.8 208.6,1004.6 208.5,1005.0 208.1,1005.7 207.7,1006.2 207.4,1006.6 206.9,1007.0 206.5,1007.3 206.1,1007.6 205.7,1007.9 205.1,1008.2 204.5,1008.5 204.1,1008.7 203.3,1009.0 202.9,1009.2 202.2,1009.4 201.7,1009.6 200.9,1009.8 200.5,1009.9 199.7,1010.0 198.9,1010.2 198.5,1010.2 M198.9,1009.8 198.1,1009.9 197.3,1010.0 196.5,1010.1 195.7,1010.1 194.9,1010.1 194.1,1010.1 193.3,1010.0 192.5,1009.9 192.1,1009.8 191.3,1009.6 190.7,1009.4 190.1,1009.1 189.7,1008.9 189.2,1008.6 188.7,1008.2 188.4,1007.8 188.1,1007.1 188.0,1006.6 188.1,1006.1 188.4,1005.4 188.6,1005.0 189.0,1004.6 189.4,1004.2 189.8,1003.8 190.4,1003.4 190.9,1003.1 191.3,1002.9 191.8,1002.6 192.5,1002.3 192.9,1002.1 193.7,1001.8 194.1,1001.7 194.9,1001.5 195.3,1001.4 196.1,1001.2 196.9,1001.0 197.3,1000.9 198.1,1000.8 198.9,1000.8 199.7,1000.7 200.5,1000.7 201.3,1000.7 202.1,1000.8 202.9,1000.9 203.7,1001.0 204.1,1001.1 204.9,1001.3 205.3,1001.5 206.0,1001.8 206.5,1002.1 206.9,1002.4 207.3,1002.9 207.6,1003.4 207.7,1003.8 207.7,1004.6 207.6,1005.0 207.3,1005.7 206.9,1006.2 206.5,1006.6 206.1,1007.0 205.7,1007.3 205.3,1007.5 204.9,1007.8 204.1,1008.2 203.7,1008.4 203.2,1008.6 202.5,1008.9 202.1,1009.0 201.3,1009.3 200.9,1009.4 200.1,1009.6 199.3,1009.7 198.9,1009.8 M198.9,1009.4 198.1,1009.6 197.3,1009.7 196.5,1009.7 195.7,1009.7 194.9,1009.7 194.1,1009.7 193.3,1009.6 192.5,1009.4 192.1,1009.3 191.3,1009.1 190.9,1008.9 190.2,1008.6 189.7,1008.2 189.3,1007.8 189.0,1007.4 188.9,1007.0 188.8,1006.2 189.0,1005.8 189.3,1005.1 189.7,1004.6 190.1,1004.3 190.5,1003.9 190.9,1003.6 191.3,1003.4 192.0,1003.0 192.5,1002.7 192.9,1002.6 193.7,1002.2 194.1,1002.1 194.9,1001.9 195.3,1001.8 196.1,1001.6 196.9,1001.4 197.3,1001.3 198.1,1001.2 198.9,1001.2 199.7,1001.1 200.5,1001.1 201.3,1001.1 202.1,1001.2 202.9,1001.3 203.3,1001.4 204.1,1001.6 204.6,1001.8 205.3,1002.1 205.7,1002.4 206.1,1002.7 206.5,1003.1 206.8,1003.8 206.9,1004.2 206.9,1004.6 206.6,1005.4 206.4,1005.8 206.1,1006.2 205.7,1006.6 205.2,1007.0 204.6,1007.4 204.1,1007.7 203.7,1007.9 203.1,1008.2 202.5,1008.5 202.1,1008.6 201.3,1008.9 200.9,1009.0 200.1,1009.2 199.3,1009.4 198.9,1009.4 M198.9,1009.1 198.1,1009.2 197.3,1009.3 196.5,1009.3 195.7,1009.3 194.9,1009.3 194.1,1009.2 193.3,1009.1 192.7,1009.0 192.1,1008.8 191.5,1008.6 190.9,1008.3 190.5,1008.0 190.1,1007.6 189.7,1007.0 189.6,1006.6 189.7,1006.0 189.9,1005.4 190.2,1005.0 190.6,1004.6 191.0,1004.2 191.5,1003.8 192.1,1003.5 192.5,1003.2 193.0,1003.0 193.7,1002.7 194.1,1002.5 194.9,1002.3 195.3,1002.2 196.1,1002.0 196.9,1001.8 197.3,1001.7 198.1,1001.6 198.9,1001.6 199.7,1001.5 200.5,1001.5 201.3,1001.6 202.1,1001.7 202.7,1001.8 203.3,1002.0 204.0,1002.2 204.5,1002.4 204.9,1002.7 205.3,1003.0 205.7,1003.5 206.0,1004.2 205.9,1005.0 205.7,1005.5 205.3,1006.1 204.9,1006.5 204.5,1006.8 204.1,1007.1 203.6,1007.4 202.9,1007.8 202.5,1008.0 202.0,1008.2 201.3,1008.4 200.8,1008.6 200.1,1008.8 199.3,1009.0 198.9,1009.1 M198.9,1008.6 198.1,1008.8 197.3,1008.9 196.5,1008.9 195.7,1008.9 194.9,1008.9 194.1,1008.8 193.3,1008.6 192.9,1008.5 192.1,1008.2 191.7,1008.0 191.3,1007.7 190.9,1007.4 190.5,1006.6 190.6,1005.8 190.9,1005.2 191.3,1004.8 191.7,1004.4 192.1,1004.1 192.5,1003.8 193.3,1003.4 193.7,1003.2 194.2,1003.0 194.9,1002.7 195.4,1002.6 196.1,1002.4 196.9,1002.2 197.3,1002.2 198.1,1002.1 198.9,1002.0 199.7,1002.0 200.5,1002.0 201.3,1002.1 202.0,1002.2 202.5,1002.3 203.3,1002.6 203.7,1002.8 204.1,1003.0 204.5,1003.4 204.9,1003.9 205.0,1004.6 204.9,1005.2 204.6,1005.8 204.3,1006.2 203.8,1006.6 203.3,1007.0 202.9,1007.2 202.5,1007.4 201.7,1007.8 201.3,1008.0 200.6,1008.2 200.1,1008.3 199.3,1008.5 198.9,1008.6 M198.5,1008.2 197.7,1008.4 196.9,1008.4 196.1,1008.4 195.3,1008.4 194.5,1008.3 193.9,1008.2 193.3,1008.0 192.7,1007.8 192.1,1007.4 191.7,1007.0 191.5,1006.6 191.6,1005.8 191.7,1005.4 192.1,1004.9 192.5,1004.5 193.0,1004.2 193.6,1003.8 194.1,1003.6 194.5,1003.4 195.3,1003.1 195.7,1003.0 196.5,1002.8 197.3,1002.6 197.7,1002.6 198.5,1002.5 199.3,1002.5 200.1,1002.5 200.9,1002.6 201.3,1002.7 202.1,1002.9 202.5,1003.0 203.2,1003.4 203.7,1003.8 203.9,1004.2 204.0,1005.0 203.7,1005.6 203.3,1006.1 202.9,1006.5 202.5,1006.8 202.1,1007.0 201.3,1007.4 200.9,1007.6 200.3,1007.8 199.7,1008.0 198.9,1008.2 198.5,1008.2 M197.7,1007.8 196.9,1007.9 196.1,1007.9 195.3,1007.8 194.9,1007.8 194.1,1007.6 193.6,1007.4 193.0,1007.0 192.7,1006.6 192.6,1005.8 192.9,1005.3 193.3,1004.8 193.7,1004.5 194.2,1004.2 194.9,1003.9 195.3,1003.7 196.1,1003.4 196.5,1003.3 197.3,1003.2 198.1,1003.1 198.9,1003.0 199.7,1003.1 200.5,1003.2 201.3,1003.4 201.7,1003.5 202.2,1003.8 202.6,1004.2 202.8,1005.0 202.5,1005.7 202.1,1006.2 201.7,1006.5 201.3,1006.7 200.8,1007.0 200.1,1007.3 199.7,1007.4 198.9,1007.6 198.1,1007.8 197.7,1007.8 M198.5,1007.1 197.7,1007.2 196.9,1007.2 196.1,1007.2 195.3,1007.1 194.9,1007.0 194.3,1006.6 194.0,1006.2 194.1,1005.5 194.5,1005.0 194.9,1004.7 195.3,1004.5 195.9,1004.2 196.5,1004.0 197.3,1003.8 197.7,1003.8 198.5,1003.7 199.3,1003.8 199.7,1003.8 200.5,1004.1 200.9,1004.3 201.3,1004.7 201.3,1005.4 201.0,1005.8 200.6,1006.2 200.1,1006.5 199.7,1006.7 198.9,1007.0 198.5,1007.1" fill="none" stroke="#1c1ce0" stroke-width="0.65"/>
<path d="M247.5,1016.6 247.2,1016.2 246.8,1015.8 246.5,1015.4 246.1,1014.9 245.7,1014.3 245.4,1013.8 245.1,1013.4 244.8,1013.0 244.5,1012.4 244.1,1011.8 243.9,1011.4 243.7,1011.0 243.3,1010.2 243.1,1009.8 242.9,1009.3 242.6,1008.6 242.4,1008.2 242.1,1007.4 242.0,1007.0 241.7,1006.2 241.6,1005.8 241.3,1005.0 241.2,1004.6 241.0,1003.8 240.9,1003.3 240.7,1002.6 240.6,1001.8 240.5,1001.4 240.4,1000.6 240.3,999.8 240.2,999.0 240.1,998.3 240.1,997.8 240.0,997.0 240.0,996.2 239.9,995.4 239.9,994.6 240.0,993.8 240.0,993.0 240.1,992.2 240.1,991.6 240.2,991.0 240.3,990.2 240.4,989.4 240.5,988.6 240.6,988.2 240.7,987.4 240.9,986.6 241.0,986.2 241.2,985.4 241.3,985.0 241.5,984.2 241.7,983.7 241.9,983.0 242.1,982.5 242.4,981.8 242.5,981.4 242.9,980.6 243.0,980.2 243.3,979.6 243.6,979.0 243.8,978.6 244.1,977.9 244.4,977.4 244.6,977.0 244.9,976.4 245.2,975.8 245.4,975.4 245.7,974.9 246.1,974.2 246.3,973.8 246.5,973.4 246.9,972.6 247.1,972.2 247.3,971.7 247.6,971.0 247.8,970.6 248.0,969.8 248.1,969.4 248.3,968.6 248.4,967.8 248.5,967.0 248.5,966.6 248.5,965.8 248.5,965.4 248.4,964.6 248.4,963.8 248.3,963.0 248.2,962.2 248.1,961.4 248.1,961.0 248.0,960.2 247.9,959.4 247.8,958.6 247.8,957.8 247.7,957.0 247.7,956.2 247.7,955.4 247.7,954.6 247.7,953.8 247.8,953.0 247.8,952.2 247.9,951.4 248.0,950.6 248.1,950.2 248.3,949.4 248.4,948.6 248.5,948.2 248.7,947.4 248.9,946.8 249.1,946.2 249.3,945.6 249.5,945.0 249.7,944.5 250.0,943.8 250.2,943.4 250.5,942.8 250.8,942.2 251.0,941.8 251.3,941.3 251.7,940.7 252.0,940.2 252.3,939.8 252.6,939.4 253.0,939.0 253.3,938.6 253.7,938.2 254.1,937.8 254.5,937.4 254.9,937.0 255.4,936.6 256.0,936.2 256.5,935.8 256.9,935.6 257.3,935.4 258.0,935.0 258.5,934.8 258.9,934.6 259.7,934.3 260.1,934.2 260.9,934.0 261.7,933.9 262.5,933.8 262.9,933.8 263.5,933.8 264.1,933.8 264.9,933.9 265.7,934.1 266.2,934.2 266.9,934.4 267.4,934.6 268.1,934.9 268.5,935.1 269.1,935.4 269.7,935.8 270.1,936.0 270.5,936.3 270.9,936.6 271.4,937.0 271.8,937.4 272.2,937.8 272.6,938.2 273.0,938.6 273.3,939.0 273.7,939.4 274.1,940.0 274.5,940.5 274.8,941.0 275.1,941.4 275.3,941.8 275.7,942.6 275.9,943.0 276.1,943.4 276.5,944.2 276.6,944.6 276.9,945.3 277.1,945.8 277.3,946.5 277.5,947.0 277.7,947.8 277.8,948.2 278.0,949.0 278.1,949.8 278.2,950.2 278.3,951.0 278.4,951.8 278.4,952.6 278.5,953.4 278.5,954.2 278.5,955.0 278.5,955.8 278.4,956.6 278.4,957.4 278.3,958.2 278.2,959.0 278.1,959.4 278.0,960.2 277.8,961.0 277.7,961.5 277.5,962.2 277.3,963.0 277.2,963.4 277.0,964.2 276.9,964.6 276.7,965.4 276.5,966.0 276.3,966.6 276.1,967.4 276.0,967.8 275.8,968.6 275.7,969.1 275.6,969.8 275.5,970.6 275.5,971.4 275.5,972.2 275.6,973.0 275.7,973.4 275.9,974.2 276.1,975.0 276.2,975.4 276.5,976.2 276.6,976.6 276.9,977.4 277.1,977.8 277.3,978.4 277.5,979.0 277.7,979.5 277.9,980.2 278.1,980.7 278.3,981.4 278.5,981.9 278.7,982.6 278.9,983.2 279.1,983.8 279.3,984.6 279.4,985.0 279.6,985.8 279.7,986.3 279.8,987.0 280.0,987.8 280.1,988.4 280.2,989.0 280.3,989.8 280.4,990.6 280.5,991.4 280.5,991.8 280.6,992.6 280.6,993.4 280.6,994.2 280.6,995.0 280.6,995.8 280.6,996.6 280.6,997.4 280.5,998.2 280.5,998.6 280.4,999.4 280.3,1000.2 280.2,1001.0 280.1,1001.5 280.0,1002.2 279.8,1003.0 279.7,1003.5 279.6,1004.2 279.3,1005.0 279.2,1005.4 279.0,1006.2 278.9,1006.6 278.6,1007.4 278.5,1007.8 278.2,1008.6 278.0,1009.0 277.7,1009.8 277.5,1010.2 277.3,1010.7 276.9,1011.4 276.7,1011.8 276.5,1012.2 276.1,1013.0 275.8,1013.4 275.6,1013.8 275.3,1014.3 274.9,1014.8 274.5,1015.4 274.2,1015.8 273.9,1016.2 273.6,1016.6 M255.7,1016.6 255.3,1016.4 254.9,1016.1 254.4,1015.8 253.8,1015.4 253.3,1015.0 252.9,1014.7 252.5,1014.4 252.1,1014.0 251.7,1013.6 251.3,1013.2 250.9,1012.7 250.5,1012.3 250.1,1011.8 249.8,1011.4 249.5,1011.0 249.3,1010.6 248.9,1010.0 248.5,1009.4 248.3,1009.0 248.1,1008.6 247.7,1007.9 247.4,1007.4 247.3,1007.0 246.9,1006.2 246.8,1005.8 246.5,1005.1 246.3,1004.6 246.1,1003.9 245.9,1003.4 245.7,1002.6 245.6,1002.2 245.4,1001.4 245.3,1000.7 245.2,1000.2 245.1,999.4 245.0,998.6 244.9,997.9 244.9,997.4 244.8,996.6 244.8,995.8 244.8,995.0 244.8,994.2 244.8,993.4 244.9,992.6 244.9,992.1 245.0,991.4 245.1,990.6 245.2,989.8 245.3,989.3 245.4,988.6 245.6,987.8 245.7,987.4 245.9,986.6 246.1,986.0 246.3,985.4 246.5,984.8 246.7,984.2 246.9,983.8 247.2,983.0 247.4,982.6 247.7,981.9 248.0,981.4 248.2,981.0 248.5,980.4 248.8,979.8 249.1,979.4 249.3,979.0 249.7,978.4 250.1,977.8 250.3,977.4 250.6,977.0 250.9,976.6 251.3,976.1 251.7,975.5 252.1,975.0 252.4,974.6 252.7,974.2 253.0,973.8 253.3,973.4 253.7,972.8 254.1,972.2 254.3,971.8 254.5,971.4 254.8,970.6 254.9,970.1 255.0,969.4 254.9,968.8 254.8,968.2 254.6,967.4 254.4,967.0 254.1,966.2 254.0,965.8 253.7,965.1 253.5,964.6 253.3,964.1 253.1,963.4 252.9,963.0 252.6,962.2 252.5,961.8 252.3,961.0 252.1,960.4 252.0,959.8 251.8,959.0 251.7,958.5 251.6,957.8 251.5,957.0 251.4,956.2 251.3,955.4 251.3,954.6 251.3,953.8 251.4,953.0 251.4,952.2 251.5,951.4 251.6,950.6 251.7,950.2 251.9,949.4 252.1,948.6 252.2,948.2 252.5,947.4 252.6,947.0 252.9,946.3 253.1,945.8 253.3,945.4 253.7,944.6 253.9,944.2 254.2,943.8 254.5,943.3 254.9,942.8 255.3,942.3 255.7,941.8 256.1,941.4 256.5,941.0 256.9,940.7 257.3,940.4 257.7,940.1 258.1,939.8 258.8,939.4 259.3,939.1 259.7,939.0 260.5,938.7 260.9,938.6 261.7,938.4 262.5,938.3 263.3,938.2 264.1,938.3 264.9,938.4 265.7,938.6 266.1,938.7 266.9,939.0 267.3,939.2 267.7,939.4 268.4,939.8 268.9,940.1 269.3,940.4 269.7,940.7 270.1,941.1 270.5,941.5 270.9,941.9 271.3,942.4 271.7,942.9 272.1,943.4 272.3,943.8 272.6,944.2 272.9,944.8 273.2,945.4 273.4,945.8 273.7,946.4 273.9,947.0 274.1,947.5 274.3,948.2 274.5,948.8 274.6,949.4 274.8,950.2 274.9,950.8 275.0,951.4 275.1,952.2 275.1,953.0 275.2,953.8 275.2,954.6 275.1,955.4 275.1,956.2 275.0,957.0 274.9,957.4 274.8,958.2 274.6,959.0 274.5,959.4 274.3,960.2 274.1,960.8 273.9,961.4 273.7,961.9 273.4,962.6 273.2,963.0 272.9,963.8 272.7,964.2 272.5,964.6 272.1,965.3 271.8,965.8 271.6,966.2 271.3,966.7 270.9,967.4 270.6,967.8 270.4,968.2 270.1,968.8 269.8,969.4 269.7,969.8 269.5,970.6 269.5,971.4 269.6,972.2 269.7,972.6 270.0,973.4 270.2,973.8 270.5,974.3 270.9,975.0 271.1,975.4 271.4,975.8 271.7,976.4 272.1,977.0 272.3,977.4 272.6,977.8 272.9,978.4 273.2,979.0 273.4,979.4 273.7,979.9 274.0,980.6 274.2,981.0 274.5,981.6 274.8,982.2 274.9,982.6 275.2,983.4 275.4,983.8 275.7,984.6 275.8,985.0 276.0,985.8 276.2,986.2 276.4,987.0 276.5,987.6 276.6,988.2 276.8,989.0 276.9,989.6 277.0,990.2 277.1,991.0 277.2,991.8 277.2,992.6 277.3,993.4 277.3,993.8 277.3,994.6 277.3,995.4 277.3,996.2 277.3,996.6 277.2,997.4 277.2,998.2 277.1,999.0 277.0,999.8 276.9,1000.3 276.8,1001.0 276.6,1001.8 276.5,1002.3 276.3,1003.0 276.1,1003.8 276.0,1004.2 275.8,1005.0 275.6,1005.4 275.3,1006.2 275.2,1006.6 274.9,1007.2 274.7,1007.8 274.5,1008.2 274.1,1008.9 273.9,1009.4 273.6,1009.8 273.3,1010.3 272.9,1011.0 272.6,1011.4 272.3,1011.8 272.0,1012.2 271.7,1012.6 271.3,1013.1 270.9,1013.5 270.5,1013.9 270.1,1014.3 269.7,1014.7 269.3,1015.0 268.8,1015.4 268.3,1015.8 267.7,1016.2 267.3,1016.4 266.9,1016.6 M263.3,967.8 262.5,967.8 262.1,967.8 261.3,967.6 260.9,967.4 260.1,967.0 259.7,966.8 259.3,966.5 258.9,966.2 258.5,965.8 258.1,965.4 257.7,965.0 257.3,964.5 256.9,964.0 256.5,963.5 256.2,963.0 255.9,962.6 255.7,962.2 255.3,961.4 255.1,961.0 254.9,960.5 254.6,959.8 254.5,959.4 254.2,958.6 254.1,958.0 254.0,957.4 253.8,956.6 253.7,955.8 253.7,955.4 253.6,954.6 253.6,953.8 253.7,953.0 253.7,952.4 253.8,951.8 253.9,951.0 254.1,950.2 254.1,949.8 254.4,949.0 254.5,948.6 254.8,947.8 255.0,947.4 255.3,946.7 255.6,946.2 255.8,945.8 256.1,945.4 256.5,944.8 256.9,944.3 257.3,943.9 257.7,943.5 258.1,943.1 258.5,942.8 258.9,942.5 259.4,942.2 260.1,941.9 260.5,941.7 261.3,941.4 261.7,941.3 262.5,941.2 263.3,941.1 264.1,941.2 264.9,941.3 265.3,941.4 266.1,941.7 266.5,941.8 267.2,942.2 267.7,942.5 268.1,942.8 268.5,943.1 268.9,943.5 269.3,943.9 269.7,944.3 270.1,944.8 270.5,945.4 270.8,945.8 271.0,946.2 271.3,946.7 271.6,947.4 271.8,947.8 272.1,948.6 272.2,949.0 272.5,949.8 272.6,950.2 272.7,951.0 272.8,951.8 272.9,952.5 272.9,953.0 273.0,953.8 272.9,954.6 272.9,955.3 272.8,955.8 272.7,956.6 272.6,957.4 272.5,957.8 272.3,958.6 272.1,959.2 271.9,959.8 271.7,960.3 271.4,961.0 271.2,961.4 270.9,961.9 270.5,962.6 270.2,963.0 269.9,963.4 269.6,963.8 269.3,964.2 268.9,964.6 268.5,965.1 268.1,965.4 267.7,965.8 267.1,966.2 266.6,966.6 266.1,966.9 265.7,967.1 265.0,967.4 264.5,967.6 263.7,967.8 263.3,967.8 M262.1,1014.6 261.3,1014.6 260.9,1014.6 260.1,1014.5 259.3,1014.3 258.9,1014.2 258.1,1013.9 257.7,1013.8 256.9,1013.4 256.5,1013.2 256.1,1012.9 255.6,1012.6 255.1,1012.2 254.6,1011.8 254.2,1011.4 253.7,1011.0 253.4,1010.6 253.0,1010.2 252.7,1009.8 252.3,1009.4 252.1,1009.0 251.7,1008.5 251.3,1007.9 251.0,1007.4 250.8,1007.0 250.5,1006.5 250.2,1005.8 250.0,1005.4 249.7,1004.7 249.5,1004.2 249.3,1003.7 249.1,1003.0 248.9,1002.4 248.7,1001.8 248.5,1001.0 248.4,1000.6 248.3,999.8 248.1,999.0 248.1,998.6 248.0,997.8 247.9,997.0 247.9,996.2 247.8,995.4 247.8,994.6 247.9,993.8 247.9,993.0 248.0,992.2 248.1,991.4 248.1,991.0 248.3,990.2 248.4,989.4 248.5,989.0 248.7,988.2 248.9,987.5 249.1,987.0 249.3,986.3 249.5,985.8 249.7,985.2 250.0,984.6 250.1,984.2 250.5,983.4 250.7,983.0 250.9,982.6 251.3,982.0 251.7,981.4 251.9,981.0 252.2,980.6 252.5,980.2 252.9,979.6 253.3,979.2 253.7,978.7 254.1,978.3 254.5,977.9 254.9,977.5 255.3,977.1 255.7,976.8 256.1,976.4 256.5,976.1 257.0,975.8 257.6,975.4 258.1,975.1 258.5,974.9 259.2,974.6 259.7,974.4 260.3,974.2 260.9,974.1 261.7,974.0 262.5,974.0 263.3,974.1 263.7,974.3 264.5,974.6 264.9,974.8 265.3,975.0 266.0,975.4 266.5,975.8 266.9,976.1 267.3,976.4 267.7,976.7 268.1,977.1 268.5,977.5 268.9,977.9 269.3,978.3 269.7,978.8 270.1,979.3 270.5,979.8 270.8,980.2 271.0,980.6 271.3,981.0 271.7,981.7 272.0,982.2 272.2,982.6 272.5,983.2 272.8,983.8 273.0,984.2 273.3,985.0 273.4,985.4 273.7,986.1 273.9,986.6 274.1,987.4 274.2,987.8 274.4,988.6 274.5,989.0 274.7,989.8 274.8,990.6 274.9,991.4 274.9,991.8 275.0,992.6 275.1,993.4 275.1,994.2 275.1,995.0 275.1,995.8 275.1,996.6 275.0,997.4 274.9,998.2 274.9,998.6 274.8,999.4 274.6,1000.2 274.5,1000.9 274.4,1001.4 274.2,1002.2 274.1,1002.6 273.8,1003.4 273.7,1003.8 273.4,1004.6 273.3,1005.0 272.9,1005.8 272.7,1006.2 272.5,1006.7 272.1,1007.4 271.9,1007.8 271.6,1008.2 271.3,1008.7 270.9,1009.3 270.5,1009.8 270.2,1010.2 269.8,1010.6 269.5,1011.0 269.1,1011.4 268.6,1011.8 268.2,1012.2 267.7,1012.6 267.3,1012.8 266.9,1013.1 266.4,1013.4 265.7,1013.7 265.3,1013.9 264.5,1014.2 264.1,1014.3 263.3,1014.5 262.5,1014.6 262.1,1014.6 M264.5,966.3 263.7,966.4 262.9,966.4 262.1,966.4 261.5,966.2 260.9,966.0 260.5,965.8 259.8,965.4 259.3,965.1 258.9,964.8 258.5,964.4 258.1,964.0 257.7,963.6 257.3,963.1 256.9,962.6 256.6,962.2 256.4,961.8 256.1,961.3 255.7,960.6 255.6,960.2 255.3,959.5 255.1,959.0 254.9,958.3 254.8,957.8 254.6,957.0 254.5,956.6 254.4,955.8 254.3,955.0 254.3,954.2 254.3,953.4 254.3,952.6 254.4,951.8 254.5,951.3 254.6,950.6 254.8,949.8 254.9,949.4 255.2,948.6 255.4,948.2 255.7,947.5 255.9,947.0 256.2,946.6 256.5,946.1 256.9,945.5 257.3,945.0 257.6,944.6 258.0,944.2 258.5,943.8 258.9,943.5 259.3,943.2 259.7,943.0 260.4,942.6 260.9,942.4 261.5,942.2 262.1,942.1 262.9,942.0 263.7,942.0 264.5,942.1 265.1,942.2 265.7,942.4 266.3,942.6 266.9,942.9 267.3,943.2 267.7,943.4 268.1,943.8 268.6,944.2 269.0,944.6 269.4,945.0 269.7,945.4 270.1,946.0 270.5,946.6 270.7,947.0 270.9,947.4 271.3,948.2 271.4,948.6 271.7,949.4 271.8,949.8 272.0,950.6 272.1,951.2 272.2,951.8 272.3,952.6 272.3,953.4 272.3,954.2 272.3,955.0 272.2,955.8 272.1,956.5 272.0,957.0 271.8,957.8 271.7,958.2 271.5,959.0 271.3,959.4 271.0,960.2 270.8,960.6 270.5,961.1 270.1,961.8 269.8,962.2 269.5,962.6 269.2,963.0 268.9,963.4 268.5,963.8 268.1,964.2 267.7,964.6 267.1,965.0 266.5,965.4 266.1,965.6 265.7,965.8 264.9,966.1 264.5,966.3 M263.7,1013.4 262.9,1013.6 262.1,1013.6 261.3,1013.6 260.5,1013.6 259.7,1013.4 259.3,1013.3 258.5,1013.1 258.1,1012.9 257.5,1012.6 256.9,1012.3 256.5,1012.1 256.1,1011.8 255.6,1011.4 255.1,1011.0 254.6,1010.6 254.2,1010.2 253.8,1009.8 253.5,1009.4 253.2,1009.0 252.8,1008.6 252.5,1008.1 252.1,1007.5 251.8,1007.0 251.5,1006.6 251.3,1006.2 250.9,1005.4 250.7,1005.0 250.5,1004.5 250.2,1003.8 250.1,1003.4 249.8,1002.6 249.7,1002.2 249.5,1001.4 249.3,1000.7 249.2,1000.2 249.0,999.4 248.9,998.6 248.9,998.2 248.8,997.4 248.7,996.6 248.7,995.8 248.7,995.0 248.7,994.2 248.7,993.4 248.8,992.6 248.9,991.8 248.9,991.4 249.0,990.6 249.2,989.8 249.3,989.3 249.5,988.6 249.7,987.8 249.8,987.4 250.1,986.6 250.2,986.2 250.5,985.5 250.7,985.0 250.9,984.6 251.3,983.8 251.5,983.4 251.7,983.0 252.1,982.3 252.4,981.8 252.7,981.4 253.0,981.0 253.3,980.6 253.7,980.1 254.1,979.7 254.5,979.2 254.9,978.8 255.3,978.5 255.7,978.1 256.1,977.8 256.6,977.4 257.2,977.0 257.7,976.7 258.1,976.5 258.7,976.2 259.3,975.9 259.7,975.8 260.5,975.6 261.3,975.5 262.1,975.5 262.9,975.6 263.7,975.7 264.1,975.9 264.9,976.2 265.3,976.4 265.7,976.6 266.4,977.0 266.9,977.4 267.3,977.7 267.7,978.0 268.1,978.4 268.5,978.8 268.9,979.2 269.3,979.6 269.7,980.1 270.1,980.6 270.4,981.0 270.6,981.4 270.9,981.8 271.3,982.5 271.6,983.0 271.8,983.4 272.1,984.0 272.4,984.6 272.6,985.0 272.9,985.8 273.0,986.2 273.3,987.0 273.4,987.4 273.6,988.2 273.7,988.6 273.9,989.4 274.1,990.2 274.1,990.6 274.3,991.4 274.4,992.2 274.4,993.0 274.5,993.8 274.5,994.6 274.5,995.4 274.5,996.2 274.4,997.0 274.4,997.8 274.3,998.6 274.1,999.4 274.1,999.8 273.9,1000.6 273.7,1001.4 273.6,1001.8 273.4,1002.6 273.3,1003.0 273.0,1003.8 272.8,1004.2 272.5,1005.0 272.3,1005.4 272.1,1005.9 271.7,1006.6 271.5,1007.0 271.3,1007.4 270.9,1008.0 270.5,1008.6 270.2,1009.0 269.9,1009.4 269.5,1009.8 269.1,1010.2 268.7,1010.6 268.3,1011.0 267.8,1011.4 267.3,1011.8 266.9,1012.1 266.5,1012.3 266.0,1012.6 265.3,1012.9 264.9,1013.1 264.1,1013.3 263.7,1013.4 M264.5,964.6 263.7,964.7 262.9,964.8 262.1,964.7 261.7,964.6 260.9,964.3 260.5,964.1 260.0,963.8 259.4,963.4 258.9,963.0 258.5,962.6 258.2,962.2 257.8,961.8 257.5,961.4 257.3,961.0 256.9,960.4 256.6,959.8 256.4,959.4 256.1,958.6 255.9,958.2 255.7,957.4 255.6,957.0 255.5,956.2 255.3,955.4 255.3,954.9 255.3,954.2 255.3,953.4 255.3,952.8 255.4,952.2 255.5,951.4 255.6,950.6 255.7,950.2 256.0,949.4 256.1,949.0 256.5,948.2 256.7,947.8 256.9,947.4 257.3,946.8 257.7,946.2 258.0,945.8 258.4,945.4 258.8,945.0 259.3,944.6 259.7,944.3 260.1,944.1 260.6,943.8 261.3,943.5 261.7,943.4 262.5,943.2 263.3,943.2 264.1,943.2 264.9,943.4 265.3,943.5 266.0,943.8 266.5,944.0 266.9,944.3 267.3,944.6 267.8,945.0 268.3,945.4 268.6,945.8 269.0,946.2 269.3,946.7 269.7,947.3 270.0,947.8 270.2,948.2 270.5,949.0 270.7,949.4 270.9,950.2 271.0,950.6 271.2,951.4 271.3,952.2 271.3,952.6 271.4,953.4 271.4,954.2 271.3,955.0 271.3,955.4 271.2,956.2 271.0,957.0 270.9,957.4 270.7,958.2 270.5,958.6 270.2,959.4 270.0,959.8 269.7,960.3 269.3,961.0 269.0,961.4 268.7,961.8 268.4,962.2 268.0,962.6 267.5,963.0 267.0,963.4 266.5,963.8 266.1,964.0 265.7,964.2 264.9,964.5 264.5,964.6 M262.1,1012.2 261.3,1012.2 260.9,1012.2 260.1,1012.0 259.3,1011.8 258.9,1011.7 258.2,1011.4 257.7,1011.2 257.3,1010.9 256.8,1010.6 256.2,1010.2 255.7,1009.8 255.3,1009.4 254.9,1009.0 254.5,1008.6 254.2,1008.2 253.8,1007.8 253.5,1007.4 253.3,1007.0 252.9,1006.5 252.5,1005.8 252.3,1005.4 252.1,1005.0 251.7,1004.2 251.5,1003.8 251.3,1003.2 251.1,1002.6 250.9,1002.1 250.7,1001.4 250.5,1000.6 250.4,1000.2 250.2,999.4 250.1,998.6 250.0,998.2 249.9,997.4 249.9,996.6 249.8,995.8 249.8,995.0 249.8,994.2 249.9,993.4 249.9,992.6 250.0,991.8 250.1,991.4 250.2,990.6 250.4,989.8 250.5,989.3 250.7,988.6 250.9,987.9 251.1,987.4 251.3,986.8 251.5,986.2 251.7,985.8 252.1,985.0 252.3,984.6 252.5,984.1 252.9,983.5 253.2,983.0 253.5,982.6 253.7,982.2 254.1,981.7 254.5,981.2 254.9,980.8 255.3,980.4 255.7,980.0 256.1,979.6 256.5,979.3 256.9,979.0 257.5,978.6 258.1,978.3 258.5,978.1 259.2,977.8 259.7,977.6 260.5,977.4 260.9,977.3 261.7,977.3 262.5,977.3 263.1,977.4 263.7,977.5 264.5,977.8 264.9,977.9 265.4,978.2 266.1,978.6 266.5,978.8 266.9,979.1 267.3,979.5 267.7,979.8 268.1,980.2 268.5,980.6 268.9,981.0 269.3,981.5 269.7,982.0 270.1,982.6 270.3,983.0 270.6,983.4 270.9,983.9 271.2,984.6 271.4,985.0 271.7,985.6 272.0,986.2 272.1,986.6 272.4,987.4 272.5,987.8 272.7,988.6 272.9,989.2 273.0,989.8 273.2,990.6 273.3,991.3 273.4,991.8 273.5,992.6 273.5,993.4 273.6,994.2 273.6,995.0 273.6,995.8 273.5,996.6 273.5,997.4 273.4,998.2 273.3,998.7 273.2,999.4 273.0,1000.2 272.9,1000.7 272.7,1001.4 272.5,1002.2 272.4,1002.6 272.1,1003.4 271.9,1003.8 271.7,1004.3 271.4,1005.0 271.2,1005.4 270.9,1005.9 270.5,1006.6 270.3,1007.0 270.0,1007.4 269.7,1007.8 269.3,1008.3 268.9,1008.8 268.5,1009.2 268.1,1009.6 267.7,1009.9 267.3,1010.2 266.8,1010.6 266.2,1011.0 265.7,1011.3 265.3,1011.5 264.5,1011.8 264.1,1011.9 263.3,1012.1 262.5,1012.2 262.1,1012.2 M264.1,963.4 263.3,963.5 262.5,963.4 262.1,963.4 261.3,963.1 260.9,962.9 260.3,962.6 259.7,962.2 259.3,961.8 258.9,961.4 258.5,961.0 258.2,960.6 257.9,960.2 257.7,959.8 257.3,959.1 257.1,958.6 256.9,958.2 256.6,957.4 256.5,956.9 256.3,956.2 256.2,955.4 256.1,954.6 256.1,953.8 256.1,953.0 256.2,952.2 256.3,951.4 256.5,950.7 256.6,950.2 256.9,949.4 257.1,949.0 257.3,948.5 257.7,947.8 258.0,947.4 258.3,947.0 258.6,946.6 259.0,946.2 259.4,945.8 259.9,945.4 260.5,945.0 260.9,944.8 261.4,944.6 262.1,944.4 262.9,944.3 263.7,944.3 264.5,944.4 265.3,944.6 265.7,944.8 266.1,945.0 266.8,945.4 267.3,945.8 267.7,946.2 268.1,946.6 268.4,947.0 268.7,947.4 269.0,947.8 269.3,948.4 269.6,949.0 269.8,949.4 270.0,950.2 270.2,950.6 270.3,951.4 270.5,952.2 270.5,952.6 270.6,953.4 270.6,954.2 270.5,955.0 270.5,955.4 270.3,956.2 270.1,957.0 270.0,957.4 269.7,958.2 269.6,958.6 269.3,959.2 268.9,959.8 268.7,960.2 268.4,960.6 268.1,961.0 267.7,961.4 267.3,961.8 266.8,962.2 266.2,962.6 265.7,962.9 265.3,963.1 264.5,963.3 264.1,963.4 M262.1,1011.0 261.3,1011.0 260.9,1011.0 260.1,1010.8 259.4,1010.6 258.9,1010.4 258.4,1010.2 257.7,1009.8 257.3,1009.6 256.9,1009.3 256.5,1009.0 256.0,1008.6 255.6,1008.2 255.2,1007.8 254.9,1007.4 254.5,1006.9 254.1,1006.4 253.7,1005.8 253.5,1005.4 253.2,1005.0 252.9,1004.4 252.6,1003.8 252.5,1003.4 252.1,1002.6 252.0,1002.2 251.7,1001.4 251.6,1001.0 251.4,1000.2 251.3,999.8 251.1,999.0 251.0,998.2 250.9,997.4 250.9,997.0 250.8,996.2 250.8,995.4 250.8,994.6 250.8,993.8 250.9,993.0 250.9,992.6 251.0,991.8 251.1,991.0 251.3,990.2 251.4,989.8 251.6,989.0 251.7,988.6 252.0,987.8 252.1,987.4 252.4,986.6 252.6,986.2 252.9,985.6 253.2,985.0 253.4,984.6 253.7,984.1 254.1,983.5 254.5,983.0 254.8,982.6 255.1,982.2 255.5,981.8 255.9,981.4 256.3,981.0 256.8,980.6 257.3,980.2 257.7,980.0 258.1,979.7 258.7,979.4 259.3,979.2 259.7,979.0 260.5,978.8 261.3,978.7 262.1,978.7 262.9,978.7 263.7,978.9 264.1,979.0 264.9,979.3 265.3,979.5 265.8,979.8 266.4,980.2 266.9,980.6 267.3,980.9 267.7,981.3 268.1,981.7 268.5,982.1 268.9,982.6 269.2,983.0 269.5,983.4 269.8,983.8 270.1,984.4 270.4,985.0 270.7,985.4 270.9,985.9 271.2,986.6 271.4,987.0 271.6,987.8 271.8,988.2 272.0,989.0 272.1,989.4 272.3,990.2 272.4,991.0 272.5,991.4 272.6,992.2 272.7,993.0 272.8,993.8 272.8,994.6 272.8,995.4 272.8,996.2 272.7,997.0 272.6,997.8 272.5,998.6 272.4,999.0 272.3,999.8 272.1,1000.6 272.0,1001.0 271.8,1001.8 271.6,1002.2 271.3,1003.0 271.2,1003.4 270.9,1004.0 270.6,1004.6 270.4,1005.0 270.1,1005.5 269.7,1006.2 269.4,1006.6 269.1,1007.0 268.8,1007.4 268.4,1007.8 268.1,1008.2 267.7,1008.6 267.2,1009.0 266.7,1009.4 266.1,1009.8 265.7,1010.0 265.3,1010.2 264.5,1010.6 264.1,1010.7 263.3,1010.9 262.5,1011.0 262.1,1011.0 M264.5,962.2 263.7,962.4 262.9,962.4 262.1,962.2 261.7,962.1 261.0,961.8 260.5,961.5 260.1,961.2 259.7,960.9 259.3,960.5 258.9,960.0 258.5,959.5 258.2,959.0 258.0,958.6 257.7,958.0 257.5,957.4 257.3,956.9 257.1,956.2 257.0,955.4 256.9,954.7 256.9,954.2 256.9,953.4 256.9,952.9 257.0,952.2 257.1,951.4 257.3,950.7 257.5,950.2 257.7,949.6 258.0,949.0 258.2,948.6 258.5,948.1 258.9,947.5 259.3,947.1 259.7,946.7 260.1,946.4 260.5,946.1 261.0,945.8 261.7,945.5 262.1,945.4 262.9,945.3 263.7,945.2 264.5,945.4 264.9,945.5 265.7,945.8 266.1,946.0 266.5,946.3 266.9,946.6 267.3,947.0 267.7,947.4 268.1,948.0 268.5,948.6 268.7,949.0 268.9,949.4 269.2,950.2 269.4,950.6 269.6,951.4 269.7,952.2 269.8,952.6 269.8,953.4 269.8,954.2 269.7,955.0 269.7,955.4 269.5,956.2 269.3,957.0 269.2,957.4 268.9,958.1 268.7,958.6 268.4,959.0 268.1,959.5 267.7,960.1 267.3,960.5 266.9,960.9 266.5,961.2 266.1,961.5 265.6,961.8 264.9,962.1 264.5,962.2 M263.3,1009.8 262.5,1009.9 261.7,1010.0 260.9,1009.9 260.4,1009.8 259.7,1009.6 259.1,1009.4 258.5,1009.1 258.1,1008.9 257.6,1008.6 257.1,1008.2 256.6,1007.8 256.2,1007.4 255.8,1007.0 255.4,1006.6 255.1,1006.2 254.8,1005.8 254.5,1005.4 254.1,1004.7 253.8,1004.2 253.6,1003.8 253.3,1003.2 253.0,1002.6 252.9,1002.2 252.6,1001.4 252.5,1001.0 252.3,1000.2 252.1,999.6 252.0,999.0 251.8,998.2 251.7,997.4 251.7,997.0 251.6,996.2 251.6,995.4 251.6,994.6 251.6,993.8 251.7,993.0 251.7,992.6 251.8,991.8 252.0,991.0 252.1,990.4 252.2,989.8 252.5,989.0 252.6,988.6 252.9,987.8 253.0,987.4 253.3,986.8 253.6,986.2 253.8,985.8 254.1,985.2 254.5,984.6 254.8,984.2 255.0,983.8 255.4,983.4 255.7,983.0 256.1,982.6 256.5,982.2 256.9,981.8 257.4,981.4 258.0,981.0 258.5,980.7 258.9,980.5 259.7,980.2 260.1,980.1 260.9,979.9 261.7,979.8 262.5,979.8 263.3,980.0 264.1,980.2 264.5,980.3 265.1,980.6 265.7,980.9 266.1,981.2 266.5,981.5 266.9,981.8 267.3,982.2 267.7,982.6 268.1,983.0 268.5,983.5 268.9,984.0 269.3,984.6 269.5,985.0 269.8,985.4 270.1,986.0 270.4,986.6 270.5,987.0 270.9,987.8 271.0,988.2 271.3,989.0 271.4,989.4 271.6,990.2 271.7,990.9 271.8,991.4 271.9,992.2 272.0,993.0 272.1,993.8 272.1,994.6 272.1,995.4 272.1,996.2 272.0,997.0 271.9,997.8 271.8,998.6 271.7,999.1 271.6,999.8 271.4,1000.6 271.2,1001.0 271.0,1001.8 270.8,1002.2 270.5,1003.0 270.3,1003.4 270.1,1003.9 269.7,1004.6 269.5,1005.0 269.2,1005.4 268.9,1005.9 268.5,1006.4 268.1,1006.9 267.7,1007.3 267.3,1007.7 266.9,1008.1 266.5,1008.4 266.1,1008.6 265.5,1009.0 264.9,1009.3 264.5,1009.5 263.7,1009.7 263.3,1009.8 M264.9,961.1 264.1,961.3 263.3,961.4 262.5,961.3 261.7,961.1 261.3,960.9 260.8,960.6 260.3,960.2 259.8,959.8 259.5,959.4 259.2,959.0 258.9,958.6 258.5,957.9 258.3,957.4 258.1,956.9 257.9,956.2 257.7,955.4 257.7,955.0 257.6,954.2 257.6,953.4 257.6,952.6 257.7,952.2 257.9,951.4 258.1,950.6 258.2,950.2 258.5,949.6 258.8,949.0 259.1,948.6 259.4,948.2 259.8,947.8 260.2,947.4 260.7,947.0 261.3,946.6 261.7,946.5 262.5,946.2 262.9,946.2 263.7,946.2 264.1,946.2 264.9,946.4 265.3,946.6 266.0,947.0 266.5,947.4 266.9,947.8 267.3,948.2 267.6,948.6 267.9,949.0 268.1,949.4 268.5,950.2 268.6,950.6 268.8,951.4 268.9,951.8 269.0,952.6 269.1,953.4 269.1,954.2 269.0,955.0 268.9,955.7 268.8,956.2 268.5,957.0 268.4,957.4 268.1,958.0 267.8,958.6 267.5,959.0 267.2,959.4 266.8,959.8 266.4,960.2 265.8,960.6 265.3,960.9 264.9,961.1 M262.1,1009.0 261.7,1009.0 260.9,1008.9 260.1,1008.7 259.7,1008.6 258.9,1008.3 258.5,1008.1 258.1,1007.8 257.5,1007.4 257.0,1007.0 256.6,1006.6 256.2,1006.2 255.8,1005.8 255.5,1005.4 255.2,1005.0 254.9,1004.5 254.5,1003.8 254.3,1003.4 254.1,1003.0 253.7,1002.2 253.5,1001.8 253.3,1001.1 253.1,1000.6 252.9,999.8 252.8,999.4 252.7,998.6 252.5,997.8 252.5,997.4 252.4,996.6 252.3,995.8 252.3,995.0 252.3,994.2 252.4,993.4 252.5,992.6 252.5,992.2 252.6,991.4 252.8,990.6 252.9,990.2 253.1,989.4 253.3,988.9 253.5,988.2 253.7,987.8 254.0,987.0 254.2,986.6 254.5,986.1 254.9,985.4 255.2,985.0 255.5,984.6 255.8,984.2 256.1,983.8 256.5,983.4 256.9,983.0 257.4,982.6 257.9,982.2 258.5,981.8 258.9,981.6 259.3,981.4 260.1,981.1 260.5,981.0 261.3,980.9 262.1,980.8 262.9,980.9 263.4,981.0 264.1,981.2 264.6,981.4 265.3,981.7 265.7,982.0 266.1,982.3 266.5,982.6 267.0,983.0 267.4,983.4 267.8,983.8 268.1,984.2 268.5,984.8 268.9,985.4 269.2,985.8 269.4,986.2 269.7,986.8 270.0,987.4 270.1,987.8 270.4,988.6 270.6,989.0 270.8,989.8 270.9,990.2 271.1,991.0 271.2,991.8 271.3,992.4 271.4,993.0 271.4,993.8 271.5,994.6 271.5,995.4 271.4,996.2 271.4,997.0 271.3,997.6 271.2,998.2 271.1,999.0 270.9,999.8 270.8,1000.2 270.6,1001.0 270.4,1001.4 270.1,1002.2 270.0,1002.6 269.7,1003.1 269.4,1003.8 269.1,1004.2 268.9,1004.6 268.5,1005.2 268.1,1005.7 267.7,1006.2 267.3,1006.6 266.9,1007.0 266.5,1007.3 266.1,1007.6 265.7,1007.9 265.1,1008.2 264.5,1008.5 264.1,1008.6 263.3,1008.9 262.5,1009.0 262.1,1009.0 M264.5,960.2 263.7,960.4 262.9,960.4 262.1,960.2 261.7,960.1 261.2,959.8 260.7,959.4 260.2,959.0 259.9,958.6 259.6,958.2 259.3,957.8 258.9,957.0 258.8,956.6 258.5,955.8 258.4,955.4 258.3,954.6 258.3,953.8 258.3,953.0 258.4,952.2 258.5,951.8 258.7,951.0 258.9,950.5 259.2,949.8 259.5,949.4 259.8,949.0 260.1,948.6 260.5,948.2 261.0,947.8 261.7,947.4 262.1,947.3 262.9,947.1 263.7,947.1 264.5,947.2 265.0,947.4 265.7,947.8 266.1,948.1 266.5,948.5 266.9,948.9 267.2,949.4 267.5,949.8 267.7,950.3 268.0,951.0 268.1,951.4 268.3,952.2 268.4,953.0 268.4,953.8 268.4,954.6 268.2,955.4 268.1,956.0 267.9,956.6 267.7,957.1 267.3,957.8 267.1,958.2 266.8,958.6 266.4,959.0 266.0,959.4 265.4,959.8 264.9,960.1 264.5,960.2 M263.7,1007.9 262.9,1008.1 262.1,1008.1 261.3,1008.1 260.5,1007.9 260.0,1007.8 259.3,1007.5 258.9,1007.3 258.4,1007.0 257.8,1006.6 257.3,1006.2 256.9,1005.8 256.5,1005.4 256.2,1005.0 255.9,1004.6 255.6,1004.2 255.3,1003.8 254.9,1003.1 254.7,1002.6 254.5,1002.2 254.1,1001.4 254.0,1001.0 253.7,1000.2 253.6,999.8 253.4,999.0 253.3,998.4 253.2,997.8 253.1,997.0 253.0,996.2 253.0,995.4 253.0,994.6 253.0,993.8 253.1,993.0 253.2,992.2 253.3,991.6 253.4,991.0 253.6,990.2 253.7,989.8 254.0,989.0 254.1,988.6 254.5,987.8 254.6,987.4 254.9,986.9 255.3,986.2 255.6,985.8 255.8,985.4 256.1,985.0 256.5,984.6 256.9,984.1 257.3,983.7 257.7,983.4 258.2,983.0 258.9,982.6 259.3,982.4 259.7,982.2 260.5,981.9 261.3,981.8 261.7,981.8 262.5,981.8 262.9,981.8 263.7,982.0 264.3,982.2 264.9,982.5 265.3,982.7 265.7,983.0 266.3,983.4 266.7,983.8 267.1,984.2 267.5,984.6 267.8,985.0 268.1,985.4 268.5,986.0 268.9,986.6 269.1,987.0 269.3,987.5 269.6,988.2 269.8,988.6 270.0,989.4 270.2,989.8 270.4,990.6 270.5,991.2 270.6,991.8 270.7,992.6 270.8,993.4 270.9,994.2 270.9,995.0 270.9,995.8 270.8,996.6 270.7,997.4 270.6,998.2 270.5,998.8 270.4,999.4 270.2,1000.2 270.0,1000.6 269.8,1001.4 269.6,1001.8 269.3,1002.5 269.0,1003.0 268.8,1003.4 268.5,1003.9 268.1,1004.5 267.8,1005.0 267.4,1005.4 267.0,1005.8 266.6,1006.2 266.2,1006.6 265.7,1006.9 265.3,1007.2 264.9,1007.4 264.1,1007.7 263.7,1007.9 M263.7,959.4 262.9,959.4 262.5,959.4 261.7,959.0 261.3,958.8 260.9,958.5 260.5,958.1 260.1,957.6 259.8,957.0 259.6,956.6 259.3,955.9 259.2,955.4 259.0,954.6 259.0,953.8 259.0,953.0 259.1,952.2 259.3,951.5 259.5,951.0 259.7,950.5 260.1,949.9 260.4,949.4 260.8,949.0 261.3,948.6 261.7,948.4 262.1,948.2 262.9,948.0 263.7,948.0 264.5,948.1 264.9,948.3 265.4,948.6 265.9,949.0 266.3,949.4 266.6,949.8 266.9,950.3 267.2,951.0 267.4,951.4 267.6,952.2 267.7,953.0 267.7,953.4 267.7,954.2 267.7,954.6 267.5,955.4 267.3,956.2 267.1,956.6 266.9,957.0 266.5,957.7 266.1,958.2 265.7,958.5 265.3,958.8 264.9,959.1 264.1,959.4 263.7,959.4 M263.7,1007.0 262.9,1007.2 262.1,1007.3 261.3,1007.2 260.5,1007.1 260.1,1007.0 259.3,1006.6 258.9,1006.4 258.5,1006.2 258.0,1005.8 257.5,1005.4 257.1,1005.0 256.8,1004.6 256.4,1004.2 256.1,1003.7 255.7,1003.1 255.4,1002.6 255.2,1002.2 254.9,1001.6 254.7,1001.0 254.5,1000.5 254.3,999.8 254.1,999.2 254.0,998.6 253.8,997.8 253.7,997.0 253.7,996.6 253.6,995.8 253.6,995.0 253.6,994.2 253.7,993.4 253.7,993.0 253.8,992.2 254.0,991.4 254.1,990.8 254.3,990.2 254.5,989.5 254.7,989.0 254.9,988.4 255.2,987.8 255.4,987.4 255.7,986.9 256.1,986.2 256.4,985.8 256.7,985.4 257.1,985.0 257.5,984.6 257.9,984.2 258.5,983.8 258.9,983.5 259.3,983.3 260.0,983.0 260.5,982.8 261.3,982.7 262.1,982.6 262.9,982.7 263.7,982.9 264.1,983.0 264.9,983.4 265.3,983.6 265.7,983.9 266.1,984.2 266.5,984.6 266.9,985.0 267.3,985.4 267.7,986.0 268.1,986.6 268.4,987.0 268.6,987.4 268.9,988.1 269.1,988.6 269.3,989.0 269.6,989.8 269.7,990.2 269.9,991.0 270.1,991.8 270.1,992.2 270.2,993.0 270.3,993.8 270.3,994.6 270.3,995.4 270.3,996.2 270.2,997.0 270.1,997.8 270.1,998.2 269.9,999.0 269.7,999.7 269.6,1000.2 269.3,1001.0 269.1,1001.4 268.9,1001.9 268.6,1002.6 268.3,1003.0 268.1,1003.4 267.7,1004.0 267.3,1004.5 266.9,1005.0 266.5,1005.4 266.1,1005.7 265.7,1006.0 265.3,1006.3 264.8,1006.6 264.1,1006.9 263.7,1007.0 M264.5,958.2 263.7,958.5 262.9,958.4 262.1,958.2 261.7,958.0 261.3,957.6 260.9,957.2 260.5,956.7 260.3,956.2 260.1,955.8 259.9,955.0 259.7,954.2 259.7,953.4 259.8,952.6 260.0,951.8 260.2,951.4 260.5,950.7 260.9,950.2 261.2,949.8 261.7,949.4 262.1,949.2 262.6,949.0 263.3,948.9 264.1,949.0 264.5,949.1 265.0,949.4 265.5,949.8 265.9,950.2 266.1,950.6 266.5,951.3 266.7,951.8 266.9,952.6 267.0,953.0 267.0,953.8 266.9,954.6 266.9,955.0 266.6,955.8 266.4,956.2 266.1,956.8 265.7,957.3 265.3,957.7 264.9,958.0 264.5,958.2 M263.7,1006.2 262.9,1006.4 262.1,1006.5 261.3,1006.5 260.5,1006.3 260.1,1006.1 259.3,1005.8 258.9,1005.5 258.5,1005.3 258.1,1004.9 257.7,1004.6 257.3,1004.2 256.9,1003.7 256.5,1003.2 256.1,1002.6 255.9,1002.2 255.7,1001.8 255.3,1001.0 255.2,1000.6 254.9,999.8 254.8,999.4 254.6,998.6 254.5,998.2 254.3,997.4 254.2,996.6 254.2,995.8 254.2,995.0 254.2,994.2 254.2,993.4 254.3,992.6 254.5,991.8 254.6,991.4 254.8,990.6 254.9,990.2 255.2,989.4 255.3,989.0 255.7,988.2 255.9,987.8 256.1,987.4 256.5,986.8 256.9,986.3 257.3,985.8 257.7,985.4 258.1,985.0 258.5,984.7 258.9,984.4 259.3,984.2 260.1,983.8 260.5,983.6 261.3,983.5 262.1,983.4 262.9,983.5 263.7,983.7 264.1,983.8 264.8,984.2 265.3,984.5 265.7,984.8 266.1,985.1 266.5,985.5 266.9,986.0 267.3,986.5 267.7,987.0 267.9,987.4 268.1,987.8 268.5,988.6 268.7,989.0 268.9,989.6 269.1,990.2 269.3,990.9 269.4,991.4 269.6,992.2 269.7,993.0 269.7,993.4 269.8,994.2 269.8,995.0 269.8,995.8 269.7,996.6 269.7,997.0 269.6,997.8 269.4,998.6 269.3,999.1 269.1,999.8 268.9,1000.4 268.7,1001.0 268.5,1001.4 268.1,1002.2 267.9,1002.6 267.6,1003.0 267.3,1003.5 266.9,1004.0 266.5,1004.4 266.1,1004.8 265.7,1005.1 265.3,1005.4 264.7,1005.8 264.1,1006.1 263.7,1006.2 M264.5,957.1 263.7,957.4 262.9,957.3 262.1,957.0 261.7,956.7 261.3,956.2 261.0,955.8 260.9,955.4 260.6,954.6 260.5,953.8 260.6,953.0 260.8,952.2 260.9,951.8 261.3,951.1 261.7,950.7 262.1,950.4 262.5,950.1 263.3,950.0 264.1,950.1 264.5,950.3 264.9,950.6 265.3,951.0 265.7,951.6 265.9,952.2 266.1,952.8 266.2,953.4 266.2,954.2 266.1,954.6 265.8,955.4 265.7,955.8 265.3,956.4 264.9,956.8 264.5,957.1 M263.7,1005.5 262.9,1005.7 262.1,1005.7 261.3,1005.7 260.5,1005.5 260.1,1005.3 259.4,1005.0 258.9,1004.7 258.5,1004.4 258.1,1004.0 257.7,1003.6 257.3,1003.2 256.9,1002.6 256.6,1002.2 256.4,1001.8 256.1,1001.2 255.8,1000.6 255.6,1000.2 255.4,999.4 255.3,999.0 255.1,998.2 254.9,997.4 254.9,997.0 254.8,996.2 254.7,995.4 254.7,994.6 254.8,993.8 254.9,993.0 254.9,992.6 255.1,991.8 255.3,991.0 255.4,990.6 255.6,989.8 255.8,989.4 256.1,988.7 256.4,988.2 256.6,987.8 256.9,987.3 257.3,986.8 257.7,986.3 258.1,985.9 258.5,985.6 258.9,985.3 259.3,985.0 260.1,984.6 260.5,984.5 261.3,984.3 262.1,984.2 262.9,984.3 263.7,984.5 264.1,984.6 264.8,985.0 265.3,985.4 265.7,985.7 266.1,986.0 266.5,986.5 266.9,987.0 267.2,987.4 267.5,987.8 267.7,988.2 268.1,989.0 268.3,989.4 268.5,990.0 268.7,990.6 268.9,991.4 269.0,991.8 269.1,992.6 269.2,993.4 269.3,994.2 269.3,994.6 269.3,995.4 269.3,995.8 269.2,996.6 269.1,997.4 269.0,998.2 268.9,998.6 268.7,999.4 268.5,999.9 268.2,1000.6 268.1,1001.0 267.7,1001.7 267.4,1002.2 267.2,1002.6 266.9,1003.0 266.5,1003.5 266.1,1003.9 265.7,1004.3 265.3,1004.6 264.7,1005.0 264.1,1005.3 263.7,1005.5 M263.7,955.9 262.9,955.9 262.5,955.7 262.1,955.3 261.7,954.6 261.6,954.2 261.6,953.4 261.7,952.8 262.0,952.2 262.3,951.8 262.9,951.4 263.3,951.3 263.8,951.4 264.4,951.8 264.7,952.2 264.9,952.6 265.1,953.4 265.1,954.2 264.9,954.8 264.5,955.4 264.1,955.8 263.7,955.9 M263.7,1004.7 262.9,1004.9 262.1,1005.0 261.3,1004.9 260.5,1004.7 260.1,1004.6 259.4,1004.2 258.9,1003.8 258.5,1003.5 258.1,1003.1 257.7,1002.7 257.4,1002.2 257.1,1001.8 256.8,1001.4 256.5,1000.7 256.3,1000.2 256.1,999.8 255.8,999.0 255.7,998.5 255.5,997.8 255.4,997.0 255.3,996.2 255.3,995.8 255.3,995.0 255.3,994.2 255.3,993.8 255.4,993.0 255.5,992.2 255.7,991.5 255.8,991.0 256.1,990.2 256.3,989.8 256.5,989.2 256.8,988.6 257.1,988.2 257.3,987.8 257.7,987.3 258.1,986.9 258.5,986.5 258.9,986.1 259.4,985.8 260.1,985.4 260.5,985.2 261.3,985.0 261.7,985.0 262.5,985.0 262.9,985.0 263.7,985.3 264.1,985.4 264.8,985.8 265.3,986.2 265.7,986.5 266.1,987.0 266.5,987.4 266.8,987.8 267.0,988.2 267.3,988.7 267.7,989.4 267.8,989.8 268.1,990.5 268.3,991.0 268.5,991.8 268.5,992.2 268.7,993.0 268.8,993.8 268.8,994.6 268.8,995.4 268.8,996.2 268.7,997.0 268.5,997.8 268.5,998.2 268.3,999.0 268.1,999.5 267.8,1000.2 267.7,1000.6 267.3,1001.3 267.0,1001.8 266.7,1002.2 266.4,1002.6 266.1,1003.0 265.7,1003.4 265.3,1003.8 264.7,1004.2 264.1,1004.5 263.7,1004.7 M262.5,1004.2 261.7,1004.2 261.3,1004.2 260.5,1003.9 260.1,1003.8 259.5,1003.4 258.9,1003.0 258.5,1002.6 258.1,1002.2 257.8,1001.8 257.5,1001.4 257.3,1001.0 256.9,1000.2 256.7,999.8 256.5,999.3 256.3,998.6 256.1,997.9 256.0,997.4 255.9,996.6 255.8,995.8 255.8,995.0 255.8,994.2 255.9,993.4 256.0,992.6 256.1,992.1 256.3,991.4 256.5,990.7 256.7,990.2 256.9,989.7 257.3,989.0 257.5,988.6 257.8,988.2 258.1,987.8 258.5,987.4 258.9,987.0 259.4,986.6 260.1,986.2 260.5,986.0 261.2,985.8 261.7,985.7 262.5,985.7 262.9,985.8 263.7,986.0 264.1,986.2 264.7,986.6 265.2,987.0 265.7,987.4 266.0,987.8 266.3,988.2 266.6,988.6 266.9,989.1 267.3,989.8 267.4,990.2 267.7,990.9 267.8,991.4 268.0,992.2 268.1,992.6 268.2,993.4 268.3,994.2 268.3,995.0 268.3,995.8 268.2,996.6 268.1,997.4 268.0,997.8 267.8,998.6 267.7,999.0 267.4,999.8 267.2,1000.2 266.9,1000.9 266.6,1001.4 266.3,1001.8 266.0,1002.2 265.6,1002.6 265.2,1003.0 264.7,1003.4 264.1,1003.7 263.7,1003.9 262.9,1004.2 262.5,1004.2 M262.9,1003.4 262.1,1003.5 261.3,1003.4 260.9,1003.3 260.1,1003.0 259.7,1002.7 259.3,1002.4 258.9,1002.1 258.5,1001.7 258.1,1001.1 257.7,1000.6 257.5,1000.2 257.3,999.8 257.0,999.0 256.9,998.6 256.6,997.8 256.5,997.2 256.4,996.6 256.3,995.8 256.3,995.0 256.3,994.2 256.4,993.4 256.5,992.8 256.6,992.2 256.9,991.4 257.0,991.0 257.3,990.2 257.5,989.8 257.7,989.4 258.1,988.8 258.5,988.3 258.9,987.9 259.3,987.5 259.7,987.2 260.1,987.0 260.9,986.6 261.3,986.5 262.1,986.5 262.9,986.5 263.3,986.7 264.1,987.0 264.5,987.3 264.9,987.6 265.3,987.9 265.7,988.4 266.1,988.9 266.4,989.4 266.6,989.8 266.9,990.3 267.2,991.0 267.3,991.4 267.5,992.2 267.7,993.0 267.7,993.4 267.8,994.2 267.8,995.0 267.8,995.8 267.7,996.6 267.7,997.0 267.5,997.8 267.3,998.6 267.2,999.0 266.9,999.6 266.6,1000.2 266.4,1000.6 266.1,1001.1 265.7,1001.6 265.3,1002.0 264.9,1002.4 264.5,1002.7 264.0,1003.0 263.3,1003.3 262.9,1003.4 M262.9,1002.7 262.1,1002.7 261.3,1002.7 260.9,1002.5 260.2,1002.2 259.7,1001.9 259.3,1001.6 258.9,1001.1 258.5,1000.6 258.2,1000.2 258.0,999.8 257.7,999.2 257.4,998.6 257.3,998.2 257.1,997.4 257.0,996.6 256.9,996.2 256.8,995.4 256.8,994.6 256.9,993.8 256.9,993.4 257.1,992.6 257.3,991.8 257.4,991.4 257.7,990.7 258.0,990.2 258.2,989.8 258.5,989.3 258.9,988.8 259.3,988.4 259.7,988.1 260.1,987.8 260.9,987.4 261.3,987.3 262.1,987.2 262.9,987.3 263.3,987.4 264.1,987.8 264.5,988.1 264.9,988.4 265.3,988.8 265.7,989.4 266.0,989.8 266.2,990.2 266.5,990.8 266.7,991.4 266.9,991.9 267.1,992.6 267.2,993.4 267.3,994.1 267.3,994.6 267.3,995.4 267.3,995.9 267.2,996.6 267.1,997.4 266.9,998.1 266.7,998.6 266.5,999.2 266.2,999.8 266.0,1000.2 265.7,1000.6 265.3,1001.1 264.9,1001.5 264.5,1001.9 264.0,1002.2 263.3,1002.5 262.9,1002.7 M262.9,1001.9 262.1,1002.0 261.3,1001.9 260.9,1001.7 260.2,1001.4 259.7,1001.0 259.3,1000.6 259.0,1000.2 258.7,999.8 258.4,999.4 258.1,998.7 257.9,998.2 257.7,997.5 257.6,997.0 257.5,996.2 257.4,995.4 257.4,994.6 257.4,993.8 257.6,993.0 257.7,992.5 257.9,991.8 258.1,991.3 258.4,990.6 258.7,990.2 258.9,989.8 259.3,989.4 259.7,989.0 260.2,988.6 260.9,988.2 261.3,988.1 262.1,988.0 262.9,988.1 263.3,988.2 264.0,988.6 264.5,989.0 264.9,989.4 265.3,989.8 265.5,990.2 265.8,990.6 266.1,991.3 266.3,991.8 266.5,992.5 266.6,993.0 266.7,993.8 266.8,994.6 266.8,995.4 266.7,996.2 266.6,997.0 266.5,997.5 266.3,998.2 266.1,998.7 265.8,999.4 265.5,999.8 265.2,1000.2 264.9,1000.6 264.5,1001.0 264.0,1001.4 263.3,1001.7 262.9,1001.9 M262.9,1001.0 262.1,1001.2 261.3,1001.0 260.9,1000.9 260.4,1000.6 259.9,1000.2 259.5,999.8 259.2,999.4 258.9,998.9 258.6,998.2 258.4,997.8 258.2,997.0 258.1,996.6 258.0,995.8 257.9,995.0 258.0,994.2 258.1,993.4 258.2,993.0 258.4,992.2 258.5,991.8 258.9,991.1 259.2,990.6 259.5,990.2 259.9,989.8 260.4,989.4 260.9,989.1 261.3,988.9 262.1,988.8 262.9,988.9 263.3,989.1 263.9,989.4 264.4,989.8 264.7,990.2 265.0,990.6 265.3,991.0 265.7,991.8 265.8,992.2 266.1,993.0 266.1,993.4 266.2,994.2 266.3,995.0 266.2,995.8 266.1,996.6 266.0,997.0 265.8,997.8 265.7,998.2 265.3,999.0 265.0,999.4 264.7,999.8 264.3,1000.2 263.8,1000.6 263.3,1000.9 262.9,1001.0 M262.5,1000.2 261.7,1000.2 261.3,1000.1 260.7,999.8 260.2,999.4 259.8,999.0 259.5,998.6 259.3,998.2 258.9,997.4 258.8,997.0 258.7,996.2 258.6,995.4 258.6,994.6 258.6,993.8 258.8,993.0 258.9,992.6 259.3,991.8 259.5,991.4 259.8,991.0 260.1,990.6 260.6,990.2 261.3,989.9 261.7,989.7 262.5,989.7 262.9,989.8 263.6,990.2 264.1,990.6 264.5,991.0 264.7,991.4 265.0,991.8 265.3,992.6 265.4,993.0 265.6,993.8 265.7,994.6 265.7,995.4 265.6,996.2 265.4,997.0 265.3,997.4 265.0,998.2 264.7,998.6 264.4,999.0 264.1,999.4 263.6,999.8 262.9,1000.1 262.5,1000.2 M262.9,999.1 262.1,999.3 261.3,999.1 260.9,998.9 260.5,998.5 260.1,998.0 259.7,997.4 259.6,997.0 259.4,996.2 259.3,995.8 259.2,995.0 259.3,994.2 259.4,993.8 259.6,993.0 259.7,992.6 260.1,992.0 260.5,991.5 260.9,991.1 261.3,990.9 262.1,990.7 262.9,990.9 263.3,991.1 263.7,991.4 264.1,991.9 264.5,992.5 264.7,993.0 264.9,993.8 265.0,994.2 265.0,995.0 265.0,995.8 264.9,996.2 264.7,997.0 264.5,997.4 264.1,998.1 263.7,998.6 263.3,998.9 262.9,999.1 M262.9,997.8 262.1,998.0 261.3,997.8 260.9,997.4 260.6,997.0 260.4,996.6 260.2,995.8 260.1,995.4 260.1,994.6 260.2,994.2 260.4,993.4 260.6,993.0 260.9,992.6 261.3,992.2 262.1,992.0 262.9,992.2 263.3,992.5 263.7,993.0 263.9,993.4 264.1,994.1 264.2,994.6 264.2,995.4 264.1,995.9 263.9,996.6 263.7,997.0 263.3,997.5 262.9,997.8" fill="none" stroke="#1c1ce0" stroke-width="0.65"/>
<rect x="184.5" y="883.4" width="134.8" height="133.4" fill="none" stroke="#777" stroke-width="0.8"/>
<line x1="240.5" y1="883.4" x2="240.5" y2="1016.8" stroke="#111" stroke-width="1.3"/>
<line x1="184.5" y1="966.6" x2="319.3" y2="966.6" stroke="#111" stroke-width="1.3"/>
<text x="185.7" y="893.4" font-size="10.5">0.37</text>
<text x="318.2" y="893.4" font-size="10.5" text-anchor="end">6.74</text>
<text x="185.7" y="977.2" font-size="10.5">62.7</text>
<text x="318.2" y="1016.2" font-size="10.5" text-anchor="end">30.2</text>
<line x1="7.4" y1="816.8" x2="7.4" y2="1040" stroke="#231f20" stroke-width="1.2"/>
<line x1="7.4" y1="1040" x2="221.5" y2="1040" stroke="#231f20" stroke-width="1.2"/>
<text x="0" y="0" transform="translate(10.9 767) rotate(-90)" font-size="12.2" text-anchor="middle">Viability (7AAD)</text>
<text x="227.2" y="1044.2" font-size="12.1">Annexin V (APC)</text>
<text x="417.1" y="800.8" font-size="16.5" font-weight="bold" fill="#000">h</text>
<text x="528.6" y="839.7" font-size="12" text-anchor="middle" font-weight="bold" fill="#000">Early Apoptotic</text>
<line x1="464.1" y1="869.6" x2="464.1" y2="1001.8" stroke="#231f20" stroke-width="1.3"/>
<line x1="463.5" y1="1001.2" x2="594.7" y2="1001.2" stroke="#231f20" stroke-width="1.3"/>
<line x1="459.6" y1="1001.2" x2="464.1" y2="1001.2" stroke="#231f20" stroke-width="1.3"/>
<text x="457.9" y="1004.8" font-size="10" text-anchor="end">0</text>
<line x1="459.6" y1="968.5" x2="464.1" y2="968.5" stroke="#231f20" stroke-width="1.3"/>
<text x="457.9" y="972.1" font-size="10" text-anchor="end">10</text>
<line x1="459.6" y1="935.8" x2="464.1" y2="935.8" stroke="#231f20" stroke-width="1.3"/>
<text x="457.9" y="939.4" font-size="10" text-anchor="end">20</text>
<line x1="459.6" y1="903.1" x2="464.1" y2="903.1" stroke="#231f20" stroke-width="1.3"/>
<text x="457.9" y="906.7" font-size="10" text-anchor="end">30</text>
<line x1="459.6" y1="870.4" x2="464.1" y2="870.4" stroke="#231f20" stroke-width="1.3"/>
<text x="457.9" y="874" font-size="10" text-anchor="end">40</text>
<line x1="494.1" y1="1001.2" x2="494.1" y2="1005.2" stroke="#231f20" stroke-width="1.3"/>
<text x="497.9" y="1017.2" font-size="12" text-anchor="middle">DMSO</text>
<line x1="563.7" y1="1001.2" x2="563.7" y2="1005.2" stroke="#231f20" stroke-width="1.3"/>
<text x="570.1" y="1017.2" font-size="12" text-anchor="middle">Venetoclax</text>
<rect x="472.5" y="992.89" width="17.9" height="8.31" fill="#7f7f7f" stroke="#111" stroke-width="1.1"/>
<line x1="481.45" y1="991.42" x2="481.45" y2="994.37" stroke="#111" stroke-width="1"/>
<line x1="477.45" y1="991.42" x2="485.45" y2="991.42" stroke="#111" stroke-width="1"/>
<line x1="477.45" y1="994.37" x2="485.45" y2="994.37" stroke="#111" stroke-width="1"/>
<circle cx="474.15" cy="994.2" r="2" fill="#000"/>
<circle cx="481.65" cy="990.7" r="2" fill="#000"/>
<circle cx="488.45" cy="992.11" r="2" fill="#000"/>
<rect x="498.3" y="992.11" width="17.6" height="9.09" fill="#7f7fff" stroke="#1a1ae6" stroke-width="1.1"/>
<line x1="507.1" y1="990.64" x2="507.1" y2="993.58" stroke="#1a1ae6" stroke-width="1"/>
<line x1="503.1" y1="990.64" x2="511.1" y2="990.64" stroke="#1a1ae6" stroke-width="1"/>
<line x1="503.1" y1="993.58" x2="511.1" y2="993.58" stroke="#1a1ae6" stroke-width="1"/>
<circle cx="499.8" cy="993.52" r="2" fill="#1a1ae6"/>
<circle cx="507.3" cy="991.1" r="2" fill="#1a1ae6"/>
<circle cx="514.1" cy="992.11" r="2" fill="#1a1ae6"/>
<rect x="541.6" y="966.31" width="17.7" height="34.89" fill="#7f7f7f" stroke="#111" stroke-width="1.1"/>
<line x1="550.45" y1="964.84" x2="550.45" y2="967.78" stroke="#111" stroke-width="1"/>
<line x1="546.45" y1="964.84" x2="554.45" y2="964.84" stroke="#111" stroke-width="1"/>
<line x1="546.45" y1="967.78" x2="554.45" y2="967.78" stroke="#111" stroke-width="1"/>
<circle cx="543.15" cy="966.6" r="2" fill="#000"/>
<circle cx="550.65" cy="964.9" r="2" fill="#000"/>
<circle cx="557.45" cy="966.21" r="2" fill="#000"/>
<rect x="568.7" y="895.58" width="17.4" height="105.62" fill="#7f7fff" stroke="#1a1ae6" stroke-width="1.1"/>
<line x1="577.4" y1="880.54" x2="577.4" y2="911.28" stroke="#1a1ae6" stroke-width="1.1"/>
<line x1="573.4" y1="880.54" x2="581.4" y2="880.54" stroke="#1a1ae6" stroke-width="1.1"/>
<line x1="573.4" y1="911.28" x2="581.4" y2="911.28" stroke="#1a1ae6" stroke-width="1.1"/>
<circle cx="577.8" cy="877.92" r="2" fill="#1a1ae6"/>
<circle cx="577.8" cy="902.12" r="2" fill="#1a1ae6"/>
<circle cx="577.8" cy="906.7" r="2" fill="#1a1ae6"/>
<path d="M481.4,982.8 L481.4,862.0 L507.4,862.0 L507.4,982.8" fill="none" stroke="#111" stroke-width="1"/>
<path d="M550.8,956.0 L550.8,862.0 L577.4,862.0 L577.4,868.6" fill="none" stroke="#111" stroke-width="1"/>
<text x="495.8" y="856.8" font-size="10.8" text-anchor="middle">ns</text>
<text x="565.2" y="862" font-size="14" text-anchor="middle">****</text>
<circle cx="600.9" cy="852" r="1.9" fill="#000"/>
<circle cx="600.9" cy="870.7" r="1.9" fill="#0000fa"/>
<text x="614.2" y="856.1" font-size="10.7"><tspan>697</tspan><tspan dy="-3.9" font-size="6.21" font-style="italic">WT</tspan></text>
<text x="614.2" y="874.8" font-size="10.7"><tspan>697</tspan><tspan dy="-3.9" font-size="6.21" font-style="italic">KI</tspan></text>
<text x="0" y="0" transform="translate(440.2 934.3) rotate(-90)" font-size="12" text-anchor="middle"><tspan>Annexin V</tspan><tspan dy="-4.2" font-size="6.6">+ve</tspan><tspan dy="4.2"> 7AAD</tspan><tspan dy="-4.2" font-size="6.6">-ve</tspan><tspan dy="4.2"> (%)</tspan></text>
</svg></body></html>
